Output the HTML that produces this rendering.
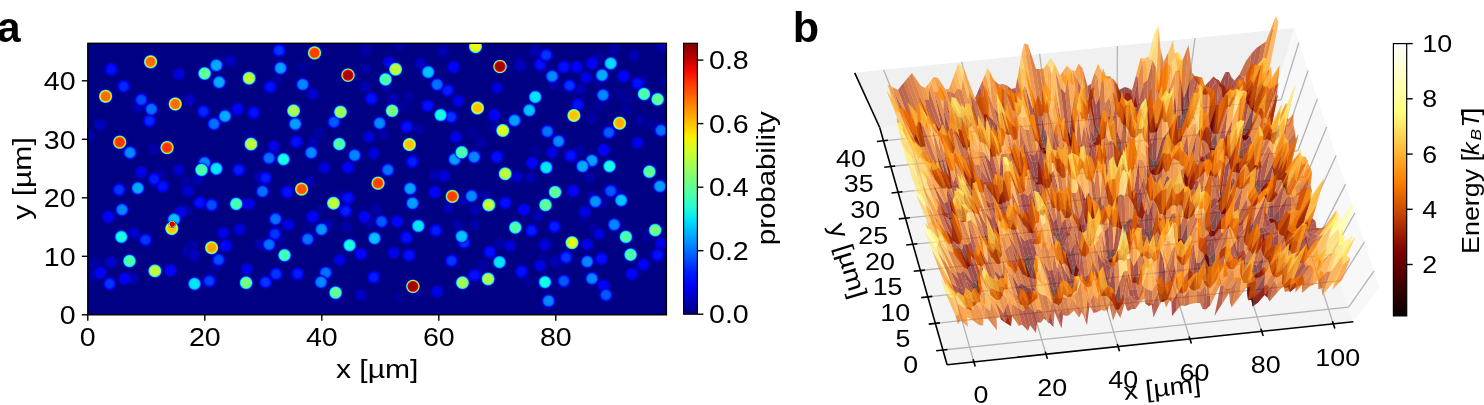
<!DOCTYPE html>
<html><head><meta charset="utf-8"><style>
html,body{margin:0;padding:0;background:#fff;}
svg{display:block;will-change:transform;}
text{font-family:"Liberation Sans",sans-serif;fill:#000;}
</style></head><body>
<svg width="1484" height="405" viewBox="0 0 1484 405">
<defs><radialGradient id="g0"><stop offset="0.000" stop-color="#0000b6" stop-opacity="1.00"/><stop offset="0.067" stop-color="#0000b6" stop-opacity="1.00"/><stop offset="0.133" stop-color="#0000b6" stop-opacity="1.00"/><stop offset="0.200" stop-color="#0000b6" stop-opacity="1.00"/><stop offset="0.267" stop-color="#0000b5" stop-opacity="1.00"/><stop offset="0.333" stop-color="#0000b4" stop-opacity="1.00"/><stop offset="0.400" stop-color="#0000b2" stop-opacity="1.00"/><stop offset="0.467" stop-color="#0000ae" stop-opacity="1.00"/><stop offset="0.533" stop-color="#0000a7" stop-opacity="1.00"/><stop offset="0.600" stop-color="#00009f" stop-opacity="1.00"/><stop offset="0.667" stop-color="#000096" stop-opacity="1.00"/><stop offset="0.733" stop-color="#00008d" stop-opacity="0.77"/><stop offset="0.800" stop-color="#000087" stop-opacity="0.42"/><stop offset="0.867" stop-color="#000083" stop-opacity="0.19"/><stop offset="0.933" stop-color="#000081" stop-opacity="0.08"/><stop offset="1.000" stop-color="#000080" stop-opacity="0.03"/></radialGradient><radialGradient id="g1"><stop offset="0.000" stop-color="#0000a8" stop-opacity="1.00"/><stop offset="0.067" stop-color="#0000a8" stop-opacity="1.00"/><stop offset="0.133" stop-color="#0000a8" stop-opacity="1.00"/><stop offset="0.200" stop-color="#0000a8" stop-opacity="1.00"/><stop offset="0.267" stop-color="#0000a8" stop-opacity="1.00"/><stop offset="0.333" stop-color="#0000a7" stop-opacity="1.00"/><stop offset="0.400" stop-color="#0000a5" stop-opacity="1.00"/><stop offset="0.467" stop-color="#0000a2" stop-opacity="1.00"/><stop offset="0.533" stop-color="#00009d" stop-opacity="1.00"/><stop offset="0.600" stop-color="#000097" stop-opacity="1.00"/><stop offset="0.667" stop-color="#000090" stop-opacity="1.00"/><stop offset="0.733" stop-color="#00008a" stop-opacity="0.76"/><stop offset="0.800" stop-color="#000085" stop-opacity="0.42"/><stop offset="0.867" stop-color="#000082" stop-opacity="0.20"/><stop offset="0.933" stop-color="#000081" stop-opacity="0.08"/><stop offset="1.000" stop-color="#000080" stop-opacity="0.03"/></radialGradient><radialGradient id="g2"><stop offset="0.000" stop-color="#00009b" stop-opacity="1.00"/><stop offset="0.067" stop-color="#00009b" stop-opacity="1.00"/><stop offset="0.133" stop-color="#00009b" stop-opacity="1.00"/><stop offset="0.200" stop-color="#00009b" stop-opacity="1.00"/><stop offset="0.267" stop-color="#00009a" stop-opacity="1.00"/><stop offset="0.333" stop-color="#00009a" stop-opacity="1.00"/><stop offset="0.400" stop-color="#000099" stop-opacity="1.00"/><stop offset="0.467" stop-color="#000096" stop-opacity="1.00"/><stop offset="0.533" stop-color="#000093" stop-opacity="1.00"/><stop offset="0.600" stop-color="#00008f" stop-opacity="1.00"/><stop offset="0.667" stop-color="#00008a" stop-opacity="1.00"/><stop offset="0.733" stop-color="#000086" stop-opacity="0.76"/><stop offset="0.800" stop-color="#000083" stop-opacity="0.42"/><stop offset="0.867" stop-color="#000081" stop-opacity="0.20"/><stop offset="0.933" stop-color="#000080" stop-opacity="0.08"/><stop offset="1.000" stop-color="#000080" stop-opacity="0.03"/></radialGradient><radialGradient id="g3"><stop offset="0.000" stop-color="#0000c3" stop-opacity="1.00"/><stop offset="0.067" stop-color="#0000c3" stop-opacity="1.00"/><stop offset="0.133" stop-color="#0000c3" stop-opacity="1.00"/><stop offset="0.200" stop-color="#0000c3" stop-opacity="1.00"/><stop offset="0.267" stop-color="#0000c3" stop-opacity="1.00"/><stop offset="0.333" stop-color="#0000c2" stop-opacity="1.00"/><stop offset="0.400" stop-color="#0000bf" stop-opacity="1.00"/><stop offset="0.467" stop-color="#0000ba" stop-opacity="1.00"/><stop offset="0.533" stop-color="#0000b2" stop-opacity="1.00"/><stop offset="0.600" stop-color="#0000a7" stop-opacity="1.00"/><stop offset="0.667" stop-color="#00009c" stop-opacity="1.00"/><stop offset="0.733" stop-color="#000091" stop-opacity="0.77"/><stop offset="0.800" stop-color="#000089" stop-opacity="0.41"/><stop offset="0.867" stop-color="#000084" stop-opacity="0.19"/><stop offset="0.933" stop-color="#000081" stop-opacity="0.08"/><stop offset="1.000" stop-color="#000080" stop-opacity="0.03"/></radialGradient><radialGradient id="g4"><stop offset="0.000" stop-color="#0000d1" stop-opacity="1.00"/><stop offset="0.067" stop-color="#0000d1" stop-opacity="1.00"/><stop offset="0.133" stop-color="#0000d1" stop-opacity="1.00"/><stop offset="0.200" stop-color="#0000d1" stop-opacity="1.00"/><stop offset="0.267" stop-color="#0000d0" stop-opacity="1.00"/><stop offset="0.333" stop-color="#0000cf" stop-opacity="1.00"/><stop offset="0.400" stop-color="#0000cc" stop-opacity="1.00"/><stop offset="0.467" stop-color="#0000c6" stop-opacity="1.00"/><stop offset="0.533" stop-color="#0000bd" stop-opacity="1.00"/><stop offset="0.600" stop-color="#0000b0" stop-opacity="1.00"/><stop offset="0.667" stop-color="#0000a2" stop-opacity="1.00"/><stop offset="0.733" stop-color="#000095" stop-opacity="0.78"/><stop offset="0.800" stop-color="#00008b" stop-opacity="0.41"/><stop offset="0.867" stop-color="#000085" stop-opacity="0.19"/><stop offset="0.933" stop-color="#000081" stop-opacity="0.07"/><stop offset="1.000" stop-color="#000080" stop-opacity="0.02"/></radialGradient><radialGradient id="g5"><stop offset="0.000" stop-color="#0000df" stop-opacity="1.00"/><stop offset="0.067" stop-color="#0000df" stop-opacity="1.00"/><stop offset="0.133" stop-color="#0000df" stop-opacity="1.00"/><stop offset="0.200" stop-color="#0000de" stop-opacity="1.00"/><stop offset="0.267" stop-color="#0000de" stop-opacity="1.00"/><stop offset="0.333" stop-color="#0000dd" stop-opacity="1.00"/><stop offset="0.400" stop-color="#0000d9" stop-opacity="1.00"/><stop offset="0.467" stop-color="#0000d3" stop-opacity="1.00"/><stop offset="0.533" stop-color="#0000c8" stop-opacity="1.00"/><stop offset="0.600" stop-color="#0000b9" stop-opacity="1.00"/><stop offset="0.667" stop-color="#0000a8" stop-opacity="1.00"/><stop offset="0.733" stop-color="#000098" stop-opacity="0.78"/><stop offset="0.800" stop-color="#00008d" stop-opacity="0.41"/><stop offset="0.867" stop-color="#000085" stop-opacity="0.18"/><stop offset="0.933" stop-color="#000082" stop-opacity="0.07"/><stop offset="1.000" stop-color="#000080" stop-opacity="0.02"/></radialGradient><radialGradient id="g6"><stop offset="0.000" stop-color="#0000ec" stop-opacity="1.00"/><stop offset="0.067" stop-color="#0000ec" stop-opacity="1.00"/><stop offset="0.133" stop-color="#0000ec" stop-opacity="1.00"/><stop offset="0.200" stop-color="#0000ec" stop-opacity="1.00"/><stop offset="0.267" stop-color="#0000ec" stop-opacity="1.00"/><stop offset="0.333" stop-color="#0000ea" stop-opacity="1.00"/><stop offset="0.400" stop-color="#0000e7" stop-opacity="1.00"/><stop offset="0.467" stop-color="#0000df" stop-opacity="1.00"/><stop offset="0.533" stop-color="#0000d3" stop-opacity="1.00"/><stop offset="0.600" stop-color="#0000c2" stop-opacity="1.00"/><stop offset="0.667" stop-color="#0000ae" stop-opacity="1.00"/><stop offset="0.733" stop-color="#00009c" stop-opacity="0.78"/><stop offset="0.800" stop-color="#00008e" stop-opacity="0.41"/><stop offset="0.867" stop-color="#000086" stop-opacity="0.18"/><stop offset="0.933" stop-color="#000082" stop-opacity="0.07"/><stop offset="1.000" stop-color="#000080" stop-opacity="0.02"/></radialGradient><radialGradient id="g7"><stop offset="0.000" stop-color="#0000ff" stop-opacity="1.00"/><stop offset="0.067" stop-color="#0000ff" stop-opacity="1.00"/><stop offset="0.133" stop-color="#0000ff" stop-opacity="1.00"/><stop offset="0.200" stop-color="#0000ff" stop-opacity="1.00"/><stop offset="0.267" stop-color="#0000ff" stop-opacity="1.00"/><stop offset="0.333" stop-color="#0000ff" stop-opacity="1.00"/><stop offset="0.400" stop-color="#0000ff" stop-opacity="1.00"/><stop offset="0.467" stop-color="#0000f9" stop-opacity="1.00"/><stop offset="0.533" stop-color="#0000ea" stop-opacity="1.00"/><stop offset="0.600" stop-color="#0000d4" stop-opacity="1.00"/><stop offset="0.667" stop-color="#0000bb" stop-opacity="1.00"/><stop offset="0.733" stop-color="#0000a3" stop-opacity="0.79"/><stop offset="0.800" stop-color="#000092" stop-opacity="0.41"/><stop offset="0.867" stop-color="#000087" stop-opacity="0.17"/><stop offset="0.933" stop-color="#000082" stop-opacity="0.06"/><stop offset="1.000" stop-color="#000080" stop-opacity="0.02"/></radialGradient><radialGradient id="g8"><stop offset="0.000" stop-color="#0010ff" stop-opacity="1.00"/><stop offset="0.067" stop-color="#0010ff" stop-opacity="1.00"/><stop offset="0.133" stop-color="#0010ff" stop-opacity="1.00"/><stop offset="0.200" stop-color="#0010ff" stop-opacity="1.00"/><stop offset="0.267" stop-color="#0010ff" stop-opacity="1.00"/><stop offset="0.333" stop-color="#000eff" stop-opacity="1.00"/><stop offset="0.400" stop-color="#000bff" stop-opacity="1.00"/><stop offset="0.467" stop-color="#0003ff" stop-opacity="1.00"/><stop offset="0.533" stop-color="#0000ff" stop-opacity="1.00"/><stop offset="0.600" stop-color="#0000e8" stop-opacity="1.00"/><stop offset="0.667" stop-color="#0000c9" stop-opacity="1.00"/><stop offset="0.733" stop-color="#0000ab" stop-opacity="0.81"/><stop offset="0.800" stop-color="#000095" stop-opacity="0.40"/><stop offset="0.867" stop-color="#000089" stop-opacity="0.17"/><stop offset="0.933" stop-color="#000083" stop-opacity="0.06"/><stop offset="1.000" stop-color="#000080" stop-opacity="0.02"/></radialGradient><radialGradient id="g9"><stop offset="0.000" stop-color="#001cff" stop-opacity="1.00"/><stop offset="0.067" stop-color="#001cff" stop-opacity="1.00"/><stop offset="0.133" stop-color="#001cff" stop-opacity="1.00"/><stop offset="0.200" stop-color="#001cff" stop-opacity="1.00"/><stop offset="0.267" stop-color="#001cff" stop-opacity="1.00"/><stop offset="0.333" stop-color="#001bff" stop-opacity="1.00"/><stop offset="0.400" stop-color="#0017ff" stop-opacity="1.00"/><stop offset="0.467" stop-color="#000fff" stop-opacity="1.00"/><stop offset="0.533" stop-color="#0000ff" stop-opacity="1.00"/><stop offset="0.600" stop-color="#0000f2" stop-opacity="1.00"/><stop offset="0.667" stop-color="#0000d0" stop-opacity="1.00"/><stop offset="0.733" stop-color="#0000af" stop-opacity="0.81"/><stop offset="0.800" stop-color="#000097" stop-opacity="0.40"/><stop offset="0.867" stop-color="#000089" stop-opacity="0.16"/><stop offset="0.933" stop-color="#000083" stop-opacity="0.05"/><stop offset="1.000" stop-color="#000080" stop-opacity="0.01"/></radialGradient><radialGradient id="g10"><stop offset="0.000" stop-color="#0028ff" stop-opacity="1.00"/><stop offset="0.067" stop-color="#0028ff" stop-opacity="1.00"/><stop offset="0.133" stop-color="#0028ff" stop-opacity="1.00"/><stop offset="0.200" stop-color="#0028ff" stop-opacity="1.00"/><stop offset="0.267" stop-color="#0028ff" stop-opacity="1.00"/><stop offset="0.333" stop-color="#0027ff" stop-opacity="1.00"/><stop offset="0.400" stop-color="#0023ff" stop-opacity="1.00"/><stop offset="0.467" stop-color="#001bff" stop-opacity="1.00"/><stop offset="0.533" stop-color="#000aff" stop-opacity="1.00"/><stop offset="0.600" stop-color="#0000fc" stop-opacity="1.00"/><stop offset="0.667" stop-color="#0000d7" stop-opacity="1.00"/><stop offset="0.733" stop-color="#0000b3" stop-opacity="0.82"/><stop offset="0.800" stop-color="#000099" stop-opacity="0.40"/><stop offset="0.867" stop-color="#00008a" stop-opacity="0.16"/><stop offset="0.933" stop-color="#000083" stop-opacity="0.05"/><stop offset="1.000" stop-color="#000080" stop-opacity="0.01"/></radialGradient><radialGradient id="g11"><stop offset="0.000" stop-color="#0034ff" stop-opacity="1.00"/><stop offset="0.067" stop-color="#0034ff" stop-opacity="1.00"/><stop offset="0.133" stop-color="#0034ff" stop-opacity="1.00"/><stop offset="0.200" stop-color="#0034ff" stop-opacity="1.00"/><stop offset="0.267" stop-color="#0034ff" stop-opacity="1.00"/><stop offset="0.333" stop-color="#0033ff" stop-opacity="1.00"/><stop offset="0.400" stop-color="#0030ff" stop-opacity="1.00"/><stop offset="0.467" stop-color="#0027ff" stop-opacity="1.00"/><stop offset="0.533" stop-color="#0015ff" stop-opacity="1.00"/><stop offset="0.600" stop-color="#0000ff" stop-opacity="1.00"/><stop offset="0.667" stop-color="#0000de" stop-opacity="1.00"/><stop offset="0.733" stop-color="#0000b7" stop-opacity="0.82"/><stop offset="0.800" stop-color="#00009b" stop-opacity="0.40"/><stop offset="0.867" stop-color="#00008a" stop-opacity="0.16"/><stop offset="0.933" stop-color="#000083" stop-opacity="0.05"/><stop offset="1.000" stop-color="#000080" stop-opacity="0.01"/></radialGradient><radialGradient id="g12"><stop offset="0.000" stop-color="#0040ff" stop-opacity="1.00"/><stop offset="0.067" stop-color="#0040ff" stop-opacity="1.00"/><stop offset="0.133" stop-color="#0040ff" stop-opacity="1.00"/><stop offset="0.200" stop-color="#0040ff" stop-opacity="1.00"/><stop offset="0.267" stop-color="#0040ff" stop-opacity="1.00"/><stop offset="0.333" stop-color="#003fff" stop-opacity="1.00"/><stop offset="0.400" stop-color="#003cff" stop-opacity="1.00"/><stop offset="0.467" stop-color="#0033ff" stop-opacity="1.00"/><stop offset="0.533" stop-color="#0020ff" stop-opacity="1.00"/><stop offset="0.600" stop-color="#0002ff" stop-opacity="1.00"/><stop offset="0.667" stop-color="#0000e6" stop-opacity="1.00"/><stop offset="0.733" stop-color="#0000bc" stop-opacity="0.83"/><stop offset="0.800" stop-color="#00009c" stop-opacity="0.40"/><stop offset="0.867" stop-color="#00008a" stop-opacity="0.15"/><stop offset="0.933" stop-color="#000083" stop-opacity="0.05"/><stop offset="1.000" stop-color="#000080" stop-opacity="0.01"/></radialGradient><radialGradient id="g13"><stop offset="0.000" stop-color="#004cff" stop-opacity="1.00"/><stop offset="0.067" stop-color="#004cff" stop-opacity="1.00"/><stop offset="0.133" stop-color="#004cff" stop-opacity="1.00"/><stop offset="0.200" stop-color="#004cff" stop-opacity="1.00"/><stop offset="0.267" stop-color="#004cff" stop-opacity="1.00"/><stop offset="0.333" stop-color="#004bff" stop-opacity="1.00"/><stop offset="0.400" stop-color="#0048ff" stop-opacity="1.00"/><stop offset="0.467" stop-color="#003fff" stop-opacity="1.00"/><stop offset="0.533" stop-color="#002cff" stop-opacity="1.00"/><stop offset="0.600" stop-color="#000cff" stop-opacity="1.00"/><stop offset="0.667" stop-color="#0000ee" stop-opacity="1.00"/><stop offset="0.733" stop-color="#0000c0" stop-opacity="0.84"/><stop offset="0.800" stop-color="#00009e" stop-opacity="0.39"/><stop offset="0.867" stop-color="#00008b" stop-opacity="0.15"/><stop offset="0.933" stop-color="#000083" stop-opacity="0.04"/><stop offset="1.000" stop-color="#000080" stop-opacity="0.01"/></radialGradient><radialGradient id="g14"><stop offset="0.000" stop-color="#0058ff" stop-opacity="1.00"/><stop offset="0.067" stop-color="#0058ff" stop-opacity="1.00"/><stop offset="0.133" stop-color="#0058ff" stop-opacity="1.00"/><stop offset="0.200" stop-color="#0058ff" stop-opacity="1.00"/><stop offset="0.267" stop-color="#0058ff" stop-opacity="1.00"/><stop offset="0.333" stop-color="#0057ff" stop-opacity="1.00"/><stop offset="0.400" stop-color="#0054ff" stop-opacity="1.00"/><stop offset="0.467" stop-color="#004cff" stop-opacity="1.00"/><stop offset="0.533" stop-color="#0038ff" stop-opacity="1.00"/><stop offset="0.600" stop-color="#0016ff" stop-opacity="1.00"/><stop offset="0.667" stop-color="#0000f6" stop-opacity="1.00"/><stop offset="0.733" stop-color="#0000c4" stop-opacity="0.84"/><stop offset="0.800" stop-color="#00009f" stop-opacity="0.39"/><stop offset="0.867" stop-color="#00008b" stop-opacity="0.14"/><stop offset="0.933" stop-color="#000083" stop-opacity="0.04"/><stop offset="1.000" stop-color="#000080" stop-opacity="0.01"/></radialGradient><radialGradient id="g15"><stop offset="0.000" stop-color="#0070ff" stop-opacity="1.00"/><stop offset="0.067" stop-color="#0070ff" stop-opacity="1.00"/><stop offset="0.133" stop-color="#0070ff" stop-opacity="1.00"/><stop offset="0.200" stop-color="#0070ff" stop-opacity="1.00"/><stop offset="0.267" stop-color="#0070ff" stop-opacity="1.00"/><stop offset="0.333" stop-color="#006fff" stop-opacity="1.00"/><stop offset="0.400" stop-color="#006dff" stop-opacity="1.00"/><stop offset="0.467" stop-color="#0065ff" stop-opacity="1.00"/><stop offset="0.533" stop-color="#0051ff" stop-opacity="1.00"/><stop offset="0.600" stop-color="#002bff" stop-opacity="1.00"/><stop offset="0.667" stop-color="#0000ff" stop-opacity="1.00"/><stop offset="0.733" stop-color="#0000cd" stop-opacity="0.86"/><stop offset="0.800" stop-color="#0000a3" stop-opacity="0.39"/><stop offset="0.867" stop-color="#00008c" stop-opacity="0.13"/><stop offset="0.933" stop-color="#000083" stop-opacity="0.04"/><stop offset="1.000" stop-color="#000080" stop-opacity="0.01"/></radialGradient><radialGradient id="g16"><stop offset="0.000" stop-color="#0088ff" stop-opacity="1.00"/><stop offset="0.067" stop-color="#0088ff" stop-opacity="1.00"/><stop offset="0.133" stop-color="#0088ff" stop-opacity="1.00"/><stop offset="0.200" stop-color="#0088ff" stop-opacity="1.00"/><stop offset="0.267" stop-color="#0088ff" stop-opacity="1.00"/><stop offset="0.333" stop-color="#0087ff" stop-opacity="1.00"/><stop offset="0.400" stop-color="#0085ff" stop-opacity="1.00"/><stop offset="0.467" stop-color="#007eff" stop-opacity="1.00"/><stop offset="0.533" stop-color="#006aff" stop-opacity="1.00"/><stop offset="0.600" stop-color="#0042ff" stop-opacity="1.00"/><stop offset="0.667" stop-color="#0008ff" stop-opacity="1.00"/><stop offset="0.733" stop-color="#0000d7" stop-opacity="0.87"/><stop offset="0.800" stop-color="#0000a6" stop-opacity="0.38"/><stop offset="0.867" stop-color="#00008c" stop-opacity="0.13"/><stop offset="0.933" stop-color="#000083" stop-opacity="0.03"/><stop offset="1.000" stop-color="#000080" stop-opacity="0.01"/></radialGradient><radialGradient id="g17"><stop offset="0.000" stop-color="#0094ff" stop-opacity="1.00"/><stop offset="0.067" stop-color="#0094ff" stop-opacity="1.00"/><stop offset="0.133" stop-color="#0094ff" stop-opacity="1.00"/><stop offset="0.200" stop-color="#0094ff" stop-opacity="1.00"/><stop offset="0.267" stop-color="#0093ff" stop-opacity="1.00"/><stop offset="0.333" stop-color="#0093ff" stop-opacity="1.00"/><stop offset="0.400" stop-color="#0092ff" stop-opacity="1.00"/><stop offset="0.467" stop-color="#008bff" stop-opacity="1.00"/><stop offset="0.533" stop-color="#0077ff" stop-opacity="1.00"/><stop offset="0.600" stop-color="#004eff" stop-opacity="1.00"/><stop offset="0.667" stop-color="#0011ff" stop-opacity="1.00"/><stop offset="0.733" stop-color="#0000db" stop-opacity="0.88"/><stop offset="0.800" stop-color="#0000a7" stop-opacity="0.38"/><stop offset="0.867" stop-color="#00008c" stop-opacity="0.12"/><stop offset="0.933" stop-color="#000082" stop-opacity="0.03"/><stop offset="1.000" stop-color="#000080" stop-opacity="0.00"/></radialGradient><radialGradient id="g18"><stop offset="0.000" stop-color="#009fff" stop-opacity="1.00"/><stop offset="0.067" stop-color="#009fff" stop-opacity="1.00"/><stop offset="0.133" stop-color="#009fff" stop-opacity="1.00"/><stop offset="0.200" stop-color="#009fff" stop-opacity="1.00"/><stop offset="0.267" stop-color="#009fff" stop-opacity="1.00"/><stop offset="0.333" stop-color="#009fff" stop-opacity="1.00"/><stop offset="0.400" stop-color="#009eff" stop-opacity="1.00"/><stop offset="0.467" stop-color="#0098ff" stop-opacity="1.00"/><stop offset="0.533" stop-color="#0084ff" stop-opacity="1.00"/><stop offset="0.600" stop-color="#005aff" stop-opacity="1.00"/><stop offset="0.667" stop-color="#0019ff" stop-opacity="1.00"/><stop offset="0.733" stop-color="#0000e0" stop-opacity="0.89"/><stop offset="0.800" stop-color="#0000a8" stop-opacity="0.38"/><stop offset="0.867" stop-color="#00008c" stop-opacity="0.12"/><stop offset="0.933" stop-color="#000082" stop-opacity="0.03"/><stop offset="1.000" stop-color="#000080" stop-opacity="0.00"/></radialGradient><radialGradient id="g19"><stop offset="0.000" stop-color="#00abff" stop-opacity="1.00"/><stop offset="0.067" stop-color="#00abff" stop-opacity="1.00"/><stop offset="0.133" stop-color="#00abff" stop-opacity="1.00"/><stop offset="0.200" stop-color="#00abff" stop-opacity="1.00"/><stop offset="0.267" stop-color="#00abff" stop-opacity="1.00"/><stop offset="0.333" stop-color="#00abff" stop-opacity="1.00"/><stop offset="0.400" stop-color="#00aaff" stop-opacity="1.00"/><stop offset="0.467" stop-color="#00a4ff" stop-opacity="1.00"/><stop offset="0.533" stop-color="#0092ff" stop-opacity="1.00"/><stop offset="0.600" stop-color="#0066ff" stop-opacity="1.00"/><stop offset="0.667" stop-color="#0022ff" stop-opacity="1.00"/><stop offset="0.733" stop-color="#0000e5" stop-opacity="0.90"/><stop offset="0.800" stop-color="#0000aa" stop-opacity="0.37"/><stop offset="0.867" stop-color="#00008c" stop-opacity="0.11"/><stop offset="0.933" stop-color="#000082" stop-opacity="0.02"/><stop offset="1.000" stop-color="#000080" stop-opacity="0.00"/></radialGradient><radialGradient id="g20"><stop offset="0.000" stop-color="#00c3ff" stop-opacity="1.00"/><stop offset="0.067" stop-color="#00c3ff" stop-opacity="1.00"/><stop offset="0.133" stop-color="#00c3ff" stop-opacity="1.00"/><stop offset="0.200" stop-color="#00c3ff" stop-opacity="1.00"/><stop offset="0.267" stop-color="#00c3ff" stop-opacity="1.00"/><stop offset="0.333" stop-color="#00c3ff" stop-opacity="1.00"/><stop offset="0.400" stop-color="#00c2ff" stop-opacity="1.00"/><stop offset="0.467" stop-color="#00beff" stop-opacity="1.00"/><stop offset="0.533" stop-color="#00acff" stop-opacity="1.00"/><stop offset="0.600" stop-color="#0080ff" stop-opacity="1.00"/><stop offset="0.667" stop-color="#0036ff" stop-opacity="1.00"/><stop offset="0.733" stop-color="#0000f0" stop-opacity="0.92"/><stop offset="0.800" stop-color="#0000ac" stop-opacity="0.37"/><stop offset="0.867" stop-color="#00008c" stop-opacity="0.10"/><stop offset="0.933" stop-color="#000082" stop-opacity="0.02"/><stop offset="1.000" stop-color="#000080" stop-opacity="0.00"/></radialGradient><radialGradient id="g21"><stop offset="0.000" stop-color="#00dbff" stop-opacity="1.00"/><stop offset="0.067" stop-color="#00dbff" stop-opacity="1.00"/><stop offset="0.133" stop-color="#00dbff" stop-opacity="1.00"/><stop offset="0.200" stop-color="#00dbff" stop-opacity="1.00"/><stop offset="0.267" stop-color="#00dbff" stop-opacity="1.00"/><stop offset="0.333" stop-color="#00dbff" stop-opacity="1.00"/><stop offset="0.400" stop-color="#00dbff" stop-opacity="1.00"/><stop offset="0.467" stop-color="#00d7ff" stop-opacity="1.00"/><stop offset="0.533" stop-color="#00c8ff" stop-opacity="1.00"/><stop offset="0.600" stop-color="#009bff" stop-opacity="1.00"/><stop offset="0.667" stop-color="#004aff" stop-opacity="1.00"/><stop offset="0.733" stop-color="#0000fb" stop-opacity="0.94"/><stop offset="0.800" stop-color="#0000af" stop-opacity="0.36"/><stop offset="0.867" stop-color="#00008c" stop-opacity="0.09"/><stop offset="0.933" stop-color="#000082" stop-opacity="0.02"/><stop offset="1.000" stop-color="#000080" stop-opacity="0.00"/></radialGradient><radialGradient id="g22"><stop offset="0.000" stop-color="#01e7f5" stop-opacity="1.00"/><stop offset="0.067" stop-color="#01e7f5" stop-opacity="1.00"/><stop offset="0.133" stop-color="#01e7f5" stop-opacity="1.00"/><stop offset="0.200" stop-color="#01e7f5" stop-opacity="1.00"/><stop offset="0.267" stop-color="#01e7f5" stop-opacity="1.00"/><stop offset="0.333" stop-color="#01e7f5" stop-opacity="1.00"/><stop offset="0.400" stop-color="#01e7f6" stop-opacity="1.00"/><stop offset="0.467" stop-color="#00e4f8" stop-opacity="1.00"/><stop offset="0.533" stop-color="#00d5ff" stop-opacity="1.00"/><stop offset="0.600" stop-color="#00a9ff" stop-opacity="1.00"/><stop offset="0.667" stop-color="#0055ff" stop-opacity="1.00"/><stop offset="0.733" stop-color="#0000ff" stop-opacity="0.96"/><stop offset="0.800" stop-color="#0000b0" stop-opacity="0.36"/><stop offset="0.867" stop-color="#00008c" stop-opacity="0.09"/><stop offset="0.933" stop-color="#000081" stop-opacity="0.01"/><stop offset="1.000" stop-color="#000080" stop-opacity="0.00"/></radialGradient><radialGradient id="g23"><stop offset="0.000" stop-color="#15ffe2" stop-opacity="1.00"/><stop offset="0.067" stop-color="#15ffe2" stop-opacity="1.00"/><stop offset="0.133" stop-color="#15ffe2" stop-opacity="1.00"/><stop offset="0.200" stop-color="#15ffe2" stop-opacity="1.00"/><stop offset="0.267" stop-color="#15ffe2" stop-opacity="1.00"/><stop offset="0.333" stop-color="#15ffe2" stop-opacity="1.00"/><stop offset="0.400" stop-color="#14ffe2" stop-opacity="1.00"/><stop offset="0.467" stop-color="#12fce5" stop-opacity="1.00"/><stop offset="0.533" stop-color="#05ecf1" stop-opacity="1.00"/><stop offset="0.600" stop-color="#00bdff" stop-opacity="1.00"/><stop offset="0.667" stop-color="#0063ff" stop-opacity="1.00"/><stop offset="0.733" stop-color="#0000ff" stop-opacity="0.96"/><stop offset="0.800" stop-color="#0000b3" stop-opacity="0.36"/><stop offset="0.867" stop-color="#00008c" stop-opacity="0.09"/><stop offset="0.933" stop-color="#000082" stop-opacity="0.01"/><stop offset="1.000" stop-color="#000080" stop-opacity="0.00"/></radialGradient><radialGradient id="g24"><stop offset="0.000" stop-color="#45ffb2" stop-opacity="1.00"/><stop offset="0.067" stop-color="#45ffb2" stop-opacity="1.00"/><stop offset="0.133" stop-color="#45ffb2" stop-opacity="1.00"/><stop offset="0.200" stop-color="#45ffb2" stop-opacity="1.00"/><stop offset="0.267" stop-color="#45ffb2" stop-opacity="1.00"/><stop offset="0.333" stop-color="#45ffb2" stop-opacity="1.00"/><stop offset="0.400" stop-color="#45ffb2" stop-opacity="1.00"/><stop offset="0.467" stop-color="#42ffb5" stop-opacity="1.00"/><stop offset="0.533" stop-color="#33ffc4" stop-opacity="1.00"/><stop offset="0.600" stop-color="#07eef0" stop-opacity="1.00"/><stop offset="0.667" stop-color="#0087ff" stop-opacity="1.00"/><stop offset="0.733" stop-color="#000dff" stop-opacity="0.96"/><stop offset="0.800" stop-color="#0000bb" stop-opacity="0.36"/><stop offset="0.867" stop-color="#00008e" stop-opacity="0.09"/><stop offset="0.933" stop-color="#000082" stop-opacity="0.01"/><stop offset="1.000" stop-color="#000080" stop-opacity="0.00"/></radialGradient><radialGradient id="g25"><stop offset="0.000" stop-color="#4fffa8" stop-opacity="1.00"/><stop offset="0.067" stop-color="#4fffa8" stop-opacity="1.00"/><stop offset="0.133" stop-color="#4fffa8" stop-opacity="1.00"/><stop offset="0.200" stop-color="#4fffa8" stop-opacity="1.00"/><stop offset="0.267" stop-color="#4fffa8" stop-opacity="1.00"/><stop offset="0.333" stop-color="#4fffa8" stop-opacity="1.00"/><stop offset="0.400" stop-color="#4effa9" stop-opacity="1.00"/><stop offset="0.467" stop-color="#4bffac" stop-opacity="1.00"/><stop offset="0.533" stop-color="#3cffba" stop-opacity="1.00"/><stop offset="0.600" stop-color="#0ff8e8" stop-opacity="1.00"/><stop offset="0.667" stop-color="#008eff" stop-opacity="1.00"/><stop offset="0.733" stop-color="#0011ff" stop-opacity="0.96"/><stop offset="0.800" stop-color="#0000bd" stop-opacity="0.36"/><stop offset="0.867" stop-color="#00008f" stop-opacity="0.09"/><stop offset="0.933" stop-color="#000082" stop-opacity="0.01"/><stop offset="1.000" stop-color="#000080" stop-opacity="0.00"/></radialGradient><radialGradient id="g26"><stop offset="0.000" stop-color="#62ff95" stop-opacity="1.00"/><stop offset="0.067" stop-color="#62ff95" stop-opacity="1.00"/><stop offset="0.133" stop-color="#62ff95" stop-opacity="1.00"/><stop offset="0.200" stop-color="#62ff95" stop-opacity="1.00"/><stop offset="0.267" stop-color="#62ff95" stop-opacity="1.00"/><stop offset="0.333" stop-color="#62ff95" stop-opacity="1.00"/><stop offset="0.400" stop-color="#61ff95" stop-opacity="1.00"/><stop offset="0.467" stop-color="#5eff98" stop-opacity="1.00"/><stop offset="0.533" stop-color="#4fffa8" stop-opacity="1.00"/><stop offset="0.600" stop-color="#1fffd8" stop-opacity="1.00"/><stop offset="0.667" stop-color="#009cff" stop-opacity="1.00"/><stop offset="0.733" stop-color="#0019ff" stop-opacity="0.96"/><stop offset="0.800" stop-color="#0000c0" stop-opacity="0.36"/><stop offset="0.867" stop-color="#000090" stop-opacity="0.09"/><stop offset="0.933" stop-color="#000082" stop-opacity="0.01"/><stop offset="1.000" stop-color="#000080" stop-opacity="0.00"/></radialGradient><radialGradient id="g27"><stop offset="0.000" stop-color="#75ff82" stop-opacity="1.00"/><stop offset="0.067" stop-color="#75ff82" stop-opacity="1.00"/><stop offset="0.133" stop-color="#75ff82" stop-opacity="1.00"/><stop offset="0.200" stop-color="#75ff82" stop-opacity="1.00"/><stop offset="0.267" stop-color="#75ff82" stop-opacity="1.00"/><stop offset="0.333" stop-color="#75ff82" stop-opacity="1.00"/><stop offset="0.400" stop-color="#75ff82" stop-opacity="1.00"/><stop offset="0.467" stop-color="#71ff85" stop-opacity="1.00"/><stop offset="0.533" stop-color="#61ff96" stop-opacity="1.00"/><stop offset="0.600" stop-color="#2fffc8" stop-opacity="1.00"/><stop offset="0.667" stop-color="#00aaff" stop-opacity="1.00"/><stop offset="0.733" stop-color="#0021ff" stop-opacity="0.96"/><stop offset="0.800" stop-color="#0000c4" stop-opacity="0.36"/><stop offset="0.867" stop-color="#000090" stop-opacity="0.09"/><stop offset="0.933" stop-color="#000082" stop-opacity="0.01"/><stop offset="1.000" stop-color="#000080" stop-opacity="0.00"/></radialGradient><radialGradient id="g28"><stop offset="0.000" stop-color="#7fff78" stop-opacity="1.00"/><stop offset="0.067" stop-color="#7fff78" stop-opacity="1.00"/><stop offset="0.133" stop-color="#7fff78" stop-opacity="1.00"/><stop offset="0.200" stop-color="#7fff78" stop-opacity="1.00"/><stop offset="0.267" stop-color="#7fff78" stop-opacity="1.00"/><stop offset="0.333" stop-color="#7fff78" stop-opacity="1.00"/><stop offset="0.400" stop-color="#7eff78" stop-opacity="1.00"/><stop offset="0.467" stop-color="#7bff7c" stop-opacity="1.00"/><stop offset="0.533" stop-color="#6aff8d" stop-opacity="1.00"/><stop offset="0.600" stop-color="#37ffc0" stop-opacity="1.00"/><stop offset="0.667" stop-color="#00b1ff" stop-opacity="1.00"/><stop offset="0.733" stop-color="#0024ff" stop-opacity="0.96"/><stop offset="0.800" stop-color="#0000c5" stop-opacity="0.36"/><stop offset="0.867" stop-color="#000091" stop-opacity="0.09"/><stop offset="0.933" stop-color="#000082" stop-opacity="0.01"/><stop offset="1.000" stop-color="#000080" stop-opacity="0.00"/></radialGradient><radialGradient id="g29"><stop offset="0.000" stop-color="#a5ff51" stop-opacity="1.00"/><stop offset="0.067" stop-color="#a5ff51" stop-opacity="1.00"/><stop offset="0.133" stop-color="#a5ff51" stop-opacity="1.00"/><stop offset="0.200" stop-color="#a5ff51" stop-opacity="1.00"/><stop offset="0.267" stop-color="#a5ff51" stop-opacity="1.00"/><stop offset="0.333" stop-color="#a5ff51" stop-opacity="1.00"/><stop offset="0.400" stop-color="#a5ff52" stop-opacity="1.00"/><stop offset="0.467" stop-color="#a1ff56" stop-opacity="1.00"/><stop offset="0.533" stop-color="#8fff68" stop-opacity="1.00"/><stop offset="0.600" stop-color="#57ffa0" stop-opacity="1.00"/><stop offset="0.667" stop-color="#00ceff" stop-opacity="1.00"/><stop offset="0.733" stop-color="#0034ff" stop-opacity="0.96"/><stop offset="0.800" stop-color="#0000cc" stop-opacity="0.36"/><stop offset="0.867" stop-color="#000092" stop-opacity="0.09"/><stop offset="0.933" stop-color="#000083" stop-opacity="0.01"/><stop offset="1.000" stop-color="#000080" stop-opacity="0.00"/></radialGradient><radialGradient id="g30"><stop offset="0.000" stop-color="#afff48" stop-opacity="1.00"/><stop offset="0.067" stop-color="#afff48" stop-opacity="1.00"/><stop offset="0.133" stop-color="#afff48" stop-opacity="1.00"/><stop offset="0.200" stop-color="#afff48" stop-opacity="1.00"/><stop offset="0.267" stop-color="#afff48" stop-opacity="1.00"/><stop offset="0.333" stop-color="#afff48" stop-opacity="1.00"/><stop offset="0.400" stop-color="#aeff48" stop-opacity="1.00"/><stop offset="0.467" stop-color="#abff4c" stop-opacity="1.00"/><stop offset="0.533" stop-color="#98ff5f" stop-opacity="1.00"/><stop offset="0.600" stop-color="#5fff98" stop-opacity="1.00"/><stop offset="0.667" stop-color="#00d5ff" stop-opacity="1.00"/><stop offset="0.733" stop-color="#0037ff" stop-opacity="0.96"/><stop offset="0.800" stop-color="#0000cd" stop-opacity="0.36"/><stop offset="0.867" stop-color="#000093" stop-opacity="0.09"/><stop offset="0.933" stop-color="#000083" stop-opacity="0.01"/><stop offset="1.000" stop-color="#000080" stop-opacity="0.00"/></radialGradient><radialGradient id="g31"><stop offset="0.000" stop-color="#c2ff35" stop-opacity="1.00"/><stop offset="0.067" stop-color="#c2ff35" stop-opacity="1.00"/><stop offset="0.133" stop-color="#c2ff35" stop-opacity="1.00"/><stop offset="0.200" stop-color="#c2ff35" stop-opacity="1.00"/><stop offset="0.267" stop-color="#c2ff35" stop-opacity="1.00"/><stop offset="0.333" stop-color="#c2ff35" stop-opacity="1.00"/><stop offset="0.400" stop-color="#c2ff35" stop-opacity="1.00"/><stop offset="0.467" stop-color="#beff39" stop-opacity="1.00"/><stop offset="0.533" stop-color="#aaff4c" stop-opacity="1.00"/><stop offset="0.600" stop-color="#6fff88" stop-opacity="1.00"/><stop offset="0.667" stop-color="#00e3f9" stop-opacity="1.00"/><stop offset="0.733" stop-color="#003fff" stop-opacity="0.96"/><stop offset="0.800" stop-color="#0000d1" stop-opacity="0.36"/><stop offset="0.867" stop-color="#000094" stop-opacity="0.09"/><stop offset="0.933" stop-color="#000083" stop-opacity="0.01"/><stop offset="1.000" stop-color="#000080" stop-opacity="0.00"/></radialGradient><radialGradient id="g32"><stop offset="0.000" stop-color="#dfff18" stop-opacity="1.00"/><stop offset="0.067" stop-color="#dfff18" stop-opacity="1.00"/><stop offset="0.133" stop-color="#dfff18" stop-opacity="1.00"/><stop offset="0.200" stop-color="#dfff18" stop-opacity="1.00"/><stop offset="0.267" stop-color="#dfff18" stop-opacity="1.00"/><stop offset="0.333" stop-color="#dfff18" stop-opacity="1.00"/><stop offset="0.400" stop-color="#dfff18" stop-opacity="1.00"/><stop offset="0.467" stop-color="#daff1c" stop-opacity="1.00"/><stop offset="0.533" stop-color="#c6ff31" stop-opacity="1.00"/><stop offset="0.600" stop-color="#87ff70" stop-opacity="1.00"/><stop offset="0.667" stop-color="#0ff8e8" stop-opacity="1.00"/><stop offset="0.733" stop-color="#004aff" stop-opacity="0.96"/><stop offset="0.800" stop-color="#0000d5" stop-opacity="0.36"/><stop offset="0.867" stop-color="#000095" stop-opacity="0.09"/><stop offset="0.933" stop-color="#000083" stop-opacity="0.01"/><stop offset="1.000" stop-color="#000080" stop-opacity="0.00"/></radialGradient><radialGradient id="g33"><stop offset="0.000" stop-color="#f2fa04" stop-opacity="1.00"/><stop offset="0.067" stop-color="#f2fa04" stop-opacity="1.00"/><stop offset="0.133" stop-color="#f2fa04" stop-opacity="1.00"/><stop offset="0.200" stop-color="#f2fa04" stop-opacity="1.00"/><stop offset="0.267" stop-color="#f2fa04" stop-opacity="1.00"/><stop offset="0.333" stop-color="#f2fb04" stop-opacity="1.00"/><stop offset="0.400" stop-color="#f2fb05" stop-opacity="1.00"/><stop offset="0.467" stop-color="#eeff09" stop-opacity="1.00"/><stop offset="0.533" stop-color="#d8ff1f" stop-opacity="1.00"/><stop offset="0.600" stop-color="#97ff60" stop-opacity="1.00"/><stop offset="0.667" stop-color="#1bffdc" stop-opacity="1.00"/><stop offset="0.733" stop-color="#0052ff" stop-opacity="0.96"/><stop offset="0.800" stop-color="#0000d9" stop-opacity="0.36"/><stop offset="0.867" stop-color="#000096" stop-opacity="0.09"/><stop offset="0.933" stop-color="#000083" stop-opacity="0.01"/><stop offset="1.000" stop-color="#000080" stop-opacity="0.00"/></radialGradient><radialGradient id="g34"><stop offset="0.000" stop-color="#ffc300" stop-opacity="1.00"/><stop offset="0.067" stop-color="#ffc300" stop-opacity="1.00"/><stop offset="0.133" stop-color="#ffc300" stop-opacity="1.00"/><stop offset="0.200" stop-color="#ffc300" stop-opacity="1.00"/><stop offset="0.267" stop-color="#ffc300" stop-opacity="1.00"/><stop offset="0.333" stop-color="#ffc300" stop-opacity="1.00"/><stop offset="0.400" stop-color="#ffc400" stop-opacity="1.00"/><stop offset="0.467" stop-color="#ffc900" stop-opacity="1.00"/><stop offset="0.533" stop-color="#ffe400" stop-opacity="1.00"/><stop offset="0.600" stop-color="#bfff38" stop-opacity="1.00"/><stop offset="0.667" stop-color="#37ffbf" stop-opacity="1.00"/><stop offset="0.733" stop-color="#0065ff" stop-opacity="0.96"/><stop offset="0.800" stop-color="#0000e1" stop-opacity="0.36"/><stop offset="0.867" stop-color="#000098" stop-opacity="0.09"/><stop offset="0.933" stop-color="#000083" stop-opacity="0.01"/><stop offset="1.000" stop-color="#000080" stop-opacity="0.00"/></radialGradient><radialGradient id="g35"><stop offset="0.000" stop-color="#ffad00" stop-opacity="1.00"/><stop offset="0.067" stop-color="#ffad00" stop-opacity="1.00"/><stop offset="0.133" stop-color="#ffad00" stop-opacity="1.00"/><stop offset="0.200" stop-color="#ffad00" stop-opacity="1.00"/><stop offset="0.267" stop-color="#ffad00" stop-opacity="1.00"/><stop offset="0.333" stop-color="#ffad00" stop-opacity="1.00"/><stop offset="0.400" stop-color="#ffae00" stop-opacity="1.00"/><stop offset="0.467" stop-color="#ffb300" stop-opacity="1.00"/><stop offset="0.533" stop-color="#ffcf00" stop-opacity="1.00"/><stop offset="0.600" stop-color="#cfff28" stop-opacity="1.00"/><stop offset="0.667" stop-color="#43ffb4" stop-opacity="1.00"/><stop offset="0.733" stop-color="#006dff" stop-opacity="0.96"/><stop offset="0.800" stop-color="#0000e4" stop-opacity="0.36"/><stop offset="0.867" stop-color="#000098" stop-opacity="0.09"/><stop offset="0.933" stop-color="#000084" stop-opacity="0.01"/><stop offset="1.000" stop-color="#000080" stop-opacity="0.00"/></radialGradient><radialGradient id="g36"><stop offset="0.000" stop-color="#ffa200" stop-opacity="1.00"/><stop offset="0.067" stop-color="#ffa200" stop-opacity="1.00"/><stop offset="0.133" stop-color="#ffa200" stop-opacity="1.00"/><stop offset="0.200" stop-color="#ffa200" stop-opacity="1.00"/><stop offset="0.267" stop-color="#ffa200" stop-opacity="1.00"/><stop offset="0.333" stop-color="#ffa200" stop-opacity="1.00"/><stop offset="0.400" stop-color="#ffa300" stop-opacity="1.00"/><stop offset="0.467" stop-color="#ffa800" stop-opacity="1.00"/><stop offset="0.533" stop-color="#ffc400" stop-opacity="1.00"/><stop offset="0.600" stop-color="#d7ff20" stop-opacity="1.00"/><stop offset="0.667" stop-color="#48ffae" stop-opacity="1.00"/><stop offset="0.733" stop-color="#0071ff" stop-opacity="0.96"/><stop offset="0.800" stop-color="#0000e6" stop-opacity="0.36"/><stop offset="0.867" stop-color="#000099" stop-opacity="0.09"/><stop offset="0.933" stop-color="#000084" stop-opacity="0.01"/><stop offset="1.000" stop-color="#000080" stop-opacity="0.00"/></radialGradient><radialGradient id="g37"><stop offset="0.000" stop-color="#ff6b00" stop-opacity="1.00"/><stop offset="0.067" stop-color="#ff6b00" stop-opacity="1.00"/><stop offset="0.133" stop-color="#ff6b00" stop-opacity="1.00"/><stop offset="0.200" stop-color="#ff6b00" stop-opacity="1.00"/><stop offset="0.267" stop-color="#ff6b00" stop-opacity="1.00"/><stop offset="0.333" stop-color="#ff6b00" stop-opacity="1.00"/><stop offset="0.400" stop-color="#ff6b00" stop-opacity="1.00"/><stop offset="0.467" stop-color="#ff7100" stop-opacity="1.00"/><stop offset="0.533" stop-color="#ff9000" stop-opacity="1.00"/><stop offset="0.600" stop-color="#feed00" stop-opacity="1.00"/><stop offset="0.667" stop-color="#65ff92" stop-opacity="1.00"/><stop offset="0.733" stop-color="#0084ff" stop-opacity="0.96"/><stop offset="0.800" stop-color="#0000ee" stop-opacity="0.36"/><stop offset="0.867" stop-color="#00009b" stop-opacity="0.09"/><stop offset="0.933" stop-color="#000084" stop-opacity="0.01"/><stop offset="1.000" stop-color="#000080" stop-opacity="0.00"/></radialGradient><radialGradient id="g38"><stop offset="0.000" stop-color="#ff5400" stop-opacity="1.00"/><stop offset="0.067" stop-color="#ff5400" stop-opacity="1.00"/><stop offset="0.133" stop-color="#ff5400" stop-opacity="1.00"/><stop offset="0.200" stop-color="#ff5400" stop-opacity="1.00"/><stop offset="0.267" stop-color="#ff5400" stop-opacity="1.00"/><stop offset="0.333" stop-color="#ff5400" stop-opacity="1.00"/><stop offset="0.400" stop-color="#ff5500" stop-opacity="1.00"/><stop offset="0.467" stop-color="#ff5c00" stop-opacity="1.00"/><stop offset="0.533" stop-color="#ff7b00" stop-opacity="1.00"/><stop offset="0.600" stop-color="#ffda00" stop-opacity="1.00"/><stop offset="0.667" stop-color="#71ff86" stop-opacity="1.00"/><stop offset="0.733" stop-color="#008bff" stop-opacity="0.96"/><stop offset="0.800" stop-color="#0000f1" stop-opacity="0.36"/><stop offset="0.867" stop-color="#00009c" stop-opacity="0.09"/><stop offset="0.933" stop-color="#000084" stop-opacity="0.01"/><stop offset="1.000" stop-color="#000080" stop-opacity="0.00"/></radialGradient><radialGradient id="g39"><stop offset="0.000" stop-color="#ff3e00" stop-opacity="1.00"/><stop offset="0.067" stop-color="#ff3e00" stop-opacity="1.00"/><stop offset="0.133" stop-color="#ff3e00" stop-opacity="1.00"/><stop offset="0.200" stop-color="#ff3e00" stop-opacity="1.00"/><stop offset="0.267" stop-color="#ff3e00" stop-opacity="1.00"/><stop offset="0.333" stop-color="#ff3e00" stop-opacity="1.00"/><stop offset="0.400" stop-color="#ff3f00" stop-opacity="1.00"/><stop offset="0.467" stop-color="#ff4600" stop-opacity="1.00"/><stop offset="0.533" stop-color="#ff6600" stop-opacity="1.00"/><stop offset="0.600" stop-color="#ffc800" stop-opacity="1.00"/><stop offset="0.667" stop-color="#7cff7b" stop-opacity="1.00"/><stop offset="0.733" stop-color="#0093ff" stop-opacity="0.96"/><stop offset="0.800" stop-color="#0000f4" stop-opacity="0.36"/><stop offset="0.867" stop-color="#00009d" stop-opacity="0.09"/><stop offset="0.933" stop-color="#000084" stop-opacity="0.01"/><stop offset="1.000" stop-color="#000080" stop-opacity="0.00"/></radialGradient><radialGradient id="g40"><stop offset="0.000" stop-color="#ff3300" stop-opacity="1.00"/><stop offset="0.067" stop-color="#ff3300" stop-opacity="1.00"/><stop offset="0.133" stop-color="#ff3300" stop-opacity="1.00"/><stop offset="0.200" stop-color="#ff3300" stop-opacity="1.00"/><stop offset="0.267" stop-color="#ff3300" stop-opacity="1.00"/><stop offset="0.333" stop-color="#ff3300" stop-opacity="1.00"/><stop offset="0.400" stop-color="#ff3400" stop-opacity="1.00"/><stop offset="0.467" stop-color="#ff3b00" stop-opacity="1.00"/><stop offset="0.533" stop-color="#ff5b00" stop-opacity="1.00"/><stop offset="0.600" stop-color="#ffbf00" stop-opacity="1.00"/><stop offset="0.667" stop-color="#82ff75" stop-opacity="1.00"/><stop offset="0.733" stop-color="#0097ff" stop-opacity="0.96"/><stop offset="0.800" stop-color="#0000f6" stop-opacity="0.36"/><stop offset="0.867" stop-color="#00009d" stop-opacity="0.09"/><stop offset="0.933" stop-color="#000084" stop-opacity="0.01"/><stop offset="1.000" stop-color="#000080" stop-opacity="0.00"/></radialGradient><radialGradient id="g41"><stop offset="0.000" stop-color="#c80000" stop-opacity="1.00"/><stop offset="0.067" stop-color="#c80000" stop-opacity="1.00"/><stop offset="0.133" stop-color="#c80000" stop-opacity="1.00"/><stop offset="0.200" stop-color="#c80000" stop-opacity="1.00"/><stop offset="0.267" stop-color="#c80000" stop-opacity="1.00"/><stop offset="0.333" stop-color="#c80000" stop-opacity="1.00"/><stop offset="0.400" stop-color="#c90000" stop-opacity="1.00"/><stop offset="0.467" stop-color="#d20000" stop-opacity="1.00"/><stop offset="0.533" stop-color="#fd1200" stop-opacity="1.00"/><stop offset="0.600" stop-color="#ff7f00" stop-opacity="1.00"/><stop offset="0.667" stop-color="#aaff4d" stop-opacity="1.00"/><stop offset="0.733" stop-color="#00b1ff" stop-opacity="0.96"/><stop offset="0.800" stop-color="#0000ff" stop-opacity="0.36"/><stop offset="0.867" stop-color="#0000a0" stop-opacity="0.09"/><stop offset="0.933" stop-color="#000085" stop-opacity="0.01"/><stop offset="1.000" stop-color="#000080" stop-opacity="0.00"/></radialGradient><radialGradient id="g42"><stop offset="0.000" stop-color="#ac0000" stop-opacity="1.00"/><stop offset="0.067" stop-color="#ac0000" stop-opacity="1.00"/><stop offset="0.133" stop-color="#ac0000" stop-opacity="1.00"/><stop offset="0.200" stop-color="#ac0000" stop-opacity="1.00"/><stop offset="0.267" stop-color="#ac0000" stop-opacity="1.00"/><stop offset="0.333" stop-color="#ac0000" stop-opacity="1.00"/><stop offset="0.400" stop-color="#ae0000" stop-opacity="1.00"/><stop offset="0.467" stop-color="#b70000" stop-opacity="1.00"/><stop offset="0.533" stop-color="#e30000" stop-opacity="1.00"/><stop offset="0.600" stop-color="#ff6d00" stop-opacity="1.00"/><stop offset="0.667" stop-color="#b5ff42" stop-opacity="1.00"/><stop offset="0.733" stop-color="#00b9ff" stop-opacity="0.96"/><stop offset="0.800" stop-color="#0000ff" stop-opacity="0.36"/><stop offset="0.867" stop-color="#0000a1" stop-opacity="0.09"/><stop offset="0.933" stop-color="#000085" stop-opacity="0.01"/><stop offset="1.000" stop-color="#000080" stop-opacity="0.00"/></radialGradient><radialGradient id="g43"><stop offset="0.000" stop-color="#9f0000" stop-opacity="1.00"/><stop offset="0.067" stop-color="#9f0000" stop-opacity="1.00"/><stop offset="0.133" stop-color="#9f0000" stop-opacity="1.00"/><stop offset="0.200" stop-color="#9f0000" stop-opacity="1.00"/><stop offset="0.267" stop-color="#9f0000" stop-opacity="1.00"/><stop offset="0.333" stop-color="#9f0000" stop-opacity="1.00"/><stop offset="0.400" stop-color="#a00000" stop-opacity="1.00"/><stop offset="0.467" stop-color="#a90000" stop-opacity="1.00"/><stop offset="0.533" stop-color="#d70000" stop-opacity="1.00"/><stop offset="0.600" stop-color="#ff6300" stop-opacity="1.00"/><stop offset="0.667" stop-color="#bbff3c" stop-opacity="1.00"/><stop offset="0.733" stop-color="#00bdff" stop-opacity="0.96"/><stop offset="0.800" stop-color="#0000ff" stop-opacity="0.36"/><stop offset="0.867" stop-color="#0000a1" stop-opacity="0.09"/><stop offset="0.933" stop-color="#000085" stop-opacity="0.01"/><stop offset="1.000" stop-color="#000080" stop-opacity="0.00"/></radialGradient><linearGradient id="jetg" x1="0" y1="0" x2="0" y2="1"><stop offset="0.000" stop-color="#800000"/><stop offset="0.050" stop-color="#b90000"/><stop offset="0.100" stop-color="#f30900"/><stop offset="0.150" stop-color="#ff3900"/><stop offset="0.200" stop-color="#ff6800"/><stop offset="0.250" stop-color="#ff9700"/><stop offset="0.300" stop-color="#ffc600"/><stop offset="0.350" stop-color="#f7f600"/><stop offset="0.400" stop-color="#ceff29"/><stop offset="0.450" stop-color="#a5ff52"/><stop offset="0.500" stop-color="#7bff7b"/><stop offset="0.550" stop-color="#52ffa5"/><stop offset="0.600" stop-color="#29ffce"/><stop offset="0.650" stop-color="#00e5f7"/><stop offset="0.700" stop-color="#00b2ff"/><stop offset="0.750" stop-color="#0080ff"/><stop offset="0.800" stop-color="#004cff"/><stop offset="0.850" stop-color="#0019ff"/><stop offset="0.900" stop-color="#0000f3"/><stop offset="0.950" stop-color="#0000b9"/><stop offset="1.000" stop-color="#000080"/></linearGradient><linearGradient id="afm" x1="0" y1="0" x2="0" y2="1"><stop offset="0.000" stop-color="#ffffff"/><stop offset="0.050" stop-color="#ffffe6"/><stop offset="0.100" stop-color="#ffffcd"/><stop offset="0.150" stop-color="#ffffb4"/><stop offset="0.200" stop-color="#ffff9a"/><stop offset="0.250" stop-color="#ffff81"/><stop offset="0.300" stop-color="#ffe868"/><stop offset="0.350" stop-color="#ffce4f"/><stop offset="0.400" stop-color="#ffb536"/><stop offset="0.450" stop-color="#ff9c1d"/><stop offset="0.500" stop-color="#ff8304"/><stop offset="0.550" stop-color="#e96a00"/><stop offset="0.600" stop-color="#d05100"/><stop offset="0.650" stop-color="#b73800"/><stop offset="0.700" stop-color="#9e1e00"/><stop offset="0.750" stop-color="#850500"/><stop offset="0.800" stop-color="#6c0000"/><stop offset="0.850" stop-color="#530000"/><stop offset="0.900" stop-color="#390000"/><stop offset="0.950" stop-color="#200000"/><stop offset="1.000" stop-color="#070000"/></linearGradient></defs>
<svg x="87.8" y="43.3" width="578.6" height="271.5" viewBox="87.8 43.3 578.6 271.5" overflow="hidden">
<rect x="87.8" y="43.3" width="578.6" height="271.5" fill="#000084"/>
<circle cx="137.4" cy="107.6" r="9" fill="url(#g0)"/>
<circle cx="424.6" cy="68.9" r="9" fill="url(#g1)"/>
<circle cx="365.0" cy="86.7" r="9" fill="url(#g0)"/>
<circle cx="153.6" cy="149.5" r="9" fill="url(#g1)"/>
<circle cx="337.0" cy="202.6" r="9" fill="url(#g0)"/>
<circle cx="641.1" cy="120.5" r="9" fill="url(#g1)"/>
<circle cx="490.6" cy="122.8" r="9" fill="url(#g2)"/>
<circle cx="651.0" cy="124.3" r="9" fill="url(#g2)"/>
<circle cx="603.7" cy="202.2" r="9" fill="url(#g1)"/>
<circle cx="535.2" cy="51.5" r="9" fill="url(#g0)"/>
<circle cx="304.3" cy="68.0" r="9" fill="url(#g1)"/>
<circle cx="626.7" cy="99.6" r="9" fill="url(#g1)"/>
<circle cx="260.3" cy="244.7" r="9" fill="url(#g0)"/>
<circle cx="214.3" cy="268.6" r="9" fill="url(#g1)"/>
<circle cx="482.9" cy="266.0" r="9" fill="url(#g1)"/>
<circle cx="526.8" cy="281.8" r="9" fill="url(#g2)"/>
<circle cx="579.5" cy="150.3" r="9" fill="url(#g1)"/>
<circle cx="172.5" cy="232.9" r="9" fill="url(#g2)"/>
<circle cx="591.8" cy="118.1" r="9" fill="url(#g1)"/>
<circle cx="319.0" cy="209.7" r="9" fill="url(#g2)"/>
<circle cx="192.1" cy="246.1" r="9" fill="url(#g0)"/>
<circle cx="415.9" cy="293.4" r="9" fill="url(#g2)"/>
<circle cx="580.1" cy="89.2" r="9" fill="url(#g0)"/>
<circle cx="448.7" cy="208.1" r="9" fill="url(#g0)"/>
<circle cx="543.2" cy="257.8" r="9" fill="url(#g2)"/>
<circle cx="301.5" cy="66.3" r="9" fill="url(#g2)"/>
<circle cx="211.5" cy="276.4" r="9" fill="url(#g2)"/>
<circle cx="259.5" cy="177.1" r="9" fill="url(#g0)"/>
<circle cx="646.3" cy="235.6" r="9" fill="url(#g2)"/>
<circle cx="403.1" cy="235.0" r="9" fill="url(#g2)"/>
<circle cx="481.2" cy="143.3" r="9" fill="url(#g1)"/>
<circle cx="475.2" cy="225.0" r="9" fill="url(#g1)"/>
<circle cx="408.8" cy="97.1" r="9" fill="url(#g1)"/>
<circle cx="160.4" cy="173.8" r="9" fill="url(#g1)"/>
<circle cx="535.7" cy="150.2" r="9" fill="url(#g2)"/>
<circle cx="393.2" cy="99.0" r="9" fill="url(#g0)"/>
<circle cx="312.7" cy="146.6" r="9" fill="url(#g0)"/>
<circle cx="315.2" cy="138.0" r="9" fill="url(#g1)"/>
<circle cx="366.0" cy="68.6" r="9" fill="url(#g1)"/>
<circle cx="620.9" cy="196.1" r="9" fill="url(#g0)"/>
<circle cx="635.8" cy="271.9" r="9" fill="url(#g0)"/>
<circle cx="558.3" cy="266.0" r="9" fill="url(#g2)"/>
<circle cx="366.7" cy="136.3" r="9" fill="url(#g2)"/>
<circle cx="418.5" cy="129.6" r="9" fill="url(#g1)"/>
<circle cx="424.8" cy="71.6" r="9" fill="url(#g1)"/>
<circle cx="313.4" cy="235.2" r="9" fill="url(#g2)"/>
<circle cx="185.6" cy="182.5" r="9" fill="url(#g1)"/>
<circle cx="472.8" cy="133.7" r="9" fill="url(#g2)"/>
<circle cx="627.0" cy="109.5" r="9" fill="url(#g2)"/>
<circle cx="249.7" cy="135.5" r="9" fill="url(#g2)"/>
<circle cx="398.1" cy="297.7" r="9" fill="url(#g2)"/>
<circle cx="328.0" cy="224.7" r="9" fill="url(#g0)"/>
<circle cx="666.3" cy="82.3" r="9" fill="url(#g1)"/>
<circle cx="597.7" cy="57.7" r="9" fill="url(#g1)"/>
<circle cx="188.4" cy="251.8" r="9" fill="url(#g0)"/>
<circle cx="399.3" cy="45.7" r="9" fill="url(#g2)"/>
<circle cx="328.3" cy="273.3" r="9" fill="url(#g2)"/>
<circle cx="475.0" cy="153.3" r="9" fill="url(#g2)"/>
<circle cx="495.1" cy="127.0" r="9" fill="url(#g1)"/>
<circle cx="530.6" cy="177.7" r="9" fill="url(#g0)"/>
<circle cx="386.5" cy="86.7" r="9" fill="url(#g1)"/>
<circle cx="592.8" cy="196.7" r="9" fill="url(#g0)"/>
<circle cx="88.5" cy="135.7" r="9" fill="url(#g0)"/>
<circle cx="484.8" cy="195.6" r="9" fill="url(#g1)"/>
<circle cx="594.9" cy="228.9" r="9" fill="url(#g1)"/>
<circle cx="413.2" cy="224.2" r="9" fill="url(#g2)"/>
<circle cx="475.1" cy="210.3" r="9" fill="url(#g0)"/>
<circle cx="365.7" cy="50.6" r="9" fill="url(#g1)"/>
<circle cx="584.1" cy="217.1" r="9" fill="url(#g1)"/>
<circle cx="314.0" cy="140.1" r="9" fill="url(#g0)"/>
<circle cx="132.8" cy="278.5" r="9" fill="url(#g0)"/>
<circle cx="644.7" cy="80.1" r="9" fill="url(#g2)"/>
<circle cx="605.1" cy="152.2" r="9" fill="url(#g2)"/>
<circle cx="308.9" cy="222.4" r="9" fill="url(#g2)"/>
<circle cx="369.7" cy="222.5" r="9" fill="url(#g0)"/>
<circle cx="94.9" cy="263.5" r="9" fill="url(#g1)"/>
<circle cx="340.0" cy="196.0" r="9" fill="url(#g2)"/>
<circle cx="600.9" cy="100.9" r="9" fill="url(#g1)"/>
<circle cx="185.0" cy="210.6" r="9" fill="url(#g0)"/>
<circle cx="598.5" cy="79.9" r="9" fill="url(#g1)"/>
<circle cx="604.2" cy="97.7" r="9" fill="url(#g1)"/>
<circle cx="500.4" cy="243.7" r="9" fill="url(#g1)"/>
<circle cx="457.3" cy="224.9" r="9" fill="url(#g1)"/>
<circle cx="465.1" cy="200.1" r="9" fill="url(#g0)"/>
<circle cx="383.8" cy="134.6" r="9" fill="url(#g1)"/>
<circle cx="621.5" cy="94.2" r="9" fill="url(#g2)"/>
<circle cx="94.8" cy="274.7" r="9" fill="url(#g0)"/>
<circle cx="224.6" cy="115.5" r="9" fill="url(#g2)"/>
<circle cx="435.1" cy="175.0" r="9" fill="url(#g0)"/>
<circle cx="209.1" cy="281.7" r="9" fill="url(#g1)"/>
<circle cx="555.2" cy="261.1" r="9" fill="url(#g0)"/>
<circle cx="376.4" cy="208.8" r="9" fill="url(#g1)"/>
<circle cx="197.9" cy="179.5" r="9" fill="url(#g0)"/>
<circle cx="613.7" cy="49.1" r="9" fill="url(#g1)"/>
<circle cx="276.9" cy="80.2" r="9" fill="url(#g2)"/>
<circle cx="547.8" cy="303.7" r="9" fill="url(#g1)"/>
<circle cx="309.7" cy="181.7" r="9" fill="url(#g0)"/>
<circle cx="519.9" cy="60.7" r="9" fill="url(#g2)"/>
<circle cx="589.9" cy="177.2" r="9" fill="url(#g1)"/>
<circle cx="537.7" cy="216.1" r="9" fill="url(#g0)"/>
<circle cx="403.5" cy="105.6" r="9" fill="url(#g2)"/>
<circle cx="662.7" cy="46.2" r="9" fill="url(#g0)"/>
<circle cx="597.3" cy="106.1" r="9" fill="url(#g2)"/>
<circle cx="318.8" cy="132.9" r="9" fill="url(#g1)"/>
<circle cx="335.1" cy="299.1" r="9" fill="url(#g2)"/>
<circle cx="634.0" cy="55.7" r="9" fill="url(#g0)"/>
<circle cx="280.5" cy="240.7" r="9" fill="url(#g2)"/>
<circle cx="346.6" cy="227.3" r="9" fill="url(#g1)"/>
<circle cx="554.4" cy="85.0" r="9" fill="url(#g1)"/>
<circle cx="442.9" cy="51.1" r="9" fill="url(#g0)"/>
<circle cx="230.4" cy="61.1" r="9" fill="url(#g3)"/>
<circle cx="190.0" cy="100.0" r="9" fill="url(#g3)"/>
<circle cx="100.0" cy="125.0" r="9" fill="url(#g3)"/>
<circle cx="420.7" cy="63.4" r="9" fill="url(#g3)"/>
<circle cx="520.4" cy="65.8" r="9" fill="url(#g3)"/>
<circle cx="194.0" cy="255.2" r="9" fill="url(#g3)"/>
<circle cx="360.9" cy="295.0" r="9" fill="url(#g3)"/>
<circle cx="312.8" cy="94.0" r="9" fill="url(#g4)"/>
<circle cx="188.2" cy="191.0" r="9" fill="url(#g4)"/>
<circle cx="178.8" cy="170.0" r="9" fill="url(#g4)"/>
<circle cx="516.9" cy="176.9" r="9" fill="url(#g4)"/>
<circle cx="110.8" cy="262.2" r="9" fill="url(#g4)"/>
<circle cx="134.2" cy="232.9" r="9" fill="url(#g4)"/>
<circle cx="178.8" cy="74.0" r="9" fill="url(#g5)"/>
<circle cx="497.0" cy="88.0" r="9" fill="url(#g5)"/>
<circle cx="324.5" cy="167.5" r="9" fill="url(#g5)"/>
<circle cx="373.8" cy="153.4" r="9" fill="url(#g5)"/>
<circle cx="444.1" cy="175.7" r="9" fill="url(#g5)"/>
<circle cx="369.1" cy="137.0" r="9" fill="url(#g5)"/>
<circle cx="239.7" cy="229.4" r="9" fill="url(#g5)"/>
<circle cx="545.0" cy="244.6" r="9" fill="url(#g5)"/>
<circle cx="509.9" cy="245.8" r="9" fill="url(#g5)"/>
<circle cx="599.0" cy="234.1" r="9" fill="url(#g5)"/>
<circle cx="389.0" cy="62.3" r="9" fill="url(#g6)"/>
<circle cx="458.2" cy="101.0" r="9" fill="url(#g6)"/>
<circle cx="586.0" cy="77.5" r="9" fill="url(#g6)"/>
<circle cx="141.3" cy="172.2" r="9" fill="url(#g6)"/>
<circle cx="181.0" cy="212.0" r="9" fill="url(#g6)"/>
<circle cx="249.0" cy="203.9" r="9" fill="url(#g6)"/>
<circle cx="273.7" cy="146.4" r="9" fill="url(#g6)"/>
<circle cx="455.9" cy="137.0" r="9" fill="url(#g6)"/>
<circle cx="637.6" cy="142.9" r="9" fill="url(#g6)"/>
<circle cx="552.1" cy="152.3" r="9" fill="url(#g6)"/>
<circle cx="584.9" cy="212.0" r="9" fill="url(#g6)"/>
<circle cx="223.3" cy="232.9" r="9" fill="url(#g6)"/>
<circle cx="246.8" cy="269.2" r="9" fill="url(#g6)"/>
<circle cx="339.8" cy="259.9" r="9" fill="url(#g6)"/>
<circle cx="393.7" cy="252.8" r="9" fill="url(#g6)"/>
<circle cx="437.1" cy="291.5" r="9" fill="url(#g6)"/>
<circle cx="288.2" cy="224.7" r="9" fill="url(#g6)"/>
<circle cx="587.2" cy="244.6" r="9" fill="url(#g6)"/>
<circle cx="540.3" cy="265.7" r="9" fill="url(#g6)"/>
<circle cx="661.0" cy="243.4" r="9" fill="url(#g6)"/>
<circle cx="237.4" cy="109.2" r="9" fill="url(#g7)"/>
<circle cx="453.5" cy="67.0" r="9" fill="url(#g7)"/>
<circle cx="576.7" cy="67.0" r="9" fill="url(#g7)"/>
<circle cx="592.0" cy="63.4" r="9" fill="url(#g7)"/>
<circle cx="623.6" cy="76.3" r="9" fill="url(#g7)"/>
<circle cx="494.6" cy="115.0" r="9" fill="url(#g7)"/>
<circle cx="108.4" cy="216.8" r="9" fill="url(#g7)"/>
<circle cx="348.0" cy="167.5" r="9" fill="url(#g7)"/>
<circle cx="364.4" cy="216.8" r="9" fill="url(#g7)"/>
<circle cx="397.2" cy="221.5" r="9" fill="url(#g7)"/>
<circle cx="434.7" cy="192.1" r="9" fill="url(#g7)"/>
<circle cx="312.8" cy="216.8" r="9" fill="url(#g7)"/>
<circle cx="532.1" cy="162.8" r="9" fill="url(#g7)"/>
<circle cx="573.2" cy="191.0" r="9" fill="url(#g7)"/>
<circle cx="603.6" cy="150.0" r="9" fill="url(#g7)"/>
<circle cx="523.9" cy="209.7" r="9" fill="url(#g7)"/>
<circle cx="100.2" cy="272.8" r="9" fill="url(#g7)"/>
<circle cx="124.9" cy="278.6" r="9" fill="url(#g7)"/>
<circle cx="170.6" cy="270.4" r="9" fill="url(#g7)"/>
<circle cx="225.7" cy="245.8" r="9" fill="url(#g7)"/>
<circle cx="360.9" cy="254.0" r="9" fill="url(#g7)"/>
<circle cx="643.5" cy="264.5" r="9" fill="url(#g7)"/>
<circle cx="631.8" cy="274.0" r="9" fill="url(#g7)"/>
<circle cx="603.6" cy="285.7" r="9" fill="url(#g7)"/>
<circle cx="111.3" cy="69.3" r="9" fill="url(#g8)"/>
<circle cx="253.8" cy="112.7" r="9" fill="url(#g8)"/>
<circle cx="270.2" cy="86.9" r="9" fill="url(#g8)"/>
<circle cx="371.4" cy="98.6" r="9" fill="url(#g8)"/>
<circle cx="427.7" cy="105.7" r="9" fill="url(#g8)"/>
<circle cx="406.6" cy="126.8" r="9" fill="url(#g8)"/>
<circle cx="540.3" cy="64.6" r="9" fill="url(#g8)"/>
<circle cx="563.8" cy="67.0" r="9" fill="url(#g8)"/>
<circle cx="637.6" cy="83.4" r="9" fill="url(#g8)"/>
<circle cx="577.9" cy="104.5" r="9" fill="url(#g8)"/>
<circle cx="162.4" cy="186.3" r="9" fill="url(#g8)"/>
<circle cx="199.9" cy="202.7" r="9" fill="url(#g8)"/>
<circle cx="296.4" cy="141.7" r="9" fill="url(#g8)"/>
<circle cx="287.0" cy="192.1" r="9" fill="url(#g8)"/>
<circle cx="348.0" cy="198.0" r="9" fill="url(#g8)"/>
<circle cx="497.0" cy="157.0" r="9" fill="url(#g8)"/>
<circle cx="505.2" cy="202.7" r="9" fill="url(#g8)"/>
<circle cx="570.8" cy="155.8" r="9" fill="url(#g8)"/>
<circle cx="409.0" cy="255.2" r="9" fill="url(#g8)"/>
<circle cx="406.6" cy="237.6" r="9" fill="url(#g8)"/>
<circle cx="474.7" cy="275.3" r="9" fill="url(#g8)"/>
<circle cx="489.7" cy="252.0" r="9" fill="url(#g8)"/>
<circle cx="521.6" cy="271.6" r="9" fill="url(#g8)"/>
<circle cx="601.3" cy="258.7" r="9" fill="url(#g8)"/>
<circle cx="657.6" cy="255.2" r="9" fill="url(#g8)"/>
<circle cx="447.6" cy="90.4" r="9" fill="url(#g9)"/>
<circle cx="154.2" cy="179.2" r="9" fill="url(#g9)"/>
<circle cx="238.6" cy="169.9" r="9" fill="url(#g9)"/>
<circle cx="265.5" cy="178.0" r="9" fill="url(#g9)"/>
<circle cx="412.5" cy="161.7" r="9" fill="url(#g9)"/>
<circle cx="345.6" cy="210.9" r="9" fill="url(#g9)"/>
<circle cx="297.6" cy="273.9" r="9" fill="url(#g9)"/>
<circle cx="373.8" cy="277.4" r="9" fill="url(#g9)"/>
<circle cx="435.9" cy="230.6" r="9" fill="url(#g9)"/>
<circle cx="554.4" cy="226.6" r="9" fill="url(#g9)"/>
<circle cx="531.4" cy="230.6" r="9" fill="url(#g9)"/>
<circle cx="123.7" cy="86.4" r="9" fill="url(#g10)"/>
<circle cx="149.5" cy="120.9" r="9" fill="url(#g10)"/>
<circle cx="203.4" cy="111.5" r="9" fill="url(#g10)"/>
<circle cx="279.0" cy="50.6" r="9" fill="url(#g11)"/>
<circle cx="451.0" cy="117.0" r="9" fill="url(#g11)"/>
<circle cx="546.2" cy="55.2" r="9" fill="url(#g11)"/>
<circle cx="569.6" cy="85.7" r="9" fill="url(#g11)"/>
<circle cx="119.0" cy="189.8" r="9" fill="url(#g11)"/>
<circle cx="145.5" cy="239.9" r="9" fill="url(#g11)"/>
<circle cx="109.6" cy="283.8" r="9" fill="url(#g11)"/>
<circle cx="265.5" cy="282.1" r="9" fill="url(#g11)"/>
<circle cx="276.1" cy="274.0" r="9" fill="url(#g11)"/>
<circle cx="274.9" cy="234.1" r="9" fill="url(#g11)"/>
<circle cx="464.0" cy="242.3" r="9" fill="url(#g11)"/>
<circle cx="451.5" cy="260.8" r="9" fill="url(#g11)"/>
<circle cx="566.1" cy="257.5" r="9" fill="url(#g11)"/>
<circle cx="209.3" cy="281.0" r="9" fill="url(#g12)"/>
<circle cx="141.3" cy="99.8" r="9" fill="url(#g13)"/>
<circle cx="211.6" cy="205.0" r="9" fill="url(#g13)"/>
<circle cx="218.6" cy="259.9" r="9" fill="url(#g13)"/>
<circle cx="333.9" cy="122.0" r="9" fill="url(#g14)"/>
<circle cx="608.8" cy="132.5" r="9" fill="url(#g14)"/>
<circle cx="381.5" cy="221.5" r="9" fill="url(#g14)"/>
<circle cx="610.7" cy="191.0" r="9" fill="url(#g14)"/>
<circle cx="563.8" cy="281.0" r="9" fill="url(#g14)"/>
<circle cx="606.0" cy="295.0" r="9" fill="url(#g14)"/>
<circle cx="151.4" cy="109.2" r="9" fill="url(#g15)"/>
<circle cx="214.0" cy="123.9" r="9" fill="url(#g15)"/>
<circle cx="437.1" cy="84.5" r="9" fill="url(#g15)"/>
<circle cx="547.4" cy="131.5" r="9" fill="url(#g15)"/>
<circle cx="661.0" cy="130.3" r="9" fill="url(#g15)"/>
<circle cx="269.0" cy="158.1" r="9" fill="url(#g15)"/>
<circle cx="262.5" cy="191.4" r="9" fill="url(#g15)"/>
<circle cx="275.5" cy="219.0" r="9" fill="url(#g15)"/>
<circle cx="387.9" cy="169.9" r="9" fill="url(#g15)"/>
<circle cx="269.1" cy="244.6" r="9" fill="url(#g15)"/>
<circle cx="307.7" cy="239.2" r="9" fill="url(#g15)"/>
<circle cx="325.7" cy="272.8" r="9" fill="url(#g15)"/>
<circle cx="302.7" cy="84.5" r="9" fill="url(#g16)"/>
<circle cx="379.6" cy="123.2" r="9" fill="url(#g16)"/>
<circle cx="552.1" cy="76.3" r="9" fill="url(#g16)"/>
<circle cx="603.0" cy="95.1" r="9" fill="url(#g16)"/>
<circle cx="130.0" cy="152.7" r="9" fill="url(#g16)"/>
<circle cx="204.6" cy="162.8" r="9" fill="url(#g16)"/>
<circle cx="122.0" cy="209.7" r="9" fill="url(#g16)"/>
<circle cx="311.2" cy="152.7" r="9" fill="url(#g16)"/>
<circle cx="354.6" cy="155.3" r="9" fill="url(#g16)"/>
<circle cx="474.1" cy="157.0" r="9" fill="url(#g16)"/>
<circle cx="471.5" cy="196.1" r="9" fill="url(#g16)"/>
<circle cx="558.6" cy="141.3" r="9" fill="url(#g16)"/>
<circle cx="321.0" cy="282.1" r="9" fill="url(#g16)"/>
<circle cx="548.5" cy="300.9" r="9" fill="url(#g16)"/>
<circle cx="614.2" cy="224.7" r="9" fill="url(#g16)"/>
<circle cx="587.2" cy="261.7" r="9" fill="url(#g16)"/>
<circle cx="591.9" cy="278.6" r="9" fill="url(#g16)"/>
<circle cx="595.4" cy="201.5" r="9" fill="url(#g17)"/>
<circle cx="321.5" cy="229.4" r="9" fill="url(#g17)"/>
<circle cx="280.5" cy="68.1" r="9" fill="url(#g18)"/>
<circle cx="295.2" cy="124.0" r="9" fill="url(#g18)"/>
<circle cx="514.5" cy="120.4" r="9" fill="url(#g18)"/>
<circle cx="454.7" cy="159.3" r="9" fill="url(#g18)"/>
<circle cx="410.1" cy="188.6" r="9" fill="url(#g18)"/>
<circle cx="412.5" cy="203.2" r="9" fill="url(#g18)"/>
<circle cx="591.9" cy="160.5" r="9" fill="url(#g18)"/>
<circle cx="659.9" cy="186.3" r="9" fill="url(#g18)"/>
<circle cx="216.3" cy="65.3" r="9" fill="url(#g19)"/>
<circle cx="219.1" cy="82.2" r="9" fill="url(#g19)"/>
<circle cx="225.0" cy="116.2" r="9" fill="url(#g19)"/>
<circle cx="602.0" cy="75.2" r="9" fill="url(#g19)"/>
<circle cx="137.8" cy="188.1" r="9" fill="url(#g19)"/>
<circle cx="582.5" cy="166.3" r="9" fill="url(#g19)"/>
<circle cx="428.2" cy="72.1" r="9" fill="url(#g20)"/>
<circle cx="529.3" cy="110.3" r="9" fill="url(#g20)"/>
<circle cx="621.2" cy="200.3" r="9" fill="url(#g20)"/>
<circle cx="174.0" cy="219.5" r="9" fill="url(#g20)"/>
<circle cx="374.5" cy="238.3" r="9" fill="url(#g20)"/>
<circle cx="461.7" cy="236.4" r="9" fill="url(#g20)"/>
<circle cx="610.7" cy="63.4" r="9" fill="url(#g21)"/>
<circle cx="535.2" cy="97.0" r="9" fill="url(#g22)"/>
<circle cx="216.3" cy="168.7" r="9" fill="url(#g22)"/>
<circle cx="546.2" cy="167.5" r="9" fill="url(#g22)"/>
<circle cx="194.5" cy="283.8" r="9" fill="url(#g22)"/>
<circle cx="418.3" cy="226.0" r="9" fill="url(#g22)"/>
<circle cx="499.5" cy="262.2" r="9" fill="url(#g22)"/>
<circle cx="440.6" cy="115.0" r="9" fill="url(#g23)"/>
<circle cx="283.5" cy="159.3" r="9" fill="url(#g23)"/>
<circle cx="609.5" cy="166.3" r="9" fill="url(#g23)"/>
<circle cx="121.3" cy="236.9" r="9" fill="url(#g23)"/>
<circle cx="349.6" cy="245.3" r="9" fill="url(#g23)"/>
<circle cx="545.0" cy="282.1" r="9" fill="url(#g23)"/>
<circle cx="236.2" cy="203.9" r="9" fill="url(#g24)"/>
<circle cx="284.5" cy="255.2" r="9" fill="url(#g24)"/>
<circle cx="385.5" cy="79.4" r="9" fill="url(#g25)"/>
<circle cx="644.0" cy="94.0" r="9" fill="url(#g25)"/>
<circle cx="201.5" cy="169.9" r="9" fill="url(#g25)"/>
<circle cx="339.3" cy="144.1" r="9" fill="url(#g25)"/>
<circle cx="461.7" cy="152.3" r="9" fill="url(#g25)"/>
<circle cx="129.5" cy="261.0" r="9" fill="url(#g25)"/>
<circle cx="515.3" cy="227.5" r="9" fill="url(#g25)"/>
<circle cx="625.9" cy="236.9" r="9" fill="url(#g25)"/>
<circle cx="630.6" cy="254.7" r="9" fill="url(#g25)"/>
<circle cx="204.6" cy="73.5" r="9" fill="url(#g26)"/>
<circle cx="657.6" cy="99.3" r="9" fill="url(#g26)"/>
<circle cx="555.1" cy="192.1" r="9" fill="url(#g26)"/>
<circle cx="545.5" cy="205.0" r="9" fill="url(#g26)"/>
<circle cx="649.4" cy="171.7" r="9" fill="url(#g26)"/>
<circle cx="335.6" cy="292.7" r="9" fill="url(#g26)"/>
<circle cx="246.1" cy="282.8" r="9" fill="url(#g27)"/>
<circle cx="655.2" cy="230.1" r="9" fill="url(#g27)"/>
<circle cx="392.1" cy="110.8" r="9" fill="url(#g28)"/>
<circle cx="340.5" cy="112.0" r="9" fill="url(#g29)"/>
<circle cx="462.5" cy="282.7" r="9" fill="url(#g29)"/>
<circle cx="293.6" cy="110.8" r="9" fill="url(#g30)"/>
<circle cx="488.1" cy="279.0" r="9" fill="url(#g30)"/>
<circle cx="249.1" cy="78.2" r="9" fill="url(#g31)"/>
<circle cx="395.6" cy="69.3" r="9" fill="url(#g31)"/>
<circle cx="251.0" cy="144.1" r="9" fill="url(#g31)"/>
<circle cx="333.5" cy="203.2" r="9" fill="url(#g31)"/>
<circle cx="505.2" cy="173.8" r="9" fill="url(#g31)"/>
<circle cx="488.8" cy="205.0" r="9" fill="url(#g31)"/>
<circle cx="154.9" cy="270.9" r="9" fill="url(#g31)"/>
<circle cx="502.8" cy="130.5" r="9" fill="url(#g32)"/>
<circle cx="572.0" cy="242.7" r="9" fill="url(#g32)"/>
<circle cx="475.5" cy="46.6" r="9" fill="url(#g33)"/>
<circle cx="477.5" cy="108.0" r="9" fill="url(#g34)"/>
<circle cx="573.9" cy="115.5" r="9" fill="url(#g34)"/>
<circle cx="409.4" cy="144.5" r="9" fill="url(#g34)"/>
<circle cx="171.8" cy="228.5" r="9" fill="url(#g34)"/>
<circle cx="619.6" cy="123.2" r="9" fill="url(#g35)"/>
<circle cx="211.6" cy="247.7" r="9" fill="url(#g36)"/>
<circle cx="150.6" cy="61.8" r="9" fill="url(#g37)"/>
<circle cx="105.6" cy="96.3" r="9" fill="url(#g37)"/>
<circle cx="175.3" cy="104.0" r="9" fill="url(#g37)"/>
<circle cx="301.6" cy="189.1" r="9" fill="url(#g38)"/>
<circle cx="314.5" cy="52.9" r="9" fill="url(#g39)"/>
<circle cx="378.0" cy="183.2" r="9" fill="url(#g39)"/>
<circle cx="452.3" cy="196.4" r="9" fill="url(#g39)"/>
<circle cx="119.7" cy="142.2" r="9" fill="url(#g40)"/>
<circle cx="167.1" cy="147.6" r="9" fill="url(#g40)"/>
<circle cx="172.2" cy="224.2" r="4.5" fill="url(#g41)"/>
<circle cx="348.0" cy="75.2" r="9" fill="url(#g42)"/>
<circle cx="500.0" cy="66.5" r="9" fill="url(#g43)"/>
<circle cx="412.9" cy="286.4" r="9" fill="url(#g43)"/>
</svg>
<rect x="87.8" y="43.3" width="578.6" height="271.5" fill="none" stroke="#000" stroke-width="1.4"/>
<line x1="87.8" y1="314.8" x2="87.8" y2="320.8" stroke="#000" stroke-width="1.4"/>
<text x="87.8" y="345.6" text-anchor="middle" font-size="26.0" textLength="15.9" lengthAdjust="spacingAndGlyphs">0</text>
<line x1="204.8" y1="314.8" x2="204.8" y2="320.8" stroke="#000" stroke-width="1.4"/>
<text x="204.8" y="345.6" text-anchor="middle" font-size="26.0" textLength="31.8" lengthAdjust="spacingAndGlyphs">20</text>
<line x1="321.8" y1="314.8" x2="321.8" y2="320.8" stroke="#000" stroke-width="1.4"/>
<text x="321.8" y="345.6" text-anchor="middle" font-size="26.0" textLength="31.8" lengthAdjust="spacingAndGlyphs">40</text>
<line x1="438.8" y1="314.8" x2="438.8" y2="320.8" stroke="#000" stroke-width="1.4"/>
<text x="438.8" y="345.6" text-anchor="middle" font-size="26.0" textLength="31.8" lengthAdjust="spacingAndGlyphs">60</text>
<line x1="555.8" y1="314.8" x2="555.8" y2="320.8" stroke="#000" stroke-width="1.4"/>
<text x="555.8" y="345.6" text-anchor="middle" font-size="26.0" textLength="31.8" lengthAdjust="spacingAndGlyphs">80</text>
<line x1="81.8" y1="314.8" x2="87.8" y2="314.8" stroke="#000" stroke-width="1.4"/>
<text x="75.6" y="324.0" text-anchor="end" font-size="26.0" textLength="15.9" lengthAdjust="spacingAndGlyphs">0</text>
<line x1="81.8" y1="256.3" x2="87.8" y2="256.3" stroke="#000" stroke-width="1.4"/>
<text x="75.6" y="265.5" text-anchor="end" font-size="26.0" textLength="31.8" lengthAdjust="spacingAndGlyphs">10</text>
<line x1="81.8" y1="197.8" x2="87.8" y2="197.8" stroke="#000" stroke-width="1.4"/>
<text x="75.6" y="207.0" text-anchor="end" font-size="26.0" textLength="31.8" lengthAdjust="spacingAndGlyphs">20</text>
<line x1="81.8" y1="139.3" x2="87.8" y2="139.3" stroke="#000" stroke-width="1.4"/>
<text x="75.6" y="148.5" text-anchor="end" font-size="26.0" textLength="31.8" lengthAdjust="spacingAndGlyphs">30</text>
<line x1="81.8" y1="80.8" x2="87.8" y2="80.8" stroke="#000" stroke-width="1.4"/>
<text x="75.6" y="90.0" text-anchor="end" font-size="26.0" textLength="31.8" lengthAdjust="spacingAndGlyphs">40</text>
<text x="377.2" y="377.5" text-anchor="middle" font-size="26.0" textLength="82.5" lengthAdjust="spacingAndGlyphs">x [µm]</text>
<text x="30.5" y="178.5" text-anchor="middle" font-size="26.0" textLength="82.5" lengthAdjust="spacingAndGlyphs" transform="rotate(-90 30.5 178.5)">y [µm]</text>
<text x="-3.1" y="42.2" text-anchor="start" font-size="41.9" textLength="23.6" lengthAdjust="spacingAndGlyphs" font-weight="bold">a</text>
<rect x="683.6" y="43.3" width="13.799999999999955" height="270.9" fill="url(#jetg)" stroke="#000" stroke-width="1.2"/>
<line x1="697.4" y1="314.2" x2="703.4" y2="314.2" stroke="#000" stroke-width="1.4"/>
<text x="709.0" y="323.4" text-anchor="start" font-size="26.0" textLength="39.8" lengthAdjust="spacingAndGlyphs">0.0</text>
<line x1="697.4" y1="250.7" x2="703.4" y2="250.7" stroke="#000" stroke-width="1.4"/>
<text x="709.0" y="259.9" text-anchor="start" font-size="26.0" textLength="39.8" lengthAdjust="spacingAndGlyphs">0.2</text>
<line x1="697.4" y1="187.2" x2="703.4" y2="187.2" stroke="#000" stroke-width="1.4"/>
<text x="709.0" y="196.4" text-anchor="start" font-size="26.0" textLength="39.8" lengthAdjust="spacingAndGlyphs">0.4</text>
<line x1="697.4" y1="123.6" x2="703.4" y2="123.6" stroke="#000" stroke-width="1.4"/>
<text x="709.0" y="132.8" text-anchor="start" font-size="26.0" textLength="39.8" lengthAdjust="spacingAndGlyphs">0.6</text>
<line x1="697.4" y1="60.1" x2="703.4" y2="60.1" stroke="#000" stroke-width="1.4"/>
<text x="709.0" y="69.3" text-anchor="start" font-size="26.0" textLength="39.8" lengthAdjust="spacingAndGlyphs">0.8</text>
<text x="775.5" y="178.2" text-anchor="middle" font-size="26.0" textLength="134.0" lengthAdjust="spacingAndGlyphs" transform="rotate(-90 775.5 178.2)">probability</text>
<polygon points="947.1,364.7 1353.4,321.7 1276.9,86.8 879.7,127.5" fill="#f4f4f4"/>
<polygon points="879.7,127.5 1276.9,86.8 1294.1,28.0 854.7,72.8" fill="#f0f0f0"/>
<polygon points="1353.4,321.7 1276.9,86.8 1294.1,28.0 1379.4,287.0" fill="#f8f8f8"/>
<line x1="973.9" y1="361.9" x2="905.8" y2="124.8" stroke="#b4b4b4" stroke-width="1.3"/>
<line x1="905.8" y1="124.8" x2="883.6" y2="69.8" stroke="#b4b4b4" stroke-width="1.3"/>
<line x1="1046.0" y1="354.2" x2="976.4" y2="117.6" stroke="#b4b4b4" stroke-width="1.3"/>
<line x1="976.4" y1="117.6" x2="961.7" y2="61.9" stroke="#b4b4b4" stroke-width="1.3"/>
<line x1="1118.1" y1="346.6" x2="1046.8" y2="110.4" stroke="#b4b4b4" stroke-width="1.3"/>
<line x1="1046.8" y1="110.4" x2="1039.6" y2="53.9" stroke="#b4b4b4" stroke-width="1.3"/>
<line x1="1190.0" y1="339.0" x2="1117.1" y2="103.1" stroke="#b4b4b4" stroke-width="1.3"/>
<line x1="1117.1" y1="103.1" x2="1117.4" y2="46.0" stroke="#b4b4b4" stroke-width="1.3"/>
<line x1="1261.7" y1="331.4" x2="1187.2" y2="96.0" stroke="#b4b4b4" stroke-width="1.3"/>
<line x1="1187.2" y1="96.0" x2="1195.0" y2="38.1" stroke="#b4b4b4" stroke-width="1.3"/>
<line x1="1333.3" y1="323.8" x2="1257.3" y2="88.8" stroke="#b4b4b4" stroke-width="1.3"/>
<line x1="1257.3" y1="88.8" x2="1272.5" y2="30.2" stroke="#b4b4b4" stroke-width="1.3"/>
<line x1="942.9" y1="350.0" x2="1348.6" y2="307.2" stroke="#b4b4b4" stroke-width="1.3"/>
<line x1="1348.6" y1="307.2" x2="1374.1" y2="270.9" stroke="#b4b4b4" stroke-width="1.3"/>
<line x1="935.4" y1="323.4" x2="1340.0" y2="280.8" stroke="#b4b4b4" stroke-width="1.3"/>
<line x1="1340.0" y1="280.8" x2="1364.5" y2="241.8" stroke="#b4b4b4" stroke-width="1.3"/>
<line x1="927.8" y1="296.9" x2="1331.5" y2="254.5" stroke="#b4b4b4" stroke-width="1.3"/>
<line x1="1331.5" y1="254.5" x2="1355.0" y2="212.8" stroke="#b4b4b4" stroke-width="1.3"/>
<line x1="920.3" y1="270.5" x2="1323.0" y2="228.4" stroke="#b4b4b4" stroke-width="1.3"/>
<line x1="1323.0" y1="228.4" x2="1345.5" y2="184.1" stroke="#b4b4b4" stroke-width="1.3"/>
<line x1="912.9" y1="244.3" x2="1314.5" y2="202.5" stroke="#b4b4b4" stroke-width="1.3"/>
<line x1="1314.5" y1="202.5" x2="1336.1" y2="155.4" stroke="#b4b4b4" stroke-width="1.3"/>
<line x1="905.5" y1="218.2" x2="1306.1" y2="176.6" stroke="#b4b4b4" stroke-width="1.3"/>
<line x1="1306.1" y1="176.6" x2="1326.7" y2="127.0" stroke="#b4b4b4" stroke-width="1.3"/>
<line x1="898.1" y1="192.3" x2="1297.8" y2="150.9" stroke="#b4b4b4" stroke-width="1.3"/>
<line x1="1297.8" y1="150.9" x2="1317.4" y2="98.7" stroke="#b4b4b4" stroke-width="1.3"/>
<line x1="890.8" y1="166.5" x2="1289.4" y2="125.4" stroke="#b4b4b4" stroke-width="1.3"/>
<line x1="1289.4" y1="125.4" x2="1308.1" y2="70.5" stroke="#b4b4b4" stroke-width="1.3"/>
<line x1="883.4" y1="140.8" x2="1281.1" y2="99.9" stroke="#b4b4b4" stroke-width="1.3"/>
<line x1="1281.1" y1="99.9" x2="1298.9" y2="42.5" stroke="#b4b4b4" stroke-width="1.3"/>
<line x1="947.1" y1="364.7" x2="1353.4" y2="321.7" stroke="#000" stroke-width="1.6"/>
<line x1="947.1" y1="364.7" x2="879.7" y2="127.5" stroke="#000" stroke-width="1.6"/>
<line x1="879.7" y1="127.5" x2="854.7" y2="72.8" stroke="#000" stroke-width="1.6"/>
<line x1="973.1" y1="359.2" x2="975.2" y2="366.5" stroke="#000" stroke-width="1.6"/>
<line x1="1045.3" y1="351.6" x2="1047.4" y2="358.9" stroke="#000" stroke-width="1.6"/>
<line x1="1117.3" y1="344.0" x2="1119.5" y2="351.3" stroke="#000" stroke-width="1.6"/>
<line x1="1189.1" y1="336.4" x2="1191.4" y2="343.6" stroke="#000" stroke-width="1.6"/>
<line x1="1260.9" y1="328.8" x2="1263.2" y2="336.0" stroke="#000" stroke-width="1.6"/>
<line x1="1332.5" y1="321.2" x2="1334.8" y2="328.5" stroke="#000" stroke-width="1.6"/>
<line x1="947.5" y1="349.5" x2="936.2" y2="350.7" stroke="#000" stroke-width="1.6"/>
<line x1="939.9" y1="322.9" x2="928.7" y2="324.1" stroke="#000" stroke-width="1.6"/>
<line x1="932.3" y1="296.4" x2="921.2" y2="297.6" stroke="#000" stroke-width="1.6"/>
<line x1="924.8" y1="270.1" x2="913.7" y2="271.2" stroke="#000" stroke-width="1.6"/>
<line x1="917.4" y1="243.8" x2="906.2" y2="245.0" stroke="#000" stroke-width="1.6"/>
<line x1="909.9" y1="217.8" x2="898.8" y2="218.9" stroke="#000" stroke-width="1.6"/>
<line x1="902.5" y1="191.8" x2="891.5" y2="193.0" stroke="#000" stroke-width="1.6"/>
<line x1="895.2" y1="166.0" x2="884.2" y2="167.2" stroke="#000" stroke-width="1.6"/>
<line x1="887.9" y1="140.3" x2="876.9" y2="141.5" stroke="#000" stroke-width="1.6"/>
<text x="980.9" y="403.1" text-anchor="middle" font-size="24.439999999999998" textLength="14.9" lengthAdjust="spacingAndGlyphs">0</text>
<text x="1052.2" y="395.7" text-anchor="middle" font-size="24.439999999999998" textLength="29.9" lengthAdjust="spacingAndGlyphs">20</text>
<text x="1123.3" y="387.5" text-anchor="middle" font-size="24.439999999999998" textLength="29.9" lengthAdjust="spacingAndGlyphs">40</text>
<text x="1194.5" y="380.7" text-anchor="middle" font-size="24.439999999999998" textLength="29.9" lengthAdjust="spacingAndGlyphs">60</text>
<text x="1265.7" y="372.6" text-anchor="middle" font-size="24.439999999999998" textLength="29.9" lengthAdjust="spacingAndGlyphs">80</text>
<text x="1337.7" y="365.8" text-anchor="middle" font-size="24.439999999999998" textLength="44.8" lengthAdjust="spacingAndGlyphs">100</text>
<text x="910.8" y="373.2" text-anchor="middle" font-size="24.439999999999998" textLength="14.9" lengthAdjust="spacingAndGlyphs">0</text>
<text x="903.0" y="347.2" text-anchor="middle" font-size="24.439999999999998" textLength="14.9" lengthAdjust="spacingAndGlyphs">5</text>
<text x="895.3" y="321.3" text-anchor="middle" font-size="24.439999999999998" textLength="29.9" lengthAdjust="spacingAndGlyphs">10</text>
<text x="887.6" y="295.3" text-anchor="middle" font-size="24.439999999999998" textLength="29.9" lengthAdjust="spacingAndGlyphs">15</text>
<text x="880.0" y="270.3" text-anchor="middle" font-size="24.439999999999998" textLength="29.9" lengthAdjust="spacingAndGlyphs">20</text>
<text x="873.3" y="244.1" text-anchor="middle" font-size="24.439999999999998" textLength="29.9" lengthAdjust="spacingAndGlyphs">25</text>
<text x="865.3" y="217.5" text-anchor="middle" font-size="24.439999999999998" textLength="29.9" lengthAdjust="spacingAndGlyphs">30</text>
<text x="858.7" y="191.6" text-anchor="middle" font-size="24.439999999999998" textLength="29.9" lengthAdjust="spacingAndGlyphs">35</text>
<text x="851.0" y="166.6" text-anchor="middle" font-size="24.439999999999998" textLength="29.9" lengthAdjust="spacingAndGlyphs">40</text>
<text x="1163.0" y="396.0" text-anchor="middle" font-size="24.439999999999998" textLength="77.5" lengthAdjust="spacingAndGlyphs" transform="rotate(-6.03 1163.0 396.0)">x [µm]</text>
<text x="840.3" y="263.0" text-anchor="middle" font-size="24.439999999999998" textLength="77.5" lengthAdjust="spacingAndGlyphs" transform="rotate(73.2 840.3 263.0)">y [µm]</text>
<text x="792.7" y="42.3" text-anchor="start" font-size="41.9" textLength="26.4" lengthAdjust="spacingAndGlyphs" font-weight="bold">b</text>
<g fill-opacity="0.68" transform="scale(0.5)"><path d="M2519 228l7-1 -3-10 -7 1z" fill="#010000"/><path d="M2513 228l6 0 -3-10 -7 1z" fill="#020000"/><path d="M2523 238l8-3 -5-8 -7 1z" fill="#030000"/><path d="M2519 228l4 10 -4-10 -6 0z" fill="#0a0000"/><path d="M2507 222l6 6 -4-9 -5-8z" fill="#0e0000"/><path d="M2542 282l4 7 -3-10 -7 0z" fill="#070000"/><path d="M2536 279l7 0 -3-13 -4-9z" fill="#0c0000"/><path d="M2424 264l7-1 -3-7 -7-2z" fill="#110000"/><path d="M2497 210l7 1 -3-10 -8 2z" fill="#190000"/><path d="M2484 269l7 0 -3-12 -7 1z" fill="#110000"/><path d="M2487 281l8-3 -4-9 -7 0z" fill="#100000"/><path d="M1933 295l7-1 -3-11 -7 2z" fill="#0e0000"/><path d="M2300 265l7 0 -3-10 -7 0z" fill="#140000"/><path d="M1845 294l6-2 -2-10 -7 1z" fill="#0e0000"/><path d="M2307 265l7-2 -3-10 -7 2z" fill="#150000"/><path d="M2501 218l6 4 -3-11 -7-1z" fill="#1d0000"/><path d="M1926 295l7 0 -3-10 -8-2z" fill="#0f0000"/><path d="M1836 292l9 2 -3-11 -8 0z" fill="#100000"/><path d="M2571 379l5 3 -3-11 -6-2z" fill="#070000"/><path d="M2574 389l6 3 -4-10 -5-3z" fill="#070000"/><path d="M2504 211l5 8 5-44 -13 26z" fill="#250000"/><path d="M2483 270l4 11 -3-12 -6-2z" fill="#1b0000"/><path d="M1883 376l8 1 -4-12 -7 1z" fill="#090000"/><path d="M1944 380l7 0 -3-10 -7 0z" fill="#090000"/><path d="M2082 300l7-1 -4-14 -7 1z" fill="#170000"/><path d="M2551 357l5 3 -3-11 -6-2z" fill="#110000"/><path d="M2241 336l7 0 -3-11 -7 1z" fill="#130000"/><path d="M2429 267l7 0 -5-4 -7 1z" fill="#1e0000"/><path d="M2349 302l7-1 -3-10 -7 0z" fill="#190000"/><path d="M2346 291l7 0 -3-11 -7-2z" fill="#1c0000"/><path d="M2139 294l7-6 -3-9 -7 0z" fill="#1c0000"/><path d="M1941 370l7 0 -4-13 -8-2z" fill="#0f0000"/><path d="M2220 416l7 0 -3-11 -7 1z" fill="#0a0000"/><path d="M2320 428l7-1 -3-10 -8 0z" fill="#0a0000"/><path d="M2431 263l10-12 -3-13 -10 18z" fill="#250000"/><path d="M1880 366l7-1 -4-15 -8 1z" fill="#120000"/><path d="M2078 286l7-1 -3-12 -7 2z" fill="#1f0000"/><path d="M2136 279l7 0 -4-13 -7 1z" fill="#220000"/><path d="M2227 416l7-5 -3-8 -7 2z" fill="#0e0000"/><path d="M1935 302l3-15 2 7 -7 1z" fill="#1e0000"/><path d="M2478 267l6 2 -3-11 -1-23z" fill="#260000"/><path d="M1842 283l7-1 -11-30 -1 16z" fill="#210000"/><path d="M2130 436l7 0 -3-11 -7 1z" fill="#0b0000"/><path d="M2200 271l7-1 -3-11 -7 2z" fill="#250000"/><path d="M2311 351l8-4 -3-11 -7 1z" fill="#1a0000"/><path d="M2234 334l7 2 -3-10 -8-6z" fill="#1c0000"/><path d="M2369 240l7 0 -3-12 -8 5z" fill="#2b0000"/><path d="M2556 360l12-12 -5-7 -10 8z" fill="#1a0000"/><path d="M2297 255l7 0 -3-16 -6-16z" fill="#290000"/><path d="M2305 346l6 5 -2-14 -8 3z" fill="#1a0000"/><path d="M2421 254l7 2 0-30 -7-1z" fill="#2b0000"/><path d="M2365 233l8-5 -3-11 -7 0z" fill="#2e0000"/><path d="M1923 285l12 17 -2-7 -7 0z" fill="#210000"/><path d="M2547 347l6 2 -1-18 -6-2z" fill="#1d0000"/><path d="M1991 518l7 0 -3-11 -7 1z" fill="#010000"/><path d="M2002 404l8 1 -4-14 -7 3z" fill="#130000"/><path d="M2304 255l7-2 -1-36 -9 22z" fill="#2d0000"/><path d="M1988 508l7-1 -3-11 -8-1z" fill="#030000"/><path d="M2343 292l6 10 -3-11 -7-3z" fill="#250000"/><path d="M2244 343l7-6 -3-1 -7 0z" fill="#1e0000"/><path d="M1834 283l8 0 -5-15 -16-21z" fill="#270000"/><path d="M2131 282l8 12 -3-15 -8-5z" fill="#270000"/><path d="M2494 194l3 16 -4-7 -2-20z" fill="#350000"/><path d="M2261 272l7 4 -3-13 -7-1z" fill="#2a0000"/><path d="M2203 280l7-4 -3-6 -7 1z" fill="#290000"/><path d="M2420 251l4 13 -3-10 -3-22z" fill="#2e0000"/><path d="M2564 359l3 10 1-21 -12 12z" fill="#1e0000"/><path d="M2509 219l7-1 8-52 -10 9z" fill="#370000"/><path d="M1994 402l8 2 -3-10 -7 0z" fill="#160000"/><path d="M2268 276l7-5 -3-12 -7 4z" fill="#2b0000"/><path d="M1994 528l7-1 -3-9 -7 0z" fill="#030000"/><path d="M2047 354l7-2 -3-11 -7 2z" fill="#1e0000"/><path d="M2566 372l5 7 -4-10 -3-10z" fill="#1d0000"/><path d="M2372 374l7-1 -3-10 -7 0z" fill="#1c0000"/><path d="M1951 380l3-15 -1-2 -5 7z" fill="#1a0000"/><path d="M1891 377l3-12 -4-13 -3 13z" fill="#1b0000"/><path d="M2083 297l7-1 -1 3 -7 1z" fill="#260000"/><path d="M2039 354l8 0 -3-11 -8-1z" fill="#1f0000"/><path d="M2224 405l7-2 -3-21 -7 9z" fill="#180000"/><path d="M2137 436l7-7 -3-8 -7 4z" fill="#140000"/><path d="M2217 406l7-1 -3-14 -7-9z" fill="#190000"/><path d="M2373 228l8-4 -3-10 -8 3z" fill="#350000"/><path d="M2353 291l9-14 -4-8 -8 11z" fill="#2c0000"/><path d="M2327 427l8-7 -3-13 -8 10z" fill="#180000"/><path d="M2373 247l7-2 -4-5 -7 0z" fill="#330000"/><path d="M2196 274l7 6 -3-9 -7-3z" fill="#2e0000"/><path d="M2309 337l7-1 -3-17 -7 4z" fill="#270000"/><path d="M1998 518l6-7 -3-8 -6 4z" fill="#0a0000"/><path d="M2193 268l7 3 -3-10 -8-13z" fill="#310000"/><path d="M2127 426l7-1 -4-15 -8-6z" fill="#190000"/><path d="M2366 248l7-1 -4-7 -6-4z" fill="#350000"/><path d="M2379 373l7-2 -2-16 -8 8z" fill="#230000"/><path d="M2324 428l7 2 -4-3 -7 1z" fill="#1a0000"/><path d="M2070 281l8 5 -3-11 -10-17z" fill="#300000"/><path d="M2321 604l7-1 -3-11 -7 1z" fill="#010000"/><path d="M2339 288l7 3 -3-13 -5-20z" fill="#320000"/><path d="M1983 515l8 3 -3-10 -10-8z" fill="#0d0000"/><path d="M1869 358l14 18 -3-10 -11-10z" fill="#230000"/><path d="M2453 214l7 0 -3-9 -7 0z" fill="#3f0000"/><path d="M2154 338l8 0 -4-11 -7 1z" fill="#2b0000"/><path d="M2319 347l8-11 -3-7 -8 7z" fill="#2b0000"/><path d="M2526 176l-7 52 -6 0 -6-6z" fill="#3f0000"/><path d="M1995 507l6-4 -5-20 -4 13z" fill="#110000"/><path d="M2301 340l8-3 -3-14 -7-13z" fill="#2d0000"/><path d="M2179 448l7 0 -3-10 -7 0z" fill="#1b0000"/><path d="M2543 254l-1 28 -6-3 0-24z" fill="#370000"/><path d="M2376 376l7 4 -4-7 -7 1z" fill="#260000"/><path d="M2567 369l6 2 8-42 -13 19z" fill="#2a0000"/><path d="M2318 593l7-1 -3-11 -7-3z" fill="#060000"/><path d="M2428 256l10-18 -1-23 -9 11z" fill="#3d0000"/><path d="M2010 405l5-11 -3-10 -6 7z" fill="#220000"/><path d="M2450 205l7 0 -3-15 -7 1z" fill="#420000"/><path d="M2499 345l7-1 -3-10 -7 0z" fill="#2d0000"/><path d="M2370 437l7 1 -3-10 -7 1z" fill="#1f0000"/><path d="M2328 603l8-5 -4-7 -7 1z" fill="#060000"/><path d="M2467 337l5 6 -1-18 -6-3z" fill="#2f0000"/><path d="M2471 344l7 2 -6-3 -5-6z" fill="#2d0000"/><path d="M2350 280l8-11 -3-11 -7-6z" fill="#390000"/><path d="M1996 408l8 0 -2-4 -8-2z" fill="#220000"/><path d="M2472 343l10-11 -3-10 -8 3z" fill="#300000"/><path d="M2367 429l7-1 -3-11 -7-5z" fill="#220000"/><path d="M2309 350l7-3 -5 4 -6-5z" fill="#2d0000"/><path d="M1948 370l5-7 -11-37 2 31z" fill="#2b0000"/><path d="M2070 267l12 33 -4-14 -8-5z" fill="#360000"/><path d="M2498 492l7-1 -3-11 -8 1z" fill="#1a0000"/><path d="M2562 344l2 15 -8 1 -5-3z" fill="#2e0000"/><path d="M2447 396l7-1 -3-12 -7 2z" fill="#290000"/><path d="M2053 552l8 0 -4-11 -7 0z" fill="#0f0000"/><path d="M2370 252l6 4 -3-9 -7 1z" fill="#3d0000"/><path d="M2377 438l8-7 -4-4 -7 1z" fill="#220000"/><path d="M2358 269l7-1 -3-11 -7 1z" fill="#3c0000"/><path d="M2147 336l7 2 -3-10 -8-4z" fill="#310000"/><path d="M2443 409l7-2 -3-11 -6-3z" fill="#280000"/><path d="M2420 352l7-1 -3-10 -8 2z" fill="#300000"/><path d="M2264 270l8 4 -4 2 -7-4z" fill="#3b0000"/><path d="M1994 298l6-3 -2-9 -8 0z" fill="#370000"/><path d="M2004 408l5-10 1 7 -8-1z" fill="#260000"/><path d="M2272 274l7-7 -4 4 -7 5z" fill="#3c0000"/><path d="M2550 338l1 19 -4-10 -2-13z" fill="#320000"/><path d="M2182 457l7-2 -3-7 -7 0z" fill="#200000"/><path d="M2578 361l-4 28 -3-10 -5-7z" fill="#2e0000"/><path d="M2133 285l8 1 -2 8 -8-12z" fill="#390000"/><path d="M2593 457l7-1 -4-8 -7 0z" fill="#230000"/><path d="M2439 418l7 0 -3-9 -6-4z" fill="#280000"/><path d="M2450 407l9-6 -5-6 -7 1z" fill="#2a0000"/><path d="M1888 372l6-5 0-2 -3 12z" fill="#2c0000"/><path d="M2092 377l7-2 -4-10 -7 1z" fill="#2d0000"/><path d="M2374 428l7-1 -1-22 -9 12z" fill="#270000"/><path d="M2237 315l7 28 -3-7 -7-2z" fill="#340000"/><path d="M1997 311l6-8 -3-8 -6 3z" fill="#370000"/><path d="M2325 592l7-1 -1-22 -9 12z" fill="#0e0000"/><path d="M2446 418l9-6 -5-5 -7 2z" fill="#290000"/><path d="M2128 274l8 5 -4-12 -10-30z" fill="#3e0000"/><path d="M1988 303l9 8 -3-13 -8-1z" fill="#380000"/><path d="M2443 428l7 0 -4-10 -7 0z" fill="#280000"/><path d="M1999 394l7-3 -6-24 -7 3z" fill="#2d0000"/><path d="M2491 490l7 2 -4-11 -6-2z" fill="#1f0000"/><path d="M2489 271l10-12 -12 22 -4-11z" fill="#400000"/><path d="M2172 447l7 1 -3-10 -8-7z" fill="#250000"/><path d="M1992 394l7 0 -6-24 -9-3z" fill="#2d0000"/><path d="M2343 278l7 2 -2-28 -6-11z" fill="#410000"/><path d="M1875 356l13 16 3 5 -8-1z" fill="#2f0000"/><path d="M2491 269l13-20 4-41 -20 49z" fill="#450000"/><path d="M2419 294l7-3 -3-9 -8 5z" fill="#3e0000"/><path d="M2495 278l20-47 -11 18 -13 20z" fill="#430000"/><path d="M2316 417l8 0 -2-29 -7-3z" fill="#2d0000"/><path d="M2088 366l7-1 -3-14 -7 2z" fill="#320000"/><path d="M2557 254l2 17 -13 18 -4-7z" fill="#410000"/><path d="M2314 410l6 18 -4-11 -5-17z" fill="#2b0000"/><path d="M2238 326l7-1 -3-44 -8 19z" fill="#3b0000"/><path d="M2464 344l7 0 -4-7 -7-2z" fill="#380000"/><path d="M2307 232l5 26 -5 7 -7 0z" fill="#440000"/><path d="M2081 365l7 1 -3-13 -8 1z" fill="#330000"/><path d="M2516 218l7-1 16-80 -15 29z" fill="#500000"/><path d="M1980 508l14 20 -3-10 -8-3z" fill="#1b0000"/><path d="M2086 307l8 0 -4-11 -7 1z" fill="#3d0000"/><path d="M2049 358l4-17 1 11 -7 2z" fill="#350000"/><path d="M1840 285l-2-24 13 31 -6 2z" fill="#3f0000"/><path d="M2383 380l10-20 -7 11 -7 2z" fill="#340000"/><path d="M2121 418l9 18 -3-10 -9-16z" fill="#2b0000"/><path d="M2496 334l7 0 -1-20 -7 2z" fill="#3c0000"/><path d="M2422 306l7-2 -3-13 -7 3z" fill="#3f0000"/><path d="M1896 294l6-2 -3-13 -5 8z" fill="#3f0000"/><path d="M2045 548l8 4 -3-11 -8-3z" fill="#190000"/><path d="M2506 173l-5 45 -4-8 -3-16z" fill="#4f0000"/><path d="M2506 344l10-9 -4-9 -9 8z" fill="#3b0000"/><path d="M2275 271l8-15 -3-11 -8 14z" fill="#460000"/><path d="M2363 217l7 0 -2-22 -5-16z" fill="#4f0000"/><path d="M1926 349l18 31 -3-10 -13-17z" fill="#340000"/><path d="M2356 301l13-40 -7 16 -9 14z" fill="#420000"/><path d="M2427 351l8-4 -3-13 -8 7z" fill="#3a0000"/><path d="M2298 339l7 7 -4-6 -5-27z" fill="#3b0000"/><path d="M2531 395l7-2 -2-12 -9 4z" fill="#340000"/><path d="M2302 347l7 3 -4-4 -7-7z" fill="#3a0000"/><path d="M2038 339l11 19 -2-4 -8 0z" fill="#380000"/><path d="M2589 448l7 0 0-18 -7 0z" fill="#2d0000"/><path d="M2441 393l6 3 -3-11 -5-11z" fill="#350000"/><path d="M2312 258l10-32 -8 37 -7 2z" fill="#480000"/><path d="M2536 255l0 24 0-22 6-44z" fill="#4a0000"/><path d="M2083 368l9 9 -4-11 -7-1z" fill="#360000"/><path d="M2009 398l8 5 -2-9 -5 11z" fill="#310000"/><path d="M2327 336l8-1 -4-11 -7 5z" fill="#3d0000"/><path d="M2409 281l6 6 -2-19 -7 2z" fill="#460000"/><path d="M2192 283l7-2 -3-7 -8-2z" fill="#450000"/><path d="M2000 295l7-5 -4-13 -5 9z" fill="#420000"/><path d="M2561 470l7-1 -3-9 -7 0z" fill="#2a0000"/><path d="M2535 404l7 0 -4-11 -7 2z" fill="#340000"/><path d="M1930 285l7-2 -17-59 0 26z" fill="#460000"/><path d="M2015 394l7-1 -4-12 -6 3z" fill="#330000"/><path d="M2376 256l11-22 -7 11 -7 2z" fill="#4b0000"/><path d="M2460 335l7 2 -2-15 -6-6z" fill="#3f0000"/><path d="M2258 262l7 1 -3-32 -7 2z" fill="#4a0000"/><path d="M2417 463l7 0 -3-12 -8 2z" fill="#2b0000"/><path d="M2254 251l7 21 -3-10 -7-11z" fill="#480000"/><path d="M2157 342l7-8 -2 4 -8 0z" fill="#3c0000"/><path d="M2409 567l8-1 -3-11 -8 1z" fill="#1c0000"/><path d="M2478 346l12-21 -8 7 -10 11z" fill="#3e0000"/><path d="M2482 271l7 0 -6-1 -5-9z" fill="#490000"/><path d="M1821 257l19 28 5 9 -9-2z" fill="#440000"/><path d="M2335 420l8-9 -3-12 -8 8z" fill="#330000"/><path d="M2141 286l5-26 0 28 -7 6z" fill="#460000"/><path d="M2362 257l8-5 -4-4 -5-19z" fill="#4c0000"/><path d="M2482 332l8-4 -3-12 -8 6z" fill="#410000"/><path d="M2055 457l8 0 -3-12 -8 1z" fill="#2c0000"/><path d="M2134 425l7-4 -7-43 -4 32z" fill="#330000"/><path d="M2490 328l6 6 -1-18 -8 0z" fill="#410000"/><path d="M1940 294l-2-36 -4-13 3 38z" fill="#470000"/><path d="M1897 299l9 6 -4-13 -6 2z" fill="#430000"/><path d="M2358 494l7-1 -3-14 -7 0z" fill="#280000"/><path d="M2384 580l7 0 -3-11 -7 0z" fill="#1b0000"/><path d="M2230 320l8 6 -4-26 -7-21z" fill="#430000"/><path d="M2146 288l4-38 -1 13 -6 16z" fill="#480000"/><path d="M2089 299l2-41 -1 6 -5 21z" fill="#470000"/><path d="M2363 236l6 4 -4-7 0-51z" fill="#510000"/><path d="M2420 473l8-1 -4-9 -7 0z" fill="#2c0000"/><path d="M1981 303l7 0 -2-6 -8-2z" fill="#440000"/><path d="M2175 354l7-3 -3-11 -7 1z" fill="#3e0000"/><path d="M2478 261l5 9 -5-3 3-41z" fill="#4e0000"/><path d="M2414 281l5 13 -4-7 -6-6z" fill="#490000"/><path d="M2072 359l9 6 -4-11 -7-2z" fill="#3d0000"/><path d="M2376 240l15-49 -10 33 -8 4z" fill="#530000"/><path d="M2502 500l12-13 -9 4 -7 1z" fill="#2b0000"/><path d="M2001 527l-1-29 4 13 -6 7z" fill="#250000"/><path d="M2362 277l9-18 -6 9 -7 1z" fill="#4c0000"/><path d="M2445 192l5 13 -3-14 -4-15z" fill="#580000"/><path d="M2436 267l19-56 -14 40 -10 12z" fill="#500000"/><path d="M2553 349l10-8 14-59 -25 49z" fill="#440000"/><path d="M2143 279l6-16 -6-39 -4 42z" fill="#4d0000"/><path d="M2186 448l7-10 -3-19 -7 19z" fill="#320000"/><path d="M2058 466l8 0 -3-9 -8 0z" fill="#2e0000"/><path d="M2055 555l6-3 0 0 -8 0z" fill="#200000"/><path d="M2402 280l7 1 -3-11 -8 0z" fill="#4c0000"/><path d="M2050 541l7 0 -6-24 -6 6z" fill="#240000"/><path d="M2499 490l3 10 -4-8 -7-2z" fill="#2c0000"/><path d="M2429 304l9-10 -4-4 -8 1z" fill="#4a0000"/><path d="M1883 277l11 10 -6-19 -8-1z" fill="#4a0000"/><path d="M2256 213l7-1 -3-10 -8 15z" fill="#560000"/><path d="M2426 349l6 8 -5-6 -7 1z" fill="#410000"/><path d="M2195 293l7-5 -3-7 -7 2z" fill="#4a0000"/><path d="M2526 390l5 5 -4-10 -4-8z" fill="#3d0000"/><path d="M1869 356l11 10 -5-15 -25-46z" fill="#400000"/><path d="M2414 573l6 3 -3-10 -8 1z" fill="#210000"/><path d="M2090 296l7-6 -6-32 -2 41z" fill="#4a0000"/><path d="M1992 599l8 0 -4-11 -7 1z" fill="#1b0000"/><path d="M2085 285l5-21 -6-31 -2 40z" fill="#4e0000"/><path d="M2124 356l7-1 -3-9 -7 0z" fill="#410000"/><path d="M2270 420l7 0 -3-11 -7 0z" fill="#380000"/><path d="M2121 346l7 0 -4-14 -7 2z" fill="#430000"/><path d="M2316 347l10-30 -7 30 -8 4z" fill="#440000"/><path d="M2017 403l6-7 -1-3 -7 1z" fill="#3a0000"/><path d="M2248 200l8 13 -4 4 -7-2z" fill="#570000"/><path d="M1922 283l8 2 -10-35 -18-34z" fill="#4e0000"/><path d="M2267 409l7 0 -3-12 -7 1z" fill="#3a0000"/><path d="M2174 439l8 18 -3-9 -7-1z" fill="#330000"/><path d="M2099 375l5-14 -2-3 -7 7z" fill="#400000"/><path d="M1902 292l6-5 -3-11 -6 3z" fill="#4b0000"/><path d="M2231 619l7 0 -3-13 -8 1z" fill="#1b0000"/><path d="M2471 325l8-3 -2-18 -5-6z" fill="#490000"/><path d="M2251 251l7 11 -3-29 -8 1z" fill="#520000"/><path d="M2460 214l14-28 -7 5 -10 14z" fill="#5b0000"/><path d="M2369 363l7 0 1-37 -9 6z" fill="#440000"/><path d="M2331 344l7-3 -3-6 -8 1z" fill="#450000"/><path d="M2279 267l7-2 -3-9 -8 15z" fill="#500000"/><path d="M2130 418l8 9 -1 9 -7 0z" fill="#370000"/><path d="M2248 334l7-1 -4 4 -7 6z" fill="#460000"/><path d="M2355 258l7-1 -1-28 -8 5z" fill="#540000"/><path d="M2433 210l-4 57 -5-3 -4-13z" fill="#540000"/><path d="M2579 500l8-1 -4-11 -8 2z" fill="#300000"/><path d="M2187 287l8 6 -3-10 -8-1z" fill="#4d0000"/><path d="M2182 351l7-4 -3-11 -7 4z" fill="#450000"/><path d="M2294 474l7 0 -3-11 -8 0z" fill="#320000"/><path d="M1894 287l5-8 -8-23 -3 12z" fill="#4e0000"/><path d="M2417 566l7-2 -1-17 -9 8z" fill="#260000"/><path d="M2370 217l8-3 2-53 -12 34z" fill="#5c0000"/><path d="M2450 428l12-18 -7 2 -9 6z" fill="#3b0000"/><path d="M2362 499l8-4 -5-2 -7 1z" fill="#2f0000"/><path d="M2314 263l10-29 -1-37 -12 56z" fill="#560000"/><path d="M2273 430l8-1 -4-9 -7 0z" fill="#3a0000"/><path d="M2223 390l8 17 -4 9 -7 0z" fill="#3c0000"/><path d="M2499 319l0 26 -3-11 -6-6z" fill="#490000"/><path d="M2248 336l8-31 -3-20 -8 40z" fill="#4b0000"/><path d="M2184 282l8 1 -4-11 -7-11z" fill="#500000"/><path d="M2426 291l8-1 -1-25 -10 17z" fill="#500000"/><path d="M1983 312l8 1 -3-10 -7 0z" fill="#4b0000"/><path d="M1887 365l3-13 -19-54 12 52z" fill="#460000"/><path d="M1986 297l8 1 -4-12 -14-29z" fill="#4f0000"/><path d="M1894 367l8 0 -5-14 -3 12z" fill="#430000"/><path d="M2094 307l5-18 -2 1 -7 6z" fill="#4e0000"/><path d="M2189 455l7-16 -3-1 -7 10z" fill="#380000"/><path d="M2457 205l10-14 1-31 -14 30z" fill="#600000"/><path d="M2505 613l11-8 -6-6 -7 1z" fill="#210000"/><path d="M2452 186l1 28 -3-9 -5-13z" fill="#5e0000"/><path d="M2421 225l7 1 -1-20 -6-9z" fill="#5c0000"/><path d="M2221 391l7-9 -3-17 -8-12z" fill="#430000"/><path d="M2073 279l10 18 -1 3 -12-33z" fill="#500000"/><path d="M2600 456l14-15 -5-6 -13 13z" fill="#3a0000"/><path d="M2428 226l9-11 -3-11 -7 2z" fill="#5d0000"/><path d="M2479 322l8-6 -1-19 -9 7z" fill="#4e0000"/><path d="M2142 547l8-1 -3-9 -8-2z" fill="#2a0000"/><path d="M2044 343l7-2 -11-49 -2 25z" fill="#4b0000"/><path d="M2178 355l7 3 -3-7 -7 3z" fill="#470000"/><path d="M2416 337l4 15 -4-9 -4-16z" fill="#4a0000"/><path d="M2343 411l7-1 -3-11 -7 0z" fill="#400000"/><path d="M2115 608l7-2 -3-10 -7 0z" fill="#210000"/><path d="M2365 268l12-32 -7 16 -8 5z" fill="#570000"/><path d="M2542 404l11-12 -6-4 -9 5z" fill="#430000"/><path d="M2592 444l1 13 -4-9 -2-11z" fill="#3b0000"/><path d="M2568 472l6 4 -6-7 -7 1z" fill="#370000"/><path d="M2316 336l8-7 0-50 -11 40z" fill="#4e0000"/><path d="M2557 462l4 8 -3-10 -5-6z" fill="#390000"/><path d="M2417 293l5 13 -3-12 -5-13z" fill="#520000"/><path d="M2075 369l8-1 -2-3 -9-6z" fill="#450000"/><path d="M1906 305l2-18 0 0 -6 5z" fill="#500000"/><path d="M2415 528l8-1 -4-11 -8 3z" fill="#2f0000"/><path d="M2352 487l6 7 -3-15 -6-4z" fill="#350000"/><path d="M2356 283l9-14 -9 32 -7 1z" fill="#530000"/><path d="M2228 382l7-7 -3-11 -7 1z" fill="#460000"/><path d="M2061 552l4-15 -4-12 -4 16z" fill="#2c0000"/><path d="M1849 282l-11-48 5 11 -5 7z" fill="#560000"/><path d="M1880 267l8 1 -5-15 -6 3z" fill="#550000"/><path d="M1991 313l4-17 2 15 -9-8z" fill="#4f0000"/><path d="M2350 410l8-2 -3-11 -8 2z" fill="#420000"/><path d="M2227 526l7-2 -3-9 -8 0z" fill="#300000"/><path d="M1924 444l8 0 -3-11 -8 1z" fill="#3b0000"/><path d="M2487 566l7-1 -3-11 -8 1z" fill="#2b0000"/><path d="M2503 600l7-1 -2-14 -7 1z" fill="#260000"/><path d="M2507 403l7 0 -3-11 -8 1z" fill="#440000"/><path d="M2301 474l7-3 -3-14 -7 6z" fill="#390000"/><path d="M2405 189l7 0 -3-16 -6-4z" fill="#640000"/><path d="M2573 499l6 1 -4-10 -4-5z" fill="#360000"/><path d="M2541 446l8-2 -3-10 -8 1z" fill="#3e0000"/><path d="M2331 430l12-41 -8 31 -8 7z" fill="#400000"/><path d="M2263 212l7 2 -3-15 -7 3z" fill="#600000"/><path d="M2080 226l6-8 0 13 -7 1z" fill="#5c0000"/><path d="M1928 535l7-1 -2-9 -8-1z" fill="#2e0000"/><path d="M1921 434l8-1 -4-11 -8-2z" fill="#3d0000"/><path d="M2264 398l7-1 -3-17 -7 4z" fill="#450000"/><path d="M1898 306l8 0 0-1 -9-6z" fill="#500000"/><path d="M2249 502l8-3 -4-11 -7 1z" fill="#350000"/><path d="M2558 460l7 0 1-24 -8 4z" fill="#3e0000"/><path d="M2063 457l6-6 -5-19 -4 13z" fill="#3c0000"/><path d="M2151 328l7-1 -5-41 -6 14z" fill="#510000"/><path d="M1983 388l11 14 -2-8 -17-35z" fill="#450000"/><path d="M2378 574l6 6 -3-11 -6-5z" fill="#2b0000"/><path d="M2553 454l5 6 0-20 -9 4z" fill="#3e0000"/><path d="M2338 258l5 20 -1-37 -7 3z" fill="#5a0000"/><path d="M2509 332l6 6 -9 6 -7 1z" fill="#4f0000"/><path d="M2297 481l7 0 -3-7 -7 0z" fill="#390000"/><path d="M2523 377l4 8 1-23 -8 4z" fill="#4a0000"/><path d="M2227 607l8-1 -4-14 -7 1z" fill="#260000"/><path d="M2126 282l7 3 -2-3 -9-18z" fill="#560000"/><path d="M2424 341l8-7 0-26 -9 12z" fill="#510000"/><path d="M2416 343l8-2 -1-21 -4-18z" fill="#510000"/><path d="M2219 524l8 2 -4-11 -7 1z" fill="#330000"/><path d="M2164 334l8 7 -5-27 -5 24z" fill="#4f0000"/><path d="M1978 500l10 8 -4-13 -20-42z" fill="#360000"/><path d="M2036 342l8 1 -6-26 -14-30z" fill="#500000"/><path d="M2418 232l3 22 0-29 1-47z" fill="#610000"/><path d="M2500 404l7-1 -4-10 -6-3z" fill="#470000"/><path d="M2496 600l7 0 -2-14 -7-1z" fill="#2a0000"/><path d="M2245 215l7 2 -3-43 -7 4z" fill="#640000"/><path d="M1897 378l7-2 -2-9 -8 0z" fill="#480000"/><path d="M2216 516l7-1 -3-11 -7-4z" fill="#350000"/><path d="M2223 515l8 0 -4-17 -7 6z" fill="#350000"/><path d="M1935 534l7-2 -3-11 -6 4z" fill="#310000"/><path d="M2150 546l7-3 -4-14 -6 8z" fill="#310000"/><path d="M2107 606l8 2 -3-12 -8-2z" fill="#270000"/><path d="M2113 342l8 4 -4-12 -8-9z" fill="#4f0000"/><path d="M2281 429l7-3 -3-15 -8 9z" fill="#430000"/><path d="M2136 294l7-5 -2-3 -8-1z" fill="#570000"/><path d="M2420 576l12-15 -8 3 -7 2z" fill="#2e0000"/><path d="M2164 240l7-9 -3-11 -8 1z" fill="#600000"/><path d="M2428 472l10-14 -6-1 -8 6z" fill="#3e0000"/><path d="M1956 578l7-1 -3-12 -8 2z" fill="#2b0000"/><path d="M2381 569l7 0 -2-20 -7 1z" fill="#2f0000"/><path d="M2486 277l9-5 -6-1 -7 0z" fill="#5b0000"/><path d="M2326 317l5 27 -4-8 -8 11z" fill="#510000"/><path d="M2206 584l8 1 -4-15 -7 4z" fill="#2c0000"/><path d="M2225 365l7-1 -3-11 -7 0z" fill="#4d0000"/><path d="M1969 287l9 8 -6-21 -6 3z" fill="#580000"/><path d="M2087 300l8 5 -1 2 -8 0z" fill="#550000"/><path d="M2000 599l5-8 -3-9 -6 6z" fill="#2a0000"/><path d="M2364 399l3 30 -3-17 -6-4z" fill="#460000"/><path d="M2381 427l10-16 -2-16 -9 10z" fill="#470000"/><path d="M1933 349l10 7 8 24 -7 0z" fill="#4b0000"/><path d="M2419 536l7 1 -3-10 -8 1z" fill="#340000"/><path d="M2243 246l8 5 -4-17 -7 1z" fill="#600000"/><path d="M2412 189l8-6 -2-20 -9 10z" fill="#6a0000"/><path d="M2494 481l8-1 5-36 -12 14z" fill="#3f0000"/><path d="M1928 353l13 17 -5-15 -26-56z" fill="#4f0000"/><path d="M2199 281l6-40 -2 39 -7-6z" fill="#5c0000"/><path d="M2147 311l10 31 -3-4 -7-2z" fill="#520000"/><path d="M2238 209l7 6 -3-37 -8 4z" fill="#670000"/><path d="M2584 508l9-6 -6-3 -8 1z" fill="#3a0000"/><path d="M2571 485l4 5 -1-14 -6-4z" fill="#3e0000"/><path d="M2253 510l7-4 -3-7 -8 3z" fill="#390000"/><path d="M2207 270l7-28 -4-34 -6 51z" fill="#600000"/><path d="M2277 433l7 5 -3-9 -8 1z" fill="#440000"/><path d="M2487 316l8 0 -1-22 -8 3z" fill="#580000"/><path d="M2292 213l5 42 -2-32 -6-17z" fill="#640000"/><path d="M2429 297l7 0 -7 7 -7 2z" fill="#590000"/><path d="M2454 395l12-16 -1-24 -14 28z" fill="#4e0000"/><path d="M1984 495l8 1 -9-30 -13-19z" fill="#3d0000"/><path d="M2368 349l4 25 -3-11 -2-36z" fill="#510000"/><path d="M2006 391l6-7 -12-45 0 28z" fill="#4d0000"/><path d="M1989 589l7-1 -5-19 -8 0z" fill="#2e0000"/><path d="M2605 450l6 2 -11 4 -7 1z" fill="#440000"/><path d="M2516 377l7 0 -3-11 -7 0z" fill="#510000"/><path d="M1886 367l11 11 -3-11 -6 5z" fill="#4e0000"/><path d="M1992 496l4-13 -8-28 -5 11z" fill="#3f0000"/><path d="M2095 365l7-7 -7-39 -3 32z" fill="#520000"/><path d="M2065 358l7 1 -2-7 -10-14z" fill="#520000"/><path d="M2066 466l4-19 -1 4 -6 6z" fill="#430000"/><path d="M1872 266l8 1 -3-11 -12-13z" fill="#5f0000"/><path d="M2260 397l7 12 -3-11 -7-5z" fill="#4c0000"/><path d="M1948 577l8 1 -4-11 -8-4z" fill="#310000"/><path d="M2505 491l14-20 -2-13 -15 22z" fill="#420000"/><path d="M2167 237l7 4 -3-10 -7 9z" fill="#640000"/><path d="M1978 295l8 2 -10-40 -4 17z" fill="#5d0000"/><path d="M2084 423l7-1 -3-9 -7 2z" fill="#490000"/><path d="M2114 340l10 16 -3-10 -8-4z" fill="#540000"/><path d="M2209 592l8-1 -3-6 -8-1z" fill="#300000"/><path d="M2506 596l-1 17 -2-13 -7 0z" fill="#2f0000"/><path d="M2458 317l2 18 -1-19 -6-4z" fill="#590000"/><path d="M2483 555l8-1 -2-16 -7 1z" fill="#380000"/><path d="M2385 431l12-23 -6 3 -10 16z" fill="#4a0000"/><path d="M2499 259l20-48 -24 67 -8 3z" fill="#630000"/><path d="M1981 379l15 29 -2-6 -11-14z" fill="#4d0000"/><path d="M2061 552l7-6 -3-9 -4 15z" fill="#360000"/><path d="M2240 235l7-1 -3-12 -7 1z" fill="#670000"/><path d="M1929 433l5-6 -5-15 -4 10z" fill="#480000"/><path d="M2145 550l8 5 -3-9 -8 1z" fill="#360000"/><path d="M2172 341l7-1 -4-23 -8-3z" fill="#580000"/><path d="M2210 276l7-47 -3 13 -7 28z" fill="#630000"/><path d="M2265 263l7-4 -1-64 -9 36z" fill="#660000"/><path d="M1958 277l8 0 -4-11 -8-2z" fill="#600000"/><path d="M2049 612l7-1 -3-11 -8 0z" fill="#2e0000"/><path d="M2436 297l7 3 -5-6 -9 10z" fill="#5e0000"/><path d="M2242 498l7 4 -3-13 -7-8z" fill="#400000"/><path d="M2252 217l8-15 -3-26 -8-2z" fill="#6d0000"/><path d="M2545 334l2 13 -1-18 12-56z" fill="#5b0000"/><path d="M2411 458l6 5 -4-10 -2-24z" fill="#470000"/><path d="M2299 310l7 13 -2-35 -7 0z" fill="#5d0000"/><path d="M2389 581l9-4 -7 3 -7 0z" fill="#340000"/><path d="M2238 619l8-14 -4-4 -7 5z" fill="#2f0000"/><path d="M2432 357l14-33 -11 23 -8 4z" fill="#580000"/><path d="M1870 263l13 14 -3-10 -8-1z" fill="#610000"/><path d="M2405 556l4 11 -3-11 -3-15z" fill="#380000"/><path d="M1911 478l7-1 -3-11 -8-2z" fill="#430000"/><path d="M2324 417l8-10 2-56 -12 37z" fill="#500000"/><path d="M2297 198l3 67 -3-10 -5-42z" fill="#680000"/><path d="M2077 354l8-1 -7-31 -7 1z" fill="#570000"/><path d="M2003 303l-1-37 5 24 -7 5z" fill="#5e0000"/><path d="M1981 590l11 9 -3-10 -11-9z" fill="#310000"/><path d="M2231 407l7-37 -4 41 -7 5z" fill="#4f0000"/><path d="M1914 488l7-1 -3-10 -7 1z" fill="#410000"/><path d="M2066 360l9 9 -3-10 -7-1z" fill="#540000"/><path d="M2112 596l7 0 -5-22 -6 7z" fill="#330000"/><path d="M2568 469l14-15 -2-14 -15 20z" fill="#490000"/><path d="M2077 423l7 0 -3-8 -8-4z" fill="#4c0000"/><path d="M2398 270l8 0 -3-18 -4-19z" fill="#660000"/><path d="M2391 580l12-18 -6-3 -9 10z" fill="#370000"/><path d="M1967 282l14 21 -3-8 -9-8z" fill="#5f0000"/><path d="M2036 231l6-6 -1 1 -8 0z" fill="#690000"/><path d="M2322 226l6 18 -4-10 -10 29z" fill="#680000"/><path d="M1960 283l9 4 -3-10 -8 0z" fill="#610000"/><path d="M2412 177l5 11 -5 1 -7 0z" fill="#710000"/><path d="M2443 176l4 15 4-47 -13 27z" fill="#740000"/><path d="M2522 379l4 11 -3-13 -7 0z" fill="#550000"/><path d="M2550 442l3 12 -4-10 -8 2z" fill="#4b0000"/><path d="M2538 374l-3 30 -4-9 -5-5z" fill="#530000"/><path d="M2070 352l7 2 -6-31 -7 1z" fill="#590000"/><path d="M2423 527l8-3 -1-20 -11 12z" fill="#400000"/><path d="M2406 270l7-2 2-38 -12 22z" fill="#680000"/><path d="M2173 495l7-3 -3-10 -8 0z" fill="#440000"/><path d="M2057 541l4-16 -4-14 -6 6z" fill="#3e0000"/><path d="M2495 316l7-2 2-29 -10 9z" fill="#610000"/><path d="M2081 415l7-2 -4-18 -7 4z" fill="#500000"/><path d="M2543 545l7 0 -3-12 -7 1z" fill="#3e0000"/><path d="M2490 325l9-6 -9 9 -8 4z" fill="#5e0000"/><path d="M1851 292l-17-66 4 8 11 48z" fill="#650000"/><path d="M2569 575l7 0 -5-8 -7 0z" fill="#3a0000"/><path d="M2424 463l8-6 3-36 -14 30z" fill="#4b0000"/><path d="M2007 290l3-20 -2-4 -5 11z" fill="#640000"/><path d="M2534 510l6 2 -2-13 -7 1z" fill="#440000"/><path d="M1958 586l5-7 0-2 -7 1z" fill="#360000"/><path d="M2180 492l7-1 -3-10 -7 1z" fill="#450000"/><path d="M2027 280l7-2 -3-11 -8 1z" fill="#640000"/><path d="M2311 400l5 17 -1-32 -5-22z" fill="#540000"/><path d="M2220 598l7 9 -3-14 -7-2z" fill="#350000"/><path d="M1906 306l4-11 -2-8 -2 18z" fill="#600000"/><path d="M2419 449l1 24 -3-10 -6-5z" fill="#4a0000"/><path d="M2120 519l8 0 -3-5 -7-1z" fill="#410000"/><path d="M2115 475l7 2 -3-12 -7 0z" fill="#470000"/><path d="M2386 371l13-31 -3-13 -12 28z" fill="#5b0000"/><path d="M1998 286l5-9 -5-21 -12-16z" fill="#660000"/><path d="M2267 208l7 6 -4 0 -7-2z" fill="#6f0000"/><path d="M2538 438l3 8 -3-11 -3-10z" fill="#4f0000"/><path d="M2224 280l7-1 -3-10 -7 1z" fill="#660000"/><path d="M2453 312l6 4 -1-18 -8 3z" fill="#620000"/><path d="M2197 261l7-2 -5-66 -7 17z" fill="#6c0000"/><path d="M1918 477l7-2 -5-16 -5 7z" fill="#470000"/><path d="M2046 448l9 9 -3-11 -12-24z" fill="#4c0000"/><path d="M2241 188l7 12 -3 15 -7-6z" fill="#710000"/><path d="M2188 272l8 2 -3-6 -10-65z" fill="#690000"/><path d="M2260 202l7-3 -3-18 -7-5z" fill="#730000"/><path d="M2162 338l5-24 -4-31 -5 44z" fill="#600000"/><path d="M1966 277l6-3 -5-20 -5 12z" fill="#660000"/><path d="M2494 565l11-11 -5-7 -9 7z" fill="#3e0000"/><path d="M2549 444l9-4 1-22 -13 16z" fill="#500000"/><path d="M2003 277l5-11 -3-10 -7 0z" fill="#680000"/><path d="M2118 488l7-3 -3-8 -7-2z" fill="#480000"/><path d="M2478 257l4 14 -4-10 -2-19z" fill="#6b0000"/><path d="M2422 297l7 0 -7 9 -5-13z" fill="#640000"/><path d="M2548 553l6 2 -4-10 -7 0z" fill="#400000"/><path d="M1932 444l1-17 1 0 -5 6z" fill="#4e0000"/><path d="M2171 231l7-4 -3-17 -7 10z" fill="#6f0000"/><path d="M2234 300l8-19 -3-5 -8 3z" fill="#660000"/><path d="M1871 246l25 48 -2-7 -11-10z" fill="#660000"/><path d="M2042 538l8 3 -5-18 -15-30z" fill="#410000"/><path d="M2576 575l7-1 -3-13 -9 6z" fill="#3d0000"/><path d="M2202 591l7 1 -3-8 -7-4z" fill="#390000"/><path d="M1949 428l5-10 -2-6 -5 6z" fill="#510000"/><path d="M2193 438l7-4 -3-19 -7 4z" fill="#510000"/><path d="M2227 279l7 21 -3-21 -7 1z" fill="#670000"/><path d="M1911 430l13 14 -3-10 -10-6z" fill="#4f0000"/><path d="M2122 419l8-1 0 18 -9-18z" fill="#520000"/><path d="M2527 511l7-1 -3-10 -8 0z" fill="#470000"/><path d="M2538 393l9-5 8-44 -19 37z" fill="#5b0000"/><path d="M2539 179l9-7 -25 66 -4-10z" fill="#740000"/><path d="M2067 194l13 32 -1 6 -8-1z" fill="#700000"/><path d="M2018 456l6-5 -3-12 -8 0z" fill="#4e0000"/><path d="M1991 596l8 2 1 1 -8 0z" fill="#370000"/><path d="M1852 250l3-11 4 7 -8-1z" fill="#6c0000"/><path d="M2447 191l7-1 4-46 -7 0z" fill="#7a0000"/><path d="M2503 393l8-1 2-28 -10 9z" fill="#5a0000"/><path d="M2507 401l6 5 -6-3 -7 1z" fill="#570000"/><path d="M2446 312l7 0 -3-11 -7-1z" fill="#650000"/><path d="M2503 498l7-1 -8 3 -3-10z" fill="#490000"/><path d="M2437 167l6 9 -5-5 -5-9z" fill="#7a0000"/><path d="M2274 214l7-2 -3-12 -8 14z" fill="#730000"/><path d="M2548 172l9-5 -26 68 -8 3z" fill="#750000"/><path d="M2426 537l12-16 -7 3 -8 3z" fill="#440000"/><path d="M2575 490l8-2 9-38 -18 26z" fill="#4d0000"/><path d="M2023 268l8-1 -4-14 -7 1z" fill="#6b0000"/><path d="M2355 479l7 0 0-32 -9 10z" fill="#4e0000"/><path d="M2328 244l7 0 -3-11 -8 1z" fill="#700000"/><path d="M2401 170l4 19 -2-20 -7-4z" fill="#7a0000"/><path d="M2169 482l8 0 -3-11 -8-6z" fill="#4c0000"/><path d="M2388 569l9-10 -1-19 -10 9z" fill="#410000"/><path d="M2367 327l2 36 -1-31 -7-2z" fill="#610000"/><path d="M2304 481l10-21 -6 11 -7 3z" fill="#4d0000"/><path d="M2203 574l7-4 -3-15 -8 0z" fill="#3f0000"/><path d="M2417 188l11-18 -8 13 -8 6z" fill="#790000"/><path d="M2196 439l7-1 -3-4 -7 4z" fill="#520000"/><path d="M2365 182l0 51 -2-16 -1-52z" fill="#760000"/><path d="M2074 272l12 35 -3-10 -10-18z" fill="#670000"/><path d="M2165 318l10 36 -3-13 -8-7z" fill="#610000"/><path d="M2538 435l8-1 1-25 -8 3z" fill="#560000"/><path d="M2075 275l7-2 -11-68 -6 12z" fill="#6f0000"/><path d="M2412 327l4 16 3-41 -9 10z" fill="#640000"/><path d="M2486 297l8-3 -3-9 -7-1z" fill="#6a0000"/><path d="M2358 322l7-1 -3-12 -8 2z" fill="#650000"/><path d="M2113 416l8 2 -3-8 -9-8z" fill="#560000"/><path d="M2503 334l9-8 11-60 -21 48z" fill="#670000"/><path d="M2127 271l9 23 -3-9 -7-3z" fill="#690000"/><path d="M2212 367l8 49 -3-10 -8-40z" fill="#5a0000"/><path d="M2359 475l3 24 -4-5 -6-7z" fill="#4c0000"/><path d="M2056 611l6-5 -4-13 -5 7z" fill="#390000"/><path d="M2118 513l7 1 -4-21 -8 1z" fill="#480000"/><path d="M2231 279l8-3 -4-13 -7 6z" fill="#6c0000"/><path d="M2169 503l7-2 -3-6 -8-3z" fill="#4a0000"/><path d="M1926 533l10 6 -1-5 -7 1z" fill="#430000"/><path d="M2536 257l4 9 12-61 3-35z" fill="#740000"/><path d="M2051 620l6-5 -1-4 -7 1z" fill="#380000"/><path d="M2251 344l7 0 -3-11 -7 1z" fill="#620000"/><path d="M2284 438l9-22 -5 10 -7 3z" fill="#550000"/><path d="M2415 287l8-5 8-73 -18 59z" fill="#6f0000"/><path d="M2017 270l6-2 -3-14 -9-4z" fill="#6d0000"/><path d="M2370 495l9-13 -4-4 -10 15z" fill="#4d0000"/><path d="M2478 341l14-26 -14 31 -7-2z" fill="#640000"/><path d="M2209 366l8 40 -3-24 -8-26z" fill="#5d0000"/><path d="M1894 365l3-12 -17-51 10 50z" fill="#600000"/><path d="M2554 555l11-8 -7-4 -8 2z" fill="#450000"/><path d="M2355 413l9-14 -6 9 -8 2z" fill="#590000"/><path d="M2335 244l7-3 -3-12 -7 4z" fill="#720000"/><path d="M2246 492l7 18 -4-8 -7-4z" fill="#4b0000"/><path d="M2177 482l7-1 -4-22 -6 12z" fill="#4f0000"/><path d="M1937 411l10 7 -6-19 -7 1z" fill="#570000"/><path d="M1938 417l11 11 -2-10 -10-7z" fill="#560000"/><path d="M2445 392l-2 36 -4-10 -3-17z" fill="#590000"/><path d="M2247 460l7-1 -3-11 -7 1z" fill="#520000"/><path d="M2277 420l8-9 -2-33 -9 31z" fill="#590000"/><path d="M2040 608l9 4 -4-12 -9-6z" fill="#3b0000"/><path d="M2019 457l8 3 -3-9 -6 5z" fill="#510000"/><path d="M2231 403l8-66 -4 38 -7 7z" fill="#5e0000"/><path d="M2361 330l7 2 -3-11 -7 1z" fill="#660000"/><path d="M2532 517l5 4 -3-11 -7 1z" fill="#4b0000"/><path d="M2086 218l7-3 -3-10 -4 26z" fill="#750000"/><path d="M2513 406l11-12 -10 9 -7 0z" fill="#5c0000"/><path d="M2349 399l6 14 -5-3 -7 1z" fill="#5a0000"/><path d="M2090 357l8 1 1 17 -7 2z" fill="#5f0000"/><path d="M2527 280l8-2 -3-11 -7 0z" fill="#6f0000"/><path d="M1921 487l3-13 1 1 -7 2z" fill="#4e0000"/><path d="M2564 567l7 0 0-18 -6-2z" fill="#450000"/><path d="M2199 580l7 4 -3-10 -8-15z" fill="#410000"/><path d="M2117 611l6-10 -1 5 -7 2z" fill="#3c0000"/><path d="M2496 561l4 8 -6-4 -7 1z" fill="#440000"/><path d="M2361 229l5 19 -3-12 0-65z" fill="#770000"/><path d="M2094 325l7 1 -3-10 -7 0z" fill="#670000"/><path d="M2101 326l8-1 -4-12 -7 3z" fill="#670000"/><path d="M2511 392l11-13 -6-2 -3-13z" fill="#600000"/><path d="M2008 266l9 4 -6-20 -6 6z" fill="#6f0000"/><path d="M2078 425l9 7 -3-9 -7 0z" fill="#570000"/><path d="M2568 348l13-19 11-49 -29 61z" fill="#690000"/><path d="M2348 252l7 6 -2-24 -2-42z" fill="#750000"/><path d="M2250 471l8-2 -4-10 -7 1z" fill="#520000"/><path d="M2091 316l7 0 -3-11 -8-5z" fill="#690000"/><path d="M2488 479l6 2 1-23 3-33z" fill="#540000"/><path d="M1838 234l14 16 -1-5 -8 0z" fill="#720000"/><path d="M2161 504l8-1 -4-11 -7-1z" fill="#4d0000"/><path d="M2143 324l8 4 -4-28 -12-41z" fill="#6a0000"/><path d="M2550 545l8-2 2-22 -13 12z" fill="#4a0000"/><path d="M2153 555l5-21 -1 9 -7 3z" fill="#470000"/><path d="M2272 259l8-14 -3-21 -6-29z" fill="#760000"/><path d="M1925 422l4-10 -2-10 -11-7z" fill="#5a0000"/><path d="M1945 572l13 14 -2-8 -8-1z" fill="#410000"/><path d="M2491 285l10-13 -6 0 -9 5z" fill="#710000"/><path d="M2077 399l7-4 -3-10 -8 0z" fill="#5e0000"/><path d="M2107 472l8 3 -3-10 -8-3z" fill="#520000"/><path d="M1937 283l-3-38 -5-16 -9-5z" fill="#730000"/><path d="M2223 599l8 20 -4-12 -7-9z" fill="#3e0000"/><path d="M2189 347l7-21 -3-6 -7 16z" fill="#670000"/><path d="M2180 359l8-5 -3 4 -7-3z" fill="#630000"/><path d="M2039 522l16 33 -2-3 -8-4z" fill="#470000"/><path d="M2027 460l7-2 -3-10 -7 3z" fill="#540000"/><path d="M2478 315l0 26 -7 3 -7 0z" fill="#680000"/><path d="M2024 451l7-3 -4-14 -6 5z" fill="#560000"/><path d="M2179 340l7-4 -5-43 -6 24z" fill="#690000"/><path d="M2044 435l14 31 -3-9 -9-9z" fill="#550000"/><path d="M2322 375l2 53 -4 0 -6-18z" fill="#5d0000"/><path d="M2412 252l2 29 -5 0 -7-1z" fill="#720000"/><path d="M2138 427l3-46 3 48 -7 7z" fill="#5b0000"/><path d="M2335 335l9-20 -2-25 -11 34z" fill="#6b0000"/><path d="M2185 358l6-38 -2 27 -7 4z" fill="#660000"/><path d="M2176 438l7 0 -5-54 -7 14z" fill="#5c0000"/><path d="M2537 521l12-12 -9 3 -6-2z" fill="#4f0000"/><path d="M2414 555l9-8 -4-11 -2-21z" fill="#4a0000"/><path d="M2308 400l6 10 -3-10 -7-9z" fill="#5f0000"/><path d="M1938 287l-9-59 9 30 2 36z" fill="#710000"/><path d="M2413 510l2 18 -4-9 -4-13z" fill="#4e0000"/><path d="M2258 344l8-4 -4-13 -7 6z" fill="#680000"/><path d="M2277 224l7-1 -3-11 -7 2z" fill="#7a0000"/><path d="M2008 446l10 10 -5-17 -8-3z" fill="#570000"/><path d="M2164 512l8 1 -3-10 -8 1z" fill="#4e0000"/><path d="M2121 493l7 0 -3-8 -7 3z" fill="#510000"/><path d="M2540 534l7-1 2-24 -12 12z" fill="#4e0000"/><path d="M2525 150l1 26 -19 46 -6-4z" fill="#7f0000"/><path d="M2552 457l5 5 -4-8 -3-12z" fill="#580000"/><path d="M2095 305l5-22 -1 6 -5 18z" fill="#6e0000"/><path d="M2485 551l2 15 -4-11 -3-11z" fill="#490000"/><path d="M2443 300l7 1 0-28 -12 21z" fill="#700000"/><path d="M2438 458l7 0 -3-12 -10 11z" fill="#580000"/><path d="M1898 305l8 2 0-1 -8 0z" fill="#6c0000"/><path d="M2087 432l5-13 -1 3 -7 1z" fill="#5b0000"/><path d="M1929 412l8-1 -3-11 -7 2z" fill="#5d0000"/><path d="M2409 335l7 2 -4-10 -6-3z" fill="#6b0000"/><path d="M2217 591l7 2 -3-31 -7 23z" fill="#440000"/><path d="M2365 493l10-15 0-33 -13 34z" fill="#550000"/><path d="M2131 355l4-32 -1 6 -6 17z" fill="#680000"/><path d="M2465 185l9-9 -14 38 -7 0z" fill="#7f0000"/><path d="M2391 411l8-6 -3-9 -7-1z" fill="#600000"/><path d="M2393 360l10-10 -4-10 -13 31z" fill="#670000"/><path d="M2540 512l12-11 -4-10 -10 8z" fill="#520000"/><path d="M2036 386l8 2 -3-8 -8-2z" fill="#620000"/><path d="M2406 324l6 3 -2-15 -8 2z" fill="#6d0000"/><path d="M2587 437l2 11 0-18 10-41z" fill="#5e0000"/><path d="M2590 480l-6 28 -5-8 -6-1z" fill="#530000"/><path d="M2113 519l7 0 -2-6 -9-11z" fill="#4f0000"/><path d="M2574 476l18-26 -10 4 -14 15z" fill="#590000"/><path d="M2246 489l7-1 -3-17 -7-17z" fill="#550000"/><path d="M2423 320l9-12 -3-11 -7 0z" fill="#700000"/><path d="M2318 569l3 35 -3-11 -4-26z" fill="#460000"/><path d="M2596 448l13-13 15-52 -28 47z" fill="#5f0000"/><path d="M2494 585l7 1 -1-17 -4-8z" fill="#480000"/><path d="M2104 594l8 2 -4-15 -11-19z" fill="#450000"/><path d="M2514 487l12-14 -7-2 -14 20z" fill="#560000"/><path d="M2033 378l8 2 -4-14 -8-4z" fill="#640000"/><path d="M2235 375l8-26 -4 7 -7 8z" fill="#670000"/><path d="M2421 197l6 9 1-36 -11 18z" fill="#810200"/><path d="M1990 286l8 0 -12-46 -10-10z" fill="#750000"/><path d="M2611 452l14-15 -11 4 -14 15z" fill="#5c0000"/><path d="M2306 323l7-4 2-72 -11 41z" fill="#710000"/><path d="M2125 514l6-13 -3-8 -7 0z" fill="#520000"/><path d="M2291 473l6 8 -3-7 -6-21z" fill="#570000"/><path d="M2437 405l6 4 -2-16 8-66z" fill="#650000"/><path d="M2436 401l3 17 -2-13 3-45z" fill="#630000"/><path d="M2210 570l8-5 -4-14 -7 4z" fill="#4a0000"/><path d="M2063 557l8-1 -3-10 -7 6z" fill="#4a0000"/><path d="M1899 438l7-1 -3-10 -7 0z" fill="#5b0000"/><path d="M2073 411l8 4 -4-16 -11-18z" fill="#610000"/><path d="M1917 420l8 2 -9-27 -9-4z" fill="#5f0000"/><path d="M2454 190l14-30 -5-5 -5-11z" fill="#860700"/><path d="M2123 529l7-3 -2-7 -8 0z" fill="#4f0000"/><path d="M2015 256l12 24 -4-12 -6 2z" fill="#750000"/><path d="M2257 393l7 5 -3-14 -7-34z" fill="#650000"/><path d="M2274 409l9-31 -4 1 -8 18z" fill="#640000"/><path d="M2443 169l2 23 -2-16 -6-9z" fill="#850500"/><path d="M2459 401l20-50 -13 28 -12 16z" fill="#660000"/><path d="M2481 258l7-1 17-90 -10 12z" fill="#7f0000"/><path d="M2173 359l7 0 -2-4 -8-6z" fill="#690000"/><path d="M1934 427l4-10 -1-6 -8 1z" fill="#5f0000"/><path d="M2307 338l8-8 -6 20 -7-3z" fill="#6c0000"/><path d="M2054 549l9 8 -2-5 -6 3z" fill="#4b0000"/><path d="M2486 250l0 27 -4-6 -4-14z" fill="#790000"/><path d="M2118 410l9 16 -5-22 -15-63z" fill="#630000"/><path d="M2170 349l8 6 -3-1 -10-36z" fill="#6b0000"/><path d="M1902 477l12 11 -3-10 -11-10z" fill="#560000"/><path d="M2407 506l4 13 1-26 -8 1z" fill="#550000"/><path d="M2044 388l6-8 -2-3 -7 3z" fill="#650000"/><path d="M2580 584l11-9 -8-1 -7 1z" fill="#4b0000"/><path d="M2251 337l10-70 -5 38 -8 31z" fill="#710000"/><path d="M2340 399l7 0 -2-23 -5-19z" fill="#670000"/><path d="M2512 555l7 0 -3-11 -8 1z" fill="#4f0000"/><path d="M2183 287l7-1 -3 1 -7-8z" fill="#750000"/><path d="M2351 319l7 3 -4-11 -5-12z" fill="#710000"/><path d="M2232 364l7-8 -3-35 -7 32z" fill="#6c0000"/><path d="M2527 385l9-4 14-64 -22 45z" fill="#6b0000"/><path d="M1925 524l8 1 -9-25 -11-10z" fill="#520000"/><path d="M2241 306l7 28 -4 9 -7-28z" fill="#700000"/><path d="M2214 585l7-23 -3 3 -8 5z" fill="#4b0000"/><path d="M2571 567l9-6 2-21 -11 9z" fill="#4f0000"/><path d="M2254 459l8-1 -3-22 -8 12z" fill="#5d0000"/><path d="M2322 194l8-3 -4-7 -7 0z" fill="#850500"/><path d="M1906 437l5-7 0-2 -8-1z" fill="#5f0000"/><path d="M2041 380l7-3 -5-22 -6 11z" fill="#690000"/><path d="M2233 229l7 6 -3-12 -7-26z" fill="#800000"/><path d="M1995 296l-1-34 9 41 -6 8z" fill="#740000"/><path d="M1899 279l6-3 -18-57 4 37z" fill="#790000"/><path d="M2247 234l8-1 -3-47 -8 36z" fill="#800100"/><path d="M2505 554l7 1 -4-10 -8 2z" fill="#500000"/><path d="M2190 419l7-4 -3-10 -8 0z" fill="#630000"/><path d="M2471 445l8-2 -3-12 -8 1z" fill="#610000"/><path d="M2189 248l8 13 -5-51 -8-29z" fill="#7f0000"/><path d="M2235 606l7-5 -3-37 -8 28z" fill="#490000"/><path d="M2116 423l6-4 -1-1 -8-2z" fill="#620000"/><path d="M2468 160l6 6 -5-5 -6-6z" fill="#8a0b00"/><path d="M2190 286l7-19 -2 26 -8-6z" fill="#770000"/><path d="M2236 218l7 28 -3-11 -7-6z" fill="#7f0000"/><path d="M2183 438l7-19 -4-14 -8-21z" fill="#640000"/><path d="M2191 438l8 11 -3-10 -7 16z" fill="#5f0000"/><path d="M1933 525l6-4 -12-33 -3 12z" fill="#540000"/><path d="M2174 241l6-32 -2 18 -7 4z" fill="#800000"/><path d="M2333 232l5 26 -3-14 -7 0z" fill="#7e0000"/><path d="M2359 524l7 2 -3-13 -8 1z" fill="#550000"/><path d="M2122 606l5-18 -3-10 -5 18z" fill="#490000"/><path d="M2455 412l24-65 -20 54 -9 6z" fill="#690000"/><path d="M2484 284l7 1 -5-8 0-27z" fill="#7a0000"/><path d="M2467 191l12-24 -5-1 -6-6z" fill="#8a0a00"/><path d="M2445 458l8 0 -3-12 -8 0z" fill="#600000"/><path d="M2474 373l7 2 -3-14 -7 1z" fill="#6d0000"/><path d="M2297 288l7 0 -3-10 -7-1z" fill="#790000"/><path d="M2330 573l5 16 -7 14 -7 1z" fill="#4b0000"/><path d="M2140 584l7 1 -4-15 -7 4z" fill="#4c0000"/><path d="M2549 383l6 5 -13 16 -7 0z" fill="#690000"/><path d="M2010 453l9 4 -1-1 -10-10z" fill="#5e0000"/><path d="M2593 502l13-12 -5-8 -14 17z" fill="#5b0000"/><path d="M2105 415l8 1 -4-14 -8-3z" fill="#650000"/><path d="M2420 183l12-25 -5-5 -9 10z" fill="#8b0c00"/><path d="M2494 294l10-9 -3-13 -10 13z" fill="#7a0000"/><path d="M2240 456l7 4 -3-11 -8-9z" fill="#600000"/><path d="M2358 408l6 4 5-66 -14 51z" fill="#690000"/><path d="M2172 513l6-11 -2-1 -7 2z" fill="#580000"/><path d="M2108 472l10 16 -3-13 -8-3z" fill="#5c0000"/><path d="M2106 593l11 18 -2-3 -8-2z" fill="#490000"/><path d="M2234 524l7-15 -3-19 -7 25z" fill="#570000"/><path d="M2270 214l8-14 -2-44 -9 43z" fill="#870700"/><path d="M2132 520l10 27 -3-12 -9-9z" fill="#540000"/><path d="M1948 425l9 4 -3-11 -5 10z" fill="#630000"/><path d="M2477 304l9-7 -2-13 0-29z" fill="#7a0000"/><path d="M2176 501l6-18 -2 9 -7 3z" fill="#5a0000"/><path d="M2565 460l15-20 2-26 -16 22z" fill="#640000"/><path d="M2545 438l5 4 -9 4 -3-8z" fill="#640000"/><path d="M2355 226l1 57 -7 19 -6-10z" fill="#7b0000"/><path d="M2069 451l4-18 -3-9 -6 8z" fill="#630000"/><path d="M1902 243l24 52 -4-12 -35-89z" fill="#7d0000"/><path d="M2212 590l8 8 -3-7 -8 1z" fill="#4c0000"/><path d="M2053 341l7-3 -9-42 3 56z" fill="#720000"/><path d="M2098 316l7-3 -5-30 -5 22z" fill="#760000"/><path d="M2506 509l8-3 -4-9 -7 1z" fill="#5b0000"/><path d="M2258 469l8-14 -4 3 -8 1z" fill="#600000"/><path d="M2260 186l7 22 -4 4 -7 1z" fill="#860700"/><path d="M1947 418l5-6 -10-34 -1 21z" fill="#680000"/><path d="M2343 389l6 10 -6 12 -8 9z" fill="#690000"/><path d="M2515 338l22-47 -21 44 -10 9z" fill="#750000"/><path d="M2283 256l8-19 -2-28 -9 36z" fill="#820200"/><path d="M2508 545l8-1 -3-13 -6-3z" fill="#560000"/><path d="M2411 519l8-3 5-42 -12 19z" fill="#5b0000"/><path d="M2308 471l9-12 -2-29 -10 27z" fill="#620000"/><path d="M2199 449l8-1 -4-10 -7 1z" fill="#630000"/><path d="M2594 504l7 1 -8-3 -9 6z" fill="#5b0000"/><path d="M1901 239l22 46 3 10 -24-52z" fill="#7c0000"/><path d="M2034 278l3-22 -1 0 -5 11z" fill="#7d0000"/><path d="M2062 606l7-5 -4-11 -7 3z" fill="#4b0000"/><path d="M2069 365l7 0 -1 4 -9-9z" fill="#6e0000"/><path d="M1986 501l5-8 10 34 -7 1z" fill="#580000"/><path d="M2255 341l7 8 -4-5 -7 0z" fill="#720000"/><path d="M2379 317l-3 59 -4-2 -4-25z" fill="#710000"/><path d="M2290 463l8 0 -2-33 -7-9z" fill="#640000"/><path d="M2125 485l6-13 -3-8 -6 13z" fill="#5e0000"/><path d="M2525 267l7 0 0-21 -8 1z" fill="#810100"/><path d="M2397 559l8-3 -2-15 -7-1z" fill="#550000"/><path d="M2514 403l20-38 -12 14 -11 13z" fill="#6e0000"/><path d="M2284 223l8-10 -3-7 -8 6z" fill="#860700"/><path d="M2205 241l8-13 -3 48 -7 4z" fill="#7f0000"/><path d="M2294 483l8-3 -5 1 -6-8z" fill="#5f0000"/><path d="M2280 245l9-36 -5 14 -7 1z" fill="#840500"/><path d="M2320 471l8-2 -4-10 -7 0z" fill="#610000"/><path d="M2565 547l6 2 0-18 -13 12z" fill="#570000"/><path d="M2112 465l7 0 -6-28 -6 7z" fill="#620000"/><path d="M2247 214l7 37 -3 0 -8-5z" fill="#820300"/><path d="M2466 379l8-6 -3-11 -6-7z" fill="#700000"/><path d="M2314 460l6 11 -3-12 -9 12z" fill="#610000"/><path d="M1996 588l6-6 -13-41 2 28z" fill="#500000"/><path d="M2474 166l10-12 -5-5 -10 12z" fill="#901000"/><path d="M2443 292l3 20 -3-12 -7-3z" fill="#7a0000"/><path d="M1954 524l7-3 -3-12 -7 2z" fill="#580000"/><path d="M2560 223l-3 31 -15 28 1-28z" fill="#820300"/><path d="M2406 171l6 6 -7 12 -4-19z" fill="#8d0d00"/><path d="M2338 341l13-41 -7 15 -9 20z" fill="#770000"/><path d="M2122 477l6-13 -4-18 -5 19z" fill="#610000"/><path d="M2519 555l10-7 -5-7 -8 3z" fill="#570000"/><path d="M2501 586l7-1 8-38 -16 22z" fill="#530000"/><path d="M2481 226l-3 41 2-32 7-60z" fill="#860700"/><path d="M2465 443l6 2 -3-13 -5-5z" fill="#670000"/><path d="M2369 490l7 1 -6 4 -8 4z" fill="#5f0000"/><path d="M2021 194l15 37 -3-5 -8-7z" fill="#860700"/><path d="M2399 405l9-4 -3-13 -9 8z" fill="#6d0000"/><path d="M2580 569l0 15 -4-9 -7 0z" fill="#530000"/><path d="M2347 399l8-2 2-52 -12 31z" fill="#700000"/><path d="M2114 519l9 10 -3-10 -7 0z" fill="#5a0000"/><path d="M2147 585l7-5 -3-11 -8 1z" fill="#520000"/><path d="M2587 499l14-17 5-30 -23 36z" fill="#620000"/><path d="M2166 465l8 6 -5-26 -7 5z" fill="#640000"/><path d="M2139 535l8 2 -6-32 -9-9z" fill="#5a0000"/><path d="M2380 245l18-72 -7 18 -15 49z" fill="#890a00"/><path d="M2113 494l8-1 -3-5 -10-16z" fill="#5f0000"/><path d="M2455 300l3 17 -5-5 -7 0z" fill="#7b0000"/><path d="M2500 401l7 0 -7 3 -2-19z" fill="#6e0000"/><path d="M2418 412l6 5 -2-16 -7-3z" fill="#6d0000"/><path d="M2476 453l8-5 -5-5 -8 2z" fill="#670000"/><path d="M2427 206l7-2 3-44 -9 10z" fill="#8e0e00"/><path d="M1954 418l7-2 -5-17 -4 13z" fill="#6a0000"/><path d="M2501 503l5 6 -3-11 -8 1z" fill="#5f0000"/><path d="M2061 525l6-9 -2-6 -8 1z" fill="#5b0000"/><path d="M2297 391l7 0 -3-12 -7 1z" fill="#6f0000"/><path d="M2073 385l8 0 -5-20 -7 0z" fill="#700000"/><path d="M2010 270l5-14 2 14 -9-4z" fill="#800100"/><path d="M2397 408l7 4 -5-7 -8 6z" fill="#6d0000"/><path d="M2388 556l1 25 -5-1 -6-6z" fill="#540000"/><path d="M2342 241l6 11 3-60 -12 37z" fill="#870800"/><path d="M2128 346l6-17 -7-48 -3 51z" fill="#790000"/><path d="M1936 539l-3-28 9 21 -7 2z" fill="#590000"/><path d="M2523 500l8 0 0-22 -5-5z" fill="#620000"/><path d="M2497 390l6 3 0-20 2-33z" fill="#730000"/><path d="M2376 363l8-8 9-86 -16 57z" fill="#790000"/><path d="M1956 530l8 2 -3-11 -7 3z" fill="#5a0000"/><path d="M2324 329l7-5 2-57 -9 12z" fill="#7e0000"/><path d="M1799 217l37 75 -2-9 -37-73z" fill="#820300"/><path d="M2495 499l8-1 -4-8 -3-14z" fill="#620000"/><path d="M2130 526l9 9 -7-39 -4 23z" fill="#5c0000"/><path d="M1884 286l14 20 -1-7 -18-30z" fill="#7d0000"/><path d="M2574 289l-12 55 -11 13 -1-19z" fill="#7a0000"/><path d="M2005 591l3-12 -3-12 -3 15z" fill="#530000"/><path d="M2288 453l6 21 -4-11 -5-33z" fill="#670000"/><path d="M2168 431l8 7 -5-40 -9-25z" fill="#6d0000"/><path d="M2498 385l2 19 -3-14 1-26z" fill="#720000"/><path d="M2265 372l5 48 -3-11 -7-12z" fill="#6f0000"/><path d="M2394 165l7 5 -5-5 -6-5z" fill="#931300"/><path d="M2424 417l9-7 -2-16 -9 7z" fill="#6f0000"/><path d="M2135 594l8-1 -3-9 -8-2z" fill="#530000"/><path d="M2234 603l8 4 -4 12 -7 0z" fill="#500000"/><path d="M2259 202l5 68 -3 2 -7-21z" fill="#860600"/><path d="M1888 431l11 7 -3-11 -11-6z" fill="#690000"/><path d="M2085 353l7-2 -13-73 -1 44z" fill="#7a0000"/><path d="M2368 332l9-6 -1-31 -11 26z" fill="#7c0000"/><path d="M2535 278l13-20 -6-1 -10 10z" fill="#850500"/><path d="M2070 447l7-2 -4-12 -4 18z" fill="#680000"/><path d="M2217 353l8 12 -3-12 -8-38z" fill="#770000"/><path d="M2301 401l7-1 -4-9 -7 0z" fill="#710000"/><path d="M2065 537l5-10 -3-11 -6 9z" fill="#5c0000"/><path d="M2296 313l5 27 -2-30 -3-65z" fill="#7e0000"/><path d="M2089 225l7 1 -3-11 -7 3z" fill="#8a0a00"/><path d="M2135 259l12 41 -4-11 -7 5z" fill="#800100"/><path d="M1907 464l8 2 -10-31 -8 2z" fill="#670000"/><path d="M2328 469l7-3 -3-11 -8 4z" fill="#670000"/><path d="M2349 475l6 4 -2-22 -2-31z" fill="#680000"/><path d="M2128 519l4-23 -1 5 -6 13z" fill="#600000"/><path d="M2243 454l7 17 -3-11 -7-4z" fill="#670000"/><path d="M2000 444l8 2 -3-10 -8-2z" fill="#690000"/><path d="M2287 485l7-2 -3-10 -8 0z" fill="#650000"/><path d="M2304 391l7 9 -1-37 -9 16z" fill="#730000"/><path d="M2465 322l6 3 1-27 8-65z" fill="#810100"/><path d="M2031 267l5-11 -6-30 -3 27z" fill="#860600"/><path d="M2186 298l7-2 -3-10 -7 1z" fill="#800100"/><path d="M2290 282l7 6 -3-11 -8-3z" fill="#820300"/><path d="M2432 158l5 9 -4-5 -6-9z" fill="#951600"/><path d="M2068 546l6-7 -4-12 -5 10z" fill="#5b0000"/><path d="M1970 243l7-1 -17-69 -5 12z" fill="#8b0c00"/><path d="M2543 510l-3 24 -3-13 -5-4z" fill="#600000"/><path d="M1916 395l11 7 -7-19 -7 0z" fill="#710000"/><path d="M2510 497l18-28 -14 18 -12 13z" fill="#650000"/><path d="M1938 258l5-8 -2-7 -7 2z" fill="#860600"/><path d="M2122 264l9 18 -3-8 -17-91z" fill="#860700"/><path d="M1942 247l16 30 -4-13 -11-14z" fill="#850500"/><path d="M2417 515l2 21 -4-8 -2-18z" fill="#600000"/><path d="M2423 417l6 4 -5-4 -6-5z" fill="#6f0000"/><path d="M2525 263l2 17 -2-13 -4-12z" fill="#860700"/><path d="M2474 186l11-17 -6-2 -12 24z" fill="#931400"/><path d="M2237 520l8 0 -4-11 -7 15z" fill="#600000"/><path d="M2143 570l8-1 -4-12 -7 1z" fill="#590000"/><path d="M2417 177l4 20 -4-9 -5-11z" fill="#921300"/><path d="M2399 320l7 4 -4-10 -4-14z" fill="#7f0000"/><path d="M1942 532l0-21 -3-11 0 21z" fill="#5f0000"/><path d="M1964 269l19 43 -2-9 -14-21z" fill="#800100"/><path d="M2479 378l8-1 -6-2 -7-2z" fill="#760000"/><path d="M2200 434l7-25 -3 3 -7 3z" fill="#6f0000"/><path d="M1911 428l10 6 -4-14 -24-44z" fill="#6e0000"/><path d="M2179 214l7-19 -4-27 -7 4z" fill="#911200"/><path d="M2230 505l7 15 -3 4 -7 2z" fill="#600000"/><path d="M2421 451l14-30 -6 0 -6-4z" fill="#6e0000"/><path d="M2503 128l-9 66 -3-11 1-32z" fill="#961600"/><path d="M2100 301l13 41 -4-17 -8 1z" fill="#7d0000"/><path d="M2064 324l7-1 -3-12 -9-4z" fill="#7e0000"/><path d="M2459 181l6 4 -12 29 -1-28z" fill="#921200"/><path d="M2552 501l7-1 -3-10 -8 1z" fill="#650000"/><path d="M2480 544l3 11 -1-16 1-26z" fill="#5f0000"/><path d="M2417 533l-3 40 -5-6 -4-11z" fill="#5c0000"/><path d="M2262 458l7-8 -3-11 -7-3z" fill="#6c0000"/><path d="M2513 364l3 13 -3-11 3-34z" fill="#7a0000"/><path d="M2444 385l7-2 10-66 -11 16z" fill="#7a0000"/><path d="M2413 453l8-2 2-34 -2-27z" fill="#6f0000"/><path d="M2221 270l7-1 -3-28 -8-12z" fill="#880900"/><path d="M2531 500l7-1 5-33 -12 12z" fill="#670000"/><path d="M2132 582l8 2 -4-10 -8-9z" fill="#580000"/><path d="M2429 300l-3 49 -6 3 -4-15z" fill="#7d0000"/><path d="M1879 269l18 30 -1-5 -25-48z" fill="#830400"/><path d="M2197 415l7-3 -3-19 -7 12z" fill="#720000"/><path d="M2363 530l7-1 -4-3 -7-2z" fill="#600000"/><path d="M2432 308l11-16 -7 5 -7 0z" fill="#830300"/><path d="M2358 305l3 25 -3-8 -7-3z" fill="#7f0000"/><path d="M1996 483l2-20 -3-11 -7 3z" fill="#680000"/><path d="M2084 395l5-14 -2-8 -6 12z" fill="#750000"/><path d="M2183 203l10 65 -4-20 -9-39z" fill="#8c0c00"/><path d="M2500 569l16-22 -11 7 -11 11z" fill="#5d0000"/><path d="M2579 429l-11 43 -7-2 -4-8z" fill="#6c0000"/><path d="M2324 234l8-1 -2-28 -7-8z" fill="#8f0f00"/><path d="M2225 454l7-1 -3-10 -7 4z" fill="#6c0000"/><path d="M1846 302l29 54 8 20 -14-18z" fill="#790000"/><path d="M1896 427l7 0 -8-24 -6 4z" fill="#700000"/><path d="M2054 352l-3-56 -5-20 5 65z" fill="#7f0000"/><path d="M2516 605l13-15 0-18 -19 27z" fill="#580000"/><path d="M2296 518l8-2 -3-11 -8 1z" fill="#630000"/><path d="M2482 539l7-1 3-28 -9 5z" fill="#620000"/><path d="M2371 259l13-36 -7 13 -12 32z" fill="#8b0c00"/><path d="M1964 532l6-6 -2-7 -7 2z" fill="#600000"/><path d="M2332 407l8-8 0-42 -6-6z" fill="#770000"/><path d="M2158 461l8 4 -4-15 -7 1z" fill="#6b0000"/><path d="M2429 463l13-25 -14 34 -8 1z" fill="#6c0000"/><path d="M2432 457l10-11 -1-20 -6-5z" fill="#6f0000"/><path d="M2294 277l7 1 -2-27 -8 11z" fill="#880900"/><path d="M2381 224l17-70 -4-1 -16 61z" fill="#941500"/><path d="M2060 338l10 14 -6-28 -13-28z" fill="#7e0000"/><path d="M2474 274l-10 70 -4-9 -2-18z" fill="#810200"/><path d="M2375 564l6 5 -2-19 1-39z" fill="#5f0000"/><path d="M2193 320l7 1 -3-12 -8-7z" fill="#810200"/><path d="M1927 402l7-2 -10-30 -4 13z" fill="#750000"/><path d="M2222 447l7-4 -3-13 -8 1z" fill="#6f0000"/><path d="M1934 245l7-2 -4-13 -8-1z" fill="#8b0c00"/><path d="M2273 460l7 2 -3-12 -8 0z" fill="#6d0000"/><path d="M2253 488l9-40 -4 21 -8 2z" fill="#6a0000"/><path d="M2285 231l6 31 -5 3 -7 2z" fill="#8a0b00"/><path d="M2071 323l7-1 -4-20 -6 9z" fill="#810100"/><path d="M2503 414l8-4 -4-9 -7 0z" fill="#750000"/><path d="M2203 329l8-2 -4-10 -7 4z" fill="#800000"/><path d="M2437 215l15-35 -4-10 -14 34z" fill="#951500"/><path d="M2106 407l10 16 -3-7 -8-1z" fill="#720000"/><path d="M1943 250l11 14 -9-33 -4 12z" fill="#8b0b00"/><path d="M2373 373l-3 64 -3-8 -3-30z" fill="#740000"/><path d="M1934 613l8 1 -3-11 -7 2z" fill="#550000"/><path d="M2317 171l5 23 -3-10 -7-2z" fill="#961600"/><path d="M2406 556l8-1 3-40 -5-9z" fill="#620000"/><path d="M1943 356l-8-54 19 63 -3 15z" fill="#7b0000"/><path d="M2109 325l8 9 -10-66 -2 45z" fill="#820200"/><path d="M2051 517l6-6 -4-18 -9-3z" fill="#650000"/><path d="M2286 265l11-48 -6 20 -8 19z" fill="#8d0d00"/><path d="M2147 537l6-8 -6-39 -6 15z" fill="#640000"/><path d="M2401 502l6 4 -3-12 -7 1z" fill="#670000"/><path d="M2058 593l7-3 -3-13 -9-3z" fill="#590000"/><path d="M2422 178l-1 47 0-28 -4-20z" fill="#951500"/><path d="M1999 598l-1-26 7 19 -5 8z" fill="#580000"/><path d="M2196 326l7 3 -3-8 -7-1z" fill="#810100"/><path d="M2472 441l4 12 -5-8 -6-2z" fill="#700000"/><path d="M2480 235l1 23 14-79 -5-14z" fill="#931300"/><path d="M2362 165l1 52 0-38 -4-32z" fill="#971800"/><path d="M2232 453l8 3 -4-16 -7 3z" fill="#6f0000"/><path d="M2023 310l16 44 -3-12 -23-76z" fill="#810100"/><path d="M2069 601l6-5 -2-7 -8 1z" fill="#580000"/><path d="M2513 366l7 0 3-32 -3-14z" fill="#7f0000"/><path d="M2222 520l8-15 -3 21 -8-2z" fill="#640000"/><path d="M2230 167l8 42 -4-27 -7-20z" fill="#971700"/><path d="M2429 421l10-11 -6 0 -9 7z" fill="#750000"/><path d="M2269 450l8 0 -3-14 -8 3z" fill="#700000"/><path d="M2304 516l7-1 -3-11 -7 1z" fill="#660000"/><path d="M2189 302l8 7 -4-13 -7 2z" fill="#850500"/><path d="M2455 534l7-1 -3-10 -7 0z" fill="#640000"/><path d="M2033 226l8 0 -10-50 -8 2z" fill="#931300"/><path d="M2186 336l7-16 -4-18 -8-9z" fill="#830400"/><path d="M2266 455l7 5 -4-10 -7 8z" fill="#6e0000"/><path d="M1942 614l7-3 -2-8 -8 0z" fill="#570000"/><path d="M2283 473l8 0 -3-20 -8 9z" fill="#6d0000"/><path d="M2143 593l6-12 -2 4 -7-1z" fill="#5b0000"/><path d="M2271 195l6 29 -3-10 -7-6z" fill="#931400"/><path d="M2036 593l15 27 -2-8 -9-4z" fill="#570000"/><path d="M2065 590l8-1 -5-15 -6 3z" fill="#5b0000"/><path d="M2273 566l7-1 -3-12 -8 1z" fill="#600000"/><path d="M2066 381l11 18 -4-14 -10-14z" fill="#790000"/><path d="M2516 544l8-3 3-27 -14 17z" fill="#650000"/><path d="M2493 203l8-2 22-112 -10 7z" fill="#9e1e00"/><path d="M2165 492l8 3 -4-13 -10-39z" fill="#6b0000"/><path d="M2045 600l8 0 -10-34 -6 6z" fill="#5b0000"/><path d="M2255 333l7-6 -1-60 -10 70z" fill="#840400"/><path d="M2178 294l8 4 -3-11 -8-5z" fill="#880800"/><path d="M2448 170l4 16 -7 6 -2-23z" fill="#991a00"/><path d="M2542 532l1 13 -3-11 3-24z" fill="#660000"/><path d="M2310 363l5 22 -2-25 -8 7z" fill="#7d0000"/><path d="M1888 268l3-12 -23-72 15 69z" fill="#8e0e00"/><path d="M2108 581l6-7 -5-20 -7 0z" fill="#5f0000"/><path d="M2200 321l7-4 -3-20 -7 12z" fill="#850600"/><path d="M1961 521l7-2 -6-21 -4 11z" fill="#660000"/><path d="M2057 511l8-1 -5-19 -7 2z" fill="#680000"/><path d="M2176 358l7 6 -3-5 -7 0z" fill="#7e0000"/><path d="M2213 228l8 42 -4-41 -7 47z" fill="#8e0f00"/><path d="M2305 367l8-7 -3-9 -8 1z" fill="#7f0000"/><path d="M1957 429l3-15 1 2 -7 2z" fill="#740000"/><path d="M2495 272l22-57 -18 44 -10 12z" fill="#8f0f00"/><path d="M2422 461l7 2 -9 10 -1-24z" fill="#700000"/><path d="M2383 393l5 16 -11 29 -7-1z" fill="#760000"/><path d="M2001 503l-9-61 6 21 -2 20z" fill="#6d0000"/><path d="M1855 239l10 4 -16-45 10 48z" fill="#901100"/><path d="M1897 437l8-2 1 2 -7 1z" fill="#720000"/><path d="M1908 287l-7-48 1 4 3 33z" fill="#8c0d00"/><path d="M2438 238l21-65 -7 7 -15 35z" fill="#971800"/><path d="M2132 267l7-1 -9-80 -9-11z" fill="#931300"/><path d="M2202 288l7-45 -4-2 -6 40z" fill="#8d0e00"/><path d="M2491 554l9-7 11-49 -22 40z" fill="#670000"/><path d="M2404 494l8-1 -2-19 -9 9z" fill="#6e0000"/><path d="M2180 279l7 8 -3-5 -10-69z" fill="#8d0e00"/><path d="M2459 316l6 6 15-89 -22 65z" fill="#8a0b00"/><path d="M2302 352l8-1 -3-13 -8 4z" fill="#820300"/><path d="M2465 393l3 17 -6 0 -12 18z" fill="#790000"/><path d="M2601 505l9-4 -4-11 -13 12z" fill="#6d0000"/><path d="M2155 451l7-1 -3-13 -8 0z" fill="#730000"/><path d="M2519 471l10-6 -4-11 -8 4z" fill="#720000"/><path d="M2291 486l6 7 -3-10 -7 2z" fill="#6e0000"/><path d="M2538 499l10-8 -1-16 -4-9z" fill="#6f0000"/><path d="M1998 256l7 0 -7-27 -10-13z" fill="#911100"/><path d="M2071 556l4-13 -1-4 -6 7z" fill="#640000"/><path d="M2143 358l7-2 -3-11 -7 1z" fill="#810200"/><path d="M2053 600l5-7 -5-19 -10-8z" fill="#5f0000"/><path d="M2406 312l3 23 -3-11 -7-4z" fill="#870700"/><path d="M2281 212l8-6 -2-40 -9 34z" fill="#991a00"/><path d="M2539 266l6 4 -10 8 -8 2z" fill="#8f0f00"/><path d="M2265 565l8 1 -4-12 -7-1z" fill="#630000"/><path d="M2237 223l7-1 -3-34 -7-20z" fill="#981900"/><path d="M2314 567l4 26 -3-15 -1-55z" fill="#630000"/><path d="M2173 565l7-1 -3-15 -7 5z" fill="#630000"/><path d="M2423 547l20-48 -17 38 -7-1z" fill="#690000"/><path d="M2491 183l2 20 20-107 -10 11z" fill="#a22200"/><path d="M2535 425l3 10 1-23 5-34z" fill="#7b0000"/><path d="M2128 493l5-18 -2-3 -6 13z" fill="#6f0000"/><path d="M2344 315l7 4 -2-20 -7-9z" fill="#8a0a00"/><path d="M2549 509l13-13 -10 5 -12 11z" fill="#6d0000"/><path d="M2005 256l6-6 -7-32 -6 11z" fill="#921300"/><path d="M1972 274l4-17 -8-29 -1 26z" fill="#901100"/><path d="M2154 204l10 36 -4-19 -10-48z" fill="#971800"/><path d="M2396 540l7 1 -3-15 -7 0z" fill="#690000"/><path d="M2012 384l6-3 -17-70 -1 28z" fill="#810200"/><path d="M2293 506l8-1 -4-12 -6-7z" fill="#6e0000"/><path d="M2065 258l10 17 -10-58 -15-47z" fill="#941500"/><path d="M2322 581l9-12 -1-27 -4-27z" fill="#660000"/><path d="M2403 541l3 15 6-50 -12 20z" fill="#690000"/><path d="M2558 440l8-4 10-45 -17 27z" fill="#7a0000"/><path d="M2262 349l8-31 -4 22 -8 4z" fill="#860600"/><path d="M2168 220l7-10 -5-33 -7 0z" fill="#9a1b00"/><path d="M2257 499l8-22 -3-29 -9 40z" fill="#710000"/><path d="M2195 559l8 15 -4-19 -8-23z" fill="#660000"/><path d="M2428 170l9-10 -5-2 -12 25z" fill="#a02000"/><path d="M2157 201l10 36 -3 3 -10-36z" fill="#971700"/><path d="M2311 253l12-56 1-57 -14 77z" fill="#9a1b00"/><path d="M2451 459l9-6 -7 5 -8 0z" fill="#750000"/><path d="M2136 574l7-4 -3-12 -9-14z" fill="#650000"/><path d="M2290 512l6 6 -3-12 -7-4z" fill="#6d0000"/><path d="M1910 509l18 26 -3-11 -21-31z" fill="#6b0000"/><path d="M2244 222l8-36 -4 14 -7-12z" fill="#9b1c00"/><path d="M2175 210l6-31 -2 35 -9-37z" fill="#9b1c00"/><path d="M2073 433l8-2 -3-6 -8-1z" fill="#780000"/><path d="M2165 565l8 0 -3-11 -8-5z" fill="#660000"/><path d="M2299 356l6 11 -3-15 -7 1z" fill="#840500"/><path d="M2298 463l7-6 1-56 -10 29z" fill="#780000"/><path d="M1894 477l8 0 -2-9 -10-5z" fill="#720000"/><path d="M2548 491l8-1 0-22 -9 7z" fill="#730000"/><path d="M2176 575l7-4 -3-7 -7 1z" fill="#640000"/><path d="M1907 391l9 4 -3-12 -9-2z" fill="#7e0000"/><path d="M2419 302l4 18 -1-23 -2-30z" fill="#8e0e00"/><path d="M2537 439l8-1 -7 0 -4-10z" fill="#7a0000"/><path d="M2064 559l8-2 -1-1 -8 1z" fill="#660000"/><path d="M2419 516l11-12 -2-20 -4-10z" fill="#710000"/><path d="M1948 585l8-1 2 2 -13-14z" fill="#620000"/><path d="M2315 330l10-33 -9 50 -7 3z" fill="#890900"/><path d="M2397 495l7-1 -3-11 -5-12z" fill="#720000"/><path d="M2575 528l-11 39 1-20 -11 8z" fill="#6a0000"/><path d="M2255 233l7-2 -2-45 -8 0z" fill="#9b1b00"/><path d="M2127 588l8 6 -3-12 -8-4z" fill="#630000"/><path d="M2022 393l-2-41 -6-24 4 53z" fill="#830300"/><path d="M2605 330l11-10 -36 72 -6-3z" fill="#860700"/><path d="M1934 400l7-1 -9-29 -8 0z" fill="#800000"/><path d="M2388 409l11-22 -14 44 -8 7z" fill="#7d0000"/><path d="M1932 557l16 20 -4-14 -17-22z" fill="#660000"/><path d="M2526 473l5 5 -2-13 -10 6z" fill="#760000"/><path d="M2364 412l7 5 4-61 -6-10z" fill="#820300"/><path d="M1952 567l8-2 -17-47 -2 17z" fill="#680000"/><path d="M2077 321l13 36 2 20 -9-9z" fill="#850500"/><path d="M2474 176l11-12 -11 22 -14 28z" fill="#a02100"/><path d="M2147 557l5-27 1 25 -8-5z" fill="#690000"/><path d="M2366 526l10-14 -3-15 -10 16z" fill="#700000"/><path d="M1952 202l18 41 -15-58 -5 11z" fill="#9b1b00"/><path d="M2511 410l13-17 -11 13 -6-5z" fill="#800100"/><path d="M2203 438l7-20 -3-9 -7 25z" fill="#7c0000"/><path d="M2267 400l6 30 -3-10 -5-48z" fill="#7f0000"/><path d="M2479 167l10-11 -5-2 -10 12z" fill="#a42500"/><path d="M1897 487l8 0 -3-10 -8 0z" fill="#720000"/><path d="M2245 520l7-1 -3-12 -8 2z" fill="#6f0000"/><path d="M2529 465l8-2 -6-7 -6-2z" fill="#790000"/><path d="M2377 236l17-63 -18 83 -6-4z" fill="#9a1a00"/><path d="M2547 533l13-12 2-25 -13 13z" fill="#710000"/><path d="M2025 219l8 7 -10-48 -9-7z" fill="#9d1e00"/><path d="M1942 511l12 13 -3-13 -12-11z" fill="#6f0000"/><path d="M1870 263l1-17 12 31 -13-14z" fill="#931400"/><path d="M2433 410l12-18 -9 9 -5-7z" fill="#820200"/><path d="M2096 226l5-20 -1 3 -7 6z" fill="#9c1c00"/><path d="M2597 268l-31 104 -2-13 -2-15z" fill="#8c0c00"/><path d="M2267 199l9-43 -4-5 -8 30z" fill="#a32300"/><path d="M2180 209l9 39 -5-67 -6 46z" fill="#9c1c00"/><path d="M2460 385l5 8 -15 35 -7 0z" fill="#810100"/><path d="M2534 365l4 9 -12 16 -4-11z" fill="#860600"/><path d="M2168 570l8 5 -3-10 -8 0z" fill="#680000"/><path d="M1975 359l17 35 -8-27 -26-68z" fill="#870700"/><path d="M2031 522l14 26 -3-10 -20-49z" fill="#6e0000"/><path d="M1958 192l7-5 12 55 -7 1z" fill="#9b1c00"/><path d="M1997 434l8 2 -8-27 -6 6z" fill="#7d0000"/><path d="M2438 294l12-21 6-56 -22 73z" fill="#961600"/><path d="M2442 446l8 0 2-32 -11 12z" fill="#7e0000"/><path d="M2335 589l14-40 -13 49 -8 5z" fill="#670000"/><path d="M2441 251l23-76 -5-2 -21 65z" fill="#9e1f00"/><path d="M1972 266l15 28 4 19 -8-1z" fill="#901000"/><path d="M2317 459l7 0 -2-20 -7-9z" fill="#7b0000"/><path d="M2093 215l7-6 -6-29 -4 25z" fill="#9e1f00"/><path d="M1976 257l14 29 -14-56 -8-2z" fill="#971700"/><path d="M2076 365l1-44 6 47 -8 1z" fill="#880800"/><path d="M2131 472l8-1 -4-10 -7 3z" fill="#780000"/><path d="M2353 516l6 8 -4-10 -4-16z" fill="#720000"/><path d="M1986 367l8 3 10 38 -8 0z" fill="#830300"/><path d="M1844 315l25 43 0-2 -28-52z" fill="#8a0b00"/><path d="M2308 524l8-7 -5-2 -7 1z" fill="#710000"/><path d="M1956 374l8 2 -3-12 -8 0z" fill="#860600"/><path d="M2597 516l9-3 -5-8 -7-1z" fill="#740000"/><path d="M2531 456l10-6 -4-11 -7 1z" fill="#7d0000"/><path d="M1949 611l5-5 -2-9 -5 6z" fill="#630000"/><path d="M2214 382l7 9 -4-38 -9-75z" fill="#890a00"/><path d="M1902 367l-2-27 -13-38 10 51z" fill="#8a0a00"/><path d="M1978 580l11 9 -6-20 -24-45z" fill="#690000"/><path d="M2551 441l1 16 -2-15 -5-4z" fill="#7e0000"/><path d="M2510 599l19-27 1-23 -22 36z" fill="#6a0000"/><path d="M2289 421l7 9 -3-14 -9 22z" fill="#7f0000"/><path d="M2252 186l8 0 -4 27 -8-13z" fill="#a12200"/><path d="M2520 320l3 14 -8 4 -6-6z" fill="#8e0f00"/><path d="M2301 379l9-16 -5 4 -6-11z" fill="#880900"/><path d="M2182 483l7-11 -2 19 -7 1z" fill="#760000"/><path d="M2076 191l13 34 -3-7 -6 8z" fill="#9e1e00"/><path d="M2271 397l8-18 -1-60 -10 61z" fill="#880800"/><path d="M2434 204l14-34 -5-1 -6-9z" fill="#a52600"/><path d="M2378 214l16-61 -5-1 -9 9z" fill="#a62600"/><path d="M2052 446l8-1 -13-59 -7 4z" fill="#800000"/><path d="M1914 418l8 1 10 25 -8 0z" fill="#7d0000"/><path d="M2616 443l4 8 -9 1 -6-2z" fill="#7e0000"/><path d="M2295 353l7-1 -3-10 -6-15z" fill="#8c0d00"/><path d="M2122 318l8 5 1 32 -7 1z" fill="#8c0d00"/><path d="M2182 398l9 40 -2 17 -7 2z" fill="#7e0000"/><path d="M2242 607l7-11 -3 9 -8 14z" fill="#650000"/><path d="M2160 221l8-1 -5-43 -9-20z" fill="#a22200"/><path d="M2528 469l-5 31 3-27 -12 14z" fill="#790000"/><path d="M2213 500l7 4 -4-49 -7 8z" fill="#780000"/><path d="M2460 538l8 0 -6-5 -7 1z" fill="#710000"/><path d="M2399 167l7 4 -5-1 -7-5z" fill="#a72800"/><path d="M2299 342l8-4 -5 9 -4-51z" fill="#8f0f00"/><path d="M1904 376l-11-54 7 18 2 27z" fill="#8a0b00"/><path d="M2476 242l2 19 3-35 2-39z" fill="#9f1f00"/><path d="M2092 351l3-32 -1 6 -15-47z" fill="#901100"/><path d="M2207 448l7-13 -4-17 -7 20z" fill="#800000"/><path d="M2546 329l6 2 21-82 -7 0z" fill="#961700"/><path d="M2534 170l5 9 -20 49 7-52z" fill="#a52600"/><path d="M2479 351l0 27 -5-5 -8 6z" fill="#8a0b00"/><path d="M2228 269l7-6 -3-58 -7 36z" fill="#9c1c00"/><path d="M1942 247l18 36 -2-6 -16-30z" fill="#981800"/><path d="M2277 231l8 0 -6 36 -7 7z" fill="#9b1c00"/><path d="M2500 400l3 14 -3-13 -5-6z" fill="#860700"/><path d="M2215 521l7-1 -3 4 -8-26z" fill="#740000"/><path d="M2204 574l8 16 -3 2 -7-1z" fill="#6a0000"/><path d="M2082 273l2-40 -8-42 -5 14z" fill="#9e1f00"/><path d="M1905 487l-1-21 10 22 -12-11z" fill="#780000"/><path d="M1959 384l8 1 -3-9 -8-2z" fill="#870800"/><path d="M1939 521l0-21 -3-11 -9-1z" fill="#760000"/><path d="M2450 301l8-3 7-58 -15 33z" fill="#981900"/><path d="M2404 412l12-26 -8 15 -9 4z" fill="#860700"/><path d="M1934 617l10 4 -2-7 -8-1z" fill="#640000"/><path d="M2095 319l5-18 1 25 -7-1z" fill="#911200"/><path d="M2437 160l6 9 -6-2 -5-9z" fill="#aa2a00"/><path d="M2481 375l12-19 -1-20 -14 25z" fill="#8d0e00"/><path d="M2150 356l7-6 -3-14 -7 9z" fill="#8d0e00"/><path d="M2181 293l8 9 -3-4 -8-4z" fill="#951600"/><path d="M2070 424l8 1 -1-2 -15-39z" fill="#830400"/><path d="M2159 443l10 39 -3-17 -8-4z" fill="#7d0000"/><path d="M1906 307l-8-48 12 36 -4 11z" fill="#951500"/><path d="M2326 461l6 10 -4-2 -8 2z" fill="#7d0000"/><path d="M2520 366l8-4 13-63 -18 35z" fill="#901100"/><path d="M2389 395l7 1 1-36 -8 4z" fill="#8a0b00"/><path d="M2104 462l8 3 -5-21 -13-34z" fill="#7f0000"/><path d="M2130 323l10 23 -5-23 -4 32z" fill="#8f1000"/><path d="M2601 526l8-1 -3-12 -9 3z" fill="#760000"/><path d="M2332 233l7-4 2-60 -11 36z" fill="#a32400"/><path d="M2417 257l0 36 -3-12 -2-29z" fill="#9a1b00"/><path d="M2057 615l-1-36 6 27 -6 5z" fill="#680000"/><path d="M2053 493l7-2 -4-12 -7 3z" fill="#790000"/><path d="M1984 367l9 3 -13-46 -13-20z" fill="#8e0f00"/><path d="M2021 294l17 45 1 15 -16-44z" fill="#911100"/><path d="M2181 179l7-4 -2 20 -7 19z" fill="#a62600"/><path d="M2487 377l11-13 -5-8 -12 19z" fill="#8d0d00"/><path d="M1915 233l9 3 14 51 -3 15z" fill="#9a1a00"/><path d="M1838 261l-5-34 1-1 17 66z" fill="#9b1c00"/><path d="M2286 274l8 3 -3-15 -6-31z" fill="#9c1c00"/><path d="M2342 194l-3 94 -1-30 -5-26z" fill="#9f1f00"/><path d="M1932 605l7-2 -9-26 -4 11z" fill="#6a0000"/><path d="M1910 323l16 26 2 4 -19-32z" fill="#8f1000"/><path d="M2098 358l1-46 5 49 -5 14z" fill="#8e0f00"/><path d="M2291 262l8-11 -2-34 -11 48z" fill="#9e1f00"/><path d="M2262 231l9-36 -4 13 -7-22z" fill="#a52500"/><path d="M2008 579l8-1 -3-11 -8 0z" fill="#6e0000"/><path d="M2403 350l9-10 -5-2 -8 2z" fill="#921200"/><path d="M2282 513l8-1 -4-10 -7 1z" fill="#790000"/><path d="M2496 476l3 14 -8 0 13-59z" fill="#7f0000"/><path d="M1797 210l37 73 -13-36 -35-67z" fill="#9f2000"/><path d="M2214 435l8 12 -4-16 -8-13z" fill="#840400"/><path d="M2175 282l8 5 -3-8 -10-36z" fill="#9b1b00"/><path d="M1835 304l8-1 -2-8 -9-2z" fill="#961600"/><path d="M2389 152l5 13 -4-5 -6-14z" fill="#ad2e00"/><path d="M1911 305l22 44 11 31 -18-31z" fill="#8f1000"/><path d="M2244 311l7 33 -3-10 -7-28z" fill="#941500"/><path d="M2280 462l8-9 -3-23 -8 20z" fill="#820200"/><path d="M2469 471l8-3 -3-11 -8 0z" fill="#810100"/><path d="M2156 290l9 28 -1 16 -7 8z" fill="#941500"/><path d="M1983 466l5-11 -5-16 -12-13z" fill="#810200"/><path d="M2286 502l7 4 -2-20 -8 0z" fill="#7b0000"/><path d="M2097 562l11 19 -6-27 -8-1z" fill="#710000"/><path d="M1857 313l29 54 2 5 -13-16z" fill="#8e0f00"/><path d="M2500 547l8-2 -1-17 4-30z" fill="#770000"/><path d="M2462 533l11-11 -4-10 -10 11z" fill="#780000"/><path d="M2416 386l2 26 -3-14 -7 3z" fill="#8a0b00"/><path d="M2476 515l7 0 -4-11 -7 0z" fill="#7a0000"/><path d="M2403 562l14-29 -12 23 -8 3z" fill="#740000"/><path d="M1903 427l8 1 -18-52 2 27z" fill="#870700"/><path d="M1921 596l11 9 -6-17 -9-3z" fill="#6c0000"/><path d="M2301 505l7-1 -1-33 -10 22z" fill="#7c0000"/><path d="M2483 513l-1 26 1-24 -7 0z" fill="#790000"/><path d="M2386 549l10-9 -3-14 -3-20z" fill="#770000"/><path d="M2556 188l-13 66 -7 1 1-25z" fill="#a42400"/><path d="M2297 493l10-22 -5 9 -8 3z" fill="#7e0000"/><path d="M2555 388l22-40 -24 44 -11 12z" fill="#8e0e00"/><path d="M2145 357l8 4 -3-5 -7 2z" fill="#901000"/><path d="M1986 423l11 11 -6-19 -7 1z" fill="#850600"/><path d="M1952 597l7-2 -3-11 -8 1z" fill="#6d0000"/><path d="M2245 325l8-40 -2-76 -9 72z" fill="#9c1d00"/><path d="M1954 264l8 2 -20-75 3 40z" fill="#a12100"/><path d="M1963 577l-4-30 -6-20 7 38z" fill="#720000"/><path d="M2530 440l7-1 -3-11 -6-4z" fill="#870700"/><path d="M2207 555l7-4 -3-23 -8-7z" fill="#760000"/><path d="M2143 289l2-69 1 40 -5 26z" fill="#9e1e00"/><path d="M2365 321l11-26 -1-28 -13 42z" fill="#9a1b00"/><path d="M1900 468l11 10 -4-14 -30-55z" fill="#810100"/><path d="M1865 243l12 13 -19-56 -9-2z" fill="#a32300"/><path d="M2519 273l-10 59 -10 13 0-26z" fill="#981800"/><path d="M2218 531l8 0 -4-11 -7 1z" fill="#780000"/><path d="M2277 446l6 27 -3-11 -7-2z" fill="#820200"/><path d="M2531 478l12-12 -6-3 -8 2z" fill="#820300"/><path d="M2181 261l7 11 -5-69 -8 4z" fill="#a22300"/><path d="M2211 498l8 26 -3-8 -8-44z" fill="#7b0000"/><path d="M1821 247l16 21 -36-95 -5 7z" fill="#a42400"/><path d="M2021 246l10 9 3 23 -7 2z" fill="#9e1e00"/><path d="M2425 474l7-1 -3-10 -7-2z" fill="#820200"/><path d="M2529 486l-2 25 -4-11 5-31z" fill="#7f0000"/><path d="M2241 509l8-2 -3-15 -8-2z" fill="#7d0000"/><path d="M1984 416l7-1 -3-11 -7 2z" fill="#890900"/><path d="M1839 195l33 71 -7-23 -10-4z" fill="#a22200"/><path d="M2234 168l7 20 -3 21 -8-42z" fill="#ab2c00"/><path d="M2426 177l-6 74 -2-19 3-56z" fill="#a82900"/><path d="M2216 244l8 36 -3-10 -8-42z" fill="#a12100"/><path d="M2060 445l4-13 -8-40 -9-6z" fill="#890900"/><path d="M2606 513l11-8 -7-4 -9 4z" fill="#7e0000"/><path d="M2474 479l7-1 -4-10 -8 3z" fill="#820200"/><path d="M2435 421l6 5 -2-16 -10 11z" fill="#8a0a00"/><path d="M2432 334l22-63 -11 21 -11 16z" fill="#9b1c00"/><path d="M2484 154l8-3 0-29 -13 27z" fill="#b33300"/><path d="M2358 584l7 3 -3-12 -8 1z" fill="#720000"/><path d="M1913 383l7 0 -9-29 -4 11z" fill="#8f0f00"/><path d="M1993 370l7-3 -20-75 0 32z" fill="#941400"/><path d="M2289 206l6 17 0-63 -8 6z" fill="#ab2c00"/><path d="M2485 169l5 9 -1-22 -10 11z" fill="#af3000"/><path d="M2428 484l8 0 -4-11 -7 1z" fill="#810200"/><path d="M2606 490l9-3 -1-16 -13 11z" fill="#820200"/><path d="M2060 491l7-3 -3-11 -8 2z" fill="#7f0000"/><path d="M2399 340l8-2 -1-26 -10 15z" fill="#981800"/><path d="M2365 587l8-5 -4-8 -7 1z" fill="#730000"/><path d="M2620 451l11-9 -6-5 -14 15z" fill="#880800"/><path d="M2439 374l5 11 6-52 1-38z" fill="#951600"/><path d="M2610 501l9-3 -4-11 -9 3z" fill="#800100"/><path d="M2197 309l7-12 -4-28 -7 27z" fill="#9c1d00"/><path d="M2398 577l17-42 -12 27 -12 18z" fill="#750000"/><path d="M2390 326l7 5 -14 49 -7-4z" fill="#941500"/><path d="M2546 434l13-16 13-57 -25 48z" fill="#8d0e00"/><path d="M2302 506l6 18 -4-8 -8 2z" fill="#7c0000"/><path d="M2552 331l25-49 -9 2 5-35z" fill="#9f2000"/><path d="M1883 343l10 3 11 30 -7 2z" fill="#911200"/><path d="M2296 245l3 65 -2-22 -7-6z" fill="#9f1f00"/><path d="M2276 571l9-11 -5 5 -7 1z" fill="#750000"/><path d="M2625 389l-20 61 -12 7 -1-13z" fill="#8a0a00"/><path d="M2002 582l3-15 -4-14 -12-12z" fill="#750000"/><path d="M1996 429l14 24 -2-7 -8-2z" fill="#860700"/><path d="M2183 364l7-31 -2 21 -8 5z" fill="#941500"/><path d="M1837 268l1-16 -31-86 -6 7z" fill="#a72700"/><path d="M2463 427l5 5 0-22 -3-17z" fill="#8c0d00"/><path d="M2363 478l6 12 -7 9 -3-24z" fill="#820200"/><path d="M2119 596l5-18 -8-43 -2 39z" fill="#740000"/><path d="M2147 300l6-14 -8-66 -2 69z" fill="#a02000"/><path d="M2215 362l8 28 -3 26 -8-49z" fill="#901100"/><path d="M2571 549l11-9 5-29 -16 20z" fill="#7c0000"/><path d="M1956 584l-2-26 9 21 -5 7z" fill="#730000"/><path d="M1947 603l5-6 -4-12 -11-9z" fill="#710000"/><path d="M2451 524l4 10 -3-11 -4-13z" fill="#7d0000"/><path d="M2234 411l9-89 -4 15 -8 66z" fill="#931300"/><path d="M2217 433l8 21 -3-7 -8-12z" fill="#880800"/><path d="M2294 380l7-1 -2-23 -6-17z" fill="#941400"/><path d="M1917 585l9 3 -2-10 -10-4z" fill="#720000"/><path d="M2197 267l7-44 -2 65 -7 5z" fill="#a22200"/><path d="M2541 450l10-9 -6-3 -8 1z" fill="#8a0a00"/><path d="M2162 450l7-5 -4-31 -6 23z" fill="#890900"/><path d="M2295 223l6 16 4-119 -10 40z" fill="#ae2f00"/><path d="M2283 401l6 20 -5 17 -7-5z" fill="#8b0c00"/><path d="M2042 225l-3-64 5 38 -3 27z" fill="#ab2b00"/><path d="M1877 256l6-3 -25-75 0 22z" fill="#a72800"/><path d="M2067 488l7 0 -3-11 -7 0z" fill="#820300"/><path d="M1954 606l7-3 -2-8 -7 2z" fill="#710000"/><path d="M2423 282l10-17 5-54 -7-2z" fill="#a72800"/><path d="M2411 173l6 4 -5 0 -6-6z" fill="#b13200"/><path d="M2044 284l21 74 -5-20 -7 3z" fill="#991900"/><path d="M2315 385l7 3 4-82 -13 54z" fill="#961600"/><path d="M2005 436l8 3 -13-48 -3 18z" fill="#8c0c00"/><path d="M2074 488l8-2 -3-10 -8 1z" fill="#830300"/><path d="M2354 576l8-1 -4-11 -6-5z" fill="#770000"/><path d="M2067 516l7-4 -7-28 -2 26z" fill="#7f0000"/><path d="M2270 216l7 15 -5 43 -8-4z" fill="#a62700"/><path d="M2501 201l13-26 18-92 -9 6z" fill="#b73800"/><path d="M2279 503l7-1 -3-16 -7 0z" fill="#820300"/><path d="M2471 362l7-1 5-41 -10 9z" fill="#991a00"/><path d="M2362 575l7-1 -2-17 -9 7z" fill="#780000"/><path d="M2619 475l10-7 -8-2 -6-1z" fill="#880800"/><path d="M2070 527l5-13 -1-2 -7 4z" fill="#7e0000"/><path d="M1970 367l13 21 -8-29 -14-21z" fill="#941500"/><path d="M2128 464l7-3 -4-24 -7 9z" fill="#880900"/><path d="M2483 515l9-5 -4-12 -9 6z" fill="#820200"/><path d="M1987 426l13 18 -3-10 -11-11z" fill="#8b0b00"/><path d="M2291 376l6 15 -3-11 -6-27z" fill="#941500"/><path d="M2289 209l8-11 -5 15 -8 10z" fill="#ac2d00"/><path d="M1939 500l12 11 -9-27 -6 5z" fill="#810200"/><path d="M1932 560l13 12 3 5 -16-20z" fill="#770000"/><path d="M2178 227l6-46 -3-2 -6 31z" fill="#ae2f00"/><path d="M2420 267l2 30 -5-4 0-36z" fill="#a32400"/><path d="M2452 523l7 0 1-25 -7-2z" fill="#820200"/><path d="M2351 300l7 5 -7 14 -7-4z" fill="#9f1f00"/><path d="M2187 491l6-44 -3 7 -6 27z" fill="#870700"/><path d="M2104 315l10 25 -1 2 -13-41z" fill="#9c1c00"/><path d="M2492 151l-1 32 12-76 -11 15z" fill="#b83900"/><path d="M2560 508l-12 45 -5-8 -1-13z" fill="#7f0000"/><path d="M1969 363l12 16 2 9 -13-21z" fill="#941400"/><path d="M1915 466l5-7 -21-60 6 36z" fill="#8a0a00"/><path d="M2214 551l7-16 -3-4 -7-3z" fill="#7d0000"/><path d="M1941 243l4-12 -9-33 1 32z" fill="#aa2a00"/><path d="M1968 472l18 29 8 27 -14-20z" fill="#810200"/><path d="M2298 296l4 51 -4-8 -3-63z" fill="#9e1f00"/><path d="M2324 459l8-4 0-43 -10 27z" fill="#8c0c00"/><path d="M2193 296l7-27 -3-2 -7 19z" fill="#a32400"/><path d="M2146 260l3-66 1 56 -4 38z" fill="#a82800"/><path d="M2154 485l10 27 -3-8 -10-24z" fill="#840400"/><path d="M2485 164l1 27 -1-22 -11 17z" fill="#b43500"/><path d="M2065 510l2-26 0 4 -7 3z" fill="#840400"/><path d="M1908 507l18 26 2 2 -18-26z" fill="#7f0000"/><path d="M2217 229l8 12 -4-36 -7 37z" fill="#ab2c00"/><path d="M2260 506l10-56 -5 27 -8 22z" fill="#860700"/><path d="M2036 594l9 6 -8-28 -14-24z" fill="#770000"/><path d="M2615 465l6 1 -1-15 -4-8z" fill="#8c0d00"/><path d="M2044 490l9 3 -4-11 -10-12z" fill="#850600"/><path d="M1988 455l7-3 -8-26 -4 13z" fill="#8b0c00"/><path d="M2327 216l6 16 -5 12 -6-18z" fill="#ac2d00"/><path d="M2140 346l7-1 -5-31 -7 9z" fill="#9c1d00"/><path d="M2387 234l15-47 -4-14 -18 72z" fill="#af3000"/><path d="M1939 603l8 0 -10-27 -7 1z" fill="#760000"/><path d="M2081 431l1-35 5 36 -9-7z" fill="#8f1000"/><path d="M2272 381l5 52 -4-3 -6-30z" fill="#921200"/><path d="M2034 534l5-12 6 26 -14-26z" fill="#7f0000"/><path d="M1975 413l9 3 -3-10 -10-6z" fill="#911100"/><path d="M2152 530l10 19 -4-15 -5 21z" fill="#7e0000"/><path d="M2170 177l9 37 -4-42 -10-35z" fill="#b43500"/><path d="M1944 621l0-18 5 8 -7 3z" fill="#730000"/><path d="M2023 396l-7-65 4 21 2 41z" fill="#971800"/><path d="M2405 219l-3 61 -4-10 4-64z" fill="#ab2c00"/><path d="M2508 550l-12 50 -2-15 1-21z" fill="#7b0000"/><path d="M2088 413l-2-65 3 33 -5 14z" fill="#951600"/><path d="M2570 236l7 2 -18 33 -2-17z" fill="#ab2c00"/><path d="M1825 297l10 7 -3-11 -9-4z" fill="#a12200"/><path d="M1832 293l9 2 -10-29 -3 13z" fill="#a32400"/><path d="M2077 445l3-23 1 9 -8 2z" fill="#8e0f00"/><path d="M2224 593l7-1 -3-64 -7 34z" fill="#7b0000"/><path d="M2355 514l8-1 0-35 -7 0z" fill="#860700"/><path d="M2211 528l7 3 -3-10 -8-4z" fill="#820200"/><path d="M2596 485l-2 19 -10 4 6-28z" fill="#880800"/><path d="M1925 380l23 45 1 3 -11-11z" fill="#911100"/><path d="M2136 588l8 0 -1 5 -8 1z" fill="#780000"/><path d="M2239 481l7 8 -3-35 -7-32z" fill="#8b0c00"/><path d="M2503 373l10-9 3-32 -7-2z" fill="#9d1d00"/><path d="M2452 429l-1 30 -6-1 -7 0z" fill="#8e0e00"/><path d="M2524 393l9-4 -9 5 -11 12z" fill="#961700"/><path d="M2460 453l6 4 2-28 -15 29z" fill="#8e0f00"/><path d="M2537 463l15-22 -11 9 -10 6z" fill="#8e0f00"/><path d="M1953 203l5-11 12 51 -18-41z" fill="#af3000"/><path d="M1987 294l-2-42 10 44 -4 17z" fill="#a42400"/><path d="M2005 567l8 0 -7-21 -5 7z" fill="#7d0000"/><path d="M2498 364l-1 26 8-50 -12 16z" fill="#9c1c00"/><path d="M1944 563l8 4 -11-32 -21-35z" fill="#7f0000"/><path d="M2102 554l7 0 -4-15 -7 3z" fill="#7f0000"/><path d="M2229 443l7-3 -3-44 -7 34z" fill="#911200"/><path d="M2050 419l10 14 6 33 -8 0z" fill="#8e0e00"/><path d="M2081 385l6-12 -10-52 -1 44z" fill="#9a1b00"/><path d="M2104 361l0-56 0 10 -2 43z" fill="#9e1f00"/><path d="M1904 381l9 2 -6-18 -14-19z" fill="#991900"/><path d="M2514 506l15-20 -1-17 -18 28z" fill="#8a0a00"/><path d="M1933 427l-8-47 13 37 -4 10z" fill="#921300"/><path d="M2354 311l8-2 3-57 -9 9z" fill="#a72800"/><path d="M2534 428l4 10 -3-13 10-49z" fill="#941500"/><path d="M2097 644l10 10 -7-32 -3 25z" fill="#720000"/><path d="M2450 189l10-10 -24 88 -7 0z" fill="#b03000"/><path d="M2266 340l9-31 -4-18 -9 36z" fill="#a22300"/><path d="M2302 480l13-60 -11 61 -7 0z" fill="#8c0d00"/><path d="M2452 180l7 1 -7 5 -4-16z" fill="#b73800"/><path d="M2574 549l-5 26 -5-8 11-39z" fill="#810100"/><path d="M2041 226l3-27 -9-44 -4 21z" fill="#b43400"/><path d="M2045 523l6-6 -7-27 -18-44z" fill="#870800"/><path d="M2537 230l-1 25 6-42 7-48z" fill="#b23300"/><path d="M2369 261l18-76 -16 74 -9 18z" fill="#ad2e00"/><path d="M2474 457l13-18 -11 14 -4-12z" fill="#901100"/><path d="M2102 358l2-43 -4-14 -5 18z" fill="#a12100"/><path d="M2140 558l7-1 -2-7 -13-44z" fill="#810100"/><path d="M2351 440l1 47 -3-12 -3-33z" fill="#8e0e00"/><path d="M2536 249l3 17 -12 14 -2-17z" fill="#ac2c00"/><path d="M2219 249l8 30 -3 1 -8-36z" fill="#aa2b00"/><path d="M2532 267l10-10 14-69 -24 58z" fill="#af3000"/><path d="M2154 580l5-23 -2-3 -6 15z" fill="#7e0000"/><path d="M2363 513l10-16 -4-7 -6-12z" fill="#890a00"/><path d="M2114 318l8 0 2 38 -10-16z" fill="#a02100"/><path d="M1977 242l0-35 -12-46 -5 12z" fill="#b33400"/><path d="M2465 460l4 11 -3-14 -6-4z" fill="#8f1000"/><path d="M1917 592l17 21 -2-8 -11-9z" fill="#780000"/><path d="M2303 176l4 56 -7 33 -3-67z" fill="#b23200"/><path d="M2336 598l16-50 -3-18 -17 61z" fill="#7f0000"/><path d="M2304 288l11-41 -4 0 -10 31z" fill="#ab2c00"/><path d="M2371 417l9-12 9-87 -14 38z" fill="#9b1c00"/><path d="M2453 458l15-29 -3-14 -15 31z" fill="#931400"/><path d="M2004 511l-11-67 -1-2 9 61z" fill="#8b0c00"/><path d="M2502 480l15-22 17-73 -27 59z" fill="#931300"/><path d="M2525 454l6 2 -1-16 2-26z" fill="#931400"/><path d="M2020 352l13 26 -4-16 -15-34z" fill="#9d1e00"/><path d="M2468 432l8-1 10-59 -18 38z" fill="#971800"/><path d="M2231 515l7-25 -3-54 -8 62z" fill="#8c0c00"/><path d="M2621 466l12-10 -2-14 -11 9z" fill="#921200"/><path d="M2270 552l6 19 -3-5 -8-1z" fill="#800100"/><path d="M1952 412l4-13 -13-41 -1 20z" fill="#991900"/><path d="M2069 230l18 70 -1 7 -12-35z" fill="#a92a00"/><path d="M1926 588l4-11 -3-8 -3 9z" fill="#7d0000"/><path d="M2617 505l7-1 -5-6 -9 3z" fill="#8b0c00"/><path d="M2521 255l4 12 -1-20 8-54z" fill="#b13100"/><path d="M2157 543l3-47 -2 2 -5 31z" fill="#870700"/><path d="M1908 287l-9-54 2 6 7 48z" fill="#ab2c00"/><path d="M2132 506l13 44 -3-3 -10-27z" fill="#850600"/><path d="M2164 333l9 26 -3-10 -10-35z" fill="#a12200"/><path d="M2486 191l15-33 -11 20 -5-9z" fill="#bb3b00"/><path d="M2109 502l9 11 -5-19 -16-58z" fill="#8b0c00"/><path d="M2002 266l-2-44 10 48 -3 20z" fill="#ac2c00"/><path d="M1964 544l27 52 1 3 -11-9z" fill="#7d0000"/><path d="M2615 487l10-7 -6-5 -5-4z" fill="#8f1000"/><path d="M1834 226l7-3 11 27 -14-16z" fill="#b03000"/><path d="M1964 376l6-9 -9-29 0 26z" fill="#9e1e00"/><path d="M2397 331l9-7 -13 36 -10 20z" fill="#a12200"/><path d="M1967 385l2-22 1 4 -6 9z" fill="#9c1d00"/><path d="M2149 581l5-21 0 20 -7 5z" fill="#7f0000"/><path d="M2365 269l18-74 -14 66 -13 40z" fill="#af2f00"/><path d="M2034 458l-3-45 2 11 -2 24z" fill="#931400"/><path d="M2269 554l8-1 -2-35 -8 15z" fill="#850600"/><path d="M1800 222l21 35 15 35 -37-75z" fill="#ae2f00"/><path d="M2589 430l7 0 28-85 -22 34z" fill="#9c1c00"/><path d="M2412 493l12-19 -4-10 -10 10z" fill="#8f1000"/><path d="M1929 228l13 19 1 3 -5 8z" fill="#af3000"/><path d="M2332 471l12-31 -9 26 -7 3z" fill="#911200"/><path d="M2153 361l6-21 -2 10 -7 6z" fill="#a12100"/><path d="M2123 601l3-33 1 20 -5 18z" fill="#7e0000"/><path d="M2376 491l15-38 -12 29 -9 13z" fill="#8f1000"/><path d="M2151 569l6-15 -5-24 -5 27z" fill="#830400"/><path d="M2071 477l8-1 -6-23 -6 10z" fill="#901000"/><path d="M2310 351l10-32 -5 11 -8 8z" fill="#a42500"/><path d="M1885 421l11 6 -7-20 -25-43z" fill="#981900"/><path d="M1870 248l28 57 0 1 -14-20z" fill="#aa2a00"/><path d="M2479 443l16-30 -2-15 -17 33z" fill="#991900"/><path d="M2133 475l7-7 -1 3 -8 1z" fill="#901000"/><path d="M2593 510l4 6 -3-12 2-19z" fill="#8d0e00"/><path d="M2117 334l7-2 -11-84 -6 20z" fill="#aa2a00"/><path d="M2167 314l8 3 -7-69 -5 35z" fill="#ab2b00"/><path d="M2524 394l18-32 -8 3 -20 38z" fill="#a02000"/><path d="M1994 370l1-29 14 57 -5 10z" fill="#9e1e00"/><path d="M2408 401l7-3 7-59 -17 49z" fill="#9f2000"/><path d="M2519 211l13-18 -17 38 -20 47z" fill="#b63700"/><path d="M1924 578l3-9 -3-11 -7 0z" fill="#820300"/><path d="M2158 327l5-44 -7-63 -3 66z" fill="#ad2e00"/><path d="M2442 438l10-9 -14 29 -10 14z" fill="#961600"/><path d="M1905 435l-6-36 12 31 -5 7z" fill="#971700"/><path d="M2131 501l3-36 -1 10 -5 18z" fill="#8f1000"/><path d="M2449 327l-8 66 -2-19 5-52z" fill="#a42400"/><path d="M2331 324l11-34 0-37 -9 14z" fill="#ae2e00"/><path d="M2283 486l8 0 -4-1 -6-29z" fill="#911200"/><path d="M2563 341l29-61 -2-16 -13 18z" fill="#ae2e00"/><path d="M2079 278l15 47 -3-9 -13-38z" fill="#ab2b00"/><path d="M2011 250l9 4 -17-77 1 41z" fill="#b53600"/><path d="M2484 448l14-23 -3-12 -16 30z" fill="#991a00"/><path d="M2562 496l13-13 -16 17 -7 1z" fill="#901100"/><path d="M2516 547l12-13 -16 21 -7-1z" fill="#890900"/><path d="M2164 623l10 27 -3-10 -10-22z" fill="#7b0000"/><path d="M2466 457l8 0 -2-16 -4-12z" fill="#971800"/><path d="M2128 259l7 0 1 35 -9-23z" fill="#b03000"/><path d="M2241 510l7 13 -3-3 -8 0z" fill="#8c0c00"/><path d="M2064 432l6-8 -8-40 -6 8z" fill="#9b1c00"/><path d="M1854 240l16 23 2 3 -33-71z" fill="#b33300"/><path d="M2558 543l13-12 16-57 -27 47z" fill="#8e0e00"/><path d="M2603 507l-2 19 -4-10 -4-6z" fill="#8e0f00"/><path d="M1940 207l27 75 2 5 -9-4z" fill="#b03100"/><path d="M2516 396l5 7 -10 7 -8 4z" fill="#9e1f00"/><path d="M2394 153l5 14 -5-2 -5-13z" fill="#c24200"/><path d="M2151 480l10 24 -3-13 -12-45z" fill="#921200"/><path d="M2404 168l7 5 -5-2 -7-4z" fill="#c14100"/><path d="M1956 456l27 59 -5-15 -29-66z" fill="#921200"/><path d="M1920 250l0-26 -11-37 -9-4z" fill="#b93900"/><path d="M2221 535l8-4 -3 0 -8 0z" fill="#8b0c00"/><path d="M2543 466l4 9 5-34 -15 22z" fill="#971700"/><path d="M2315 578l7 3 4-66 -6-16z" fill="#8a0a00"/><path d="M2458 523l2 15 -5-4 -4-10z" fill="#8d0d00"/><path d="M1815 222l20 32 3 7 2 24z" fill="#b23200"/><path d="M2283 378l8-2 -3-23 -9 26z" fill="#a32400"/><path d="M1922 419l1-19 10 27 -1 17z" fill="#9a1b00"/><path d="M2330 191l13-63 -7 29 -10 27z" fill="#c24200"/><path d="M2214 315l8 38 -4-70 -7 44z" fill="#ab2b00"/><path d="M1978 367l8 0 10 41 -15-29z" fill="#a12100"/><path d="M2301 239l9-22 2-82 -7-15z" fill="#c04000"/><path d="M2410 340l5 13 -3-13 -9 10z" fill="#a82900"/><path d="M2058 242l12 25 0 14 -25-107z" fill="#b63600"/><path d="M2133 334l10 24 -3-12 -10-23z" fill="#a82800"/><path d="M2296 358l5 43 -4-10 -6-15z" fill="#a22300"/><path d="M2477 468l10-8 0-21 -13 18z" fill="#991900"/><path d="M1874 399l23 38 2 1 -11-7z" fill="#9a1b00"/><path d="M2186 405l8 0 -5-38 -8-18z" fill="#a22300"/><path d="M1962 266l5-12 -13-49 -12-14z" fill="#b73800"/><path d="M2363 299l4 28 -6 3 -3-25z" fill="#ad2d00"/><path d="M2424 474l4 10 -3-10 -5-10z" fill="#961600"/><path d="M2528 534l5 5 -14 16 -7 0z" fill="#8c0c00"/><path d="M2150 250l6-23 -5-42 -2 78z" fill="#b83900"/><path d="M2391 191l13-36 -6-1 -17 70z" fill="#c14100"/><path d="M2335 466l11-24 -3-14 -11 27z" fill="#991a00"/><path d="M2380 405l9-10 0-31 0-46z" fill="#a52500"/><path d="M2473 522l10-9 -7 2 -7-3z" fill="#901100"/><path d="M1998 572l9 3 1 4 -3 12z" fill="#850500"/><path d="M2199 555l8 0 -4-34 -9-18z" fill="#8c0d00"/><path d="M2454 271l1 29 -9 12 -3-20z" fill="#b13100"/><path d="M1841 304l28 52 -19-51 -17-23z" fill="#ab2c00"/><path d="M2175 317l6-24 -3 1 -10-46z" fill="#b03100"/><path d="M2013 439l8 0 -15-57 -6 9z" fill="#9d1e00"/><path d="M2604 313l1 17 -31 59 4-28z" fill="#a92a00"/><path d="M1904 466l-1-24 18 45 -7 1z" fill="#951500"/><path d="M2436 484l11-16 -5-4 -10 9z" fill="#971700"/><path d="M2301 278l10-31 -3-21 -9 25z" fill="#b73700"/><path d="M2261 593l7 0 -3-14 -7 1z" fill="#850600"/><path d="M2435 347l26-80 -7 4 -22 63z" fill="#af3000"/><path d="M1936 355l8 2 -31-101 -14-19z" fill="#ad2e00"/><path d="M2489 156l14-28 -11 23 -8 3z" fill="#c74800"/><path d="M2268 593l8-2 -3-13 -8 1z" fill="#860700"/><path d="M1995 341l14 24 8 38 -8-5z" fill="#a32400"/><path d="M2421 176l-3 56 4-54 -6-4z" fill="#c04100"/><path d="M2031 448l2-24 -10-43 4 53z" fill="#9d1d00"/><path d="M1823 289l9 4 -4-14 -17-23z" fill="#b13100"/><path d="M2165 414l9 25 -2 8 -13-75z" fill="#9e1f00"/><path d="M2276 494l6 19 -3-10 -7-7z" fill="#931300"/><path d="M2222 353l7 0 -4-73 -7 3z" fill="#ae2e00"/><path d="M1899 399l15 19 10 26 -13-14z" fill="#9d1d00"/><path d="M2472 504l7 0 0-20 -4-11z" fill="#961600"/><path d="M2214 242l7-37 -3-10 -8 13z" fill="#bd3e00"/><path d="M2064 477l7 0 -4-14 -11-17z" fill="#981800"/><path d="M2139 471l5-17 -3-11 -6 18z" fill="#991a00"/><path d="M2285 430l5 33 -1-42 -6-20z" fill="#9e1f00"/><path d="M2248 523l9-21 -5 17 -7 1z" fill="#911200"/><path d="M2566 436l16-22 0-19 -6-4z" fill="#a22300"/><path d="M2281 456l6 29 -4-12 -6-27z" fill="#991a00"/><path d="M2407 338l15-38 -13 35 -3-23z" fill="#af2f00"/><path d="M2159 557l9 13 -3-5 -8-11z" fill="#8b0b00"/><path d="M2230 197l7 26 -3-55 -8-10z" fill="#c24200"/><path d="M2063 371l10 14 -4-20 -17-52z" fill="#a82800"/><path d="M2262 553l7 1 -2-21 -7-21z" fill="#8e0f00"/><path d="M2206 308l8 7 -3 12 -8 2z" fill="#ae2f00"/><path d="M2124 578l8 4 -4-17 -12-30z" fill="#8a0a00"/><path d="M1995 452l1-23 4 15 -13-18z" fill="#9c1d00"/><path d="M2014 437l6-6 7 29 -8-3z" fill="#9b1b00"/><path d="M2174 471l6-12 -7-72 -4 58z" fill="#9c1d00"/><path d="M2488 257l20-49 14-77 -17 36z" fill="#c24300"/><path d="M1875 351l8-1 -41-111 -5 6z" fill="#b03000"/><path d="M2051 296l13 28 -5-17 -13-31z" fill="#b03100"/><path d="M2139 266l4-42 -8-69 -5 31z" fill="#be3f00"/><path d="M2159 372l13 75 -4-16 -12-58z" fill="#a22200"/><path d="M2413 475l0 35 -6-4 -6-4z" fill="#951600"/><path d="M2086 231l4-26 -11-67 -7 0z" fill="#c34300"/><path d="M2157 554l8 11 -3-16 -10-19z" fill="#8d0e00"/><path d="M2272 602l7-3 -3-8 -8 2z" fill="#870700"/><path d="M2236 422l7 32 -3 2 -8-3z" fill="#9d1d00"/><path d="M2071 205l5-14 4 35 -13-32z" fill="#bf4000"/><path d="M2509 129l-3 44 -12 21 9-66z" fill="#c84900"/><path d="M2045 174l25 107 -5-23 -17-61z" fill="#bc3c00"/><path d="M2495 395l5 6 -2-16 5-40z" fill="#a82800"/><path d="M2516 335l29-69 -3-14 -30 74z" fill="#b43500"/><path d="M2402 314l8-2 6-62 -10 13z" fill="#b53600"/><path d="M2363 179l5 16 9-105 -12 31z" fill="#c94a00"/><path d="M2051 341l-5-65 -7-30 1 46z" fill="#b33400"/><path d="M1908 581l9 4 -3-11 -11-7z" fill="#890900"/><path d="M2556 344l-7 39 -14 21 3-30z" fill="#a92900"/><path d="M2469 512l7 3 -4-11 0-23z" fill="#961700"/><path d="M2026 534l8 0 -3-12 -8 0z" fill="#911100"/><path d="M1838 252l5-7 -31-85 -5 6z" fill="#bf3f00"/><path d="M2629 468l13-11 -9-1 -12 10z" fill="#9d1e00"/><path d="M2507 512l-11 49 -9 5 -2-15z" fill="#901000"/><path d="M2240 204l7 10 -4 32 -7-28z" fill="#bf3f00"/><path d="M2277 450l8-20 -2-29 -9 35z" fill="#a02100"/><path d="M1932 487l24 43 -2-6 -12-13z" fill="#931300"/><path d="M2432 473l10-9 0-26 -13 25z" fill="#9d1d00"/><path d="M2625 480l11-7 -7-5 -10 7z" fill="#9c1c00"/><path d="M1937 576l11 9 -3-13 -13-12z" fill="#8a0b00"/><path d="M2399 387l7 4 -9 17 -12 23z" fill="#a52500"/><path d="M2363 490l0 40 -4-6 -6-8z" fill="#951500"/><path d="M2285 411l11-53 -5 18 -8 2z" fill="#a82800"/><path d="M1893 346l14 19 -14-43 11 54z" fill="#aa2b00"/><path d="M1965 187l4-16 8 36 0 35z" fill="#c14100"/><path d="M2204 259l6-51 -4-71 -7 56z" fill="#c24300"/><path d="M2062 384l15 39 -4-12 -18-58z" fill="#a52600"/><path d="M2029 187l7-2 6 40 -6 6z" fill="#c14100"/><path d="M2370 529l17-44 -11 27 -10 14z" fill="#951600"/><path d="M1999 204l10 13 -11-48 -10-9z" fill="#c34400"/><path d="M2342 282l7 11 -11 48 -7 3z" fill="#b23300"/><path d="M1895 195l20 38 20 69 -12-17z" fill="#b93a00"/><path d="M2191 320l7-34 -2 40 -7 21z" fill="#b13100"/><path d="M2016 331l20 55 -3-8 -13-26z" fill="#aa2b00"/><path d="M2055 217l18 62 -3-12 -12-25z" fill="#bb3b00"/><path d="M2344 632l9-11 1-34 -11 17z" fill="#870800"/><path d="M2547 475l9-7 0-20 -4-7z" fill="#9f1f00"/><path d="M1944 357l-2-31 -19-65 -10-5z" fill="#b33300"/><path d="M2468 429l4 12 -7 2 0-28z" fill="#a22300"/><path d="M2413 268l18-59 -1-23 -15 44z" fill="#c14100"/><path d="M2175 207l8-4 -3 6 -6 32z" fill="#c14100"/><path d="M1877 459l20 28 -3-10 -13-12z" fill="#9a1b00"/><path d="M2109 402l9 8 -11-69 -7 9z" fill="#a92900"/><path d="M2459 523l10-11 3-31 -12 17z" fill="#981900"/><path d="M2226 578l8 25 -3 16 -8-20z" fill="#890a00"/><path d="M2226 239l8 95 -4-14 -7-99z" fill="#b83800"/><path d="M2295 504l7 2 -6 12 -6-6z" fill="#971700"/><path d="M2215 571l8 28 -3-1 -8-8z" fill="#8b0b00"/><path d="M2583 574l28-41 -4-10 -27 38z" fill="#921300"/><path d="M2539 412l8-3 2-26 7-39z" fill="#aa2a00"/><path d="M2553 392l33-71 -16 23 -23 44z" fill="#ad2e00"/><path d="M2359 147l4 32 2-58 -10 21z" fill="#cc4c00"/><path d="M2538 573l-3 22 -6-5 -13 15z" fill="#8c0d00"/><path d="M2548 258l13-18 -1-17 -18 34z" fill="#bf3f00"/><path d="M2132 496l9 9 -7-40 -3 36z" fill="#991900"/><path d="M2303 608l4 27 -1-28 -8 5z" fill="#880800"/><path d="M2492 315l26-65 -28 75 -12 21z" fill="#b53600"/><path d="M2094 553l8 1 -4-12 -11-17z" fill="#921200"/><path d="M2147 427l11 34 -3-10 -10-19z" fill="#a12100"/><path d="M2353 234l8-5 2-58 -4-30z" fill="#c64600"/><path d="M2265 596l7 6 -4-9 -7 0z" fill="#8b0b00"/><path d="M2067 589l7-1 1 8 -6 5z" fill="#8a0b00"/><path d="M2049 525l15 34 -1-2 -9-8z" fill="#911200"/><path d="M1841 223l-2-28 16 44 -3 11z" fill="#bf3f00"/><path d="M2502 314l21-48 7-46 -26 65z" fill="#bb3c00"/><path d="M1851 232l19 31 0 0 -16-23z" fill="#bc3c00"/><path d="M2451 295l-1 38 -4-9 -14 33z" fill="#b33400"/><path d="M2410 312l9-10 1-35 -4-17z" fill="#b93a00"/><path d="M2421 390l2 27 -5-5 -2-26z" fill="#a82900"/><path d="M2218 565l7-50 -4 20 -7 16z" fill="#931400"/><path d="M1917 558l7 0 -3-12 -9-3z" fill="#901100"/><path d="M1924 558l8-1 -5-16 -6 5z" fill="#911100"/><path d="M2062 577l6-3 -4-15 -15-34z" fill="#901000"/><path d="M1905 276l-3-33 -15-49 0 25z" fill="#bf3f00"/><path d="M2412 619l9-9 -1-19 -7 1z" fill="#8b0c00"/><path d="M2406 324l4 16 -7 10 -10 10z" fill="#b13100"/><path d="M1973 404l13 19 -2-7 -9-3z" fill="#a52500"/><path d="M2320 446l6 15 -6 10 -6-11z" fill="#a02000"/><path d="M2403 252l12-22 1-39 -5-15z" fill="#c44500"/><path d="M2223 221l7 99 -3-41 -8-30z" fill="#bb3c00"/><path d="M2571 521l4 7 -21 27 -6-2z" fill="#951600"/><path d="M2380 161l9-9 -5-6 -3-27z" fill="#ce4f00"/><path d="M2244 449l7-1 -2-55 -8-5z" fill="#a52600"/><path d="M2430 504l20-48 -14 28 -8 0z" fill="#9d1e00"/><path d="M2527 116l-2 34 -24 68 5-45z" fill="#cc4c00"/><path d="M1902 216l18 34 -20-67 -7 1z" fill="#c34300"/><path d="M2335 376l10-21 -14 75 -7-2z" fill="#a92900"/><path d="M1964 453l20 42 -14-48 -22-44z" fill="#a02000"/><path d="M2091 422l0-49 -5-25 2 65z" fill="#aa2a00"/><path d="M1953 363l-16-81 -4-14 9 58z" fill="#b43500"/><path d="M2431 394l5 7 4-41 -4-14z" fill="#ad2e00"/><path d="M2373 497l11-20 -8 14 -7-1z" fill="#9c1d00"/><path d="M2422 300l7 0 -13 37 -7-2z" fill="#b63600"/><path d="M2033 424l13 24 -6-26 -17-41z" fill="#a52600"/><path d="M2056 579l11 10 2 12 -7 5z" fill="#8c0d00"/><path d="M2012 646l10 6 -11-37 -4 12z" fill="#860600"/><path d="M2504 431l-13 59 -3-11 18-78z" fill="#a32300"/><path d="M2074 539l1-32 0 7 -5 13z" fill="#971800"/><path d="M2162 549l8 5 -7-50 -5 30z" fill="#961600"/><path d="M2040 306l4-22 9 57 -4 17z" fill="#b43400"/><path d="M2379 550l7-1 4-43 -3-21z" fill="#981900"/><path d="M2249 507l9-57 -5 60 -7-18z" fill="#9d1d00"/><path d="M1908 342l2-19 -1-2 -8-1z" fill="#b33400"/><path d="M2030 547l5-9 -1-4 -8 0z" fill="#951500"/><path d="M1954 365l-20-94 3 11 16 81z" fill="#b43500"/><path d="M1904 493l21 31 -12-34 -21-30z" fill="#9b1c00"/><path d="M2238 490l8 2 -4 6 -7-62z" fill="#9f1f00"/><path d="M2149 263l2-78 -2 7 -6 32z" fill="#c54500"/><path d="M2186 195l6-44 -3-5 -7 22z" fill="#cc4d00"/><path d="M2399 233l4 19 8-76 -9 11z" fill="#c74700"/><path d="M1914 574l10 4 -7-20 -16-17z" fill="#911200"/><path d="M2188 354l5-65 -2 31 -6 38z" fill="#b43500"/><path d="M2416 174l6 4 -5-1 -6-4z" fill="#cc4d00"/><path d="M1881 465l13 12 -4-14 -22-32z" fill="#a12100"/><path d="M2547 409l25-48 -17 27 -6-5z" fill="#ae2f00"/><path d="M2532 569l6 4 -22 32 -11 8z" fill="#901100"/><path d="M2031 413l13 22 2 13 -13-24z" fill="#a62600"/><path d="M2153 529l5-31 -4-13 -7 5z" fill="#9c1d00"/><path d="M2547 461l-15 56 -5-6 2-25z" fill="#9f1f00"/><path d="M2552 441l4 7 -5-7 -10 9z" fill="#a62600"/><path d="M2009 365l-1-39 15 70 -6 7z" fill="#ae2f00"/><path d="M1866 319l17 24 14 35 -11-11z" fill="#b13100"/><path d="M1994 262l3-21 5 25 1 37z" fill="#bd3e00"/><path d="M2220 504l7-6 -3-83 -8 40z" fill="#a12200"/><path d="M2518 586l14-17 -27 44 1-17z" fill="#911100"/><path d="M2619 498l19-25 -13 7 -10 7z" fill="#a12100"/><path d="M1927 569l5-9 0-3 -8 1z" fill="#931300"/><path d="M2438 211l12-22 -21 78 4-57z" fill="#c74700"/><path d="M2559 500l23-35 -7-5 -19 30z" fill="#a22200"/><path d="M1906 583l15 13 -4-11 -9-4z" fill="#8f1000"/><path d="M2503 345l-5 40 0-21 -11 13z" fill="#b23200"/><path d="M2316 365l6 10 -8 35 -6-10z" fill="#ae2e00"/><path d="M2078 322l1-44 -1 0 -4 24z" fill="#ba3b00"/><path d="M2135 323l7-9 -5-31 -3 46z" fill="#b83900"/><path d="M2455 211l13-26 -4-10 -23 76z" fill="#c94a00"/><path d="M2128 565l8 9 -5-30 -12-25z" fill="#951600"/><path d="M2029 362l8 4 -13-62 -7 7z" fill="#b53500"/><path d="M2008 174l17 45 -11-48 -8-3z" fill="#cb4b00"/><path d="M2145 432l10 19 -4-14 -11-39z" fill="#a82800"/><path d="M1943 358l16 26 -3-10 -13-18z" fill="#b03000"/><path d="M2158 491l7 1 -6-49 -9-15z" fill="#a32300"/><path d="M2495 458l12-14 10-53 -13 18z" fill="#aa2b00"/><path d="M2420 464l5 10 -3-13 -2-25z" fill="#a52500"/><path d="M2396 396l9-8 7-69 -15 41z" fill="#b23300"/><path d="M2542 257l18-34 -17 31 13-66z" fill="#c74700"/><path d="M1951 511l7-2 -23-66 7 41z" fill="#9f1f00"/><path d="M2582 331l-4 30 -12 11 31-104z" fill="#b83800"/><path d="M2157 350l7-17 -4-19 -6 22z" fill="#b63700"/><path d="M2088 637l9 7 0 3 -13-25z" fill="#8a0a00"/><path d="M2481 478l17-30 -11 12 -10 8z" fill="#a52500"/><path d="M2028 285l12 21 9 52 -11-19z" fill="#b73800"/><path d="M2226 531l7-24 -3-2 -8 15z" fill="#9c1d00"/><path d="M1963 579l-13-56 9 24 4 30z" fill="#951600"/><path d="M1900 340l8 2 -7-22 -14-18z" fill="#b73700"/><path d="M2018 533l8 1 -3-12 -9-5z" fill="#9a1a00"/><path d="M2506 401l-18 78 10-54 -14 23z" fill="#a92900"/><path d="M2472 298l5 6 7-49 10-71z" fill="#c34300"/><path d="M2468 538l19-35 -14 19 -11 11z" fill="#9c1d00"/><path d="M1986 240l12 16 -10-40 -18-44z" fill="#c64700"/><path d="M2349 299l5 12 2-50 -4-29z" fill="#c04100"/><path d="M2574 422l5 7 -22 33 -5-5z" fill="#a92900"/><path d="M2498 425l-3 33 9-49 -9 4z" fill="#ab2b00"/><path d="M2609 525l24-34 -16 14 -11 8z" fill="#a02000"/><path d="M1929 229l8 1 -14-50 -9-3z" fill="#c94900"/><path d="M2459 173l3 20 -3-12 -7-1z" fill="#cf4f00"/><path d="M2346 442l3 33 2-49 -8 2z" fill="#a82900"/><path d="M1991 415l6-6 -11-42 2 37z" fill="#ad2d00"/><path d="M2280 257l6 17 -1-43 -8 0z" fill="#c44500"/><path d="M2208 472l8 44 -3-16 -10-65z" fill="#a22300"/><path d="M2105 313l2-45 -3-14 -4 29z" fill="#bf4000"/><path d="M1981 406l7-2 -10-37 -6 8z" fill="#af2f00"/><path d="M1991 493l-4-41 13 46 1 29z" fill="#a02000"/><path d="M2123 657l3-27 -3-10 -6 9z" fill="#8c0c00"/><path d="M2059 307l9 4 -10-51 -8-1z" fill="#be3f00"/><path d="M1955 454l25 54 3 7 -27-59z" fill="#a12200"/><path d="M2010 229l11 17 6 34 -12-24z" fill="#c34300"/><path d="M2319 184l7 0 1-60 -6-26z" fill="#d35400"/><path d="M2229 353l7-32 -3-25 -8-16z" fill="#bb3c00"/><path d="M2434 290l22-73 0-26 -23 74z" fill="#c74700"/><path d="M2000 498l-1-30 -6-24 11 67z" fill="#a22200"/><path d="M2184 481l6-27 -5-57 -5 62z" fill="#a72800"/><path d="M2078 278l13 38 -4-16 -18-70z" fill="#bf4000"/><path d="M2090 264l1-53 -7-35 0 57z" fill="#c84900"/><path d="M2118 480l14 40 -2 6 -7 3z" fill="#9e1f00"/><path d="M1920 224l9 5 -15-52 -5 10z" fill="#ca4b00"/><path d="M2606 552l-1 16 -14 7 -11 9z" fill="#981900"/><path d="M2523 334l18-35 -4-8 -22 47z" fill="#bd3d00"/><path d="M2046 438l4-19 8 47 -14-31z" fill="#a92900"/><path d="M2223 157l7 10 -3-5 -7-10z" fill="#d25300"/><path d="M2368 195l12-34 1-42 -4-29z" fill="#d55600"/><path d="M2079 232l7-1 -14-93 -16-49z" fill="#cf5000"/><path d="M1843 245l8 0 -33-92 -6 7z" fill="#cb4b00"/><path d="M2418 389l-7 69 0-29 -4-13z" fill="#ad2e00"/><path d="M2236 440l8 9 -3-61 -8 8z" fill="#ad2e00"/><path d="M2508 585l22-36 -2-15 -12 13z" fill="#9b1c00"/><path d="M2535 595l4 8 10-41 -20 28z" fill="#961700"/><path d="M2479 484l15-25 -13 19 -7 1z" fill="#a72700"/><path d="M2498 470l-3 29 1-23 2-28z" fill="#a72700"/><path d="M1983 439l4-13 -1-3 -13-19z" fill="#ac2d00"/><path d="M2479 504l9-6 6-39 -15 25z" fill="#a52600"/><path d="M2545 270l27-64 -24 52 -13 20z" fill="#c74800"/><path d="M1831 297l2-15 10 21 -8 1z" fill="#be3e00"/><path d="M2068 574l-1-41 5 24 -8 2z" fill="#991a00"/><path d="M2067 484l7-7 0 11 -7 0z" fill="#a42400"/><path d="M2542 213l-6 44 19-87 4-39z" fill="#d05100"/><path d="M2591 420l-20 65 -3-13 11-43z" fill="#ab2b00"/><path d="M2362 479l13-34 6-63 -19 65z" fill="#ac2c00"/><path d="M1910 295l-9-52 -2-10 9 54z" fill="#c34400"/><path d="M2119 465l5-19 -11-71 0 62z" fill="#ac2d00"/><path d="M2007 575l5-10 4 13 -8 1z" fill="#971800"/><path d="M2363 171l0 65 2-54 0-62z" fill="#d25300"/><path d="M2462 193l15-35 -12 27 -6-4z" fill="#d35300"/><path d="M2126 568l10 20 -1 6 -8-6z" fill="#961700"/><path d="M2184 181l8 29 -4-35 -7 4z" fill="#d05100"/><path d="M2225 184l8 45 -3-32 -8-33z" fill="#d05000"/><path d="M2020 431l5-16 9 43 -7 2z" fill="#ab2b00"/><path d="M2009 217l-1-43 -2-6 -8 1z" fill="#d05100"/><path d="M2011 183l10 11 4 25 -17-45z" fill="#cf5000"/><path d="M2201 422l8-7 -2 33 -8 1z" fill="#ad2d00"/><path d="M2038 354l7-5 5 31 -6 8z" fill="#b63600"/><path d="M1933 511l-1-24 10 24 0 21z" fill="#a12100"/><path d="M2286 218l4 64 -4-8 -6-17z" fill="#c74700"/><path d="M2325 553l5 20 -9 31 -3-35z" fill="#991a00"/><path d="M2020 254l7-1 -16-75 -8-1z" fill="#cc4c00"/><path d="M1887 194l35 89 -20-67 -22-44z" fill="#cb4c00"/><path d="M2495 564l-1 21 2-24 11-49z" fill="#9d1d00"/><path d="M1959 595l3-14 -8-23 2 26z" fill="#971800"/><path d="M1941 399l1-21 -17-55 7 47z" fill="#b63600"/><path d="M2209 415l8 18 -3 2 -7 13z" fill="#ae2e00"/><path d="M2556 448l18-26 -22 35 -1-16z" fill="#ae2e00"/><path d="M2599 389l-10 41 13-51 0-17z" fill="#b63600"/><path d="M2117 249l10 22 -1 11 -16-77z" fill="#c74800"/><path d="M2111 183l17 91 -6-37 -15-69z" fill="#cd4d00"/><path d="M2287 501l8 3 -5 8 -8 1z" fill="#a32400"/><path d="M2174 213l10 69 -3-21 -12-86z" fill="#ca4b00"/><path d="M2522 486l12-12 -20 32 -8 3z" fill="#a62700"/><path d="M2180 564l6-39 -3 9 -6 15z" fill="#9e1e00"/><path d="M2002 422l12 15 5 20 -9-4z" fill="#ac2c00"/><path d="M2430 186l3 24 -13 41 6-74z" fill="#d05000"/><path d="M1930 577l7-1 -5-16 -5 9z" fill="#991a00"/><path d="M2229 187l7 31 -3 11 -8-45z" fill="#d05000"/><path d="M2122 237l10 30 -11-92 -12-45z" fill="#cf5000"/><path d="M2072 557l-2-43 5 29 -4 13z" fill="#9e1e00"/><path d="M2476 445l-2 34 -5-8 -4-11z" fill="#ab2c00"/><path d="M2324 170l3 46 -5 10 -10 32z" fill="#ce4f00"/><path d="M2165 316l11 42 -3 1 -9-26z" fill="#bc3c00"/><path d="M2274 436l9-35 -6 32 -5-52z" fill="#b23200"/><path d="M2422 401l9-7 5-48 -9 4z" fill="#b83900"/><path d="M2355 397l14-51 -3-10 -9 9z" fill="#ba3b00"/><path d="M2293 339l6 17 -4-3 -5-40z" fill="#bd3d00"/><path d="M2114 574l2-39 -2 2 -5 17z" fill="#9d1e00"/><path d="M1994 177l8-2 7 42 -10-13z" fill="#d15100"/><path d="M2409 224l3 28 -10 28 3-61z" fill="#cb4c00"/><path d="M1885 269l9 3 12 35 -8-2z" fill="#c34300"/><path d="M2165 154l10 53 -1 34 -7-4z" fill="#cf5000"/><path d="M1945 502l12 12 7 18 -8-2z" fill="#a22200"/><path d="M2484 255l0 29 2-34 5-52z" fill="#cc4c00"/><path d="M2368 303l0 46 -1-22 -4-28z" fill="#c14200"/><path d="M2501 272l23-55 -7-2 -22 57z" fill="#cd4d00"/><path d="M1920 383l4-13 -16-49 3 33z" fill="#ba3a00"/><path d="M1890 352l-10-50 -17-50 8 46z" fill="#c24200"/><path d="M1961 364l0-26 -2-8 -8 0z" fill="#bd3d00"/><path d="M2211 327l7-44 -4-8 -7 42z" fill="#c44400"/><path d="M2160 314l10 35 -5-31 -9-28z" fill="#c14100"/><path d="M2122 404l8 6 -15-117 -5 25z" fill="#bb3c00"/><path d="M2438 521l10-11 11-63 -28 77z" fill="#a82800"/><path d="M1851 245l8 1 -35-100 -6 7z" fill="#d15200"/><path d="M2144 429l-1-91 -4-14 2 97z" fill="#b83900"/><path d="M2130 237l17 99 -4-12 -15-89z" fill="#c64700"/><path d="M2424 564l28-72 -9 7 -20 48z" fill="#a42500"/><path d="M2583 488l23-36 15-51 -29 49z" fill="#b03100"/><path d="M2031 255l-2-51 8 52 -3 22z" fill="#cb4c00"/><path d="M2396 327l10-15 -7 8 5-67z" fill="#c54500"/><path d="M2561 240l9-4 -13 18 3-31z" fill="#cf5000"/><path d="M2011 644l5-11 6 19 -10-6z" fill="#921300"/><path d="M1957 514l4-13 9 25 -6 6z" fill="#a42500"/><path d="M2349 168l-6 124 -4-4 3-94z" fill="#cf4f00"/><path d="M1943 356l13 18 -3-10 -22-46z" fill="#bc3d00"/><path d="M2490 165l5 14 -9 12 -1-27z" fill="#d95900"/><path d="M2092 419l1-47 -2 1 0 49z" fill="#b73700"/><path d="M2060 433l1-39 9 53 -4 19z" fill="#b13200"/><path d="M2432 561l16-31 4-38 -28 72z" fill="#a42500"/><path d="M2272 496l7 7 -3-17 -6-36z" fill="#ab2c00"/><path d="M2415 398l7 3 5-51 -5-11z" fill="#bc3d00"/><path d="M2402 206l-4 64 1-37 3-65z" fill="#d25300"/><path d="M2405 618l7 1 1-27 -2-22z" fill="#9b1c00"/><path d="M2451 383l14-28 17-89 -21 51z" fill="#c24300"/><path d="M1967 254l1-26 -9-35 -5 12z" fill="#d05100"/><path d="M2034 502l20 47 1 6 -16-33z" fill="#a42400"/><path d="M2495 179l10-12 -4-9 -15 33z" fill="#da5a00"/><path d="M1920 500l21 35 -8-24 3 28z" fill="#a52500"/><path d="M2485 531l0 20 -5-7 7-41z" fill="#a62600"/><path d="M2487 503l-7 41 3-31 -10 9z" fill="#a82800"/><path d="M2398 154l6 14 -5-1 -5-14z" fill="#dc5c00"/><path d="M2192 210l7-17 -4-41 -7 23z" fill="#d75800"/><path d="M2248 279l7 62 -4 3 -7-33z" fill="#c44400"/><path d="M2091 373l14 42 -4-16 -15-51z" fill="#ba3b00"/><path d="M2072 666l2-21 -5-20 -11-12z" fill="#951600"/><path d="M2547 388l23-44 8-43 -23 43z" fill="#c24200"/><path d="M2409 170l7 4 -5-1 -7-5z" fill="#da5b00"/><path d="M2394 173l8-5 -15 66 -11 22z" fill="#d55500"/><path d="M2050 309l16 51 -1-2 -21-74z" fill="#c24300"/><path d="M2512 562l-6 34 -10 4 12-50z" fill="#a02000"/><path d="M1953 364l8 0 -10-34 -16-28z" fill="#c04000"/><path d="M2192 541l10 50 -3-11 -10-39z" fill="#a12100"/><path d="M2278 200l9-34 -2-45 -9 35z" fill="#db5c00"/><path d="M2099 289l0-62 -6-28 4 91z" fill="#cd4e00"/><path d="M2084 233l0-57 5 49 -13-34z" fill="#d45500"/><path d="M2288 426l14-81 -6 13 -11 53z" fill="#bb3c00"/><path d="M2091 258l-2-76 2 29 -1 53z" fill="#d15100"/><path d="M2017 527l13 20 -4-13 -8-1z" fill="#a52500"/><path d="M2178 502l5-63 -1 44 -6 18z" fill="#ad2e00"/><path d="M2256 622l8-4 -4-8 -7 7z" fill="#9a1a00"/><path d="M2109 599l5-16 3 28 -11-18z" fill="#9c1d00"/><path d="M1893 376l24 44 -10-29 -28-55z" fill="#bb3b00"/><path d="M2311 515l12-32 -3-23 -12 44z" fill="#ad2d00"/><path d="M2305 457l10-27 0-41 -9 12z" fill="#b73800"/><path d="M2429 632l15-24 4-37 -7 0z" fill="#9e1f00"/><path d="M2536 381l19-37 12-54 -17 27z" fill="#c54500"/><path d="M1983 569l8 0 -15-44 -19-33z" fill="#a42500"/><path d="M2158 534l5-30 -3-8 -3 47z" fill="#a82900"/><path d="M2236 321l8-10 -3-5 -8-10z" fill="#c74800"/><path d="M2513 382l3 14 -13 18 -3-14z" fill="#bb3c00"/><path d="M2555 170l-3 35 5-38 -9 5z" fill="#dc5c00"/><path d="M2265 579l8-1 -3-26 -8 8z" fill="#a22300"/><path d="M2326 184l10-27 0-51 -9 18z" fill="#e06000"/><path d="M1925 475l-15-63 -1-5 11 52z" fill="#b33400"/><path d="M2100 283l4-29 -5-27 0 62z" fill="#cd4e00"/><path d="M2343 594l1 38 -1-28 -6-6z" fill="#9d1d00"/><path d="M2110 205l16 77 -4-18 -15-67z" fill="#d15200"/><path d="M2063 253l11 19 -1 7 -18-62z" fill="#cf4f00"/><path d="M2040 422l12 24 -12-56 -18-46z" fill="#ba3a00"/><path d="M2056 662l4-12 -8-31 -7 3z" fill="#971800"/><path d="M2293 327l6 15 -1-46 -7-7z" fill="#c84800"/><path d="M2505 340l-2 33 6-43 -1-21z" fill="#c54500"/><path d="M2198 286l8 22 -3 21 -7-3z" fill="#c74800"/><path d="M2258 450l7 20 -5 36 -7 4z" fill="#af2f00"/><path d="M2446 324l15-31 0-26 -26 80z" fill="#c94a00"/><path d="M2150 173l10 48 -6-64 -9-13z" fill="#db5c00"/><path d="M2380 511l-1 39 8-65 -17 44z" fill="#ab2b00"/><path d="M2507 528l6 3 9-45 -1-18z" fill="#ad2e00"/><path d="M2239 337l8-26 -4 38 -8 26z" fill="#c44400"/><path d="M1892 460l21 30 -9-24 1 21z" fill="#af2f00"/><path d="M2230 244l7 71 -3 19 -8-95z" fill="#cc4d00"/><path d="M1913 490l11 10 -21-58 1 24z" fill="#af3000"/><path d="M2189 541l10 39 -4-21 -9-34z" fill="#a52600"/><path d="M2592 565l14-13 -26 32 0-15z" fill="#a52600"/><path d="M1835 254l1-17 -3-10 5 34z" fill="#d15100"/><path d="M2577 282l13-18 -3-14 -19 34z" fill="#d05100"/><path d="M1805 218l10 4 25 63 -19-28z" fill="#d15100"/><path d="M2087 373l2-32 1 16 -13-36z" fill="#c34300"/><path d="M2439 530l10-5 -17 36 -12 15z" fill="#a72800"/><path d="M2307 635l11-24 -2-26 -10 22z" fill="#9e1f00"/><path d="M2490 178l19-49 -6-1 -14 28z" fill="#e26200"/><path d="M2174 650l5-39 -4-14 -4 43z" fill="#9b1c00"/><path d="M2313 199l11-29 -12 88 -5-26z" fill="#d75800"/><path d="M2050 380l-1-45 -5-20 4 62z" fill="#c34300"/><path d="M2210 418l8 13 -4-67 -7 45z" fill="#bc3c00"/><path d="M2604 380l-17 57 12-48 -8 2z" fill="#be3f00"/><path d="M2483 320l16-31 -21 52 0-26z" fill="#ca4a00"/><path d="M2487 439l19-38 -22 47 -8 5z" fill="#b93900"/><path d="M2384 355l12-28 8-74 -11 16z" fill="#cc4c00"/><path d="M2207 317l7-42 -3-19 -7 41z" fill="#cd4e00"/><path d="M2018 381l-4-53 -6-21 -7 4z" fill="#c64600"/><path d="M2465 355l6 7 2-33 9-63z" fill="#c84900"/><path d="M2215 158l8-1 -3-5 -8 1z" fill="#e06100"/><path d="M2170 564l7-13 -1 24 -8-5z" fill="#a52500"/><path d="M2209 243l7 1 -3-16 -8 13z" fill="#d45500"/><path d="M2060 650l12 16 -14-53 -6 6z" fill="#9a1b00"/><path d="M2313 360l13-54 -6 13 -10 32z" fill="#c74800"/><path d="M2487 175l-7 60 10-70 -6-4z" fill="#dd5e00"/><path d="M2291 237l12-61 -6 22 -8 11z" fill="#da5a00"/><path d="M2233 507l8 3 -4 10 -7-15z" fill="#ad2e00"/><path d="M2313 319l11-40 3-80 -12 48z" fill="#d25200"/><path d="M2462 410l28-75 -11 12 -24 65z" fill="#c24200"/><path d="M1924 236l6-7 -1-1 9 59z" fill="#d25300"/><path d="M2528 362l22-45 -4-10 -5-8z" fill="#ca4b00"/><path d="M2493 351l10-6 -16 32 -8 1z" fill="#c44500"/><path d="M1944 603l1-16 9 19 -5 5z" fill="#9f2000"/><path d="M2521 468l1 18 -16 23 -5-6z" fill="#b23200"/><path d="M2412 340l12-24 -2-16 -15 38z" fill="#ca4a00"/><path d="M1971 400l10 6 -9-31 -14-20z" fill="#bf4000"/><path d="M2262 448l9-32 -5 39 -8 14z" fill="#b73800"/><path d="M2332 591l17-61 1-42 -19 81z" fill="#a92a00"/><path d="M2379 482l17-45 -6-2 -15 43z" fill="#b63700"/><path d="M2173 387l9 11 0 59 -8-18z" fill="#bb3b00"/><path d="M2169 445l4-58 1 52 -9-25z" fill="#bb3b00"/><path d="M2402 168l-3 65 3-46 -15 47z" fill="#db5c00"/><path d="M2308 364l8 1 -8 35 -7 1z" fill="#c14200"/><path d="M1956 399l-6-45 9 30 -16-26z" fill="#c14200"/><path d="M2448 277l3 18 -19 62 -6-8z" fill="#cb4b00"/><path d="M2591 575l31-45 -11 3 -28 41z" fill="#aa2b00"/><path d="M2194 405l7-12 -6-76 -6 50z" fill="#c34300"/><path d="M2163 465l9 17 0 31 -8-1z" fill="#b13100"/><path d="M2280 565l11-36 -4-14 -10 38z" fill="#ab2b00"/><path d="M1962 258l10 8 11 46 -19-43z" fill="#d05000"/><path d="M2151 437l8 0 -7-51 -8 0z" fill="#bd3d00"/><path d="M2268 605l8-1 -4-2 -7-6z" fill="#a22300"/><path d="M2295 276l3 63 -2-26 -1-95z" fill="#cf5000"/><path d="M2614 471l5 4 -4-10 18-55z" fill="#b93900"/><path d="M2266 439l8-3 -2-55 -8 3z" fill="#be3e00"/><path d="M1890 463l10 5 -23-59 -3 13z" fill="#b83800"/><path d="M2253 617l7-7 -3-19 -8 5z" fill="#a22300"/><path d="M2533 539l22-35 -26 44 -10 7z" fill="#ad2d00"/><path d="M2367 366l6 7 -9 26 -9 14z" fill="#c24200"/><path d="M2188 175l7-23 -3-1 -6 44z" fill="#e16100"/><path d="M2016 578l-2-33 -1-3 0 25z" fill="#a82800"/><path d="M2288 353l6 27 -1-41 -7-18z" fill="#c74800"/><path d="M2478 361l14-25 7-47 -16 31z" fill="#cb4c00"/><path d="M2310 217l14-77 -7 31 -5-36z" fill="#e26200"/><path d="M2107 444l6-7 -11-69 -1 46z" fill="#bd3d00"/><path d="M2137 283l10 28 0 25 -17-99z" fill="#cf4f00"/><path d="M1972 375l6-8 3 12 -12-16z" fill="#c34400"/><path d="M2615 375l-23 69 -5-7 17-57z" fill="#c04100"/><path d="M2197 587l7-13 -2 17 -10-50z" fill="#a72700"/><path d="M2411 429l2 24 8-63 2-44z" fill="#c04000"/><path d="M2383 543l5 13 -10 18 0-34z" fill="#ab2b00"/><path d="M2128 235l15 89 -8-65 -7 0z" fill="#d35300"/><path d="M2022 489l20 49 -12-45 -16-30z" fill="#b13200"/><path d="M2019 180l10 7 7 44 -15-37z" fill="#dc5d00"/><path d="M2351 498l4 16 1-36 -3-31z" fill="#b53500"/><path d="M2468 424l-3 36 -5-7 -9 6z" fill="#ba3b00"/><path d="M2051 139l16 55 4 37 -18-71z" fill="#df6000"/><path d="M2460 179l7 2 -12 30 -19 56z" fill="#dd5d00"/><path d="M1909 321l19 32 -18-54 -24-51z" fill="#cd4d00"/><path d="M2089 408l18 64 -3-10 -15-42z" fill="#ba3b00"/><path d="M2074 477l5-12 3 21 -8 2z" fill="#b53500"/><path d="M2516 332l-3 34 7-46 7-49z" fill="#cd4e00"/><path d="M1887 467l5-7 13 27 -8 0z" fill="#b53500"/><path d="M2239 356l9-77 -4 32 -8 10z" fill="#cd4d00"/><path d="M2513 531l14-17 7-40 -12 12z" fill="#b33400"/><path d="M1914 591l20 26 0-4 -17-21z" fill="#a22300"/><path d="M2021 439l6-5 -21-85 0 33z" fill="#c04000"/><path d="M2545 376l-10 49 9-47 -11 11z" fill="#c44400"/><path d="M2144 588l4-35 1 28 -6 12z" fill="#a72700"/><path d="M2246 605l9-50 -4 1 -9 45z" fill="#a72800"/><path d="M2036 256l0-45 -6-23 0 38z" fill="#da5b00"/><path d="M2052 313l17 52 -3-5 -16-51z" fill="#ca4a00"/><path d="M2533 389l11-11 -2-16 -18 32z" fill="#c64600"/><path d="M2140 468l6-22 -2 8 -5 17z" fill="#b83900"/><path d="M2504 249l38-116 -16 36 -18 39z" fill="#e16100"/><path d="M2487 189l-9 68 -2-15 5-55z" fill="#dd5d00"/><path d="M1877 409l30 55 -10-27 -23-38z" fill="#bc3d00"/><path d="M2002 175l9 8 -3-9 1 43z" fill="#df6000"/><path d="M1960 565l-7-38 -8-25 -2 16z" fill="#ae2e00"/><path d="M2514 446l-13 57 -6-4 3-29z" fill="#b73800"/><path d="M2027 253l3-27 -11-46 -8-2z" fill="#dc5d00"/><path d="M2037 366l6-11 -15-70 -4 19z" fill="#cb4c00"/><path d="M2316 517l11-33 -4-1 -12 32z" fill="#b43500"/><path d="M2200 320l9 46 -3-10 -8-17z" fill="#ca4b00"/><path d="M2207 517l8 4 -4-23 -8-35z" fill="#b43400"/><path d="M2189 472l7-19 -3-6 -6 44z" fill="#b93900"/><path d="M2014 517l9 5 -8-27 -6 7z" fill="#b23200"/><path d="M2299 251l9-25 -3-13 -8 4z" fill="#dc5d00"/><path d="M2128 382l7-9 3 54 -8-9z" fill="#c24300"/><path d="M2276 486l7 0 -2-30 -7-11z" fill="#b93a00"/><path d="M2412 506l5 9 -4-5 0-35z" fill="#b53500"/><path d="M2251 213l8-11 -5 49 -7-37z" fill="#dd5e00"/><path d="M2104 305l10 13 0 22 -10-25z" fill="#ce4f00"/><path d="M2113 388l7-9 2 40 -6 4z" fill="#c24300"/><path d="M2044 649l12 13 -11-40 -10-7z" fill="#a02100"/><path d="M2369 574l14-31 -5-3 -11 17z" fill="#ae2e00"/><path d="M1850 305l25 46 -38-106 -9 0z" fill="#d25200"/><path d="M2349 293l9-9 -7 16 -13 41z" fill="#d25200"/><path d="M2228 420l8 2 -4 31 -7 1z" fill="#be3f00"/><path d="M2183 571l6-30 -3-16 -6 39z" fill="#ae2e00"/><path d="M2056 479l8-2 -8-31 -13-23z" fill="#bb3b00"/><path d="M2068 311l6-9 -13-73 -3 31z" fill="#d55600"/><path d="M2315 420l5 26 -6 14 -10 21z" fill="#bd3d00"/><path d="M2325 297l12-33 -11 53 -10 30z" fill="#d25200"/><path d="M2475 473l4 11 -5-5 2-34z" fill="#bb3c00"/><path d="M2073 589l0-35 -6-21 1 41z" fill="#ac2d00"/><path d="M2193 406l8 16 -2 27 -8-11z" fill="#c04000"/><path d="M2271 416l6 30 -4 14 -7-5z" fill="#be3f00"/><path d="M2023 320l15 34 6 34 -8-2z" fill="#c94900"/><path d="M2439 505l0 25 -19 46 -6-3z" fill="#b03100"/><path d="M2568 284l19-34 0-22 -17 31z" fill="#db5b00"/><path d="M2093 372l13 35 -1 8 -14-42z" fill="#c54600"/><path d="M2226 158l8 10 -4-1 -7-10z" fill="#e76700"/><path d="M2398 300l4 14 4-51 0-45z" fill="#d75800"/><path d="M2532 246l24-58 -19 42 7-49z" fill="#e16200"/><path d="M2558 273l-12 56 20-80 0-26z" fill="#d95900"/><path d="M2090 205l4-25 -7-43 -8 1z" fill="#e66700"/><path d="M1985 252l13 25 -4-15 1 34z" fill="#d65700"/><path d="M2559 418l17-27 -4-10 0-20z" fill="#c84900"/><path d="M1961 603l-6-37 7 15 -3 14z" fill="#a92900"/><path d="M2265 470l7 26 -2-46 -10 56z" fill="#b93a00"/><path d="M2556 490l19-30 8-40 -27 48z" fill="#be3e00"/><path d="M2356 261l9-9 -9 31 -1-57z" fill="#da5b00"/><path d="M2365 252l13-39 -13 56 -9 14z" fill="#db5b00"/><path d="M2156 373l12 58 -6-58 -9-13z" fill="#c74700"/><path d="M2075 596l-1-39 -1-3 0 35z" fill="#ab2c00"/><path d="M2342 290l7 9 3-67 -10 21z" fill="#d95900"/><path d="M2450 333l11-16 0-24 -15 31z" fill="#d25300"/><path d="M2207 152l8 6 -3-5 -8-6z" fill="#e96a00"/><path d="M2464 175l3 21 -5-3 -3-20z" fill="#e66600"/><path d="M2514 175l10-9 28-134 -20 51z" fill="#f07000"/><path d="M2147 345l7-9 -9-77 -3 55z" fill="#d25200"/><path d="M2186 525l9 34 -4-27 -8 2z" fill="#b23200"/><path d="M2326 381l9-5 -11 52 -2-53z" fill="#c74800"/><path d="M2109 554l5-17 -6-32 -3 34z" fill="#b23200"/><path d="M2580 561l27-38 7-35 -32 52z" fill="#b53500"/><path d="M2264 618l7 0 -3-13 -8 5z" fill="#a72800"/><path d="M2082 396l4-26 6 49 -5 13z" fill="#c54500"/><path d="M2493 356l12-16 3-31 -16 27z" fill="#d15100"/><path d="M2225 241l7-36 -3-18 -8 18z" fill="#e26200"/><path d="M1968 519l-3-32 -10-33 7 44z" fill="#b83900"/><path d="M2601 482l13-11 19-61 -27 42z" fill="#c04100"/><path d="M2517 458l8-4 7-40 2-29z" fill="#c44400"/><path d="M2258 580l7-1 -3-19 -7-19z" fill="#af2f00"/><path d="M2596 430l28-47 -3-14 3-24z" fill="#cb4b00"/><path d="M1897 353l-10-51 -11-34 4 34z" fill="#d25300"/><path d="M2477 158l7 3 -10 15 -9 9z" fill="#e96900"/><path d="M2141 505l6-15 -4-21 -9-4z" fill="#bb3b00"/><path d="M2023 522l8 0 -9-33 -7 6z" fill="#b63700"/><path d="M1891 256l-4-37 -11-35 -8 0z" fill="#e16100"/><path d="M2378 540l0 34 -3-10 10-88z" fill="#b33400"/><path d="M2145 259l11 31 1 52 -10-31z" fill="#d55500"/><path d="M2359 367l8-1 -12 47 -6-14z" fill="#ca4a00"/><path d="M2074 645l8 0 -7-27 -6 7z" fill="#a52500"/><path d="M2203 521l8 7 -4-11 -9-38z" fill="#b73800"/><path d="M2400 475l1 27 -4-7 5-58z" fill="#bd3d00"/><path d="M2355 558l3 26 -4-8 -2-28z" fill="#b03000"/><path d="M2467 196l10-13 0-25 -15 35z" fill="#e86800"/><path d="M2246 590l7 27 -4-21 -7 11z" fill="#aa2b00"/><path d="M2260 610l8-5 -3-9 -8-5z" fill="#ab2b00"/><path d="M2038 317l2-25 -9-44 -17-44z" fill="#da5a00"/><path d="M1958 355l14 20 -3-12 -2 22z" fill="#cb4b00"/><path d="M2600 421l-27 78 -2-14 20-65z" fill="#c14100"/><path d="M2457 476l-6 48 -3-14 -10 11z" fill="#b93a00"/><path d="M2101 399l8 3 -9-52 -13-39z" fill="#cc4c00"/><path d="M2168 248l10 46 -3-12 -11-55z" fill="#db5c00"/><path d="M2443 499l14-23 -19 45 -12 16z" fill="#b93a00"/><path d="M2002 639l10 7 -5-19 -17-24z" fill="#a62700"/><path d="M2483 187l-2 39 6-51 -10 8z" fill="#e76800"/><path d="M2207 409l7-45 -3 12 -7 36z" fill="#c94a00"/><path d="M1859 246l-10-48 -8-27 -17-25z" fill="#e56500"/><path d="M2378 381l5 12 -13 44 3-64z" fill="#ca4a00"/><path d="M2000 222l10 7 5 27 -5 14z" fill="#de5e00"/><path d="M2528 252l8-3 -11 14 4-37z" fill="#e06000"/><path d="M2504 285l26-65 -6-3 -23 55z" fill="#e06000"/><path d="M2333 126l7 6 -10 59 -8 3z" fill="#eb6c00"/><path d="M2120 379l8 3 2 36 -8 1z" fill="#c84900"/><path d="M2187 626l8-2 -3-7 -8-2z" fill="#a92900"/><path d="M2339 229l12-37 0-50 -10 27z" fill="#e96900"/><path d="M2465 415l0 28 -2-16 13-77z" fill="#c94900"/><path d="M2541 257l6 4 -8 5 -3-17z" fill="#df5f00"/><path d="M1786 180l35 67 -25-67 -11-6z" fill="#e56500"/><path d="M2242 601l9-45 -4-13 -8 21z" fill="#b13200"/><path d="M2075 543l2-33 -2-3 -1 32z" fill="#b73700"/><path d="M1999 632l12 12 1 2 -10-7z" fill="#a62600"/><path d="M1950 354l8 1 9 30 -8-1z" fill="#cd4d00"/><path d="M2290 313l5 40 -2-26 -6-35z" fill="#d55600"/><path d="M2147 490l7-5 -3-5 -8-11z" fill="#be3e00"/><path d="M2037 256l-3-64 2 19 0 45z" fill="#e16200"/><path d="M2524 541l27-49 -8 0 -16 22z" fill="#bb3c00"/><path d="M1910 496l10 4 16 39 -10-6z" fill="#b83800"/><path d="M1840 309l6-7 23 56 -25-43z" fill="#d45400"/><path d="M2375 478l15-43 -1-22 -14 32z" fill="#c54500"/><path d="M2014 328l15 34 -12-51 -9-4z" fill="#d45400"/><path d="M1850 211l29 58 -8-23 -1 17z" fill="#df5f00"/><path d="M1931 318l22 46 -18-62 8 54z" fill="#d25300"/><path d="M2040 577l10 6 7 32 -6 5z" fill="#ad2d00"/><path d="M2048 197l17 61 -15-88 -6 14z" fill="#e66700"/><path d="M2239 276l8-80 -3-14 -9 81z" fill="#e36300"/><path d="M2154 560l8-2 -3-1 -5 23z" fill="#b33300"/><path d="M2084 176l7-10 5 60 -7-1z" fill="#e76800"/><path d="M2048 377l-4-62 -5-21 4 61z" fill="#d35400"/><path d="M2135 461l6-18 -7-49 -3 43z" fill="#c54600"/><path d="M2344 440l7 0 -5 2 -11 24z" fill="#c54500"/><path d="M1981 299l1-25 5 20 -15-28z" fill="#db5b00"/><path d="M1843 303l-15-58 5 10 8 40z" fill="#db5c00"/><path d="M2474 518l6 3 -12 17 -8 0z" fill="#ba3a00"/><path d="M1806 254l25 43 4 7 -10-7z" fill="#d95a00"/><path d="M2345 355l6 15 -8 19 -12 41z" fill="#ce4e00"/><path d="M2163 177l7 0 -5-40 -8-10z" fill="#ee6f00"/><path d="M2159 340l6-24 -1 17 -7 17z" fill="#d55500"/><path d="M2295 605l8 3 -5 4 -7-5z" fill="#ae2e00"/><path d="M2373 582l14-30 -4-9 -14 31z" fill="#b53500"/><path d="M2233 296l8 10 -4 9 -7-71z" fill="#db5c00"/><path d="M2448 510l4 13 1-27 6-49z" fill="#bf3f00"/><path d="M2389 364l8-4 0-29 -7-5z" fill="#d45500"/><path d="M2431 524l28-77 -9 9 -20 48z" fill="#c14100"/><path d="M2109 624l14 33 -6-28 -13-28z" fill="#ab2b00"/><path d="M2030 493l15 30 -19-77 -5 13z" fill="#bf4000"/><path d="M2560 521l27-47 -12 9 -13 13z" fill="#c04000"/><path d="M2242 281l9-72 -4-13 -8 80z" fill="#e36300"/><path d="M2102 489l12 30 -1 0 -18-61z" fill="#be3e00"/><path d="M1932 377l13 16 12 36 -9-4z" fill="#ca4a00"/><path d="M2489 538l22-40 7-42 -26 54z" fill="#bf3f00"/><path d="M2238 608l8-18 -4 17 -8-4z" fill="#af3000"/><path d="M2065 217l6-12 -4-11 -16-55z" fill="#ea6a00"/><path d="M2512 326l30-74 -2-19 -17 33z" fill="#e06100"/><path d="M2498 448l-2 28 8-45 -17 29z" fill="#c64600"/><path d="M2022 652l2-20 -8-26 -5 9z" fill="#ab2b00"/><path d="M2074 424l7-5 -1 3 -3 23z" fill="#c84800"/><path d="M2251 448l8-12 -1-84 -9 41z" fill="#cb4c00"/><path d="M2149 194l10 42 -3-9 -6 23z" fill="#e56600"/><path d="M2636 473l20-24 -14 8 -13 11z" fill="#c54600"/><path d="M1937 230l-1-32 -11-40 -2 22z" fill="#e96a00"/><path d="M2097 290l-4-91 -4-17 2 76z" fill="#e46400"/><path d="M2134 465l9 4 -3-1 -7 7z" fill="#c24300"/><path d="M1970 447l13 19 -12-40 -26-59z" fill="#c84800"/><path d="M2233 623l8 13 -3-28 -8-19z" fill="#ae2f00"/><path d="M2298 612l8-5 -2-25 -8-3z" fill="#b13200"/><path d="M1988 216l10 13 -19-86 4 56z" fill="#e96a00"/><path d="M2114 583l5-15 4 33 -6 10z" fill="#b13200"/><path d="M2162 558l8 6 -2 6 -9-13z" fill="#b63600"/><path d="M1961 338l14 21 -17-60 1 31z" fill="#d65600"/><path d="M2532 414l-2 26 -2-16 10-49z" fill="#cd4d00"/><path d="M2297 217l8-4 -2-37 -12 61z" fill="#e96900"/><path d="M1968 228l8 2 -9-35 -8-2z" fill="#e76800"/><path d="M2061 394l13 30 3 21 -7 2z" fill="#c94900"/><path d="M2352 548l2 28 -2-17 -3-29z" fill="#b83800"/><path d="M2296 430l10-29 -1-38 -12 53z" fill="#cd4e00"/><path d="M2113 498l5-18 5 49 -9-10z" fill="#be3e00"/><path d="M2177 551l7-8 -1 28 -7 4z" fill="#b63700"/><path d="M1956 542l25 48 -3-10 -28-57z" fill="#b63600"/><path d="M2394 405l5 13 0-31 -11 22z" fill="#ce4e00"/><path d="M2206 356l8 26 -6-104 -7 17z" fill="#d85800"/><path d="M2124 332l3-51 -6-32 -8-1z" fill="#df5f00"/><path d="M2158 498l5-33 1 47 -10-27z" fill="#c14100"/><path d="M1970 526l-13-62 8 23 3 32z" fill="#be3f00"/><path d="M2256 305l10-69 -4-14 -9 63z" fill="#e26200"/><path d="M2126 630l8 2 -3-10 -8-2z" fill="#ad2e00"/><path d="M2484 161l6 4 -5-1 -11 12z" fill="#f17100"/><path d="M2359 423l0 52 -7 12 -1-47z" fill="#c74700"/><path d="M2582 414l22-34 -13 11 -9 4z" fill="#d15100"/><path d="M2570 259l17-31 -10 10 -7-2z" fill="#e76700"/><path d="M2573 249l-5 35 2-25 6-41z" fill="#e56600"/><path d="M2337 264l5 18 -11 62 -5-27z" fill="#dd5e00"/><path d="M2146 446l12 45 -8-63 -6 26z" fill="#c64700"/><path d="M1910 299l26 56 -37-118 -1 21z" fill="#dd5e00"/><path d="M2449 525l-2 30 1-25 -16 31z" fill="#bb3c00"/><path d="M2524 247l8-1 12-65 -1-24z" fill="#ec6c00"/><path d="M2547 261l19-38 -21 47 -6-4z" fill="#e56600"/><path d="M2013 266l23 76 -12-55 -25-82z" fill="#e06000"/><path d="M2589 466l1 14 -17 19 27-78z" fill="#c74800"/><path d="M2377 326l16-57 -2-21 -15 47z" fill="#e16100"/><path d="M2141 421l-2-97 -3-13 -2 67z" fill="#d55500"/><path d="M2221 562l7-34 -3-13 -7 50z" fill="#bb3b00"/><path d="M1958 299l26 68 -17-63 -8-1z" fill="#da5b00"/><path d="M1903 442l0-21 21 53 -3 13z" fill="#c64700"/><path d="M2370 612l8-3 0-29 -10 13z" fill="#b43400"/><path d="M2539 603l17-20 -3-14 -4-7z" fill="#b73800"/><path d="M2322 388l12-37 0-43 -8-2z" fill="#d95a00"/><path d="M1920 459l-11-52 5 11 -15-19z" fill="#cc4c00"/><path d="M2082 645l6-8 -4-15 -9-4z" fill="#ae2f00"/><path d="M2071 231l8 1 -23-143 -8-2z" fill="#f17200"/><path d="M2049 482l7-3 -13-56 -6 7z" fill="#c84800"/><path d="M2460 604l3 11 13-60 -14 22z" fill="#b63700"/><path d="M1976 230l10 10 -16-68 -3 23z" fill="#eb6b00"/><path d="M2413 175l8 1 -5-2 -7-4z" fill="#f27200"/><path d="M1930 229l12 18 0 0 -13-19z" fill="#e66700"/><path d="M2439 410l28-82 -22 64 -12 18z" fill="#d35400"/><path d="M2399 418l8-2 -1-25 -7-4z" fill="#d15100"/><path d="M2124 325l9 9 -3-11 -8-5z" fill="#db5b00"/><path d="M2055 353l18 58 -7-30 -18-56z" fill="#d45500"/><path d="M2270 318l11-52 -6 43 -9 31z" fill="#de5e00"/><path d="M2134 632l7-4 -3-12 -7 6z" fill="#b03100"/><path d="M2400 606l5 12 6-48 -11 14z" fill="#b63600"/><path d="M1833 282l17 23 -22-60 15 58z" fill="#e06100"/><path d="M2091 166l10 17 0 23 -5 20z" fill="#ee6f00"/><path d="M2406 391l17-45 -19 66 -7-4z" fill="#d45400"/><path d="M2252 519l9-34 -3-35 -9 57z" fill="#c54500"/><path d="M2204 223l7-4 -2 24 -7 45z" fill="#e86800"/><path d="M2016 633l7-2 1 1 -2 20z" fill="#af2f00"/><path d="M1988 404l-2-37 0 0 -8 0z" fill="#d45400"/><path d="M2529 226l-4 37 -4-8 12-71z" fill="#eb6b00"/><path d="M2047 386l9 6 -4-14 -10-8z" fill="#d45400"/><path d="M2543 492l0 18 -11 7 15-56z" fill="#c54600"/><path d="M2468 410l18-38 4-37 -28 75z" fill="#d55600"/><path d="M2415 230l15-44 -4-9 -10 14z" fill="#f07000"/><path d="M2089 341l3-37 6 54 -8-1z" fill="#da5a00"/><path d="M1991 569l-2-28 -15-47 2 31z" fill="#be3e00"/><path d="M2499 289l8-2 -15 28 -14 26z" fill="#e06100"/><path d="M2056 446l11 17 -7-30 -10-14z" fill="#cb4c00"/><path d="M2279 599l10-24 -4-4 -9 20z" fill="#b83800"/><path d="M2254 344l6 53 -3-4 -5-100z" fill="#d85900"/><path d="M2279 379l9-26 -2-32 -8-2z" fill="#da5b00"/><path d="M1945 231l-3-40 -2-9 -4 16z" fill="#ed6e00"/><path d="M2222 164l8 33 -4-39 -7 1z" fill="#f37400"/><path d="M2219 159l7-1 -3-1 -8 1z" fill="#f57500"/><path d="M1969 171l14 28 -9-39 3 47z" fill="#f07100"/><path d="M2404 155l5 15 -5-2 -6-14z" fill="#f57600"/><path d="M2000 367l0-28 -20-82 0 35z" fill="#dd5e00"/><path d="M2467 328l-7 57 -17 43 2-36z" fill="#d65600"/><path d="M2624 504l28-39 -14 8 -19 25z" fill="#c84800"/><path d="M2312 563l6 6 -4-2 -3-42z" fill="#bd3d00"/><path d="M2249 596l8-5 -2-36 -9 50z" fill="#b83900"/><path d="M2270 450l6 36 -2-41 -9 32z" fill="#ca4a00"/><path d="M1920 309l11 9 12 38 -10-7z" fill="#db5c00"/><path d="M2131 289l14 68 -2 1 -10-24z" fill="#dc5c00"/><path d="M2036 185l8-1 -5-23 3 64z" fill="#f07100"/><path d="M1849 198l9 2 -8-24 -9-5z" fill="#f07000"/><path d="M2218 606l8 35 -4-57 -7 41z" fill="#b43500"/><path d="M2481 187l-5 55 7-55 -8 1z" fill="#f17100"/><path d="M2401 483l9-9 10-71 -15 32z" fill="#cd4d00"/><path d="M2324 140l9-14 -11 68 -5-23z" fill="#f67700"/><path d="M1883 253l-15-69 -5-17 -5 11z" fill="#ef6f00"/><path d="M2190 333l8 6 -5-50 -5 65z" fill="#dd5e00"/><path d="M2544 378l-5 34 17-68 -14 18z" fill="#d85900"/><path d="M2521 403l27-57 -24 47 -13 17z" fill="#d65700"/><path d="M2170 243l10 36 -6-66 -9-11z" fill="#eb6b00"/><path d="M2038 602l2-25 11 43 -15-27z" fill="#b63600"/><path d="M2089 381l-2-70 2 30 -2 32z" fill="#d95a00"/><path d="M2158 635l6-12 -3-5 -8-9z" fill="#b33400"/><path d="M2510 586l8 0 -12 10 6-34z" fill="#ba3b00"/><path d="M2532 193l-8 54 19-90 -28 74z" fill="#f07100"/><path d="M1949 434l29 66 -14-47 -22-41z" fill="#cb4b00"/><path d="M1893 184l7-1 -2-5 -7 1z" fill="#f27200"/><path d="M1998 463l-12-71 10 37 -1 23z" fill="#ce4e00"/><path d="M1954 205l5-12 -1-1 -5 11z" fill="#f07000"/><path d="M1906 314l5-9 15 44 -16-26z" fill="#dd5e00"/><path d="M2362 309l13-42 3-54 -13 39z" fill="#e96900"/><path d="M2276 604l9-26 -6 21 -7 3z" fill="#b83900"/><path d="M2013 567l0-25 -9-32 2 36z" fill="#bf3f00"/><path d="M2046 276l13 31 -9-48 -11-13z" fill="#e66600"/><path d="M2053 574l9 3 -13-52 -11-9z" fill="#be3f00"/><path d="M2551 492l-9 40 1-22 0-18z" fill="#c64700"/><path d="M1880 172l22 44 -9-32 -3 16z" fill="#f17100"/><path d="M2308 504l12-44 -3-9 -10 20z" fill="#ca4b00"/><path d="M2491 198l-5 52 -8 7 9-68z" fill="#ef6f00"/><path d="M2420 436l2 25 -3-12 4-54z" fill="#d05100"/><path d="M2123 156l9 17 -5-32 -7 10z" fill="#f77800"/><path d="M2450 446l15-31 11-65 -24 64z" fill="#d55500"/><path d="M1929 610l-1-21 16 32 -10-4z" fill="#b53600"/><path d="M2232 205l8-1 -4 14 -7-31z" fill="#f17200"/><path d="M2494 459l4 11 0-22 -17 30z" fill="#cd4d00"/><path d="M2355 118l4 29 -4-5 -4-29z" fill="#fc7d00"/><path d="M2369 346l6 10 -3-14 -6-6z" fill="#dd5e00"/><path d="M2089 420l15 42 -10-52 -9-9z" fill="#d15200"/><path d="M2351 192l2 42 6-93 -8 1z" fill="#f67600"/><path d="M1941 535l2-17 -11-31 1 24z" fill="#c44400"/><path d="M2208 278l9 75 -3-38 -8-7z" fill="#e26200"/><path d="M2262 560l8-8 -5 13 -5-47z" fill="#c04100"/><path d="M2221 205l8-18 -4-3 -7 11z" fill="#f37400"/><path d="M2440 360l-3 45 12-78 -1-30z" fill="#de5e00"/><path d="M2535 138l-1 32 -8 6 -1-26z" fill="#fa7a00"/><path d="M2204 412l7-36 -5-62 -5 79z" fill="#d95a00"/><path d="M2349 549l6 9 -3-10 -16 50z" fill="#bf3f00"/><path d="M2080 422l5-21 -3-5 -1 35z" fill="#d35400"/><path d="M2386 302l4 24 -14 50 3-59z" fill="#e06100"/><path d="M2479 347l14-22 -14 26 -20 50z" fill="#dd5e00"/><path d="M2273 235l7 22 -3-26 -7-15z" fill="#ee6e00"/><path d="M2143 469l8 11 -5-34 -6 22z" fill="#cc4d00"/><path d="M2415 353l19-55 -10 18 -12 24z" fill="#e16200"/><path d="M2261 384l7-4 0-106 -8 6z" fill="#e06100"/><path d="M1898 259l7-3 -4-13 9 52z" fill="#e86900"/><path d="M1863 269l-13-58 20 52 -19-31z" fill="#eb6b00"/><path d="M2576 218l-6 41 0-23 -9 4z" fill="#ef6f00"/><path d="M2154 157l9 20 -6-50 -7 16z" fill="#fa7a00"/><path d="M2475 188l8-1 -6-4 -10 13z" fill="#f67600"/><path d="M2293 416l12-53 -3-18 -14 81z" fill="#d85900"/><path d="M2116 225l12 34 -1 12 -10-22z" fill="#eb6c00"/><path d="M2501 158l14-28 -6-1 -19 49z" fill="#fc7c00"/><path d="M2218 431l8-1 -4-71 -8 5z" fill="#d75700"/><path d="M1899 233l-4-38 28 90 -22-46z" fill="#ec6d00"/><path d="M2423 395l-4 54 -8 9 7-69z" fill="#d45400"/><path d="M2413 592l7-1 -2-15 -4-14z" fill="#be3e00"/><path d="M2095 458l18 61 -4-17 -17-57z" fill="#cb4b00"/><path d="M2130 410l4-32 -10-79 -9-6z" fill="#de5f00"/><path d="M2271 618l9-13 -4-1 -8 1z" fill="#b93a00"/><path d="M2291 607l7 5 -2-33 -7-4z" fill="#bc3c00"/><path d="M1927 541l17 22 -24-63 -10-4z" fill="#c44400"/><path d="M2102 368l11 20 3 35 -10-16z" fill="#d75800"/><path d="M2441 426l11-12 15-86 -28 82z" fill="#d95900"/><path d="M2094 410l13 34 -6-30 -15-44z" fill="#d55600"/><path d="M2050 583l13 20 -7-24 1 36z" fill="#bb3b00"/><path d="M1924 474l-19-72 5 10 15 63z" fill="#d05100"/><path d="M2235 263l9-81 -4 22 -8 1z" fill="#f27300"/><path d="M1961 416l-16-78 5 16 6 45z" fill="#d95a00"/><path d="M2273 578l10-44 -7 37 -6-19z" fill="#c14100"/><path d="M2369 558l6 5 -10 24 -7-3z" fill="#bf4000"/><path d="M1875 323l29 58 -11-35 -10-3z" fill="#dd5e00"/><path d="M2353 457l9-10 7-73 -10 12z" fill="#d65600"/><path d="M2542 362l14-18 -18 30 -4-9z" fill="#df5f00"/><path d="M2393 606l7 0 0-22 -7-4z" fill="#bd3d00"/><path d="M2518 250l1 23 -20 46 -9 6z" fill="#e86900"/><path d="M2170 554l7-5 -8-69 -6 24z" fill="#c64700"/><path d="M2315 430l7 9 2-59 -9 9z" fill="#d75700"/><path d="M1998 229l6-11 -10-41 -15-34z" fill="#f57500"/><path d="M1890 200l3-16 -2-5 -15-23z" fill="#f67700"/><path d="M2515 231l28-74 -1-24 -38 116z" fill="#f77700"/><path d="M1900 183l9 4 -6-22 -5 13z" fill="#f77700"/><path d="M2184 615l8 2 -4-28 -7 11z" fill="#bb3b00"/><path d="M2277 553l10-38 -3-12 -9 15z" fill="#c74800"/><path d="M2312 135l5 36 -5 11 -1-93z" fill="#fd7e00"/><path d="M1935 302l16 28 -17-59 20 94z" fill="#e36300"/><path d="M2323 197l7 8 3-79 -9 14z" fill="#fa7b00"/><path d="M2358 284l5 15 -5 6 -7-5z" fill="#e86800"/><path d="M2131 544l9 14 -8-52 -9-9z" fill="#c64700"/><path d="M2259 436l7 3 -2-55 -6-32z" fill="#d85900"/><path d="M2398 173l9-6 -3-12 -13 36z" fill="#fa7b00"/><path d="M1889 407l6-4 -23-65 -7 4z" fill="#db5c00"/><path d="M2431 209l7 2 -5-1 -3-24z" fill="#f67600"/><path d="M2332 450l9-9 -9 30 -6-10z" fill="#d15200"/><path d="M2204 297l7-41 -4-18 -7 31z" fill="#ec6d00"/><path d="M1936 489l6-5 -15-42 -9-2z" fill="#cf4f00"/><path d="M2243 349l9-52 -4-18 -9 77z" fill="#e56500"/><path d="M2433 265l23-74 -6-2 -12 22z" fill="#f57500"/><path d="M2159 437l6-23 -6-42 -7 14z" fill="#d95900"/><path d="M2150 428l9 15 -1 18 -11-34z" fill="#d35400"/><path d="M2184 316l9 28 -3-11 -7 31z" fill="#e26200"/><path d="M2372 307l7 10 -11 32 0-46z" fill="#e66600"/><path d="M2473 246l1 28 -16 43 -3-17z" fill="#eb6c00"/><path d="M2086 535l21 71 -3-12 -21-69z" fill="#c14200"/><path d="M2396 471l5 12 4-48 0-33z" fill="#d35400"/><path d="M2400 526l12-20 1-31 -8 2z" fill="#cd4d00"/><path d="M1945 393l0-26 15 47 -3 15z" fill="#d85900"/><path d="M2353 621l9-10 2-39 -10 15z" fill="#be3f00"/><path d="M2241 636l8-29 -3-17 -8 18z" fill="#bc3c00"/><path d="M2263 198l7 18 -6 54 -5-68z" fill="#f37400"/><path d="M2107 654l2-30 -5-23 -4 21z" fill="#b93a00"/><path d="M2362 611l8 1 -2-19 -4-21z" fill="#be3f00"/><path d="M2575 483l17-22 -10 4 -23 35z" fill="#d15100"/><path d="M2262 327l9-36 -1-50 -9 26z" fill="#eb6c00"/><path d="M2358 564l9-7 3-48 -8 6z" fill="#c74800"/><path d="M2570 344l6 5 -4-11 6-37z" fill="#e56600"/><path d="M2229 531l8-40 -4 16 -7 24z" fill="#ca4a00"/><path d="M2276 156l9-35 -4-5 -9 35z" fill="#ff8101"/><path d="M2580 440l35-65 -11 5 -22 34z" fill="#db5c00"/><path d="M2572 361l0 20 5-33 -22 40z" fill="#e06100"/><path d="M1828 279l3-13 -16-44 -10-4z" fill="#ef6f00"/><path d="M1894 272l4-14 0 1 8 48z" fill="#eb6b00"/><path d="M2591 391l8-2 3-27 -12 12z" fill="#df6000"/><path d="M2340 132l5 30 -2-34 -13 63z" fill="#fe7f00"/><path d="M2048 325l18 56 -3-10 -14-36z" fill="#e06100"/><path d="M2305 213l8-14 -6 33 -4-56z" fill="#f77700"/><path d="M2211 153l8 6 -4-1 -8-6z" fill="#fe7e00"/><path d="M2037 572l6-6 -10-39 -8 2z" fill="#c54500"/><path d="M2534 474l13-13 -18 25 -15 20z" fill="#d05100"/><path d="M2489 242l-11 73 -14 29 10-70z" fill="#eb6b00"/><path d="M2351 370l8-3 -10 32 -6-10z" fill="#de5f00"/><path d="M2235 436l7 62 -3-17 -7-86z" fill="#d35400"/><path d="M2458 586l2 18 2-27 -9 2z" fill="#c14200"/><path d="M1942 378l1-20 0-2 -18-33z" fill="#e16100"/><path d="M2104 254l10 19 -5-23 -10-23z" fill="#f07100"/><path d="M2135 373l9 13 -3-5 -3 46z" fill="#dc5d00"/><path d="M2257 591l8 5 -4-3 -6-38z" fill="#c14200"/><path d="M2402 437l-5 58 -1-24 0-34z" fill="#d45400"/><path d="M2352 559l6 5 4-49 -7-5z" fill="#c84900"/><path d="M2312 182l7 2 2-86 -4-46z" fill="#ff8303"/><path d="M2537 291l18-33 -10 8 -29 69z" fill="#ed6d00"/><path d="M2582 540l32-52 -17 17 -10 6z" fill="#cd4e00"/><path d="M2035 538l-1-36 5 20 -5 12z" fill="#c94900"/><path d="M1977 207l-3-47 -4-11 -5 12z" fill="#fc7c00"/><path d="M2024 287l14 30 -24-113 -4 22z" fill="#ef6f00"/><path d="M2517 215l16-31 -14 27 -20 48z" fill="#f77800"/><path d="M1958 509l4-11 -20-59 -7 4z" fill="#d05100"/><path d="M2340 357l5 19 6-86 -9 17z" fill="#e66600"/><path d="M2116 535l12 30 -9-46 -5 18z" fill="#c84800"/><path d="M2258 353l7 19 -5 25 -6-53z" fill="#e16100"/><path d="M2488 544l19-32 -22 39 0-20z" fill="#ca4a00"/><path d="M2529 548l34-65 -12 9 -27 49z" fill="#cd4d00"/><path d="M2149 192l8 9 -3 3 -12-60z" fill="#fb7b00"/><path d="M2067 463l6-10 -12-59 -1 39z" fill="#d75700"/><path d="M1879 336l28 55 -3-10 -29-58z" fill="#e16200"/><path d="M2376 512l18-56 -10 21 -11 20z" fill="#d15200"/><path d="M2480 521l5 10 2-28 -19 35z" fill="#cc4d00"/><path d="M1833 227l0-22 8 18 -7 3z" fill="#f57500"/><path d="M2620 334l-5 30 -16 18 16-56z" fill="#e56600"/><path d="M2249 607l7 15 -3-5 -7-27z" fill="#bf4000"/><path d="M2410 519l2 24 -14 34 -9 4z" fill="#c84800"/><path d="M2582 454l39-73 -6-6 -35 65z" fill="#dd5d00"/><path d="M2393 526l7 0 5-49 -2-26z" fill="#d05100"/><path d="M2086 348l15 51 -14-88 2 70z" fill="#e26300"/><path d="M2211 219l8 30 -3-5 -7-1z" fill="#f47500"/><path d="M2380 470l0 41 -10 18 -7 1z" fill="#ce4f00"/><path d="M2576 349l23-43 -17 25 -10 7z" fill="#e96900"/><path d="M2056 392l6-8 -7-31 -3 25z" fill="#e06100"/><path d="M2375 563l11-13 -13 32 -8 5z" fill="#c64600"/><path d="M2615 326l-16 56 17-62 -11 10z" fill="#e86800"/><path d="M2332 455l11-27 2-54 -13 38z" fill="#db5c00"/><path d="M1950 523l28 57 -19-56 0 23z" fill="#c84800"/><path d="M2331 569l19-81 -7 14 -13 40z" fill="#cc4c00"/><path d="M1942 191l12 14 -1-2 -13-21z" fill="#fa7a00"/><path d="M1945 587l4-11 12 27 -7 3z" fill="#c14100"/><path d="M2159 189l6-35 2 83 -10-36z" fill="#fb7b00"/><path d="M2114 273l2-48 1 24 -8 1z" fill="#f37300"/><path d="M2356 478l7 0 -4-3 0-52z" fill="#d55600"/><path d="M2209 463l7-8 -4-41 -7 28z" fill="#d85900"/><path d="M1943 518l2-16 11 28 -24-43z" fill="#ce4e00"/><path d="M2134 329l3-46 -7-46 -3 44z" fill="#ef6f00"/><path d="M2191 532l8 23 -5-52 -9-23z" fill="#cd4e00"/><path d="M2098 542l7-3 -8-39 -11-17z" fill="#cd4e00"/><path d="M2416 191l10-14 -5-1 -8-1z" fill="#ff8000"/><path d="M1882 201l8-1 -14-44 -9-2z" fill="#fd7e00"/><path d="M2414 228l3 29 -5-5 -3-28z" fill="#f77700"/><path d="M1858 200l0-22 -2-9 -6 7z" fill="#fd7d00"/><path d="M2529 590l20-28 4-29 -24 39z" fill="#c94a00"/><path d="M2410 474l10-10 0-28 0-33z" fill="#da5a00"/><path d="M2468 185l7 3 -8 8 -3-21z" fill="#ff8000"/><path d="M2360 119l2 46 -3-18 -4-29z" fill="#ff8607"/><path d="M2276 591l9-20 -2-37 -10 44z" fill="#c84800"/><path d="M2570 584l8-2 4-27 -15 15z" fill="#c94900"/><path d="M1841 295l-8-40 -18-51 16 62z" fill="#f37300"/><path d="M2420 319l5 13 -10 21 -5-13z" fill="#ea6b00"/><path d="M2444 608l14-22 -5-7 -5-8z" fill="#c74700"/><path d="M1876 184l4-12 10 28 -8 1z" fill="#fd7d00"/><path d="M1924 500l3-12 -24-67 0 21z" fill="#d65600"/><path d="M2453 579l9-2 -10 6 2-28z" fill="#c94900"/><path d="M2204 334l8 33 -3-1 -9-46z" fill="#e86800"/><path d="M2351 426l2 31 6-71 -8 3z" fill="#df5f00"/><path d="M2467 517l7 1 -14 20 -2-15z" fill="#d05000"/><path d="M2097 647l3-25 -7-31 -9-1z" fill="#c14200"/><path d="M2255 555l6 38 -3-13 -7-24z" fill="#c84900"/><path d="M2038 652l6-3 -9-34 -11-7z" fill="#bf4000"/><path d="M2405 477l8-2 -12 27 -1-27z" fill="#d65700"/><path d="M2637 579l9-4 8-32 -17 18z" fill="#cb4c00"/><path d="M1940 182l13 21 -1-1 -24-62z" fill="#ff8000"/><path d="M2107 197l15 67 -11-81 -6 19z" fill="#fc7c00"/><path d="M2082 486l-2-54 -1 2 0 42z" fill="#d95900"/><path d="M2107 268l6-20 1 25 -10-19z" fill="#f57500"/><path d="M2176 309l8 7 -1 48 -7-6z" fill="#ea6b00"/><path d="M2043 566l10 8 -15-58 -5 11z" fill="#cc4d00"/><path d="M2144 454l6-26 -3-1 -6 16z" fill="#dc5c00"/><path d="M2024 304l4-19 10 54 -17-45z" fill="#ee6f00"/><path d="M1971 426l12 13 -10-35 -20-41z" fill="#df6000"/><path d="M2404 253l-5 67 -1-20 4-69z" fill="#f47500"/><path d="M2142 144l12 60 -4-31 -9-8z" fill="#ff8303"/><path d="M2254 350l7 34 -1-104 -8 17z" fill="#ec6d00"/><path d="M2423 346l-2 44 -5-4 -12 26z" fill="#e56500"/><path d="M2556 468l27-48 -9 2 -18 26z" fill="#de5e00"/><path d="M2220 409l8 11 -3 34 -8-21z" fill="#de5e00"/><path d="M2472 481l0 23 3-31 3-36z" fill="#d85900"/><path d="M2025 529l8-2 2 11 -5 9z" fill="#ce4f00"/><path d="M2210 622l8-16 -3 19 -9-31z" fill="#c44400"/><path d="M2203 435l10 65 -4-37 -9-44z" fill="#da5b00"/><path d="M2285 560l11-42 -5 11 -11 36z" fill="#ce4f00"/><path d="M2407 416l4 13 12-83 -17 45z" fill="#e46400"/><path d="M2097 436l16 58 -5-22 -16-59z" fill="#da5b00"/><path d="M2528 424l6 4 11-52 3-30z" fill="#e56500"/><path d="M2268 274l6 44 -4 0 -8 31z" fill="#ef7000"/><path d="M2599 306l5 7 -26 48 4-30z" fill="#ef6f00"/><path d="M2307 471l10-20 -2-31 -13 60z" fill="#db5c00"/><path d="M2117 629l6-9 -5-21 -9-6z" fill="#c44500"/><path d="M1883 350l-12-52 -33-93 4 34z" fill="#f37400"/><path d="M2226 641l7-18 -3-34 -8-5z" fill="#c54600"/><path d="M2416 250l4 17 -3-10 -3-29z" fill="#f97a00"/><path d="M1853 363l35 68 -3-10 -31-59z" fill="#e26300"/><path d="M2646 575l-2 16 18-48 -8 0z" fill="#ce4e00"/><path d="M1959 193l8 2 -2-8 -7 5z" fill="#ff8001"/><path d="M2559 131l-4 39 -7 2 -9 7z" fill="#ff8707"/><path d="M2026 446l18 44 -5-20 -15-30z" fill="#da5a00"/><path d="M2493 325l0 26 -14 27 0-27z" fill="#eb6c00"/><path d="M1970 172l18 44 -5-17 -14-28z" fill="#ff8101"/><path d="M2100 209l-1-76 -2-1 -3 48z" fill="#ff8506"/><path d="M2527 271l-7 49 -11 12 10-59z" fill="#f37400"/><path d="M2307 505l10-24 -9 43 -6-18z" fill="#d55600"/><path d="M2218 195l7-11 -3-20 -8-6z" fill="#ff8505"/><path d="M2407 167l6 8 -4-5 -5-15z" fill="#ff8707"/><path d="M2004 218l-1-41 -1-2 -8 2z" fill="#ff8202"/><path d="M1893 322l-10-52 25 72 -8-2z" fill="#ee6f00"/><path d="M2142 314l3-55 2 52 -10-28z" fill="#f37400"/><path d="M1924 370l8 0 -23-69 -1 20z" fill="#eb6c00"/><path d="M1872 451l15 16 10 20 -20-28z" fill="#d95a00"/><path d="M2200 269l7-31 -3-15 -7 44z" fill="#fa7a00"/><path d="M1850 257l3-15 10 27 -19-32z" fill="#f87900"/><path d="M2092 413l16 59 -1 0 -18-64z" fill="#de5f00"/><path d="M2365 120l0 62 -3-17 -2-46z" fill="#ff8a0b"/><path d="M2415 535l9-3 -7 1 -14 29z" fill="#d25200"/><path d="M2333 200l9-6 -9 38 -6-16z" fill="#ff8101"/><path d="M1928 140l24 62 -2-6 -23-61z" fill="#ff8506"/><path d="M2086 370l15 44 -8-42 -1 47z" fill="#e56600"/><path d="M1965 487l3-15 12 36 -25-54z" fill="#d85900"/><path d="M1912 543l9 3 -16-41 -10-6z" fill="#d25300"/><path d="M2476 431l17-33 9-54 -16 28z" fill="#e86900"/><path d="M2123 620l8 2 -6-28 -7 5z" fill="#c74800"/><path d="M2476 350l-13 77 2-34 -5-8z" fill="#e86900"/><path d="M2614 486l-34 83 -11 6 5-26z" fill="#d25300"/><path d="M1856 229l28 57 -5-17 -29-58z" fill="#fa7a00"/><path d="M1973 547l11 9 15 42 -8-2z" fill="#cc4c00"/><path d="M2001 553l5-7 -14-49 -6 9z" fill="#d35300"/><path d="M2334 351l6 6 2-50 -8 1z" fill="#f07000"/><path d="M2495 413l9-4 5-38 -16 27z" fill="#e76800"/><path d="M2199 134l8 18 -3-5 -8-19z" fill="#ff8b0c"/><path d="M2030 600l8 2 -2-9 -11-9z" fill="#c94a00"/><path d="M1833 205l21 35 -15-45 2 28z" fill="#ff7f00"/><path d="M2496 602l14-16 2-24 -8 2z" fill="#ce4e00"/><path d="M2030 226l0-38 -1-1 -10-7z" fill="#ff8303"/><path d="M2390 385l4 20 -6 4 -5-16z" fill="#e76800"/><path d="M2145 144l9 13 -4-14 -8-4z" fill="#ff8b0b"/><path d="M2287 166l8-6 -2-38 -8-1z" fill="#ff8c0c"/><path d="M2195 624l8-4 -5-32 -6 29z" fill="#c84900"/><path d="M2210 208l8-13 -4-37 -8-21z" fill="#ff8708"/><path d="M2039 470l10 12 -12-52 -13-21z" fill="#df6000"/><path d="M2012 294l9 0 2 16 -16-36z" fill="#f57600"/><path d="M2101 206l2-58 -4-15 1 76z" fill="#ff8707"/><path d="M2602 362l0 17 6-35 -15 19z" fill="#ee6e00"/><path d="M2604 586l15-13 8-33 -22 28z" fill="#d15100"/><path d="M2609 564l-5 22 1-18 1-16z" fill="#d15100"/><path d="M1844 237l19 32 -12-37 -14-16z" fill="#fd7d00"/><path d="M2477 183l10-8 -3-14 -7-3z" fill="#ff8a0a"/><path d="M2042 370l10 8 -7-29 -7 5z" fill="#ec6c00"/><path d="M2023 631l15 21 -14-44 0 24z" fill="#c54600"/><path d="M1905 505l5-9 16 37 -18-26z" fill="#d65700"/><path d="M2063 603l5-12 -1-2 -11-10z" fill="#cb4c00"/><path d="M1921 546l6-5 -17-45 -5 9z" fill="#d55500"/><path d="M2473 329l10-9 -5-5 11-73z" fill="#f67700"/><path d="M2592 450l29-49 0-20 -39 73z" fill="#e66600"/><path d="M2411 176l5 15 -3-16 -6-8z" fill="#ff8909"/><path d="M2193 344l7-24 -2 19 -8-6z" fill="#f17100"/><path d="M1960 414l-7-49 -8-27 16 78z" fill="#e96900"/><path d="M2540 233l1 24 -5-8 -8 3z" fill="#ff7f00"/><path d="M2099 312l6-14 -1 7 0 56z" fill="#f37300"/><path d="M1793 236l30 53 -12-33 -16-18z" fill="#fb7b00"/><path d="M2265 477l9-32 -3-29 -9 32z" fill="#e26200"/><path d="M2080 521l14 32 -7-28 -10-15z" fill="#d55600"/><path d="M2011 178l8 2 2 14 -10-11z" fill="#ff8707"/><path d="M2245 514l8-23 -5 32 -7-13z" fill="#d95900"/><path d="M2571 276l3 13 -24 49 18-73z" fill="#f97a00"/><path d="M2087 495l6-11 0 5 -7 6z" fill="#db5b00"/><path d="M1811 256l17 23 -23-61 -10-3z" fill="#fd7e00"/><path d="M2260 518l5 47 -3-12 -5-63z" fill="#d65600"/><path d="M1794 243l31 54 -2-8 -30-53z" fill="#fa7a00"/><path d="M2192 151l7-17 -3-6 -7 18z" fill="#ff8e0f"/><path d="M2141 443l6-16 -2 5 -11-38z" fill="#e56500"/><path d="M2172 482l4-61 2 81 -6 11z" fill="#dd5e00"/><path d="M2314 523l1 55 5-79 -8 2z" fill="#d75800"/><path d="M2575 310l22-42 -35 76 12-55z" fill="#f87900"/><path d="M2285 578l6 29 -2-32 -10 24z" fill="#ce4f00"/><path d="M2203 164l8-11 -4-1 -8-18z" fill="#ff8d0d"/><path d="M2376 295l15-47 -5-1 -11 20z" fill="#fd7e00"/><path d="M2384 223l14-45 -4-5 -17 63z" fill="#ff8607"/><path d="M1873 259l12 10 13 36 -28-57z" fill="#fa7b00"/><path d="M2337 563l8 1 -10 25 -5-16z" fill="#d15200"/><path d="M2444 322l-5 52 12-79 -3-18z" fill="#f67600"/><path d="M1927 488l9 1 -18-49 -15-19z" fill="#e06000"/><path d="M2568 265l-18 73 -5-4 46-165z" fill="#fc7c00"/><path d="M1909 187l5-10 -7-24 -4 12z" fill="#ff890a"/><path d="M2332 615l11-21 -6 4 -5-19z" fill="#ce4f00"/><path d="M2501 350l-6 45 8-50 -10 6z" fill="#f07100"/><path d="M2450 456l11-13 -14 25 -11 16z" fill="#e26200"/><path d="M2131 622l7-6 -5-21 -8-1z" fill="#cc4c00"/><path d="M2125 158l7-10 0 25 -9-17z" fill="#ff8c0d"/><path d="M2238 370l9-72 -4 24 -9 89z" fill="#f17100"/><path d="M2159 236l6-34 -3-6 -6 31z" fill="#ff8505"/><path d="M2044 199l-3-62 -2-5 -4 23z" fill="#ff8c0d"/><path d="M2074 512l-6-68 6 33 -7 7z" fill="#de5f00"/><path d="M1893 558l24 34 4 4 -15-13z" fill="#cf4f00"/><path d="M2092 558l14 35 1 13 -21-71z" fill="#d15200"/><path d="M2463 615l15-20 5-38 -7-2z" fill="#d25200"/><path d="M2384 477l12-21 -5-3 -15 38z" fill="#e16200"/><path d="M2247 311l7 39 -2-53 -9 52z" fill="#f57600"/><path d="M1997 409l3-18 -11-42 -3 18z" fill="#ed6d00"/><path d="M2132 173l5-36 -3-6 -7 10z" fill="#ff8f10"/><path d="M2178 384l8 21 -5-56 -12-58z" fill="#f07100"/><path d="M2151 185l8 4 -2 12 -8-9z" fill="#ff8909"/><path d="M1907 365l4-11 -28-84 10 52z" fill="#f47400"/><path d="M2198 339l8 17 -5-61 -8-6z" fill="#f67700"/><path d="M1862 329l4-10 20 48 -29-54z" fill="#f37400"/><path d="M2083 525l21 69 -7-32 -17-46z" fill="#d55600"/><path d="M2406 263l10-13 -2-22 -12 25z" fill="#ff8202"/><path d="M2533 184l-12 71 11-62 -13 18z" fill="#ff8808"/><path d="M2009 502l6-7 -7-24 -6 6z" fill="#de5f00"/><path d="M2040 292l-1-46 -5-22 -3 24z" fill="#ff8001"/><path d="M2345 376l12-31 2-51 -8-4z" fill="#f67700"/><path d="M2080 516l17 46 -3-9 -14-32z" fill="#d75800"/><path d="M2347 229l8-3 -12 66 6-124z" fill="#ff8505"/><path d="M2487 460l17-29 2-30 -19 38z" fill="#e86900"/><path d="M2195 152l8 12 -4-30 -7 17z" fill="#ff9010"/><path d="M2199 193l7-56 -3 27 -8-12z" fill="#ff8e0f"/><path d="M2231 592l8-28 -3-68 -8 32z" fill="#d75800"/><path d="M2268 380l10-61 -4-1 -6-44z" fill="#f77700"/><path d="M2154 336l6-22 -4-24 -11-31z" fill="#fa7a00"/><path d="M2140 398l11 39 -7-51 -9-13z" fill="#ec6c00"/><path d="M2412 543l6 6 -3-14 -17 42z" fill="#d85800"/><path d="M2252 293l5 100 -3-43 -7-39z" fill="#f57600"/><path d="M2572 206l4 12 -15 22 -13 18z" fill="#ff8707"/><path d="M1984 556l11 7 3 9 1 26z" fill="#d35400"/><path d="M2605 568l22-28 -5-10 -31 45z" fill="#d85900"/><path d="M1978 142l21 62 -11-44 -13-24z" fill="#ff8e0f"/><path d="M2300 496l7 9 -5 1 -7-2z" fill="#de5f00"/><path d="M2387 185l8 1 -11 37 -13 36z" fill="#ff8809"/><path d="M2084 622l13 25 -13-57 -9-7z" fill="#ce4f00"/><path d="M2402 187l9-11 -4-9 -9 6z" fill="#ff8e0f"/><path d="M2488 498l26-52 -16 24 -4-11z" fill="#e56500"/><path d="M1948 237l16 32 3 13 -27-75z" fill="#ff8203"/><path d="M2270 465l6 29 -4 2 -7-26z" fill="#e26200"/><path d="M2634 480l6 2 -31 43 -8 1z" fill="#e06100"/><path d="M2030 402l16 36 -2-3 -13-22z" fill="#e96a00"/><path d="M2317 559l8-6 -7 16 -6-6z" fill="#d75700"/><path d="M2008 307l9 4 -5-17 -5 9z" fill="#fa7b00"/><path d="M2397 360l15-41 -6 5 -9 7z" fill="#f87800"/><path d="M2101 414l1-46 4 39 -13-35z" fill="#ee6f00"/><path d="M2614 504l20-24 -33 46 2-19z" fill="#e06100"/><path d="M2324 279l9-12 -1-38 -5-30z" fill="#ff8505"/><path d="M2230 589l8 19 -4-5 -8-25z" fill="#d25300"/><path d="M2452 583l17-27 -2-18 -12 14z" fill="#d85900"/><path d="M2074 302l4-24 -9-48 -8-1z" fill="#ff8202"/><path d="M2260 280l8-6 -6 75 -7-8z" fill="#fa7b00"/><path d="M2330 205l11-36 -1-37 -7-6z" fill="#ff9112"/><path d="M2597 505l6 2 -10 3 21-61z" fill="#e26300"/><path d="M2341 441l7 2 -4-3 -12 31z" fill="#e86800"/><path d="M2025 584l11 9 4 15 -29-75z" fill="#d45400"/><path d="M2169 175l12 86 -6-54 -10-53z" fill="#ff8b0b"/><path d="M2143 224l6-32 -7-48 -7 11z" fill="#ff8e0e"/><path d="M2025 415l5-13 1 11 3 45z" fill="#ea6b00"/><path d="M2253 491l7 21 -3-10 -9 21z" fill="#df6000"/><path d="M2045 349l3-24 1 10 1 45z" fill="#f57600"/><path d="M2011 533l29 75 -4-14 -25-61z" fill="#d65600"/><path d="M2478 595l14-19 -12 12 3-31z" fill="#d65700"/><path d="M2114 301l10 24 -2-7 -8 0z" fill="#fa7b00"/><path d="M2591 585l18-21 -3-12 -14 13z" fill="#d95900"/><path d="M2257 502l9-32 -5 15 -9 34z" fill="#e26200"/><path d="M2132 148l9 17 -4-28 -5 36z" fill="#ff9212"/><path d="M1903 567l11 7 -13-33 -27-41z" fill="#d95900"/><path d="M2121 175l9 11 -5-28 -8 0z" fill="#ff9011"/><path d="M2109 250l8-1 -7-44 -6 15z" fill="#ff8708"/><path d="M2141 165l9 8 -5-29 -8-7z" fill="#ff9213"/><path d="M2611 533l7 0 -5-8 -6-2z" fill="#df5f00"/><path d="M1795 215l10 3 16 39 -21-35z" fill="#ff8607"/><path d="M2124 446l7-9 -8-49 -10-13z" fill="#ed6e00"/><path d="M1836 315l8 0 -3-11 -28-48z" fill="#fc7d00"/><path d="M2177 549l6-15 -5-38 -9-16z" fill="#df5f00"/><path d="M2179 611l8 15 -3-11 -9-18z" fill="#d15200"/><path d="M2261 267l9-26 -4-5 -10 69z" fill="#ff8404"/><path d="M2606 446l-10 39 -6-5 -1-14z" fill="#e76800"/><path d="M2148 621l10 14 -5-26 -10-12z" fill="#d15100"/><path d="M2513 333l-13 67 -5-5 6-45z" fill="#f57600"/><path d="M1985 249l18 45 -5-17 -13-25z" fill="#ff8203"/><path d="M1987 452l15 25 -3-9 1 30z" fill="#e56500"/><path d="M1959 330l-1-31 1 4 -8-1z" fill="#fc7c00"/><path d="M2283 456l4 45 -5 12 -6-19z" fill="#e36400"/><path d="M2337 598l6 6 2-40 -8-1z" fill="#d75700"/><path d="M1868 184l8 0 6 17 -19-34z" fill="#ff8e0e"/><path d="M1931 207l9 0 20 76 -18-36z" fill="#ff8707"/><path d="M2012 460l0-34 2 11 -12-15z" fill="#ea6b00"/><path d="M1989 541l12 12 -15-47 -12-12z" fill="#de5e00"/><path d="M2450 273l15-33 7-58 -16 35z" fill="#ff8a0b"/><path d="M2226 313l8 24 -3 70 -8-17z" fill="#f67600"/><path d="M2214 158l8 6 -3-5 -8-6z" fill="#ff9314"/><path d="M2320 319l13-48 -8 26 -10 33z" fill="#fe7f00"/><path d="M2458 298l22-65 6-50 -21 57z" fill="#ff8909"/><path d="M2545 154l14-23 -20 48 -5-9z" fill="#ff9515"/><path d="M2135 564l10 15 -1 9 -8 0z" fill="#d75700"/><path d="M2087 525l11 17 -12-59 -5 16z" fill="#e06100"/><path d="M2544 181l-7 49 12-65 -5-11z" fill="#ff9112"/><path d="M2424 532l15-27 -25 68 3-40z" fill="#de5f00"/><path d="M2103 487l10 11 1 21 -12-30z" fill="#e36300"/><path d="M2532 175l13-21 -11 16 1-32z" fill="#ff9516"/><path d="M2455 552l12-14 -6-3 -14 20z" fill="#de5e00"/><path d="M2501 573l-5 29 8-38 -9 4z" fill="#d95a00"/><path d="M2569 570l1 14 -3-14 1-16z" fill="#db5b00"/><path d="M2302 345l6 19 -7 37 -5-43z" fill="#f67700"/><path d="M2014 464l2-23 -4-15 0 34z" fill="#ea6a00"/><path d="M2327 598l5 17 0-36 -9 11z" fill="#d65700"/><path d="M2206 594l9 31 -4-49 -8 14z" fill="#d65600"/><path d="M1837 216l14 16 3 8 -21-35z" fill="#ff8a0a"/><path d="M1951 330l8 0 -8-28 -17-31z" fill="#fd7e00"/><path d="M2113 142l10 14 -3-5 -10-22z" fill="#ff9617"/><path d="M2225 515l8-11 -4 27 -8 4z" fill="#e16100"/><path d="M2572 338l10-7 15-63 -22 42z" fill="#ff8001"/><path d="M1782 196l17 21 -2-7 -14-15z" fill="#ff8c0d"/><path d="M1942 326l-9-58 -9-29 -1 22z" fill="#ff8304"/><path d="M2515 130l12-14 -21 57 3-44z" fill="#ff991a"/><path d="M2049 335l14 36 -11-58 -8 2z" fill="#fb7b00"/><path d="M2524 166l15-29 18-92 -5-13z" fill="#ff9f1f"/><path d="M2043 423l13 23 -6-27 -4 19z" fill="#ed6d00"/><path d="M2308 226l10-31 -5 4 -8 14z" fill="#ff8e0f"/><path d="M2040 390l7-4 -5-16 -14-29z" fill="#f57600"/><path d="M1977 639l17 22 -14-39 -12-10z" fill="#d05100"/><path d="M2032 607l8-2 -2-3 -8-2z" fill="#d55500"/><path d="M2161 618l10 22 -10-78 -6 20z" fill="#d65600"/><path d="M2058 613l11 12 -6-22 -6 6z" fill="#d45400"/><path d="M2244 182l7 31 -4 1 -7-10z" fill="#ff8f10"/><path d="M2192 617l6-29 -2 10 -8-9z" fill="#d65700"/><path d="M2483 557l-3 31 3-30 -9 4z" fill="#dc5d00"/><path d="M1954 558l2-16 -6-19 13 56z" fill="#dc5d00"/><path d="M1986 392l16 30 8 31 -14-24z" fill="#ee6f00"/><path d="M1813 256l28 48 -8-22 -2 15z" fill="#ff8202"/><path d="M2251 556l7 24 -3-39 -8 2z" fill="#dd5e00"/><path d="M2081 419l8 1 -4-19 -5 21z" fill="#f07100"/><path d="M2003 294l-1-39 -5-18 1 40z" fill="#ff8606"/><path d="M2462 577l14-22 -7 1 -17 27z" fill="#dc5d00"/><path d="M1831 266l-16-62 20 50 -20-32z" fill="#ff890a"/><path d="M2318 611l9-13 -4-8 -7-5z" fill="#d85800"/><path d="M1953 365l22 48 -4-13 -26-62z" fill="#f57600"/><path d="M1863 167l19 34 -15-47 -5 7z" fill="#ff9313"/><path d="M2017 311l7-7 -3-10 -9 0z" fill="#ff8102"/><path d="M1998 277l-1-40 0 4 -3 21z" fill="#ff8808"/><path d="M2306 607l10-22 -3-20 -9 17z" fill="#da5a00"/><path d="M2488 520l0 24 -3-13 -5-10z" fill="#e36300"/><path d="M1895 403l-2-27 -14-40 -7 2z" fill="#f87800"/><path d="M2492 510l26-54 -4-10 -26 52z" fill="#ea6b00"/><path d="M2141 628l7-7 -5-24 -5 19z" fill="#d55600"/><path d="M2425 332l8-1 1-33 -19 55z" fill="#ff8000"/><path d="M2038 187l10 10 -4-13 -8 1z" fill="#ff9212"/><path d="M1949 576l18 25 -12-35 6 37z" fill="#d95900"/><path d="M1959 303l8 1 -9-34 0 31z" fill="#ff8303"/><path d="M2007 274l16 36 -10-44 -11-11z" fill="#ff8506"/><path d="M1901 541l16 17 -5-15 -34-59z" fill="#e06100"/><path d="M2061 229l8 1 5 42 -11-19z" fill="#ff8a0b"/><path d="M2164 227l11 55 -5-39 -11-58z" fill="#ff8c0d"/><path d="M2043 355l-4-61 1 12 -12-21z" fill="#ff8101"/><path d="M2011 533l25 61 -13-46 -9-3z" fill="#de5e00"/><path d="M2405 388l17-49 -2-20 -8 0z" fill="#fe7e00"/><path d="M1883 270l23 44 4 9 -2 19z" fill="#ff8001"/><path d="M2104 601l13 28 -8-36 -6 11z" fill="#d75800"/><path d="M2014 204l17 44 0 7 -10-9z" fill="#ff8b0c"/><path d="M1982 274l3-25 0 3 2 42z" fill="#ff8708"/><path d="M2156 227l6-31 -3-7 -8-4z" fill="#ff9212"/><path d="M2036 211l8 5 -6-29 -8 1z" fill="#ff9112"/><path d="M2226 430l7-34 -3-38 -8 1z" fill="#f77800"/><path d="M2260 512l7 21 -1-63 -9 32z" fill="#e76700"/><path d="M1783 195l14 15 -11-30 -7 1z" fill="#ff9212"/><path d="M2286 321l7 18 -3-26 -7-10z" fill="#ff8202"/><path d="M2366 336l6 6 0-35 -7-3z" fill="#ff8202"/><path d="M2153 286l3-66 -3-2 -8 2z" fill="#ff8d0e"/><path d="M2576 391l6 4 23-79 -33 65z" fill="#fb7c00"/><path d="M1792 224l8-2 -1-5 -17-21z" fill="#ff8f0f"/><path d="M2447 555l14-20 1-28 -14 23z" fill="#e46500"/><path d="M2086 495l7-6 -9-39 -5 15z" fill="#eb6b00"/><path d="M2397 543l13-24 -21 62 -1-25z" fill="#e16200"/><path d="M2530 549l21-31 -18 21 -5-5z" fill="#e46500"/><path d="M2427 350l9-4 -3-15 -8 1z" fill="#ff8001"/><path d="M2454 555l-2 28 3-31 -2-18z" fill="#e16200"/><path d="M2057 609l6-6 0 0 -13-20z" fill="#da5a00"/><path d="M1842 296l15 17 18 43 -29-54z" fill="#ff8102"/><path d="M2638 473l35-53 -37 53 -11 7z" fill="#ef7000"/><path d="M2467 181l8-1 -7 5 -13 26z" fill="#ff9616"/><path d="M2322 439l10-27 1-47 -9 15z" fill="#f77800"/><path d="M2075 514l1-34 -8-36 6 68z" fill="#ea6a00"/><path d="M2075 507l6-8 -5-19 -1 34z" fill="#e86900"/><path d="M2184 543l8-2 -3 0 -6 30z" fill="#e26200"/><path d="M2492 576l9-3 -6-5 -15 20z" fill="#df6000"/><path d="M2548 346l-3 30 -12 13 -9 4z" fill="#fc7c00"/><path d="M2523 266l17-33 -12 19 2-32z" fill="#ff8f10"/><path d="M2050 259l8 1 -6-27 -8 3z" fill="#ff8d0d"/><path d="M2143 306l8 2 2 53 -8-4z" fill="#ff8101"/><path d="M2556 583l13-13 -1-16 -15 15z" fill="#e16100"/><path d="M1887 219l0-25 -7-22 -4 12z" fill="#ff9414"/><path d="M1986 367l3-18 5 21 -8-3z" fill="#fc7c00"/><path d="M2053 160l18 71 -23-144 -5 21z" fill="#ff9b1b"/><path d="M2012 565l-1-32 3 12 2 33z" fill="#e16100"/><path d="M2004 510l13 17 1 6 -15-25z" fill="#e66600"/><path d="M2441 571l7 0 -5-4 -9 2z" fill="#e16100"/><path d="M2109 593l9 6 -4-16 -5 16z" fill="#dc5c00"/><path d="M2593 363l15-19 4-30 -24 43z" fill="#ff8202"/><path d="M2511 498l-4 30 14-60 -3-12z" fill="#ed6d00"/><path d="M1960 249l21 50 -9-33 -10-8z" fill="#ff8a0b"/><path d="M2068 591l4-17 2 14 -7 1z" fill="#dd5d00"/><path d="M1969 609l1-18 0-4 -3 14z" fill="#db5b00"/><path d="M2343 318l9-14 -3-11 -7-11z" fill="#ff8708"/><path d="M2173 569l8-6 -4-12 -7 13z" fill="#e16100"/><path d="M2387 485l3 21 4-50 -18 56z" fill="#ec6d00"/><path d="M1994 661l-1-24 -11-33 -2 18z" fill="#d65700"/><path d="M2003 177l8 1 0 5 -9-8z" fill="#ff9718"/><path d="M2274 445l7 11 -4-10 -6-30z" fill="#f37300"/><path d="M2527 514l16-22 4-31 -13 13z" fill="#ee6e00"/><path d="M2571 531l16-20 19-61 -19 24z" fill="#ed6e00"/><path d="M2375 267l11-20 -7 13 -1-47z" fill="#ff8f10"/><path d="M2378 213l1 47 4-65 -18 74z" fill="#ff9112"/><path d="M2094 180l3-48 -3-5 -7 10z" fill="#ff9d1d"/><path d="M2440 277l8 0 -22 72 3-49z" fill="#ff8809"/><path d="M2023 548l14 24 -12-43 -11-12z" fill="#e46400"/><path d="M2145 220l8-2 -4-24 -3 66z" fill="#ff9213"/><path d="M2117 158l8 0 -2-2 -10-14z" fill="#ff9c1d"/><path d="M1901 320l8 1 -23-73 -5 10z" fill="#ff8809"/><path d="M2000 312l-6-63 9 45 -18-45z" fill="#ff8a0b"/><path d="M2590 374l12-12 -9 1 6-34z" fill="#ff8102"/><path d="M1836 237l1-21 -4-11 0 22z" fill="#ff9112"/><path d="M2582 395l9-4 -1-17 15-58z" fill="#ff8000"/><path d="M2014 517l11 12 5 18 -13-20z" fill="#e66700"/><path d="M2442 567l-13 65 12-61 -2-19z" fill="#e16100"/><path d="M2634 543l28-36 -18 14 -6-3z" fill="#ea6a00"/><path d="M2402 253l12-25 -5-4 -7-4z" fill="#ff9314"/><path d="M2602 548l-11 37 1-20 -5-6z" fill="#e46500"/><path d="M2434 569l9-2 -3-16 -4-10z" fill="#e56500"/><path d="M2418 549l2 22 4-39 -9 3z" fill="#e66700"/><path d="M2391 453l11-16 -6 0 -17 45z" fill="#f37400"/><path d="M2505 167l17-36 -7-1 -14 28z" fill="#ffa020"/><path d="M2211 256l7-5 -3 13 -8-26z" fill="#ff9010"/><path d="M2400 405l12-24 -13 37 -5-13z" fill="#fb7b00"/><path d="M2030 188l8-1 -2-2 -7 2z" fill="#ff9819"/><path d="M2448 571l5 8 1-24 -11 12z" fill="#e46400"/><path d="M2453 496l7 2 10-61 -9 6z" fill="#f27200"/><path d="M2352 232l4 29 -1-35 -8 3z" fill="#ff9313"/><path d="M2151 308l9 8 -1 24 -6 21z" fill="#ff8505"/><path d="M2237 491l8 23 -4-4 -8-3z" fill="#ec6d00"/><path d="M2148 553l9 8 -3-1 -5 21z" fill="#e36400"/><path d="M2105 539l3-34 -5-18 -6 13z" fill="#eb6c00"/><path d="M2003 508l15 25 -4-16 -23-51z" fill="#eb6b00"/><path d="M1979 143l15 34 5 27 -21-62z" fill="#ff9b1c"/><path d="M2153 609l8 9 -6-36 -7 9z" fill="#de5f00"/><path d="M2400 584l11-14 -5-8 -10 13z" fill="#e36400"/><path d="M2378 609l8-2 6-56 -14 29z" fill="#e16200"/><path d="M2541 299l5 8 9-49 -18 33z" fill="#ff8d0d"/><path d="M2008 326l9 5 -1 0 7 65z" fill="#ff8203"/><path d="M2412 381l6 8 -11 27 -8 2z" fill="#fc7c00"/><path d="M2311 247l12-50 -5-2 -10 31z" fill="#ff9617"/><path d="M2386 607l7-1 0-26 -1-29z" fill="#e26200"/><path d="M2538 375l-10 49 20-78 -27 57z" fill="#ff7f00"/><path d="M2044 203l14 39 -13-68 -1 42z" fill="#ff9617"/><path d="M2278 220l8-2 -6 39 -7-22z" fill="#ff9415"/><path d="M2327 430l5 20 -6 11 -6-15z" fill="#f57600"/><path d="M2205 442l7-28 -3 1 -8 7z" fill="#f87900"/><path d="M2288 598l7 7 -4 2 -6-29z" fill="#e06100"/><path d="M2549 165l-7 48 17-82 -14 23z" fill="#ff9f1f"/><path d="M1858 178l5-11 -1-6 -6 8z" fill="#ff9b1c"/><path d="M1914 177l9 3 -11-40 -5 13z" fill="#ff9d1d"/><path d="M2508 208l18-39 7-53 -11 15z" fill="#ffa021"/><path d="M1967 195l3-23 -1-1 -4 16z" fill="#ff9a1b"/><path d="M1862 247l8 1 14 38 -28-57z" fill="#ff9010"/><path d="M1887 302l14 18 -20-62 -5 10z" fill="#ff8b0c"/><path d="M1975 494l1-21 10 28 -18-29z" fill="#ef7000"/><path d="M2560 244l-2 29 8-50 -19 38z" fill="#ff9314"/><path d="M2137 137l8 7 -3-5 -8-8z" fill="#ffa222"/><path d="M1864 448l13 11 4 6 -28-47z" fill="#f47500"/><path d="M2578 487l-7 34 -23 32 12-45z" fill="#ed6e00"/><path d="M2492 336l16-27 -1-22 -8 2z" fill="#ff8c0c"/><path d="M2183 534l8-2 -6-52 -7 16z" fill="#ed6d00"/><path d="M2077 510l10 15 -6-26 -6 8z" fill="#ed6d00"/><path d="M2219 572l7 6 -3 21 -8-28z" fill="#e36400"/><path d="M2194 503l9 18 -5-42 -7 7z" fill="#ef7000"/><path d="M2411 570l2 22 1-30 -8 0z" fill="#e56600"/><path d="M2163 283l5-35 -4-21 -8-7z" fill="#ff9314"/><path d="M2269 262l9-42 -5 15 -6-22z" fill="#ff9516"/><path d="M2529 378l9-3 -17 28 -5-7z" fill="#ff8101"/><path d="M2035 615l10 7 -5-17 -8 2z" fill="#de5f00"/><path d="M2614 488l0 16 -11 3 -6-2z" fill="#f17100"/><path d="M2624 345l-3 24 -6-5 5-30z" fill="#ff8607"/><path d="M2566 223l0 26 6-43 -27 64z" fill="#ff9617"/><path d="M2001 311l7-4 -1-4 -15-29z" fill="#ff8b0c"/><path d="M1909 407l-1-26 14 38 -8-1z" fill="#fb7c00"/><path d="M2215 264l8-43 -4 28 -8-30z" fill="#ff9516"/><path d="M2530 220l-2 32 1-26 -5-9z" fill="#ff9818"/><path d="M2203 620l7 2 -4-28 -8-6z" fill="#e16100"/><path d="M2058 260l3-31 2 24 -11-20z" fill="#ff9414"/><path d="M1909 583l20 27 5 7 -20-26z" fill="#e06100"/><path d="M2341 169l10-27 -6 20 -5-30z" fill="#ffa223"/><path d="M2079 476l0-42 -11-53 5 72z" fill="#f87900"/><path d="M1961 557l3-13 17 46 -25-48z" fill="#e76700"/><path d="M1959 547l0-23 -9-29 3 32z" fill="#ec6c00"/><path d="M2357 345l9-9 -1-32 -6-10z" fill="#ff8b0c"/><path d="M2383 195l2 41 2-51 -18 76z" fill="#ff9a1a"/><path d="M1991 466l23 51 -5-15 -12-15z" fill="#f17100"/><path d="M1962 581l-1-24 -5-15 -2 16z" fill="#e76800"/><path d="M2070 514l10 7 -3-11 -2 33z" fill="#ed6e00"/><path d="M1962 498l-7-44 1 2 -14-17z" fill="#f57600"/><path d="M2039 161l4-23 -2-1 3 62z" fill="#ffa121"/><path d="M1779 181l7-1 -1-6 -10-5z" fill="#ff9e1e"/><path d="M2074 588l-2-46 2 15 1 39z" fill="#e76700"/><path d="M2507 444l27-59 -5-7 -12 13z" fill="#ff8102"/><path d="M1864 364l25 43 -24-65 -13-11z" fill="#ff8404"/><path d="M2355 457l-2 59 -2-18 0-54z" fill="#f57500"/><path d="M2654 495l-20 48 4-25 -13 10z" fill="#f07100"/><path d="M2375 356l14-38 -3-16 -14 40z" fill="#ff8b0b"/><path d="M2113 248l8 1 -5-24 -2 48z" fill="#ff9516"/><path d="M2475 180l6 7 -6 1 -7-3z" fill="#ffa020"/><path d="M2198 479l9 38 -4-54 -8 12z" fill="#f47400"/><path d="M1953 253l9 5 2 11 -16-32z" fill="#ff9414"/><path d="M2130 186l5-31 -3-7 -7 10z" fill="#ffa222"/><path d="M2206 137l8 21 -3-5 -8 11z" fill="#ffa324"/><path d="M2107 341l15 63 -12-86 -15-51z" fill="#ff890a"/><path d="M2234 337l9-27 -5 60 -7 37z" fill="#ff8707"/><path d="M2015 495l7-6 -8-26 -6 8z" fill="#f47500"/><path d="M2502 526l-7 38 12-52 -19 32z" fill="#ee6f00"/><path d="M2291 289l7 7 -3-20 -6-25z" fill="#ff9213"/><path d="M2379 260l11-28 -5 4 -2-41z" fill="#ff9a1a"/><path d="M2101 183l6-15 -4-20 -2 58z" fill="#ffa021"/><path d="M2387 552l10-9 -9 13 -5-13z" fill="#ed6d00"/><path d="M1868 431l22 32 -16-41 -31-54z" fill="#fc7d00"/><path d="M2100 622l4-21 -1 3 -10-13z" fill="#e46400"/><path d="M2336 157l12-49 -2-27 -10 25z" fill="#ffaa2b"/><path d="M2619 573l8-3 -1-16 1-14z" fill="#ec6d00"/><path d="M2504 409l13-18 -4-9 -4-11z" fill="#ff8505"/><path d="M2453 534l2 18 -8 3 2-30z" fill="#ee6f00"/><path d="M2578 301l-6 37 3-28 2-28z" fill="#ff9011"/><path d="M2253 285l9-63 -3-10 -8-3z" fill="#ff9a1a"/><path d="M2031 248l3-24 -5-20 2 51z" fill="#ff9919"/><path d="M2418 576l20-46 -18 41 -2-22z" fill="#ec6d00"/><path d="M2442 464l27-72 -17 37 -10 9z" fill="#fe7f00"/><path d="M2421 610l21-43 -3-15 -19 39z" fill="#e96900"/><path d="M2003 454l11 10 -2-4 -25-65z" fill="#fb7b00"/><path d="M2647 549l-10 30 0-18 5-21z" fill="#ed6e00"/><path d="M2343 128l11-23 -6 3 -12 49z" fill="#ffaa2a"/><path d="M1995 563l6-7 6 19 -9-3z" fill="#ea6a00"/><path d="M1953 363l20 41 2 9 -22-48z" fill="#ff8304"/><path d="M2414 562l4 14 0-27 -6-6z" fill="#ed6d00"/><path d="M1864 394l10 5 14 32 -35-68z" fill="#ff8102"/><path d="M1993 637l6-5 3 7 -20-35z" fill="#e16100"/><path d="M2412 319l8 0 -10 21 -4-16z" fill="#ff8e0e"/><path d="M2372 342l14-40 -7 15 -7-10z" fill="#ff8f10"/><path d="M2389 318l0 46 1-38 -4-24z" fill="#ff8e0e"/><path d="M1967 633l10 6 -9-27 3 27z" fill="#e16100"/><path d="M1951 302l8 1 -1-2 -21-47z" fill="#ff9112"/><path d="M2295 160l10-40 -4-2 -8 4z" fill="#ffa92a"/><path d="M1905 256l13 14 -16-53 -1 26z" fill="#ff9718"/><path d="M2461 267l12-21 -18 54 -1-29z" fill="#ff9617"/><path d="M2175 597l9 18 -3-15 -11-30z" fill="#e76700"/><path d="M2285 121l8 1 -4-5 -8-1z" fill="#ffab2c"/><path d="M2317 481l11-29 -12 65 -8 7z" fill="#f67600"/><path d="M2169 325l7-16 0 49 -11-42z" fill="#ff8d0e"/><path d="M1916 648l5-8 -4-12 -6 4z" fill="#e06100"/><path d="M2460 490l-2 33 -7 1 6-48z" fill="#f57600"/><path d="M2582 465l7 1 11-45 -25 39z" fill="#fd7e00"/><path d="M2232 395l7 86 -3-59 -8-2z" fill="#ff7f00"/><path d="M2045 622l7-3 -7-25 -5 11z" fill="#e56500"/><path d="M2218 283l7-3 -3-28 -8 23z" fill="#ff9616"/><path d="M1992 274l15 29 -13-54 6 63z" fill="#ff9314"/><path d="M2188 558l9 29 -5-46 -8 2z" fill="#ed6e00"/><path d="M1928 589l3-14 13 28 0 18z" fill="#e66700"/><path d="M2280 605l8-7 -3-20 -9 26z" fill="#e86900"/><path d="M2007 627l4-12 -10-31 -9-2z" fill="#e66700"/><path d="M2278 319l8 2 -3-18 -9 15z" fill="#ff9011"/><path d="M2332 579l5 19 0-35 -9 11z" fill="#eb6b00"/><path d="M1936 198l4-16 -12-42 -3 18z" fill="#ffa324"/><path d="M2529 572l24-39 -2-15 -21 31z" fill="#f17100"/><path d="M2200 419l9 44 -4-21 -9-34z" fill="#ff8000"/><path d="M2323 590l9-11 -4-5 -8 1z" fill="#eb6c00"/><path d="M2517 391l12-13 -13 18 -3-14z" fill="#ff8808"/><path d="M2262 336l5 64 -2-28 -7-19z" fill="#ff890a"/><path d="M2266 236l7 14 -4 12 -7-40z" fill="#ff9b1b"/><path d="M2099 227l10 23 -5-30 -11-21z" fill="#ff9d1d"/><path d="M2170 570l11 30 -4-13 -9-11z" fill="#ea6b00"/><path d="M2206 532l9 39 -3 19 -8-16z" fill="#ed6d00"/><path d="M1959 524l24 45 -26-77 -7 3z" fill="#f27300"/><path d="M2333 267l9-14 2-65 -12 41z" fill="#ff9d1d"/><path d="M2380 399l10-14 -7 8 -5-12z" fill="#ff8708"/><path d="M2017 331l6-11 13 66 -20-55z" fill="#ff8c0d"/><path d="M2401 213l1 40 0-33 -8 7z" fill="#ff9e1f"/><path d="M2044 216l1-42 3 23 -10-10z" fill="#ffa222"/><path d="M2293 122l8-4 -4-5 -8 4z" fill="#ffad2e"/><path d="M2436 346l4 14 8-63 -15 34z" fill="#ff9010"/><path d="M1815 204l15 18 6 15 -1 17z" fill="#ff9c1c"/><path d="M2390 506l3 20 10-75 -9 5z" fill="#fa7a00"/><path d="M2368 593l10-13 -3-17 -6-5z" fill="#ed6e00"/><path d="M2079 465l5-15 -4-18 2 54z" fill="#fc7d00"/><path d="M2396 437l0 34 9-69 -15 33z" fill="#ff8102"/><path d="M2577 348l23-42 -14 15 -33 71z" fill="#ff8f10"/><path d="M2424 316l16-39 -11 23 -7 0z" fill="#ff9515"/><path d="M1997 487l12 15 -7-25 -15-25z" fill="#f97a00"/><path d="M1953 527l-3-32 7 19 -12-12z" fill="#f57500"/><path d="M1887 475l23 34 -6-16 -31-56z" fill="#f97900"/><path d="M2648 357l-32 86 -11 7 20-61z" fill="#ff8607"/><path d="M2159 185l11 58 -5-41 -6 34z" fill="#ff9f20"/><path d="M2163 546l10 23 -3-5 -8-6z" fill="#ef6f00"/><path d="M1945 338l26 62 -13-45 -8-1z" fill="#ff8a0b"/><path d="M2198 588l8 6 -3-4 -7 8z" fill="#ea6b00"/><path d="M2343 428l8-2 0-37 -6-15z" fill="#ff8607"/><path d="M2180 459l5-62 -3 1 -9-11z" fill="#ff8505"/><path d="M2189 367l6-50 -2 27 -9-28z" fill="#ff8f10"/><path d="M2069 625l6-7 -9-37 -3 22z" fill="#e86900"/><path d="M1830 222l14 15 -7-21 -1 21z" fill="#ff9d1e"/><path d="M2052 619l6-6 -1-4 -12-15z" fill="#e86800"/><path d="M2074 557l11 12 -5-21 -7 6z" fill="#f07000"/><path d="M1966 651l1-18 4 6 -26-42z" fill="#e56500"/><path d="M2393 580l7 4 -4-9 -1-31z" fill="#ef6f00"/><path d="M2422 339l5 11 -2-18 -5-13z" fill="#ff9111"/><path d="M2343 604l11-17 1-39 -10 16z" fill="#ee6f00"/><path d="M2185 397l8 9 -2 32 -9-40z" fill="#ff8506"/><path d="M2094 563l15 36 -3-6 -14-35z" fill="#ed6d00"/><path d="M2207 238l8 26 -4-45 -7 4z" fill="#ff9e1f"/><path d="M1854 362l31 59 -21-57 -18-25z" fill="#ff8a0a"/><path d="M2602 379l22-34 -4-11 -12 10z" fill="#ff9010"/><path d="M1933 268l15 27 -9-33 -15-23z" fill="#ff9919"/><path d="M1853 242l3-13 -6-18 13 58z" fill="#ff9d1d"/><path d="M2622 530l2 10 -6-7 -7 0z" fill="#f67600"/><path d="M2138 616l5-19 -3-9 -7 7z" fill="#eb6b00"/><path d="M2586 507l-12 42 1-21 -4-7z" fill="#f77700"/><path d="M2328 574l9-11 -7 10 -5-20z" fill="#f07100"/><path d="M2063 603l3-22 2 10 -5 12z" fill="#eb6c00"/><path d="M2099 202l8-5 -2 5 -9-8z" fill="#ffa424"/><path d="M2283 534l10-17 -8 43 -9 11z" fill="#f37300"/><path d="M2550 317l17-27 0-22 -21 39z" fill="#ff9818"/><path d="M2052 378l3-25 -7-28 -3 24z" fill="#ff8e0e"/><path d="M2068 444l18 51 -7-30 -5 12z" fill="#fd7d00"/><path d="M2257 490l5 63 -2-41 -7-21z" fill="#f87800"/><path d="M2607 523l6 2 1-21 0-16z" fill="#fa7a00"/><path d="M2034 192l10 11 0 13 -8-5z" fill="#ffa323"/><path d="M2591 169l-46 165 13-61 2-29z" fill="#ff9e1e"/><path d="M1909 301l11 8 13 40 -22-44z" fill="#ff9313"/><path d="M2038 516l11 9 5 24 -20-47z" fill="#f67600"/><path d="M2162 373l9 25 -10-104 -5 40z" fill="#ff8f0f"/><path d="M2563 483l-3 25 -18 24 9-40z" fill="#fb7b00"/><path d="M1971 639l-3-27 -2-9 -3 13z" fill="#e86900"/><path d="M2000 339l1-28 -9-37 -12-17z" fill="#ff9617"/><path d="M1937 254l21 47 -13-47 3 41z" fill="#ff9919"/><path d="M2553 569l15-15 -3-15 -11 9z" fill="#f47500"/><path d="M2050 170l15 47 -14-78 -8-1z" fill="#ffa929"/><path d="M1967 601l3-14 -6-17 -9-4z" fill="#ee6e00"/><path d="M2544 154l5 11 -4-11 -13 21z" fill="#ffac2c"/><path d="M2287 292l6 35 -2-38 -5-48z" fill="#ff991a"/><path d="M2602 299l-14 58 11-51 -23 43z" fill="#ff9515"/><path d="M2039 246l11 13 -6-23 -10-12z" fill="#ff9f1f"/><path d="M1886 248l24 51 -12-41 -4 14z" fill="#ff9a1b"/><path d="M2274 318l9-15 -2-37 -11 52z" fill="#ff9718"/><path d="M2096 194l9 8 -4-19 -10-17z" fill="#ffa727"/><path d="M2363 282l5 21 -5-4 -5-15z" fill="#ff991a"/><path d="M2549 562l4 7 1-21 -1-15z" fill="#f57500"/><path d="M2091 211l5-17 -5-28 -7 10z" fill="#ffa727"/><path d="M2447 468l17-32 5-44 -27 72z" fill="#ff8505"/><path d="M2134 394l11 38 -5-34 -10-13z" fill="#ff8909"/><path d="M2103 604l6-11 0 6 -15-36z" fill="#ee6e00"/><path d="M2578 582l24-34 -15 11 -5-4z" fill="#f47500"/><path d="M2214 275l8-23 -4-1 -7 5z" fill="#ff9e1e"/><path d="M2633 491l43-68 -52 81 -7 1z" fill="#ff8001"/><path d="M2315 247l12-48 -4-2 -12 50z" fill="#ffa324"/><path d="M1925 323l18 33 -12-38 -11-9z" fill="#ff9314"/><path d="M2316 585l7 5 -3-15 -7-10z" fill="#f17100"/><path d="M1948 295l-3-41 -3-9 -3 17z" fill="#ff9c1d"/><path d="M2264 384l8-3 -5 19 -5-64z" fill="#ff8e0e"/><path d="M2460 498l12-17 6-44 -8 0z" fill="#ff8203"/><path d="M2183 439l7-3 -1 36 -7 11z" fill="#ff8202"/><path d="M2011 615l5-9 -3-11 -12-11z" fill="#ed6d00"/><path d="M2215 625l7-41 -3-12 -8 4z" fill="#ef6f00"/><path d="M2390 232l11-19 -7 14 -9 9z" fill="#ffa324"/><path d="M2586 321l16-22 -26 50 -6-5z" fill="#ff9616"/><path d="M2325 203l8-3 -6 16 -3-46z" fill="#ffa728"/><path d="M2006 546l-2-36 -1-2 -11-11z" fill="#f97900"/><path d="M2181 349l8 18 -5-51 -8-7z" fill="#ff9314"/><path d="M2196 408l9 34 -4-20 -8-16z" fill="#ff8808"/><path d="M2193 289l8 6 -3-9 -7 34z" fill="#ff991a"/><path d="M2044 199l11 18 3 25 -14-39z" fill="#ffa424"/><path d="M2107 168l15 69 -13-107 -6 18z" fill="#ffaa2b"/><path d="M1923 400l-10-56 12 36 8 47z" fill="#ff8b0c"/><path d="M2375 445l14-32 -5-7 -3-24z" fill="#ff8a0a"/><path d="M2504 543l4 7 -13 14 7-38z" fill="#f77800"/><path d="M2193 447l7-28 -4-11 -6 46z" fill="#ff8607"/><path d="M2614 449l-21 61 3-25 10-39z" fill="#ff8203"/><path d="M2509 330l7 2 11-61 -4-13z" fill="#ff9b1b"/><path d="M2093 484l9 5 -7-31 -2 31z" fill="#ff7f00"/><path d="M1946 641l12 9 -11-30 -11-6z" fill="#e96a00"/><path d="M2113 437l0-62 0 13 -11-20z" fill="#ff8c0c"/><path d="M2014 545l9 3 -9-31 -1 25z" fill="#f77700"/><path d="M1955 566l9 4 -3-13 1 24z" fill="#f27300"/><path d="M2168 576l9 11 -4-18 -10-23z" fill="#f37300"/><path d="M2267 213l6 22 -3-19 -7-18z" fill="#ffa626"/><path d="M1834 236l16 21 -6-20 -14-15z" fill="#ffa121"/><path d="M2212 414l8-5 -3 24 -8-18z" fill="#ff8909"/><path d="M2369 385l9-4 -5-8 -6-7z" fill="#ff9010"/><path d="M2526 169l6 6 3-37 -2-22z" fill="#ffb031"/><path d="M2345 564l10-16 -6 1 -14 40z" fill="#f57600"/><path d="M1983 199l-4-56 -1-1 -4 18z" fill="#ffad2d"/><path d="M2206 314l9 48 -3 5 -8-33z" fill="#ff9414"/><path d="M2001 556l8 1 3 8 -5 10z" fill="#f47400"/><path d="M2443 567l11-12 -1-21 -13 17z" fill="#f77800"/><path d="M2000 391l6-9 -9-34 -8 1z" fill="#ff9010"/><path d="M2311 525l3 42 0-44 -5-21z" fill="#fa7a00"/><path d="M2330 542l13-40 -3-19 -7-3z" fill="#fe7e00"/><path d="M2105 202l6-19 -4-15 -6 15z" fill="#ffaa2b"/><path d="M2123 497l9 9 0 14 -14-40z" fill="#fd7e00"/><path d="M1899 237l14 19 5 14 -13-14z" fill="#ffa020"/><path d="M2364 543l5 15 -11 26 -3-26z" fill="#f67700"/><path d="M2406 218l0 45 -4-10 -1-40z" fill="#ffa425"/><path d="M2438 530l-4 39 2-28 -16 30z" fill="#f87800"/><path d="M2017 584l13 16 -5-16 -10-8z" fill="#f17200"/><path d="M2321 354l5 27 -4-6 -6-10z" fill="#ff9212"/><path d="M2320 575l8-1 -3-21 -8 6z" fill="#f67600"/><path d="M2089 182l10 20 -3-8 -5 17z" fill="#ffa929"/><path d="M1874 422l3-13 -3-10 -10-5z" fill="#ff8b0b"/><path d="M1958 650l8 1 -21-54 2 23z" fill="#eb6b00"/><path d="M2291 529l6 12 0-49 -10 23z" fill="#fc7c00"/><path d="M2027 434l-4-53 -10-39 -7 7z" fill="#ff8f10"/><path d="M2262 222l7 40 -2-49 -8-1z" fill="#ffa526"/><path d="M2255 203l8-5 -4 4 -8 11z" fill="#ffa92a"/><path d="M1880 302l-4-34 -3-9 -10-7z" fill="#ff9e1f"/><path d="M2119 568l7-8 0 8 -3 33z" fill="#f47500"/><path d="M2621 381l4 8 -33 55 23-69z" fill="#ff9010"/><path d="M2566 249l7 0 3-31 -4-12z" fill="#ffa728"/><path d="M2012 426l4-14 4 19 -6 6z" fill="#ff890a"/><path d="M1994 249l13 25 -5-19 1 39z" fill="#ff9f20"/><path d="M2225 280l8 16 -3-52 -8 8z" fill="#ffa021"/><path d="M2467 538l13-15 -6-5 -7-1z" fill="#fd7e00"/><path d="M2014 463l16 30 -9-34 -14-23z" fill="#ff8405"/><path d="M2085 401l9 9 -8-40 -4 26z" fill="#ff8e0f"/><path d="M2555 344l23-43 -1-19 -10 8z" fill="#ff9d1e"/><path d="M2141 381l1-85 1 42 1 91z" fill="#ff9314"/><path d="M2386 247l13-35 -9 20 -11 28z" fill="#ffa626"/><path d="M2002 477l6-6 -7-28 -2 25z" fill="#ff8405"/><path d="M1928 224l3-17 11 40 -12-18z" fill="#ffa526"/><path d="M2420 403l0 33 3-41 -17 47z" fill="#ff8c0d"/><path d="M2356 485l7 5 -10 26 2-59z" fill="#ff8303"/><path d="M2007 303l5-9 -5-20 -13-25z" fill="#ff9e1f"/><path d="M2105 298l9 3 0 17 -10-13z" fill="#ff9c1c"/><path d="M1932 370l-7-47 -5-14 -11-8z" fill="#ff9818"/><path d="M1880 496l-4-28 3 2 -5 9z" fill="#ff8203"/><path d="M2352 304l11-22 -5 2 -9 9z" fill="#ff9f1f"/><path d="M2052 233l11 20 -8-36 -11-18z" fill="#ffa727"/><path d="M2292 196l4 49 -6 37 -4-64z" fill="#ffa627"/><path d="M2524 217l5 9 4-42 -16 31z" fill="#ffab2b"/><path d="M2160 316l9 9 -4-9 -6 24z" fill="#ff991a"/><path d="M2469 392l-1 32 -17 35 1-30z" fill="#ff8c0d"/><path d="M2633 410l-18 55 1-22 32-86z" fill="#ff8e0e"/><path d="M2335 467l10-17 -4-9 -9 9z" fill="#ff8809"/><path d="M2467 538l9-3 -9 3 -6-3z" fill="#fd7d00"/><path d="M2461 535l6 3 0-21 -5-10z" fill="#fe7f00"/><path d="M1937 282l0-28 11 41 -15-27z" fill="#ffa020"/><path d="M1802 265l4-11 19 43 -31-54z" fill="#ffa121"/><path d="M1853 418l28 47 -13-34 -18-25z" fill="#ff8a0a"/><path d="M2309 561l8-2 -5 4 -4-33z" fill="#fa7a00"/><path d="M2509 371l4 11 -13 18 13-67z" fill="#ff9515"/><path d="M2218 251l8-12 -3-18 -8 43z" fill="#ffa526"/><path d="M2143 597l10 12 -5-18 -8-3z" fill="#f37400"/><path d="M1873 437l31 56 -12-33 -5 7z" fill="#ff8506"/><path d="M1809 253l31 56 4 6 -8 0z" fill="#ff9c1d"/><path d="M2029 204l9 3 -4-15 3 64z" fill="#ffa92a"/><path d="M2306 401l9-12 -3-17 -7-9z" fill="#ff9313"/><path d="M2474 562l9-4 1-24 -8 1z" fill="#fc7c00"/><path d="M1860 345l2-16 -5-16 -15-17z" fill="#ff9a1a"/><path d="M2386 550l9-6 -8 8 -14 30z" fill="#fa7b00"/><path d="M2599 329l-6 34 -5-6 14-58z" fill="#ff9b1b"/><path d="M2296 518l6 15 -5 8 -6-12z" fill="#fe7e00"/><path d="M1879 459l29 48 2 2 -23-34z" fill="#ff8303"/><path d="M2037 430l6-7 3 15 -16-36z" fill="#ff8c0d"/><path d="M1911 354l-3-33 -2-7 -23-44z" fill="#ff9b1b"/><path d="M2121 249l7-14 0 24 -12-34z" fill="#ffa627"/><path d="M2131 437l3-43 -4-9 -7 3z" fill="#ff9011"/><path d="M2367 557l11-17 7-64 -15 33z" fill="#ff8001"/><path d="M1999 468l2-25 2 11 -10-10z" fill="#ff8909"/><path d="M2469 556l5 6 2-27 -9 3z" fill="#fd7d00"/><path d="M2476 205l11-16 -6-2 -6-7z" fill="#ffaf30"/><path d="M2171 640l4-43 -5-27 -9-8z" fill="#f57600"/><path d="M2294 472l6 24 -5 8 -8-3z" fill="#ff8405"/><path d="M2255 541l7 19 -2-42 -8-1z" fill="#fe7e00"/><path d="M2313 565l7 10 -3-16 -8 2z" fill="#fa7b00"/><path d="M2007 436l14 23 -5-18 -2 23z" fill="#ff8a0a"/><path d="M2477 418l-1 27 -11 15 3-36z" fill="#ff8e0e"/><path d="M2489 541l13-15 -14 18 0-24z" fill="#ff8101"/><path d="M2518 456l3 12 -20 35 13-57z" fill="#ff8a0b"/><path d="M2097 500l6-13 -1 2 -9-5z" fill="#ff8606"/><path d="M1967 304l13 20 -24-94 2 40z" fill="#ffa223"/><path d="M2480 233l-8 65 22-114 -8-1z" fill="#ffac2d"/><path d="M1921 640l15 14 -21-48 2 22z" fill="#f17100"/><path d="M2118 599l7-5 -6-26 -5 15z" fill="#f87800"/><path d="M1974 160l4-18 -3-6 -5 13z" fill="#ffb636"/><path d="M2104 220l6-15 -3-8 -8 5z" fill="#ffae2e"/><path d="M2044 184l6-14 -7-32 -4 23z" fill="#ffb434"/><path d="M2013 542l1-25 3 10 -13-17z" fill="#ff8101"/><path d="M1997 348l10 8 2 9 -14-24z" fill="#ff9919"/><path d="M2563 209l-3 35 -13 17 -6-4z" fill="#ffab2b"/><path d="M2508 309l1 21 14-72 -16 29z" fill="#ffa324"/><path d="M2040 605l5-11 -5-17 -2 25z" fill="#f77800"/><path d="M2086 483l11 17 -4-16 -6 11z" fill="#ff8607"/><path d="M2185 480l9 23 -3-17 -7 12z" fill="#ff8707"/><path d="M2328 459l7 8 -3-17 -5-20z" fill="#ff8d0d"/><path d="M2348 108l7 10 -4-5 -5-32z" fill="#ffbe3e"/><path d="M2135 155l7-11 -1 21 -9-17z" fill="#ffb637"/><path d="M2587 559l5 6 -12 4 34-83z" fill="#ff8101"/><path d="M1957 464l18 30 -7-22 -3 15z" fill="#ff8808"/><path d="M2448 297l1 30 -5-5 -7-4z" fill="#ffa121"/><path d="M2351 290l8 4 -7 10 -9 14z" fill="#ffa223"/><path d="M2192 569l6-25 -1 43 -9-29z" fill="#fd7d00"/><path d="M1961 501l-1-26 -3-11 13 62z" fill="#ff8607"/><path d="M2252 297l8-17 -5 61 -7-62z" fill="#ffa323"/><path d="M1948 577l21 32 -2-8 -18-25z" fill="#f87900"/><path d="M2577 282l-2 28 -1-21 -3-13z" fill="#ffa626"/><path d="M2033 527l5-11 -4-14 1 36z" fill="#ff8303"/><path d="M2024 632l0-24 -6-20 -2 18z" fill="#f67700"/><path d="M1898 258l1-21 6 19 -7 3z" fill="#ffa829"/><path d="M1997 241l-4-56 7 37 2 44z" fill="#ffac2c"/><path d="M1973 234l27 78 -15-63 -3 25z" fill="#ffa727"/><path d="M2181 563l7-5 -4-15 -7 8z" fill="#ff7f00"/><path d="M2542 133l2 21 -12 21 -6-6z" fill="#ffb839"/><path d="M2067 533l4-23 -1 4 2 43z" fill="#ff8203"/><path d="M2076 480l11 15 -1 0 -18-51z" fill="#ff8a0a"/><path d="M2181 600l7-11 -6-53 -5 51z" fill="#fc7c00"/><path d="M2627 570l20-21 -5-9 -16 14z" fill="#ff8202"/><path d="M2039 294l11 15 -6-25 -4 22z" fill="#ffa324"/><path d="M2592 461l14-15 -17 20 -7-1z" fill="#ff8f0f"/><path d="M2267 533l8-15 -1-63 -8 15z" fill="#ff8909"/><path d="M2342 307l9-17 -8 28 -5-26z" fill="#ffa425"/><path d="M2273 250l10-42 -5 12 -9 42z" fill="#ffad2e"/><path d="M2157 561l6-15 -1 12 -8 2z" fill="#ff8001"/><path d="M2490 362l11-12 -8 1 0-26z" fill="#ff9f1f"/><path d="M2348 443l11-20 -8 17 -7 0z" fill="#ff9212"/><path d="M1923 180l2-22 -9-31 -4 13z" fill="#ffb839"/><path d="M2588 357l24-43 -8-1 -5-7z" fill="#ffa324"/><path d="M1989 349l8-1 -2-7 -1 29z" fill="#ff9c1d"/><path d="M1850 321l10 5 2 3 -2 16z" fill="#ff9f20"/><path d="M1870 330l5-7 8 20 -17-24z" fill="#ff9f20"/><path d="M2377 373l3 26 -2-18 -9 4z" fill="#ff9a1a"/><path d="M2504 564l8-2 -4-12 -4-7z" fill="#ff8303"/><path d="M2227 498l8-62 -3-41 -8 20z" fill="#ff9212"/><path d="M2349 530l3 29 3-49 -5-22z" fill="#ff8707"/><path d="M2001 443l6-7 7 28 -11-10z" fill="#ff9010"/><path d="M1972 262l1-28 9 40 -1 25z" fill="#ffa929"/><path d="M1903 421l15 19 -13-38 19 72z" fill="#ff9112"/><path d="M2160 496l6-30 -3-1 -5 33z" fill="#ff8c0c"/><path d="M2618 533l18-19 -1-18 -22 29z" fill="#ff8909"/><path d="M2338 292l5 26 -1-36 -5-18z" fill="#ffa828"/><path d="M2190 454l6-46 -3-2 -8-9z" fill="#ff9516"/><path d="M2010 226l4-22 7 42 -11-17z" fill="#ffaf30"/><path d="M2365 304l7 3 -4-4 -5-21z" fill="#ffa627"/><path d="M2480 523l8-3 -8 1 -6-3z" fill="#ff8808"/><path d="M1913 256l10 5 -15-50 10 59z" fill="#ffac2c"/><path d="M2289 575l7 4 0-42 -11 34z" fill="#ff8101"/><path d="M2353 447l3 31 3-55 -11 20z" fill="#ff9212"/><path d="M1948 403l22 44 -25-80 3 36z" fill="#ff9617"/><path d="M1906 591l8 0 3 1 -24-34z" fill="#fd7d00"/><path d="M2402 220l7 4 -4-5 0-51z" fill="#ffb434"/><path d="M2385 476l-10 88 5-53 0-41z" fill="#ff8a0a"/><path d="M2583 420l8 0 -12 9 -5-7z" fill="#ff9717"/><path d="M2295 218l1 95 0-68 -4-49z" fill="#ffaf2f"/><path d="M2368 490l12-20 -17 60 0-40z" fill="#ff8c0c"/><path d="M2201 295l7-17 -2 30 -8-22z" fill="#ffa828"/><path d="M2420 591l19-39 -1-22 -20 46z" fill="#ff8303"/><path d="M1958 301l0-31 -5-17 -8 1z" fill="#ffaa2a"/><path d="M2023 381l17 41 -18-78 -9-2z" fill="#ff9c1c"/><path d="M2196 598l7-8 -5-46 -6 25z" fill="#ff8001"/><path d="M2013 595l4-11 -2-8 -7 4z" fill="#fe7e00"/><path d="M2476 555l7 2 -9 5 -5-6z" fill="#ff8404"/><path d="M1942 484l-7-41 -12-35 4 34z" fill="#ff9212"/><path d="M2127 281l3-44 -2-2 -7 14z" fill="#ffae2e"/><path d="M2612 314l3 12 -10 4 -1-17z" fill="#ffa627"/><path d="M1945 597l26 42 -8-23 -14-12z" fill="#fa7a00"/><path d="M2396 456l4 19 2-38 -11 16z" fill="#ff9313"/><path d="M2018 588l14 19 -2-7 -13-16z" fill="#fd7d00"/><path d="M2420 571l16-30 3-36 -15 27z" fill="#ff8708"/><path d="M2462 507l5 10 -9 6 2-33z" fill="#ff8b0c"/><path d="M2456 191l6 7 -2-19 -10 10z" fill="#ffb839"/><path d="M2124 299l7-10 2 45 -9-9z" fill="#ffa626"/><path d="M2165 202l9 11 -5-38 -7 21z" fill="#ffb637"/><path d="M2459 447l-6 49 8-53 -11 13z" fill="#ff9213"/><path d="M2195 317l9 17 -4-14 -7 24z" fill="#ffa424"/><path d="M2627 540l-1 14 -2-14 -2-10z" fill="#ff8809"/><path d="M2665 579l19-19 17-44 -16 14z" fill="#ff8808"/><path d="M2351 444l0 54 2-51 -8 3z" fill="#ff9213"/><path d="M2385 236l9-9 1-41 -8-1z" fill="#ffb637"/><path d="M1828 245l9 0 -3-9 -1 19z" fill="#ffaf2f"/><path d="M2145 579l5-26 -2 0 -4 35z" fill="#ff8303"/><path d="M1963 616l3-13 3 6 -21-32z" fill="#fd7e00"/><path d="M1908 381l10 4 5 15 -1 19z" fill="#ff9a1b"/><path d="M2342 253l10-21 -5-3 -3-41z" fill="#ffb434"/><path d="M2081 499l5-16 1 12 -11-15z" fill="#ff8e0f"/><path d="M2395 544l1 31 1-32 -10 9z" fill="#ff8607"/><path d="M1837 245l5-6 8 18 -16-21z" fill="#ffaf30"/><path d="M2318 195l7 8 -1-33 -11 29z" fill="#ffb939"/><path d="M2201 393l5-79 -2 20 -9-17z" fill="#ffa324"/><path d="M2126 560l9 4 1 24 -10-20z" fill="#ff8304"/><path d="M2075 618l9 4 -9-39 -9-2z" fill="#fe7f00"/><path d="M2171 398l7-14 -9-93 -8 3z" fill="#ffa323"/><path d="M2476 535l8-1 -4-11 -13 15z" fill="#ff8a0b"/><path d="M2021 459l5-13 -2-6 -8 1z" fill="#ff9415"/><path d="M2028 341l14 29 -4-16 -15-34z" fill="#ffa223"/><path d="M2270 241l7 17 -4-8 -7-14z" fill="#ffb132"/><path d="M2434 298l3 20 3-41 -16 39z" fill="#ffaa2b"/><path d="M1883 551l23 32 2-2 -37-61z" fill="#ff8405"/><path d="M1913 344l19 33 16 48 -23-45z" fill="#ff9d1d"/><path d="M2044 315l8-2 -2-4 -11-15z" fill="#ffa829"/><path d="M2320 460l8-1 -1-29 -10 21z" fill="#ff9616"/><path d="M2024 440l15 30 -15-61 -8 3z" fill="#ff9717"/><path d="M1990 603l17 24 -15-45 -10-6z" fill="#ff8000"/><path d="M2130 385l10 13 -5-25 -7 9z" fill="#ff9e1f"/><path d="M1969 559l4-12 18 49 -27-52z" fill="#ff8505"/><path d="M2405 435l15-32 -14 39 4-61z" fill="#ff9b1c"/><path d="M2107 139l10 19 -4-16 -10-21z" fill="#ffc041"/><path d="M2326 515l4 27 3-62 -5-28z" fill="#ff8f10"/><path d="M1861 444l11 7 5 8 -13-11z" fill="#ff9415"/><path d="M1908 321l1-20 2 4 -5 9z" fill="#ffa828"/><path d="M2308 530l4 33 -1-38 -9 8z" fill="#ff8a0a"/><path d="M1976 473l-4-43 19 63 -5 8z" fill="#ff9112"/><path d="M2642 540l-5 21 8-31 -4-7z" fill="#ff8b0c"/><path d="M2203 463l8 35 -3-26 -10-58z" fill="#ff9415"/><path d="M2119 519l12 25 -8-47 -12-22z" fill="#ff8d0e"/><path d="M2326 306l8 2 -1-37 -13 48z" fill="#ffab2c"/><path d="M2624 540l17-17 -5-9 -18 19z" fill="#ff8d0e"/><path d="M2087 311l13 39 -8-46 -3 37z" fill="#ffa727"/><path d="M2283 303l7 10 -3-21 -6-26z" fill="#ffac2d"/><path d="M2626 554l16-14 -1-17 -17 17z" fill="#ff8c0c"/><path d="M2440 551l13-17 -4-9 -10 5z" fill="#ff8c0c"/><path d="M2351 142l8-1 -1-36 -13 57z" fill="#ffc343"/><path d="M2362 447l19-65 -4-9 -8 1z" fill="#ff9f20"/><path d="M2196 453l7-18 -3-16 -7 28z" fill="#ff9819"/><path d="M2177 587l5-51 -1 27 -8 6z" fill="#ff8707"/><path d="M2555 504l7 2 1-23 -34 65z" fill="#ff9010"/><path d="M1980 324l0-32 -8-30 -16-32z" fill="#ffae2e"/><path d="M2041 137l12 23 -10-52 -4 24z" fill="#ffc243"/><path d="M2474 177l2 28 -1-25 -8 1z" fill="#ffbd3e"/><path d="M2153 218l6-33 0 51 -10-42z" fill="#ffb939"/><path d="M1912 197l16 27 2 5 -6 7z" fill="#ffb636"/><path d="M2302 533l9-8 -2-23 -12 39z" fill="#ff8d0d"/><path d="M2345 162l13-57 -4 0 -11 23z" fill="#ffc546"/><path d="M2247 196l8 7 -4 10 -7-31z" fill="#ffbb3b"/><path d="M1876 268l5-10 4 11 -12-10z" fill="#ffb031"/><path d="M2045 594l12 15 -7-26 -10-6z" fill="#ff8304"/><path d="M2354 105l6 14 -5-1 -7-10z" fill="#ffc748"/><path d="M2140 588l8 3 -3-12 -10-15z" fill="#ff8506"/><path d="M2406 442l17-47 -5-6 -6-8z" fill="#ff9f20"/><path d="M1966 603l5-8 -1-4 -1 18z" fill="#ff8202"/><path d="M2114 537l5-18 -8-44 -3 30z" fill="#ff8f10"/><path d="M2533 116l2 22 -10 12 2-34z" fill="#ffc647"/><path d="M2275 309l11-68 -4-11 -11 61z" fill="#ffb232"/><path d="M2312 372l9-18 -5 11 -8-1z" fill="#ffa525"/><path d="M2410 381l-4 61 6-61 -12 24z" fill="#ffa020"/><path d="M2103 121l10 21 -3-13 -9-13z" fill="#ffc545"/><path d="M1992 442l-5-47 -1-3 12 71z" fill="#ff9b1c"/><path d="M1795 238l16 18 -16-41 -22-34z" fill="#ffb637"/><path d="M2216 455l8-40 -4-6 -8 5z" fill="#ff9c1d"/><path d="M2480 588l15-20 17-71 -29 61z" fill="#ff8b0c"/><path d="M1982 604l20 35 -12-36 -12-13z" fill="#ff8202"/><path d="M1773 181l22 34 5 7 -8 2z" fill="#ffb939"/><path d="M2461 443l9-6 -6-1 -17 32z" fill="#ff9b1b"/><path d="M2109 130l12 45 -4-17 -10-19z" fill="#ffc243"/><path d="M2277 258l7 0 -1-50 -10 42z" fill="#ffb637"/><path d="M2153 360l9 13 -6-39 -10-28z" fill="#ffa828"/><path d="M2398 178l4 28 0-38 -8 5z" fill="#ffc040"/><path d="M1863 252l10 7 -3-11 -8-1z" fill="#ffb434"/><path d="M1881 258l5-10 8 24 -9-3z" fill="#ffb233"/><path d="M2405 168l0 51 -3-13 -4-28z" fill="#ffbe3f"/><path d="M2365 362l4 23 -2-19 -8 1z" fill="#ffa626"/><path d="M2024 608l11 7 -3-8 -14-19z" fill="#ff8404"/><path d="M1942 412l22 41 -16-50 -12-10z" fill="#ff9e1e"/><path d="M2317 451l10-21 -7 16 -5-26z" fill="#ff9c1d"/><path d="M1936 654l-2-20 -6-18 -13-10z" fill="#ff8001"/><path d="M2261 485l9-20 -5 5 -7-20z" fill="#ff9819"/><path d="M1874 479l5-9 -7-19 -11-7z" fill="#ff9718"/><path d="M1945 367l8-4 0 2 7 49z" fill="#ffa324"/><path d="M1860 326l10 4 -4-11 -4 10z" fill="#ffaa2b"/><path d="M2359 294l6 10 -2-22 -11 22z" fill="#ffb132"/><path d="M2403 451l2 26 -5-2 -4-19z" fill="#ff9a1a"/><path d="M1974 491l7-4 -5-14 -1 21z" fill="#ff9516"/><path d="M2093 199l11 21 -5-18 -10-20z" fill="#ffbe3e"/><path d="M2123 388l7-3 -2-3 -8-3z" fill="#ffa425"/><path d="M2271 291l11-61 -5 28 -7-17z" fill="#ffb738"/><path d="M2608 344l12-10 -5-8 -3-12z" fill="#ffae2f"/><path d="M2587 511l10-6 17-56 -8 1z" fill="#ff991a"/><path d="M2044 236l8-3 -8-34 -6 8z" fill="#ffbb3c"/><path d="M2534 385l-2 29 6-39 -9 3z" fill="#ffa626"/><path d="M2484 534l5 7 -1-21 -8 3z" fill="#ff9212"/><path d="M2359 141l4 30 2-51 -7-15z" fill="#ffc949"/><path d="M2016 606l2-18 -1-4 -4 11z" fill="#ff8708"/><path d="M2542 252l21-43 -22 48 -1-24z" fill="#ffbb3b"/><path d="M2478 437l-3 36 1-28 1-27z" fill="#ff9e1f"/><path d="M2073 453l-5-72 6 43 -13-30z" fill="#ffa121"/><path d="M2305 120l7 15 -1-46 -10 29z" fill="#ffcb4c"/><path d="M1953 253l7-4 2 9 -9-5z" fill="#ffb737"/><path d="M2323 483l13-47 -8 23 -8 1z" fill="#ff9b1c"/><path d="M1871 298l-8-46 -1-5 -24-42z" fill="#ffb737"/><path d="M1950 495l7-3 4 9 -4 13z" fill="#ff9415"/><path d="M2437 318l7 4 4-45 -8 0z" fill="#ffb333"/><path d="M2345 450l8-3 -5-4 -7-2z" fill="#ff9e1e"/><path d="M2218 321l8-8 -3 77 -8-28z" fill="#ffab2c"/><path d="M2402 231l-4 69 8-82 -7-6z" fill="#ffbb3b"/><path d="M1901 243l1-26 -7-22 4 38z" fill="#ffbb3c"/><path d="M2613 525l22-29 -1-16 -20 24z" fill="#ff9818"/><path d="M2006 382l0-33 1 7 -10-8z" fill="#ffa929"/><path d="M1934 634l12 7 -10-27 -8 2z" fill="#ff8404"/><path d="M2092 445l17 57 -12-66 -14-32z" fill="#ff9d1e"/><path d="M1942 245l11 8 -5-16 -9-5z" fill="#ffb93a"/><path d="M2452 414l24-64 -16 35 7-57z" fill="#ffaa2a"/><path d="M2134 378l2-67 -5-22 -7 10z" fill="#ffaf30"/><path d="M2043 138l8 1 2 21 -12-23z" fill="#ffc848"/><path d="M2198 544l8-12 -2 42 -7 13z" fill="#ff8e0f"/><path d="M2456 217l16-35 -10 16 -6-7z" fill="#ffc242"/><path d="M2093 489l2-31 -3-13 -8 5z" fill="#ff9c1c"/><path d="M2433 331l15-34 -11 21 -3-20z" fill="#ffb233"/><path d="M2364 572l4 21 1-35 -5-15z" fill="#ff8e0f"/><path d="M2315 389l9-9 -3-26 -9 18z" fill="#ffa929"/><path d="M1833 255l1-19 -4-14 -15-18z" fill="#ffbb3c"/><path d="M2328 452l5 28 -6 4 -11 33z" fill="#ff9a1a"/><path d="M2400 364l0 41 -6 0 -4-20z" fill="#ffa728"/><path d="M2462 198l12-21 -7 4 -7-2z" fill="#ffc545"/><path d="M2092 304l3-37 4 45 -1 46z" fill="#ffb132"/><path d="M2259 212l8 1 -4-15 -8 5z" fill="#ffc141"/><path d="M1993 444l10 10 -16-59 5 47z" fill="#ffa020"/><path d="M2396 575l10-13 4-43 -13 24z" fill="#ff9112"/><path d="M2507 287l16-29 -5-8 -26 65z" fill="#ffb839"/><path d="M2188 589l8 9 -4-29 -10-33z" fill="#ff8e0e"/><path d="M2640 482l26-35 -33 44 -24 34z" fill="#ff9c1c"/><path d="M2575 460l25-39 -9-1 -8 0z" fill="#ffa424"/><path d="M2073 554l7-6 -9-38 -4 23z" fill="#ff9313"/><path d="M2490 335l0 27 3-37 -14 22z" fill="#ffb030"/><path d="M2587 474l19-24 -14 11 -17 22z" fill="#ff9f20"/><path d="M2233 504l8-7 -4-6 -8 40z" fill="#ff9819"/><path d="M2644 591l24-28 42-88 -48 68z" fill="#ff9516"/><path d="M2034 224l10 12 -6-29 -9-3z" fill="#ffc041"/><path d="M2551 518l5 4 -1-18 -22 35z" fill="#ff9819"/><path d="M1957 492l19 33 -16-50 1 26z" fill="#ff991a"/><path d="M2281 266l6 26 -1-51 -11 68z" fill="#ffba3a"/><path d="M2488 181l3 17 -4-9 -11 16z" fill="#ffc647"/><path d="M2113 375l10 13 -3-9 -7 9z" fill="#ffaa2b"/><path d="M2222 252l8-8 -4-5 -8 12z" fill="#ffbe3e"/><path d="M2494 184l-10 71 7-57 -3-17z" fill="#ffc545"/><path d="M2233 396l8-8 -3-54 -8 24z" fill="#ffad2d"/><path d="M1931 575l12 10 2 2 -1 16z" fill="#ff8d0e"/><path d="M2097 132l6-11 -2-5 -7 11z" fill="#ffcf4f"/><path d="M1934 271l17 31 -14-48 0 28z" fill="#ffb939"/><path d="M2568 554l-1 16 21-63 -23 32z" fill="#ff9717"/><path d="M2162 196l7-21 -4-21 -6 35z" fill="#ffc848"/><path d="M2545 266l8-4 10-53 -21 43z" fill="#ffc040"/><path d="M1846 339l18 25 -12-33 4 30z" fill="#ffaf30"/><path d="M2486 372l16-28 -12 18 0-27z" fill="#ffb132"/><path d="M2222 584l8 5 -4-11 -7-6z" fill="#ff9111"/><path d="M2637 561l17-18 14-42 -23 29z" fill="#ff9919"/><path d="M1895 499l10 6 3 2 -29-48z" fill="#ff9c1c"/><path d="M2304 582l9-17 -4-4 -5-32z" fill="#ff9415"/><path d="M2125 594l8 1 -7-35 -7 8z" fill="#ff9111"/><path d="M1822 305l-13-52 27 62 -20-29z" fill="#ffb838"/><path d="M2305 363l7 9 -4-8 -6-19z" fill="#ffb031"/><path d="M2008 580l7-4 -6-19 -8-1z" fill="#ff9213"/><path d="M1945 254l8-1 0 0 -11-8z" fill="#ffbe3f"/><path d="M2016 441l8-1 -8-28 -4 14z" fill="#ffa626"/><path d="M1857 454l4-10 3 4 -10-5z" fill="#ffa323"/><path d="M2311 89l1 93 5-130 -9 16z" fill="#ffd556"/><path d="M2016 412l8-3 1 6 -5 16z" fill="#ffa828"/><path d="M1871 520l37 61 -5-14 -39-67z" fill="#ff9616"/><path d="M2289 251l6 25 0-58 -11 40z" fill="#ffc040"/><path d="M2312 501l8-2 -3-18 -10 24z" fill="#ff9e1e"/><path d="M2381 382l3 24 -4-7 -3-26z" fill="#ffad2e"/><path d="M2436 541l4 10 -1-21 0-25z" fill="#ff9a1b"/><path d="M2072 542l14 26 -1 1 -11-12z" fill="#ff9516"/><path d="M2148 591l7-9 -5-29 -5 26z" fill="#ff9314"/><path d="M1865 342l7-4 -2-8 -10-4z" fill="#ffb434"/><path d="M2251 209l8 3 -4-9 -8-7z" fill="#ffc848"/><path d="M1976 525l-2-31 0-3 -14-16z" fill="#ff9e1f"/><path d="M2384 406l16-42 -10 21 -10 14z" fill="#ffaf2f"/><path d="M2395 186l10-18 -7 10 -14 45z" fill="#ffcb4b"/><path d="M1986 506l6-9 -3-9 -8-1z" fill="#ff9f1f"/><path d="M1893 575l0-17 13 25 -23-32z" fill="#ff9415"/><path d="M1872 482l8-2 -4-12 4 28z" fill="#ffa021"/><path d="M2136 311l7-5 2 51 -14-68z" fill="#ffb839"/><path d="M2327 484l10-12 -1-36 -13 47z" fill="#ffa424"/><path d="M1956 230l16 32 9 37 -21-50z" fill="#ffbf40"/><path d="M2334 308l8-1 -4-15 -5-21z" fill="#ffbc3d"/><path d="M2448 530l14-23 -2-17 -8 2z" fill="#ffa020"/><path d="M2333 365l9-10 -7 21 -9 5z" fill="#ffb233"/><path d="M1968 612l12 10 -9-27 -5 8z" fill="#ff9010"/><path d="M2461 317l21-51 -1-26 -20 53z" fill="#ffbf40"/><path d="M2324 380l9-15 -7 16 -5-27z" fill="#ffb333"/><path d="M1879 470l-6-33 14 30 -15-16z" fill="#ffa525"/><path d="M2394 227l8-7 3-52 -10 18z" fill="#ffcb4b"/><path d="M2086 568l6-10 -6-23 -1 34z" fill="#ff9818"/><path d="M2393 269l11-16 -2-22 -11 17z" fill="#ffc445"/><path d="M1842 239l-4-34 15 37 -3 15z" fill="#ffc445"/><path d="M2406 562l8 0 -2-19 -2-24z" fill="#ff9c1c"/><path d="M2673 420l-1 16 -16 13 -20 24z" fill="#ffab2b"/><path d="M2293 517l5 26 -2-25 -11 42z" fill="#ff9d1e"/><path d="M1987 395l25 65 -10-38 -16-30z" fill="#ffac2d"/><path d="M2133 595l7-7 -5-24 -9-4z" fill="#ff9717"/><path d="M2163 504l6-24 -3-14 -6 30z" fill="#ffa424"/><path d="M2243 322l9-29 -5 18 -8 26z" fill="#ffbc3c"/><path d="M1980 257l12 17 8 38 -27-78z" fill="#ffc142"/><path d="M2341 457l10-13 -6 6 -10 17z" fill="#ffa929"/><path d="M1974 494l12 12 -5-19 -7 4z" fill="#ffa222"/><path d="M2439 552l2 19 -7-2 4-39z" fill="#ff9b1c"/><path d="M1811 302l14 14 -3-11 -18-24z" fill="#ffbc3d"/><path d="M2093 591l10 13 -9-41 -8 2z" fill="#ff9717"/><path d="M1903 194l9 3 12 39 -9-3z" fill="#ffc949"/><path d="M2554 548l11-9 5-30 -14 13z" fill="#ffa020"/><path d="M1925 158l3-18 -1-5 -11-8z" fill="#ffd354"/><path d="M2333 271l5 21 -1-28 -12 33z" fill="#ffc242"/><path d="M2493 398l16-27 4-38 -11 11z" fill="#ffb738"/><path d="M2077 385l12 23 0 12 -8-1z" fill="#ffaf30"/><path d="M1837 310l13 11 10 24 -21-33z" fill="#ffba3b"/><path d="M1872 338l7-2 -4-13 -5 7z" fill="#ffb939"/><path d="M2336 436l5 21 -6 10 -7-8z" fill="#ffaa2a"/><path d="M2282 230l7 21 -5 7 -7 0z" fill="#ffc647"/><path d="M2024 409l13 21 -7-28 -5 13z" fill="#ffaf2f"/><path d="M2635 496l-10 32 15-46 -6-2z" fill="#ffa626"/><path d="M1822 310l9 4 -1-7 -5 9z" fill="#ffbc3c"/><path d="M2553 533l1 15 2-26 -5-4z" fill="#ffa121"/><path d="M2115 293l9 6 0 26 -10-24z" fill="#ffbe3f"/><path d="M1816 286l20 29 -23-59 -13-13z" fill="#ffc142"/><path d="M2522 131l11-15 -6 0 -12 14z" fill="#ffd95a"/><path d="M2191 486l7-7 -3-4 -9-34z" fill="#ffa828"/><path d="M2333 480l7 3 -3-11 -10 12z" fill="#ffa728"/><path d="M2008 471l6-8 -7-27 -6 7z" fill="#ffaa2a"/><path d="M2211 376l7-55 -3 41 -9-48z" fill="#ffba3a"/><path d="M1829 283l13 13 4 6 -6 7z" fill="#ffbf3f"/><path d="M1841 347l5-8 10 22 -17-21z" fill="#ffb839"/><path d="M1964 570l5-11 -5-15 -3 13z" fill="#ff9c1c"/><path d="M2178 496l7-16 -1 18 -11-38z" fill="#ffa727"/><path d="M2301 118l10-29 -3-21 -11 45z" fill="#ffdd5e"/><path d="M2085 569l1-34 -3-10 -3 23z" fill="#ff9e1f"/><path d="M2144 386l8 0 -10-90 -1 85z" fill="#ffb838"/><path d="M2378 580l14-29 -6-1 -11 13z" fill="#ff9e1e"/><path d="M1839 312l21 33 -18-49 -13-13z" fill="#ffbe3f"/><path d="M2214 364l8-5 -4-38 -7 55z" fill="#ffb93a"/><path d="M2156 220l8 7 -5-42 -6 33z" fill="#ffcd4e"/><path d="M1800 243l13 13 18 41 -25-43z" fill="#ffc545"/><path d="M2343 502l10-13 -6-1 -7-5z" fill="#ffa828"/><path d="M2636 514l18-19 -29 33 10-32z" fill="#ffa627"/><path d="M1853 454l27 42 -6-17 -24-35z" fill="#ffa929"/><path d="M2198 414l10 58 -5-37 -7 18z" fill="#ffae2e"/><path d="M2099 133l8 6 -4-18 -6 11z" fill="#ffd959"/><path d="M2108 505l3-30 2 23 -10-11z" fill="#ffa727"/><path d="M2323 197l9-16 -7 22 -7-8z" fill="#ffd152"/><path d="M1939 262l3-17 -3-13 -16-25z" fill="#ffca4a"/><path d="M2007 356l-1-42 2 12 1 39z" fill="#ffbc3c"/><path d="M2394 456l9-5 -7 5 -12 21z" fill="#ffad2d"/><path d="M1942 439l14 17 -7-22 -17-25z" fill="#ffae2f"/><path d="M2332 181l7 7 -6 12 -8 3z" fill="#ffd252"/><path d="M2567 290l10-8 -6-6 -4-8z" fill="#ffc747"/><path d="M2038 207l6-8 0 4 -10-11z" fill="#ffd050"/><path d="M2002 255l11 11 -14-61 -2 32z" fill="#ffca4a"/><path d="M2625 528l13-10 28-71 -26 35z" fill="#ffa92a"/><path d="M2190 436l8-22 -2 39 -7 19z" fill="#ffaf2f"/><path d="M2296 579l8 3 0-53 -8 8z" fill="#ffa020"/><path d="M1993 185l17 41 0 3 -10-7z" fill="#ffce4f"/><path d="M1949 604l14 12 -15-39 -5 8z" fill="#ff9a1a"/><path d="M2572 381l33-65 -5-10 -23 42z" fill="#ffc041"/><path d="M2066 581l9 2 -3-9 -4 17z" fill="#ff9c1d"/><path d="M2001 584l12 11 -5-15 -18-32z" fill="#ff9d1e"/><path d="M2546 307l21-39 3-36 -15 26z" fill="#ffca4b"/><path d="M2555 258l15-26 -17 30 -8 4z" fill="#ffcc4d"/><path d="M2543 157l1 24 0-27 -2-21z" fill="#ffda5b"/><path d="M1835 354l6-7 -2-7 -7 3z" fill="#ffbd3d"/><path d="M1960 475l14 16 1 3 -18-30z" fill="#ffab2b"/><path d="M2015 576l10 8 -14-51 -2 24z" fill="#ffa020"/><path d="M2182 536l10 33 -4-11 -7 5z" fill="#ffa222"/><path d="M2287 515l10-23 -3-20 -10 31z" fill="#ffab2b"/><path d="M2391 248l11-17 -3-19 -13 35z" fill="#ffcf50"/><path d="M1971 595l7-5 2 3 -10-2z" fill="#ff9c1d"/><path d="M2284 503l10-31 -7 29 -4-45z" fill="#ffac2d"/><path d="M1972 430l25 57 -10-35 4 41z" fill="#ffae2e"/><path d="M1924 239l15 23 -16-55 0 29z" fill="#ffcd4e"/><path d="M1839 340l17 21 -19-51 -5 9z" fill="#ffc040"/><path d="M2354 587l10-15 0-29 -9 5z" fill="#ffa223"/><path d="M1999 205l25 82 -14-61 -17-41z" fill="#ffcf50"/><path d="M1923 261l1-22 -1-3 -15-25z" fill="#ffce4e"/><path d="M2390 435l15-33 -3-17 -13 28z" fill="#ffb838"/><path d="M1850 444l24 35 -13-35 -4 10z" fill="#ffaf30"/><path d="M1832 343l7-3 -7-21 -3 13z" fill="#ffc041"/><path d="M2502 344l11-11 -12 17 -11 12z" fill="#ffc142"/><path d="M2100 350l7-9 -12-74 -3 37z" fill="#ffc445"/><path d="M2567 570l15-15 9-38 -3-10z" fill="#ffa828"/><path d="M1970 591l10 2 -16-46 6 40z" fill="#ff9f20"/><path d="M2158 552l10 24 -5-30 -6 15z" fill="#ffa324"/><path d="M2110 318l5-25 -1 8 -9-3z" fill="#ffc747"/><path d="M1838 205l24 42 -6-18 -3 13z" fill="#ffd050"/><path d="M1992 497l11 11 -12-42 -2 22z" fill="#ffad2d"/><path d="M1856 361l-4-30 -2-10 -13-11z" fill="#ffc242"/><path d="M2275 518l9-15 -1-47 -9-1z" fill="#ffaf2f"/><path d="M1948 403l-3-36 0 0 0 26z" fill="#ffbb3c"/><path d="M1852 331l13 11 -5-16 -10-5z" fill="#ffc243"/><path d="M2298 543l10-13 -6 3 -6-15z" fill="#ffa829"/><path d="M2307 469l5 32 -5 4 -7-9z" fill="#ffae2e"/><path d="M2645 530l23-29 -34 42 20-48z" fill="#ffac2c"/><path d="M2452 492l8-2 -3-14 -14 23z" fill="#ffaf30"/><path d="M2479 183l9-2 -12 24 -2-28z" fill="#ffd95a"/><path d="M1878 484l34 59 -17-44 -19-23z" fill="#ffab2c"/><path d="M2369 374l8-1 -8 12 -4-23z" fill="#ffbf3f"/><path d="M1910 412l2-16 -4-15 1 26z" fill="#ffba3a"/><path d="M1978 590l12 13 -8-27 -2 17z" fill="#ffa020"/><path d="M1945 367l26 59 -18-63 -8 4z" fill="#ffbd3d"/><path d="M2362 515l8-6 -2-19 -6-11z" fill="#ffae2f"/><path d="M2332 412l13-38 -3-19 -9 10z" fill="#ffbf40"/><path d="M2652 465l11-8 10-37 -35 53z" fill="#ffb637"/><path d="M2342 355l6 14 -3-14 -10 21z" fill="#ffc142"/><path d="M2355 548l9-5 -9 15 -6-9z" fill="#ffa828"/><path d="M2358 105l7 15 -5-1 -6-14z" fill="#ffe465"/><path d="M1939 232l9 5 -8-30 -9 0z" fill="#ffd454"/><path d="M1825 316l5-9 -21-54 13 52z" fill="#ffc94a"/><path d="M2638 518l6 3 13-43 9-31z" fill="#ffb233"/><path d="M2668 563l-3 16 20-49 25-55z" fill="#ffac2c"/><path d="M2362 479l6 11 -5 0 -7-5z" fill="#ffb232"/><path d="M2461 293l20-53 -8 6 -12 21z" fill="#ffd252"/><path d="M2022 344l18 46 -12-49 -14-26z" fill="#ffc444"/><path d="M1911 632l6-4 -13-32 -13-10z" fill="#ff9f20"/><path d="M1918 270l-10-59 -5-17 -1 23z" fill="#ffd555"/><path d="M2169 291l12 58 -5-40 -7 16z" fill="#ffc94a"/><path d="M2668 501l3 9 -9-3 -28 36z" fill="#ffb031"/><path d="M2241 388l8 5 -3-66 -8 7z" fill="#ffc444"/><path d="M1980 622l2-18 -4-14 -7 5z" fill="#ffa122"/><path d="M2111 475l12 22 -5-17 -5 18z" fill="#ffb232"/><path d="M2327 199l5 30 0-48 -9 16z" fill="#ffdb5b"/><path d="M2399 212l7 6 -5-5 -11 19z" fill="#ffd959"/><path d="M1943 585l5-8 1-1 -4 11z" fill="#ffa525"/><path d="M2355 510l7 5 0-36 -9 10z" fill="#ffb233"/><path d="M2339 188l10-20 -7 26 -9 6z" fill="#ffdd5e"/><path d="M1932 409l17 25 -7-22 -5 9z" fill="#ffbc3d"/><path d="M2606 452l27-42 15-53 -27 44z" fill="#ffc141"/><path d="M1829 332l3-13 -1-5 -9-4z" fill="#ffca4a"/><path d="M1804 281l18 24 -6-19 -19-26z" fill="#ffcf4f"/><path d="M1970 587l-6-40 5 12 -5 11z" fill="#ffa829"/><path d="M2472 182l7 1 -5-6 -12 21z" fill="#ffdf60"/><path d="M1936 614l11 6 -8-21 -11-6z" fill="#ffa324"/><path d="M1902 217l1-23 12 39 -20-38z" fill="#ffda5a"/><path d="M2465 240l21-57 -7 0 -7-1z" fill="#ffde5e"/><path d="M2483 558l29-61 -23 44 -5-7z" fill="#ffb030"/><path d="M2152 386l7-14 -3 1 -14-77z" fill="#ffc747"/><path d="M1876 468l11 7 -14-38 6 33z" fill="#ffb738"/><path d="M2166 466l7-6 -1 22 -9-17z" fill="#ffb838"/><path d="M2304 529l5 32 -1-31 -10 13z" fill="#ffaf30"/><path d="M2360 339l5 23 -6 5 -8 3z" fill="#ffc849"/><path d="M2103 148l6-18 -2 9 -8-6z" fill="#ffe667"/><path d="M2353 489l9-10 -6 6 -9 3z" fill="#ffb738"/><path d="M1841 372l-3-29 3 4 -6 7z" fill="#ffc748"/><path d="M1922 349l26 54 -3-10 -13-16z" fill="#ffc445"/><path d="M1990 548l18 32 -7-24 -6 7z" fill="#ffac2c"/><path d="M2392 551l1 29 2-36 -9 6z" fill="#ffaf2f"/><path d="M1947 620l-2-23 4 7 -10-5z" fill="#ffa627"/><path d="M2068 381l9 4 4 34 -7 5z" fill="#ffc343"/><path d="M2495 568l9-4 0-21 8-46z" fill="#ffb132"/><path d="M1895 571l14 12 5 8 -8 0z" fill="#ffa92a"/><path d="M2228 528l8-32 -3 8 -8 11z" fill="#ffb536"/><path d="M2071 510l9 6 0 5 -10-7z" fill="#ffb435"/><path d="M2211 576l8-4 -4-1 -9-39z" fill="#ffae2f"/><path d="M1831 314l8-2 -10-29 1 24z" fill="#ffd051"/><path d="M2482 266l-9 63 16-87 -8-2z" fill="#ffd858"/><path d="M2143 338l10 22 -7-54 -7 18z" fill="#ffce4f"/><path d="M2095 267l15 51 -5-20 -6 14z" fill="#ffd353"/><path d="M2009 557l2-24 0 0 1 32z" fill="#ffb031"/><path d="M2567 268l4 8 -3-11 2-33z" fill="#ffda5b"/><path d="M2266 470l8-15 -4 10 -9 20z" fill="#ffbc3d"/><path d="M2350 488l5 22 -2-21 -10 13z" fill="#ffb93a"/><path d="M2072 574l4-19 -4-13 2 46z" fill="#ffaf2f"/><path d="M2086 565l8-2 -2-5 -6 10z" fill="#ffaf2f"/><path d="M1916 584l12 9 0-4 1 21z" fill="#ffaa2b"/><path d="M2641 523l4 7 9-35 -18 19z" fill="#ffb839"/><path d="M2274 455l9 1 -7 38 -6-29z" fill="#ffbd3e"/><path d="M2173 460l11 38 -8-77 -4 61z" fill="#ffbd3d"/><path d="M1843 368l31 54 -10-28 -19-26z" fill="#ffc647"/><path d="M2389 413l13-28 -2-21 -16 42z" fill="#ffc849"/><path d="M1923 207l16 25 -8-25 -3 17z" fill="#ffdf5f"/><path d="M2351 389l8-3 1-47 -12 30z" fill="#ffcc4c"/><path d="M2286 241l5 48 -2-38 -7-21z" fill="#ffdc5c"/><path d="M2605 316l-15 58 9-45 1-23z" fill="#ffd253"/><path d="M2320 499l6 16 2-63 -11 29z" fill="#ffbc3c"/><path d="M2340 483l7 5 1-42 -11 26z" fill="#ffbe3f"/><path d="M2345 374l6 15 -3-20 -6-14z" fill="#ffcd4d"/><path d="M1918 385l10 8 -15-49 10 56z" fill="#ffca4a"/><path d="M1918 440l9 2 -17-51 -5 11z" fill="#ffc545"/><path d="M1980 292l0-35 -7-23 -1 28z" fill="#ffdb5b"/><path d="M2348 369l12-30 -9 31 -6-15z" fill="#ffcf50"/><path d="M2224 415l8-20 -4 25 -8-11z" fill="#ffc848"/><path d="M2332 229l12-41 -5 0 -7-7z" fill="#ffe666"/><path d="M2297 541l12-39 -2-33 -10 23z" fill="#ffbc3c"/><path d="M2084 590l9 1 -7-26 -10-10z" fill="#ffb131"/><path d="M2176 421l10 20 -3-2 -5 63z" fill="#ffc343"/><path d="M2654 543l8 0 9-33 -3-9z" fill="#ffbb3b"/><path d="M2142 296l14 77 -3-13 -10-22z" fill="#ffd252"/><path d="M1958 270l-2-40 4 19 -7 4z" fill="#ffde5e"/><path d="M2258 352l6 32 -2-48 -8 13z" fill="#ffd152"/><path d="M2556 522l14-13 -8-3 -7-2z" fill="#ffbd3e"/><path d="M1854 443l10 5 -11-30 -21-29z" fill="#ffc647"/><path d="M2285 571l11-34 -3-20 -10 17z" fill="#ffb939"/><path d="M2470 437l8 0 -1-19 -13 18z" fill="#ffc849"/><path d="M1832 319l5-9 2 2 -8 2z" fill="#ffd657"/><path d="M2249 393l9-41 -4-3 -8-22z" fill="#ffd253"/><path d="M1939 599l10 5 -6-19 -12-10z" fill="#ffb131"/><path d="M2150 553l8-1 -1 9 -9-8z" fill="#ffb737"/><path d="M2075 583l9 7 -8-35 -4 19z" fill="#ffb434"/><path d="M1923 236l0-29 5 17 -16-27z" fill="#ffe565"/><path d="M1882 558l24 33 -13-33 0 17z" fill="#ffb434"/><path d="M2523 258l4 13 -8 2 -1-23z" fill="#ffe162"/><path d="M2405 402l0 33 5-54 -8 4z" fill="#ffce4f"/><path d="M1830 307l-1-24 11 26 -31-56z" fill="#ffdc5c"/><path d="M2080 548l3-23 -3-9 -9-6z" fill="#ffbd3d"/><path d="M2203 590l8-14 -5-44 -8 12z" fill="#ffb939"/><path d="M2344 188l3 41 2-61 -10 20z" fill="#ffec6c"/><path d="M2562 506l16-19 -18 21 3-25z" fill="#ffc344"/><path d="M1937 421l5-9 -6-19 -12-11z" fill="#ffcd4e"/><path d="M2309 502l5 21 -2-22 -5-32z" fill="#ffc243"/><path d="M2347 488l9-3 -1-28 -7-11z" fill="#ffc647"/><path d="M1850 406l18 25 -25-63 0 19z" fill="#ffce4f"/><path d="M2184 498l7-12 -5-45 -10-20z" fill="#ffc748"/><path d="M1835 387l8 0 3 4 -11-8z" fill="#ffd050"/><path d="M1880 480l-1-21 8 16 -11-7z" fill="#ffc546"/><path d="M1794 250l6-7 6 11 -4 11z" fill="#ffe363"/><path d="M2161 562l9 8 -2 6 -10-24z" fill="#ffba3a"/><path d="M2576 513l10-6 -15 14 7-34z" fill="#ffc444"/><path d="M1917 628l-2-22 -5-16 -6 6z" fill="#ffb434"/><path d="M1845 368l19 26 -11-31 -8 2z" fill="#ffd454"/><path d="M1988 568l2-20 5 15 -11-7z" fill="#ffbb3b"/><path d="M1910 590l6-6 13 26 -20-27z" fill="#ffb637"/><path d="M2169 480l9 16 -5-36 -7 6z" fill="#ffc748"/><path d="M2195 475l8-12 -5-49 -8 22z" fill="#ffcb4c"/><path d="M2582 555l5 4 27-73 -23 31z" fill="#ffc242"/><path d="M2464 436l13-18 -9 6 1-32z" fill="#ffd152"/><path d="M1992 582l9 2 -11-36 -2 20z" fill="#ffba3b"/><path d="M1838 343l16 19 -8-23 -5 8z" fill="#ffd959"/><path d="M1797 273l25 37 3 6 -14-14z" fill="#ffdf60"/><path d="M2512 497l-8 46 -2-17 -13 15z" fill="#ffc344"/><path d="M2156 334l5-40 -1 22 -9-8z" fill="#ffdf60"/><path d="M1997 237l2-32 -6-20 4 56z" fill="#ffec6c"/><path d="M1835 362l10 3 -7-22 3 29z" fill="#ffd758"/><path d="M2186 441l9 34 -5-39 -7 3z" fill="#ffcd4d"/><path d="M1936 393l12 10 0 0 -26-54z" fill="#ffd555"/><path d="M1807 302l25 41 -3-11 -13-12z" fill="#ffdd5e"/><path d="M1923 408l9 1 5 12 -10-6z" fill="#ffd152"/><path d="M2146 306l10 28 -5-26 -8-2z" fill="#ffe061"/><path d="M1927 442l-4-34 4 7 -17-24z" fill="#ffd252"/><path d="M2283 208l9-12 -6 22 -8 2z" fill="#ffef70"/><path d="M2359 386l10-12 -4-12 -5-23z" fill="#ffda5b"/><path d="M1849 448l23 34 8 14 -27-42z" fill="#ffca4b"/><path d="M2251 312l7 41 -4-9 -7-46z" fill="#ffe060"/><path d="M2247 298l7 46 -2-51 -9 29z" fill="#ffe263"/><path d="M1928 593l11 6 -8-24 -3 14z" fill="#ffbc3c"/><path d="M1935 443l7-4 -10-30 -9-1z" fill="#ffd253"/><path d="M1981 487l8 1 -17-58 4 43z" fill="#ffcd4d"/><path d="M2014 315l14 26 -5-21 -6 11z" fill="#ffe161"/><path d="M1928 616l8-2 -8-21 -12-9z" fill="#ffbb3b"/><path d="M2600 306l-1 23 3-30 -16 22z" fill="#ffe565"/><path d="M1845 365l8-2 1-1 -16-19z" fill="#ffdc5c"/><path d="M1846 391l-1-23 0-3 -10-3z" fill="#ffda5b"/><path d="M2606 450l8-1 -8-3 -14 15z" fill="#ffd353"/><path d="M2084 450l8-5 -9-41 -3 28z" fill="#ffd353"/><path d="M2006 349l7-7 -7-28 1 42z" fill="#ffe060"/><path d="M2676 423l1 13 -25 29 -28 39z" fill="#ffd353"/><path d="M2685 530l16-14 -9-4 -8 1z" fill="#ffcb4b"/><path d="M2080 432l3-28 0 7 -4 23z" fill="#ffd656"/><path d="M2481 240l8 2 -15 32 -1-28z" fill="#ffef70"/><path d="M1989 488l2-22 6 21 -25-57z" fill="#ffcf50"/><path d="M2241 497l9-38 -5 55 -8-23z" fill="#ffce4e"/><path d="M1822 346l19 26 -6-18 -25-41z" fill="#ffe061"/><path d="M2254 349l8-13 -4 17 -7-41z" fill="#ffe464"/><path d="M2565 539l23-32 -12 6 -6-4z" fill="#ffcc4d"/><path d="M1874 500l27 41 -23-57 -5 9z" fill="#ffcb4c"/><path d="M2284 258l11-40 -3-22 -9 12z" fill="#fff475"/><path d="M2591 517l23-31 -40 63 12-42z" fill="#ffce4e"/><path d="M1927 415l10 6 -13-39 -11-7z" fill="#ffdb5c"/><path d="M2139 324l7-18 -3 0 -7 5z" fill="#ffe869"/><path d="M2250 459l7 31 -4 1 -8 23z" fill="#ffd151"/><path d="M1835 383l11 8 -11-29 -15-16z" fill="#ffdf60"/><path d="M1905 402l5-11 2 5 -2 16z" fill="#ffdc5c"/><path d="M2402 385l8-4 -10 24 0-41z" fill="#ffe061"/><path d="M2644 521l36-52 -4-12 -19 21z" fill="#ffd454"/><path d="M1816 320l13 12 -7-22 -25-37z" fill="#ffe868"/><path d="M2239 564l8-21 -1-93 -10 46z" fill="#ffce4e"/><path d="M1876 476l19 23 -16-40 1 21z" fill="#ffd252"/><path d="M2247 543l8-2 -3-24 -6-67z" fill="#ffcf4f"/><path d="M1797 260l19 26 -16-43 -6 7z" fill="#fff071"/><path d="M2155 582l6-20 -3-10 -8 1z" fill="#ffc849"/><path d="M1908 211l15 25 -11-39 -9-3z" fill="#fff878"/><path d="M2076 555l10 10 0 3 -14-26z" fill="#ffc94a"/><path d="M2570 509l6 4 2-26 -16 19z" fill="#ffd353"/><path d="M2337 472l11-26 -7 11 -5-21z" fill="#ffda5a"/><path d="M2662 507l27-35 -9-3 -36 52z" fill="#ffd656"/><path d="M1820 346l15 16 6 10 -19-26z" fill="#ffe667"/><path d="M2297 492l10-23 -7 27 -6-24z" fill="#ffd758"/><path d="M2083 411l9 2 -3-5 -12-23z" fill="#ffe162"/><path d="M2370 509l15-33 -5-6 -12 20z" fill="#ffd758"/><path d="M2161 294l8-3 0 34 -9-9z" fill="#fff070"/><path d="M2243 310l8 2 -4-14 -9 72z" fill="#ffee6e"/><path d="M2222 359l8-1 -4-45 -8 8z" fill="#ffec6c"/><path d="M2486 183l8 1 -6-3 -9 2z" fill="#ffff83"/><path d="M2677 436l-5 23 -9-2 -11 8z" fill="#ffde5f"/><path d="M2671 510l-2 16 20-54 -27 35z" fill="#ffd758"/><path d="M2348 446l7 11 -4-13 -10 13z" fill="#ffde5e"/><path d="M2083 404l14 32 -5-23 -9-2z" fill="#ffe162"/><path d="M2621 401l27-44 -23 32 -4-8z" fill="#ffe969"/><path d="M1913 375l11 7 4 11 -10-8z" fill="#ffe666"/><path d="M1915 606l13 10 -12-32 -6 6z" fill="#ffc94a"/><path d="M1912 396l1-21 5 10 -10-4z" fill="#ffe767"/><path d="M1843 387l0-19 2 0 1 23z" fill="#ffe869"/><path d="M2296 537l8-8 -6 14 -5-26z" fill="#ffd656"/><path d="M2230 358l8-24 -4 3 -8-24z" fill="#fff171"/><path d="M2079 434l4-23 -6-26 -9-4z" fill="#ffe868"/><path d="M2006 314l8 1 3 16 -9-5z" fill="#fff373"/><path d="M2553 262l38-93 -31 75 3-35z" fill="#ffff84"/><path d="M2662 543l48-68 -41 51 2-16z" fill="#ffde5e"/><path d="M1810 313l25 41 -3-11 -25-41z" fill="#fff474"/><path d="M2663 457l16-16 -7-5 1-16z" fill="#ffe869"/><path d="M1982 576l10 6 -4-14 -21-35z" fill="#ffd555"/><path d="M1910 391l17 24 -14-40 -1 21z" fill="#ffec6c"/><path d="M2570 232l-2 33 23-96 -38 93z" fill="#ffff85"/><path d="M2669 526l15-13 3-24 2-17z" fill="#ffe162"/><path d="M2252 517l8 1 -3-28 -7-31z" fill="#ffe061"/><path d="M2588 507l3 10 -5-10 -10 6z" fill="#ffe161"/><path d="M1924 382l12 11 -14-44 6 44z" fill="#fff171"/><path d="M1904 596l6-6 -1-7 -14-12z" fill="#ffd556"/><path d="M1859 457l17 19 4 4 -8 2z" fill="#ffe566"/><path d="M2710 475l-25 55 -1-17 -15 13z" fill="#ffe464"/><path d="M1826 372l24 34 -7-19 -8 0z" fill="#fff272"/><path d="M1967 533l21 35 -4-12 -11-9z" fill="#ffdc5d"/><path d="M1928 393l-6-44 10 28 -19-33z" fill="#fff676"/><path d="M2676 490l11-6 -1-16 1-17z" fill="#ffeb6b"/><path d="M1884 567l11 4 11 20 -24-33z" fill="#ffde5f"/><path d="M2013 342l9 2 -8-29 -8-1z" fill="#ffff81"/><path d="M1980 593l2-17 -15-43 -3 14z" fill="#ffe061"/><path d="M2684 513l8-1 14-42 -19 19z" fill="#ffee6f"/><path d="M2687 489l19-19 -19 14 -11 6z" fill="#fff172"/><path d="M1864 500l39 67 -29-67 -26-39z" fill="#ffec6c"/><path d="M2238 334l8-7 -3-17 -9 27z" fill="#ffff88"/><path d="M2666 447l-9 31 19-55 -43 68z" fill="#fff777"/><path d="M1832 389l21 29 -3-12 -24-34z" fill="#fffd7d"/><path d="M2246 327l8 22 -3-37 -8-2z" fill="#ffff8d"/><path d="M1964 547l3-14 6 14 -4 12z" fill="#fff171"/><path d="M1891 586l13 10 -9-25 -11-4z" fill="#ffec6d"/><path d="M2689 472l-2 17 -11 1 4-21z" fill="#ffff7f"/><path d="M2680 469l-4 21 11-39 -11 6z" fill="#ffff85"/><path d="M2672 459l39-56 -32 38 -16 16z" fill="#ffff89"/><path d="M1873 493l5-9 -2-8 -17-19z" fill="#ffff83"/><path d="M2236 496l10-46 -5 47 -8 7z" fill="#ffff88"/><path d="M2676 457l11-6 -15 8 5-23z" fill="#ffff93"/><path d="M1852 461l7-4 13 25 -23-34z" fill="#ffff90"/><path d="M2657 478l19-21 1-21 -1-13z" fill="#ffff9c"/><path d="M2246 450l6 67 -2-58 -9 38z" fill="#ffff99"/><path d="M2687 451l-1 17 25-65 -39 56z" fill="#ffffa0"/><path d="M1853 468l20 25 -14-36 -7 4z" fill="#ffff9f"/><path d="M1848 461l26 39 -1-7 -20-25z" fill="#ffffa4"/></g>
<rect x="1393.4" y="43.6" width="13.3" height="272.3" fill="url(#afm)" stroke="#000" stroke-width="1.2"/>
<line x1="1406.7" y1="264.5" x2="1412.7" y2="264.5" stroke="#000" stroke-width="1.4"/>
<text x="1422.2" y="273.1" text-anchor="start" font-size="24.439999999999998" textLength="14.9" lengthAdjust="spacingAndGlyphs">2</text>
<line x1="1406.7" y1="209.3" x2="1412.7" y2="209.3" stroke="#000" stroke-width="1.4"/>
<text x="1422.2" y="217.9" text-anchor="start" font-size="24.439999999999998" textLength="14.9" lengthAdjust="spacingAndGlyphs">4</text>
<line x1="1406.7" y1="154.1" x2="1412.7" y2="154.1" stroke="#000" stroke-width="1.4"/>
<text x="1422.2" y="162.7" text-anchor="start" font-size="24.439999999999998" textLength="14.9" lengthAdjust="spacingAndGlyphs">6</text>
<line x1="1406.7" y1="98.8" x2="1412.7" y2="98.8" stroke="#000" stroke-width="1.4"/>
<text x="1422.2" y="107.4" text-anchor="start" font-size="24.439999999999998" textLength="14.9" lengthAdjust="spacingAndGlyphs">8</text>
<line x1="1406.7" y1="43.6" x2="1412.7" y2="43.6" stroke="#000" stroke-width="1.4"/>
<text x="1422.2" y="52.2" text-anchor="start" font-size="24.439999999999998" textLength="29.9" lengthAdjust="spacingAndGlyphs">10</text>
<text x="1479.2" y="253.9" font-size="24.4" textLength="100.0" lengthAdjust="spacingAndGlyphs" transform="rotate(-90 1479.2 253.9)">Energy [</text>
<text x="1479.2" y="155.2" font-size="24.4" textLength="13.0" lengthAdjust="spacingAndGlyphs" transform="rotate(-90 1479.2 155.2)" font-style="italic">k</text>
<text x="1480.9" y="140.6" font-size="15.5" textLength="11.5" lengthAdjust="spacingAndGlyphs" transform="rotate(-90 1480.9 140.6)" font-style="italic">B</text>
<text x="1479.2" y="127.4" font-size="24.4" textLength="15.0" lengthAdjust="spacingAndGlyphs" transform="rotate(-90 1479.2 127.4)" font-style="italic">T</text>
<text x="1479.2" y="115.6" font-size="24.4" textLength="8.2" lengthAdjust="spacingAndGlyphs" transform="rotate(-90 1479.2 115.6)">]</text>
</svg>
</body></html>
